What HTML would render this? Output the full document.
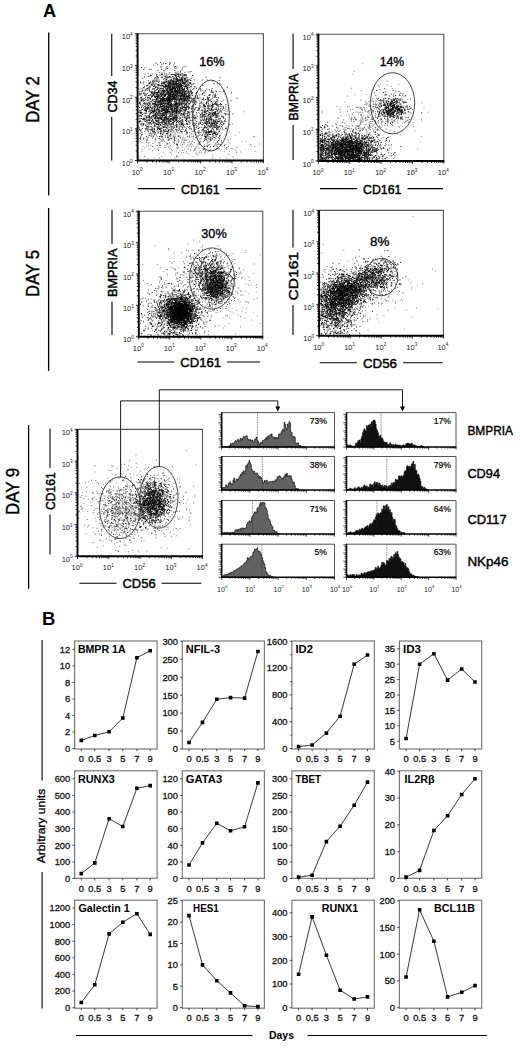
<!DOCTYPE html>
<html><head><meta charset="utf-8"><style>
html,body{margin:0;padding:0;background:#fff;}
svg{display:block;font-family:"Liberation Sans", sans-serif;}
</style></head><body>
<svg width="520" height="1051" viewBox="0 0 520 1051">
<defs><filter id="b35" x="-5%" y="-5%" width="110%" height="110%"><feGaussianBlur stdDeviation="0.35"/></filter><filter id="b50" x="-5%" y="-5%" width="110%" height="110%"><feGaussianBlur stdDeviation="0.5"/></filter></defs>
<rect width="520" height="1051" fill="#fff"/>
<text x="43" y="17.3" font-size="18.2" font-weight="bold">A</text>
<path d="M48.7 32.5L48.7 195.5" stroke="#000" stroke-width="1.3"/>
<text transform="translate(38.9 99.5) rotate(-90)" font-size="17.5" text-anchor="middle" textLength="46.5" lengthAdjust="spacingAndGlyphs" stroke="#000" stroke-width="0.4">DAY 2</text>
<path d="M48.6 208L48.6 371" stroke="#000" stroke-width="1.3"/>
<text transform="translate(39.35 273.4) rotate(-90)" font-size="17.5" text-anchor="middle" textLength="47" lengthAdjust="spacingAndGlyphs" stroke="#000" stroke-width="0.4">DAY 5</text>
<path d="M28.6 425L28.6 588.7" stroke="#000" stroke-width="1.3"/>
<text transform="translate(19.2 491.4) rotate(-90)" font-size="17.5" text-anchor="middle" textLength="47.3" lengthAdjust="spacingAndGlyphs" stroke="#000" stroke-width="0.4">DAY 9</text>
<g filter="url(#b35)">
<path transform="scale(.25)" d="M684 385h4M702 367h4M684 412h4M625 325h4M705 340h4M688 433h4M653 387h4M693 379h4M685 422h4M683 371h4M673 366h4M692 378h4M645 438h4M666 407h4M655 337h4M694 387h4M673 440h4M661 509h4M644 340h4M663 423h4M672 390h4M662 450h4M719 429h4M708 486h4M574 433h4M604 373h4M666 374h4M657 427h4M680 426h4M680 538h4M748 498h4M632 338h4M658 424h4M746 329h4M695 311h4M696 446h4M653 435h4M613 346h4M678 496h4M676 349h4M628 339h4M647 441h4M669 416h4M638 395h4M668 400h4M675 417h4M673 396h4M654 394h4M693 298h4M704 329h4M684 438h4M643 365h4M698 435h4M654 473h4M704 384h4M633 420h4M705 520h4M671 443h4M627 507h4M661 490h4M674 446h4M682 398h4M637 357h4M632 342h4M679 431h4M655 430h4M680 394h4M699 452h4M613 370h4M681 466h4M716 406h4M661 402h4M643 404h4M699 398h4M681 543h4M704 314h4M660 414h4M619 474h4M668 444h4M656 387h4M700 501h4M679 344h4M613 331h4M629 436h4M704 323h4M696 271h4M649 453h4M672 447h4M688 445h4M689 377h4M704 414h4M681 350h4M669 501h4M663 448h4M710 446h4M591 295h4M667 449h4M673 488h4M621 472h4M684 448h4M649 404h4M703 385h4M667 438h4M696 425h4M716 417h4M686 387h4M640 498h4M617 339h4M735 403h4M668 372h4M647 462h4M677 484h4M665 474h4M703 446h4M673 325h4M672 521h4M646 433h4M689 398h4M635 405h4M696 385h4M727 428h4M617 421h4M583 384h4M694 260h4M764 402h4M636 431h4M627 433h4M693 395h4M642 429h4M654 462h4M659 378h4M691 486h4M657 295h4M682 333h4M666 353h4M642 267h4M660 348h4M638 474h4M672 474h4M632 409h4M633 500h4M724 417h4M670 376h4M670 418h4M690 396h4M657 445h4M664 320h4M687 460h4M682 378h4M630 452h4M702 318h4M651 381h4M634 408h4M640 454h4M658 336h4M731 497h4M630 431h4M678 375h4M595 472h4M672 410h4M704 469h4M663 534h4M649 447h4M680 375h4M697 380h4M696 437h4M743 420h4M680 357h4M651 367h4M667 441h4M669 535h4M676 257h4M671 445h4M678 392h4M612 448h4M702 453h4M651 407h4M630 347h4M695 326h4M719 299h4M690 472h4M678 392h4M638 374h4M775 388h4M704 329h4M631 421h4M644 478h4M675 468h4M616 316h4M678 480h4M655 361h4M716 297h4M707 335h4M574 350h4M674 404h4M614 346h4M712 319h4M678 389h4M692 512h4M634 365h4M738 430h4M745 408h4M634 553h4M685 298h4M648 465h4M671 332h4M626 371h4M739 399h4M637 582h4M661 361h4M690 298h4M649 477h4M663 357h4M652 390h4M667 403h4M630 409h4M656 394h4M665 419h4M660 426h4M674 452h4M661 380h4M699 362h4M660 344h4M667 437h4M648 401h4M653 435h4M626 434h4M691 498h4M631 416h4M645 446h4M685 337h4M686 344h4M658 387h4M599 336h4M687 443h4M681 329h4M621 408h4M700 266h4M647 342h4M631 385h4M675 389h4M666 304h4M679 410h4M614 459h4M737 440h4M650 367h4M617 371h4M694 338h4M659 439h4M684 485h4M660 375h4M670 309h4M681 415h4M645 444h4M696 252h4M655 412h4M641 525h4M675 450h4M688 435h4M664 427h4M641 463h4M694 351h4M609 357h4M635 427h4M673 366h4M623 418h4M673 297h4M670 446h4M704 451h4M639 406h4M649 413h4M684 495h4M584 343h4M784 353h4M647 343h4M646 380h4M703 347h4M671 406h4M608 368h4M695 323h4M703 317h4M656 472h4M662 400h4M689 391h4M639 405h4M688 399h4M679 446h4M648 435h4M622 371h4M664 358h4M640 343h4M708 334h4M677 483h4M700 353h4M677 291h4M681 357h4M644 360h4M696 422h4M736 354h4M661 434h4M651 426h4M666 475h4M655 525h4M647 564h4M677 480h4M662 339h4M724 381h4M672 418h4M684 520h4M706 442h4M661 471h4M724 394h4M649 437h4M643 444h4M659 378h4M668 448h4M622 464h4M671 395h4M612 461h4M722 496h4M669 408h4M649 404h4M639 387h4M658 369h4M664 413h4M634 381h4M639 387h4M665 361h4M653 318h4M706 352h4M713 422h4M673 338h4M689 368h4M624 496h4M695 467h4M671 365h4M689 438h4M730 368h4M590 495h4M681 371h4M632 409h4M693 482h4M625 358h4M654 477h4M679 358h4M694 417h4M675 387h4M643 399h4M652 413h4M704 400h4M672 347h4M611 453h4M702 444h4M687 476h4M703 482h4M660 329h4M702 476h4M634 477h4M693 374h4M654 462h4M696 486h4M708 374h4M646 327h4M670 384h4M673 560h4M715 417h4M698 336h4M628 390h4M688 348h4M699 382h4M748 409h4M612 261h4M653 424h4M720 483h4M623 393h4M629 383h4M691 465h4M709 333h4M648 334h4M691 326h4M676 395h4M727 426h4M672 399h4M708 435h4M639 451h4M665 432h4M669 359h4M713 389h4M693 474h4M645 345h4M697 390h4M700 381h4M668 394h4M663 344h4M665 328h4M611 547h4M679 457h4M680 364h4M641 401h4M699 442h4M623 385h4M652 439h4M655 370h4M744 384h4M614 399h4M692 378h4M706 267h4M686 405h4M715 419h4M636 431h4M590 348h4M700 423h4M629 416h4M660 305h4M630 281h4M710 431h4M703 351h4M646 460h4M705 524h4M676 371h4M667 365h4M674 403h4M665 442h4M694 340h4M683 474h4M659 460h4M708 441h4M650 374h4M682 455h4M687 452h4M725 337h4M654 521h4M735 387h4M678 425h4M665 375h4M648 426h4M693 469h4M674 359h4M632 311h4M631 379h4M652 331h4M648 362h4M711 397h4M722 400h4M703 476h4M685 347h4M657 424h4M674 376h4M704 480h4M749 546h4M705 421h4M662 498h4M673 374h4M655 314h4M644 333h4M665 316h4M679 351h4M738 391h4M674 468h4M721 443h4M736 430h4M675 380h4M730 364h4M698 406h4M657 412h4M682 418h4M673 425h4M664 397h4M665 296h4M677 342h4M688 358h4M640 499h4M672 380h4M617 442h4M681 486h4M694 423h4M678 382h4M682 388h4M693 347h4M648 421h4M663 467h4M690 436h4M708 447h4M686 444h4M764 516h4M669 369h4M708 413h4M718 444h4M667 474h4M642 268h4M629 375h4M678 392h4M712 346h4M682 451h4M678 416h4M658 382h4M692 312h4M595 330h4M680 349h4M673 429h4M623 336h4M750 288h4M622 323h4M633 371h4M629 498h4M712 544h4M640 377h4M696 457h4M693 482h4M681 476h4M625 397h4M650 331h4M732 377h4M626 300h4M642 417h4M666 448h4M701 298h4M681 401h4M699 420h4M634 474h4M706 481h4M692 449h4M615 366h4M727 383h4M755 471h4M644 370h4M674 402h4M722 491h4M619 411h4M600 327h4M625 387h4M652 440h4M651 393h4M694 469h4M682 476h4M627 368h4M692 376h4M739 398h4M715 337h4M708 425h4M673 394h4M707 448h4M637 370h4M699 355h4M669 507h4M713 355h4M689 371h4M633 363h4M677 387h4M716 353h4M631 401h4M652 365h4M644 381h4M618 424h4M707 443h4M719 430h4M701 363h4M681 426h4M670 397h4M681 398h4M646 308h4M704 442h4M710 396h4M706 500h4M653 440h4M675 341h4M666 327h4M736 468h4M678 355h4M604 442h4M686 387h4M740 522h4M697 408h4M704 489h4M673 479h4M601 378h4M607 386h4M627 487h4M667 404h4M683 356h4M697 472h4M660 549h4M706 403h4M662 483h4M647 396h4M703 481h4M639 392h4M574 480h4M634 436h4M675 396h4M561 419h4M659 376h4M660 343h4M621 347h4M619 404h4M655 348h4M652 432h4M717 437h4M685 434h4M615 380h4M641 411h4M697 406h4M740 482h4M686 362h4M683 386h4M739 395h4M671 400h4M661 366h4M621 373h4M654 465h4M750 372h4M621 459h4M672 522h4M621 480h4M677 307h4M704 451h4M663 435h4M698 438h4M698 317h4M688 450h4M734 347h4M700 480h4M661 468h4M647 551h4M642 386h4M689 322h4M660 466h4M770 457h4M738 386h4M664 484h4M660 446h4M733 335h4M604 388h4M656 383h4M706 401h4M639 418h4M655 368h4M659 396h4M696 440h4M677 403h4M686 392h4M693 390h4M673 402h4M712 300h4M646 416h4M620 350h4M608 413h4M614 325h4M652 459h4M709 421h4M678 332h4M650 421h4M633 365h4M653 508h4M657 435h4M652 363h4M620 420h4M655 406h4M709 475h4M594 428h4M663 436h4M596 345h4M679 452h4M645 525h4M597 443h4M676 406h4M737 417h4M676 354h4M714 418h4M669 346h4M594 410h4M690 386h4M657 361h4M619 440h4M700 324h4M682 406h4M653 334h4M703 510h4M641 518h4M695 455h4M638 514h4M691 441h4M632 438h4M726 384h4M681 358h4M724 415h4M642 378h4M655 383h4M702 449h4M573 401h4M634 320h4M709 396h4M689 365h4M707 391h4M661 346h4M692 475h4M646 514h4M623 345h4M611 444h4M652 441h4M652 347h4M649 413h4M566 487h4M600 455h4M653 498h4M682 342h4M651 366h4M640 424h4M589 427h4M745 409h4M632 386h4M733 384h4M728 373h4M682 432h4M651 253h4M677 497h4M630 377h4M681 327h4M672 437h4M691 328h4M706 428h4M734 384h4M658 440h4M710 451h4M643 479h4M640 379h4M650 390h4M637 406h4M707 327h4M705 439h4M718 413h4M671 331h4M682 474h4M651 483h4M631 332h4M688 438h4M682 476h4M632 453h4M693 351h4M609 328h4M666 399h4M649 378h4M653 405h4M633 400h4M706 435h4M692 374h4M715 397h4M677 572h4M625 398h4M658 447h4M629 422h4M688 418h4M715 354h4M683 435h4M650 403h4M658 451h4M679 520h4M619 416h4M677 448h4M679 348h4M652 412h4M656 492h4M678 402h4M642 370h4M642 417h4M699 395h4M679 392h4M732 384h4M636 517h4M607 356h4M705 382h4M706 373h4M645 475h4M618 390h4M669 478h4M608 415h4M659 404h4M592 323h4M662 473h4M595 435h4M662 428h4M725 399h4M661 382h4M698 334h4M648 458h4M639 420h4M617 385h4M708 370h4M669 412h4M729 400h4M628 497h4M662 449h4M673 372h4M721 343h4M736 392h4M647 354h4M630 409h4M608 428h4M718 441h4M667 429h4M647 395h4M668 439h4M578 356h4M608 401h4M704 451h4M684 422h4M676 334h4M634 341h4M691 315h4M734 507h4M626 319h4M671 398h4M654 509h4M683 466h4M671 480h4M665 378h4M638 447h4M669 576h4M648 404h4M665 429h4M668 388h4M694 405h4M649 427h4M658 484h4M709 356h4M662 326h4M661 407h4M701 417h4M680 485h4M673 446h4M678 371h4M625 438h4M687 469h4M718 422h4M691 387h4M614 444h4M680 386h4M638 301h4M662 481h4M675 334h4M627 387h4M719 388h4M668 387h4M699 390h4M693 325h4M719 435h4M713 407h4M618 408h4M672 466h4M594 467h4M655 481h4M696 509h4M704 431h4M717 319h4M657 417h4M682 406h4M674 409h4M716 372h4M728 356h4M658 450h4M807 460h4M671 343h4M658 436h4M692 396h4M698 384h4M691 444h4M648 403h4M724 374h4M673 409h4M726 294h4M721 372h4M625 381h4M636 327h4M635 415h4M680 420h4M673 371h4M681 396h4M642 443h4M687 464h4M722 362h4M623 424h4M664 463h4M680 403h4M667 361h4M664 362h4M735 386h4M718 347h4M702 517h4M644 372h4M752 425h4M684 415h4M651 440h4M659 383h4M654 331h4M748 496h4M679 400h4M674 411h4M594 415h4M698 475h4M633 447h4M631 470h4M694 450h4M640 413h4M702 418h4M712 362h4M607 296h4M667 391h4M615 344h4M669 549h4M704 491h4M622 470h4M736 373h4M660 519h4M629 309h4M667 336h4M700 360h4M622 350h4M671 412h4M622 415h4M715 511h4M677 460h4M656 472h4M709 428h4M625 396h4M657 366h4M738 320h4M667 355h4M720 383h4M678 447h4M646 310h4M662 328h4M674 416h4M657 345h4M642 423h4M643 381h4M618 362h4M675 329h4M685 399h4M698 363h4M606 370h4M700 368h4M671 415h4M620 412h4M675 308h4M701 395h4M690 426h4M697 462h4M705 448h4M703 416h4M670 340h4M596 361h4M644 455h4M684 365h4M654 461h4M696 475h4M700 345h4M673 429h4M739 398h4M636 518h4M705 451h4M654 375h4M643 427h4M692 353h4M649 396h4M702 415h4M629 412h4M673 421h4M641 353h4M663 300h4M658 384h4M631 354h4M695 365h4M626 524h4M636 469h4M703 394h4M706 324h4M695 331h4M684 424h4M753 464h4M628 388h4M645 412h4M636 418h4M704 464h4M682 299h4M711 413h4M706 427h4M663 457h4M642 426h4M636 342h4M751 371h4M706 319h4M693 415h4M659 415h4M664 433h4M659 350h4M660 340h4M585 489h4M669 414h4M658 502h4M682 429h4M679 322h4M702 449h4M671 473h4M700 379h4M579 296h4M632 441h4M734 396h4M628 420h4M661 254h4M697 430h4M640 250h4M698 355h4M620 454h4M603 302h4M624 300h4M612 379h4M671 496h4M660 494h4M683 370h4M634 460h4M763 436h4M668 419h4M670 424h4M688 363h4M663 449h4M649 463h4M675 555h4M705 455h4M695 267h4M705 336h4M651 422h4M644 408h4M744 300h4M663 396h4M689 384h4M698 401h4M723 397h4M623 455h4M654 486h4M656 442h4M661 342h4M585 355h4M668 367h4M567 401h4M682 380h4M691 384h4M693 352h4M628 457h4M706 451h4M641 457h4M627 399h4M636 429h4M641 353h4M678 347h4M701 373h4M596 437h4M652 395h4M704 340h4M679 409h4M690 428h4M618 413h4M706 367h4M616 407h4M679 380h4M721 386h4M740 399h4M690 446h4M704 506h4M650 491h4M655 439h4M714 382h4M672 387h4M667 389h4M621 468h4M677 249h4M695 418h4M643 292h4M654 404h4M729 478h4M678 353h4M662 276h4M631 477h4M650 488h4M663 432h4M721 474h4M650 359h4M737 470h4M639 499h4M659 440h4M702 420h4M663 476h4M642 467h4M667 362h4M688 480h4M610 446h4M663 413h4M668 477h4M657 456h4M698 446h4M652 376h4M659 451h4M673 342h4M698 397h4M664 309h4M727 309h4M639 429h4M718 399h4M641 409h4M666 437h4M685 424h4M746 354h4M704 408h4M657 400h4M719 375h4M664 397h4M644 384h4M688 368h4M675 385h4M706 417h4M652 520h4M686 358h4M695 433h4M682 322h4M671 493h4M647 385h4M705 412h4M677 476h4M690 459h4M659 320h4M672 435h4M635 391h4M675 439h4M700 413h4M675 445h4M703 420h4M683 396h4M721 470h4M665 318h4M613 380h4M688 350h4M666 396h4M637 380h4M695 396h4M682 377h4M688 378h4M660 312h4M679 402h4M681 421h4M736 371h4M647 367h4M672 368h4M685 498h4M610 415h4M614 426h4M750 387h4M608 376h4M693 355h4M641 490h4M645 309h4M601 421h4M640 403h4M700 390h4M622 316h4M693 335h4M683 459h4M745 365h4M655 453h4M717 442h4M704 436h4M662 447h4M612 336h4M726 377h4M623 442h4M655 333h4M704 497h4M712 373h4M642 400h4M671 347h4M663 424h4M715 363h4M762 390h4M606 340h4M705 471h4M569 313h4M673 429h4M632 417h4M744 429h4M678 347h4M645 462h4M654 458h4M651 413h4M679 422h4M666 395h4M696 440h4M727 358h4M697 435h4M628 427h4M614 325h4M645 257h4M710 397h4M703 343h4M742 325h4M710 342h4M694 320h4M670 396h4M706 372h4M692 337h4M677 400h4M705 390h4M738 365h4M711 333h4M679 358h4M717 368h4M677 394h4M664 344h4M722 332h4M693 422h4M739 394h4M717 360h4M685 321h4M714 365h4M744 385h4M703 374h4M678 376h4M689 351h4M685 386h4M675 331h4M672 336h4M720 334h4M739 329h4M698 411h4M730 296h4M733 357h4M755 318h4M703 310h4M698 353h4M720 300h4M711 347h4M716 422h4M744 346h4M696 364h4M714 322h4M681 365h4M704 302h4M689 355h4M687 345h4M702 418h4M695 346h4M718 337h4M731 331h4M666 311h4M736 373h4M646 395h4M715 337h4M728 371h4M690 337h4M702 361h4M686 363h4M733 303h4M619 324h4M681 378h4M654 288h4M713 349h4M744 338h4M741 319h4M727 350h4M715 358h4M687 366h4M742 265h4M725 402h4M684 333h4M672 382h4M690 344h4M738 330h4M743 346h4M753 449h4M686 398h4M698 337h4M747 356h4M714 384h4M729 367h4M671 351h4M698 342h4M708 314h4M698 372h4M696 383h4M662 419h4M754 331h4M712 369h4M667 347h4M738 388h4M710 345h4M728 327h4M703 294h4M686 371h4M687 353h4M718 384h4M730 331h4M722 431h4M727 325h4M742 365h4M717 361h4M737 383h4M740 343h4M717 319h4M707 317h4M697 374h4M675 351h4M665 359h4M746 322h4M709 353h4M694 355h4M753 368h4M736 301h4M711 323h4M737 403h4M704 335h4M719 345h4M760 335h4M739 300h4M702 314h4M729 360h4M743 326h4M706 413h4M698 300h4M762 286h4M701 335h4M673 309h4M714 392h4M774 334h4M728 365h4M737 303h4M650 369h4M695 368h4M745 387h4M700 355h4M748 364h4M725 353h4M723 377h4M759 335h4M697 365h4M699 330h4M715 370h4M718 339h4M664 327h4M746 326h4M718 395h4M707 298h4M729 300h4M701 368h4M746 316h4M714 333h4M732 332h4M687 421h4M704 326h4M722 325h4M685 335h4M693 355h4M710 364h4M743 301h4M733 362h4M737 410h4M720 291h4M737 366h4M755 372h4M716 353h4M724 342h4M728 272h4M655 386h4M709 337h4M723 341h4M733 387h4M702 273h4M739 346h4M693 367h4M706 371h4M758 367h4M673 413h4M709 357h4M707 380h4M709 373h4M696 300h4M729 323h4M681 415h4M674 339h4M724 346h4M677 306h4M721 337h4M711 306h4M691 328h4M701 366h4M708 321h4M723 328h4M693 391h4M704 363h4M670 364h4M702 380h4M656 330h4M709 335h4M697 282h4M768 371h4M746 341h4M706 348h4M736 313h4M718 368h4M677 368h4M642 354h4M740 297h4M720 321h4M655 347h4M727 321h4M735 360h4M690 380h4M731 324h4M661 342h4M703 326h4M710 381h4M731 377h4M720 433h4M715 348h4M724 318h4M691 361h4M750 341h4M699 354h4M731 388h4M709 339h4M702 371h4M725 280h4M721 382h4M746 352h4M739 340h4M693 332h4M723 393h4M712 332h4M686 389h4M678 332h4M716 350h4M694 360h4M670 413h4M706 356h4M715 356h4M711 346h4M675 339h4M692 329h4M747 406h4M687 395h4M699 326h4M773 354h4M718 311h4M695 379h4M654 370h4M717 352h4M670 323h4M708 373h4M684 368h4M662 343h4M755 372h4M705 305h4M734 329h4M729 318h4M688 352h4M711 402h4M698 350h4M735 385h4M720 347h4M698 335h4M755 381h4M723 366h4M721 394h4M686 380h4M720 322h4M667 267h4M721 353h4M682 311h4M713 303h4M700 301h4M714 328h4M718 342h4M706 348h4M706 414h4M666 309h4M655 348h4M743 308h4M724 316h4M667 350h4M761 362h4M688 307h4M722 385h4M720 318h4M711 379h4M725 346h4M670 377h4M707 366h4M701 339h4M710 363h4M700 305h4M690 307h4M688 337h4M733 392h4M684 324h4M718 329h4M718 401h4M705 349h4M720 348h4M723 314h4M693 350h4M717 367h4M761 346h4M678 373h4M700 359h4M687 382h4M764 375h4M669 344h4M708 376h4M734 406h4M684 358h4M704 309h4M688 354h4M670 342h4M706 431h4M722 372h4M697 313h4M713 342h4M727 395h4M741 311h4M673 332h4M725 348h4M691 343h4M655 329h4M686 352h4M726 303h4M717 329h4M677 329h4M753 338h4M719 338h4M706 348h4M693 336h4M720 334h4M697 359h4M740 376h4M717 378h4M725 311h4M699 355h4M667 371h4M723 339h4M680 362h4M705 340h4M708 359h4M686 299h4M733 362h4M668 332h4M750 324h4M692 338h4M735 379h4M744 377h4M684 355h4M687 375h4M734 334h4M713 307h4M710 288h4M657 346h4M662 343h4M723 348h4M748 349h4M688 386h4M684 318h4M714 322h4M721 408h4M724 372h4M696 337h4M654 282h4M749 320h4M694 336h4M743 344h4M653 353h4M718 340h4M694 384h4M678 309h4M735 338h4M744 325h4M692 372h4M726 353h4M678 372h4M691 349h4M701 467h4M698 370h4M726 323h4M674 347h4M735 334h4M735 371h4M702 378h4M675 359h4M642 341h4M706 326h4M688 398h4M711 383h4M679 253h4M708 349h4M706 320h4M708 335h4M716 402h4M716 311h4M735 314h4M686 426h4M728 332h4M712 340h4M696 384h4M680 331h4M748 349h4M715 356h4M694 393h4M710 296h4M708 321h4M694 344h4M670 377h4M712 327h4M704 363h4M700 332h4M735 335h4M672 389h4M682 340h4M713 443h4M731 359h4M725 384h4M728 372h4M647 298h4M722 299h4M720 364h4M727 313h4M689 330h4M722 337h4M736 319h4M753 386h4M715 373h4M671 354h4M710 366h4M726 319h4M722 376h4M761 321h4M703 398h4M680 327h4M691 330h4M726 385h4M686 369h4M679 317h4M685 367h4M742 348h4M715 349h4M699 368h4M732 368h4M727 381h4M681 364h4M731 359h4M715 345h4M651 396h4M675 323h4M716 409h4M722 418h4M700 418h4M681 344h4M715 416h4M658 385h4M724 383h4M704 454h4M708 355h4M690 367h4M731 308h4M644 277h4M684 358h4M724 362h4M689 371h4M749 358h4M720 285h4M687 360h4M739 384h4M706 399h4M725 318h4M692 320h4M692 326h4M729 328h4M712 296h4M688 326h4M685 399h4M727 314h4M758 288h4M686 339h4M728 332h4M629 370h4M671 324h4M728 342h4M753 321h4M711 317h4M724 360h4M716 352h4M737 346h4M679 365h4M727 321h4M697 349h4M700 354h4M709 386h4M698 419h4M735 316h4M755 417h4M730 400h4M746 393h4M760 384h4M755 455h4M702 481h4M715 384h4M676 398h4M760 330h4M749 386h4M776 439h4M745 401h4M716 423h4M770 401h4M712 411h4M744 438h4M739 443h4M763 313h4M766 396h4M734 267h4M726 407h4M743 381h4M730 379h4M767 482h4M753 424h4M777 462h4M807 437h4M723 488h4M729 396h4M755 395h4M754 403h4M736 525h4M703 387h4M805 409h4M746 474h4M716 452h4M686 384h4M778 492h4M752 431h4M744 477h4M719 437h4M741 445h4M734 372h4M684 476h4M808 374h4M754 412h4M736 460h4M720 392h4M729 414h4M802 408h4M753 416h4M712 436h4M765 336h4M756 383h4M757 507h4M741 314h4M740 377h4M749 446h4M739 320h4M710 367h4M720 369h4M744 483h4M705 366h4M740 438h4M736 378h4M761 409h4M748 354h4M737 337h4M737 386h4M754 342h4M766 400h4M718 414h4M707 428h4M726 481h4M688 476h4M725 355h4M764 372h4M767 489h4M781 405h4M745 389h4M748 459h4M729 378h4M731 453h4M751 393h4M766 470h4M754 401h4M695 447h4M756 459h4M744 486h4M729 370h4M747 390h4M765 340h4M747 325h4M726 384h4M825 416h4M728 468h4M755 388h4M774 500h4M723 417h4M757 450h4M723 396h4M737 348h4M725 484h4M786 394h4M710 461h4M756 390h4M744 436h4M696 400h4M786 391h4M730 401h4M737 441h4M749 350h4M722 361h4M725 455h4M743 372h4M722 416h4M746 343h4M774 397h4M719 460h4M705 412h4M740 418h4M753 389h4M760 412h4M717 322h4M686 329h4M765 427h4M761 322h4M780 470h4M720 448h4M757 349h4M768 302h4M699 291h4M769 422h4M778 402h4M757 472h4M756 430h4M761 482h4M737 449h4M709 361h4M721 398h4M739 366h4M723 392h4M768 382h4M734 396h4M741 472h4M701 380h4M753 349h4M726 376h4M780 384h4M702 379h4M751 399h4M734 386h4M735 460h4M784 451h4M767 370h4M723 454h4M777 474h4M728 407h4M763 367h4M702 428h4M736 403h4M736 423h4M736 356h4M705 508h4M698 398h4M743 433h4M758 379h4M744 415h4M735 298h4M707 345h4M737 289h4M730 455h4M726 341h4M748 333h4M748 462h4M753 385h4M737 400h4M723 460h4M739 432h4M736 423h4M704 440h4M735 315h4M704 471h4M696 472h4M724 497h4M728 308h4M760 368h4M736 382h4M756 491h4M778 436h4M746 494h4M753 431h4M727 378h4M763 347h4M745 382h4M745 476h4M716 368h4M721 324h4M727 423h4M746 475h4M770 526h4M707 469h4M735 456h4M736 323h4M798 391h4M739 391h4M730 416h4M761 365h4M717 447h4M756 469h4M703 414h4M792 395h4M742 418h4M733 427h4M712 447h4M740 368h4M745 478h4M726 411h4M772 400h4M735 442h4M746 375h4M750 451h4M776 512h4M734 430h4M745 419h4M750 386h4M758 480h4M699 463h4M771 336h4M741 455h4M726 376h4M743 352h4M697 405h4M725 376h4M748 464h4M776 347h4M742 346h4M753 362h4M736 401h4M764 436h4M734 355h4M755 373h4M736 332h4M720 398h4M720 359h4M728 512h4M771 500h4M820 363h4M739 414h4M726 428h4M756 381h4M755 389h4M731 438h4M790 394h4M765 393h4M766 406h4M745 467h4M747 395h4M767 426h4M710 419h4M725 442h4M746 398h4M709 384h4M783 374h4M729 419h4M734 414h4M752 395h4M780 418h4M743 521h4M726 445h4M722 319h4M750 470h4M730 414h4M801 359h4M774 472h4M668 404h4M722 456h4M752 378h4M800 458h4M696 394h4M733 454h4M773 447h4M727 352h4M746 425h4M732 430h4M760 405h4M718 322h4M745 421h4M709 392h4M767 465h4M759 356h4M743 455h4M745 414h4M745 530h4M735 359h4M748 453h4M753 382h4M742 362h4M730 459h4M734 437h4M733 458h4M755 330h4M748 350h4M791 436h4M740 367h4M746 471h4M729 488h4M746 402h4M733 409h4M723 409h4M748 394h4M782 406h4M723 397h4M728 429h4M743 392h4M750 383h4M775 394h4M728 379h4M741 404h4M725 434h4M723 507h4M732 330h4M717 342h4M754 405h4M769 410h4M731 406h4M727 498h4M775 320h4M738 401h4M779 347h4M674 393h4M739 433h4M719 339h4M731 457h4M763 367h4M769 358h4M739 329h4M766 374h4M716 372h4M750 448h4M740 333h4M703 418h4M765 448h4M727 396h4M754 445h4M725 375h4M748 428h4M758 392h4M743 512h4M732 394h4M758 394h4M749 427h4M733 383h4M745 399h4M742 424h4M735 450h4M765 379h4M785 411h4M731 400h4M741 441h4M721 447h4M712 427h4M771 421h4M728 494h4M752 366h4M711 487h4M728 434h4M755 334h4M755 414h4M749 340h4M753 402h4M749 311h4M768 443h4M784 370h4M757 487h4M741 373h4M719 411h4M732 343h4M736 402h4M778 410h4M706 432h4M724 527h4M719 487h4M764 446h4M727 393h4M699 395h4M694 394h4M751 368h4M704 441h4M770 406h4M769 434h4M716 397h4M735 427h4M744 494h4M707 426h4M714 454h4M728 369h4M742 403h4M604 468h4M646 472h4M636 411h4M590 462h4M639 404h4M629 371h4M621 417h4M680 437h4M581 519h4M676 392h4M657 510h4M632 328h4M645 416h4M585 563h4M658 402h4M556 368h4M570 361h4M650 557h4M571 498h4M721 390h4M641 396h4M668 274h4M671 413h4M606 517h4M626 307h4M648 489h4M625 462h4M701 519h4M675 392h4M636 441h4M686 507h4M629 455h4M663 469h4M633 407h4M613 415h4M580 391h4M591 433h4M628 428h4M645 411h4M605 341h4M652 422h4M617 497h4M571 373h4M575 395h4M705 424h4M557 485h4M608 527h4M663 443h4M656 379h4M672 409h4M751 436h4M563 373h4M620 492h4M641 402h4M596 334h4M649 424h4M589 360h4M596 459h4M584 507h4M621 460h4M646 418h4M670 377h4M618 398h4M572 555h4M600 491h4M598 366h4M604 371h4M651 450h4M616 434h4M627 435h4M625 466h4M618 364h4M600 381h4M658 490h4M618 449h4M617 415h4M568 424h4M588 469h4M593 448h4M649 390h4M657 478h4M628 357h4M587 553h4M581 361h4M646 393h4M632 496h4M588 435h4M577 271h4M618 423h4M591 305h4M643 400h4M596 482h4M608 478h4M681 438h4M610 446h4M597 468h4M623 407h4M559 408h4M620 460h4M593 504h4M665 454h4M653 481h4M631 474h4M595 534h4M611 467h4M593 403h4M661 408h4M557 374h4M633 445h4M621 389h4M566 353h4M650 470h4M604 520h4M710 335h4M676 489h4M617 444h4M602 370h4M587 390h4M585 420h4M635 569h4M667 526h4M654 395h4M614 495h4M656 480h4M730 391h4M634 396h4M703 461h4M606 336h4M591 430h4M668 353h4M666 457h4M620 473h4M597 455h4M624 420h4M625 399h4M680 380h4M660 395h4M630 406h4M609 400h4M575 442h4M630 390h4M666 471h4M620 386h4M561 331h4M647 376h4M577 410h4M598 418h4M563 443h4M584 546h4M628 352h4M616 527h4M634 441h4M585 412h4M647 296h4M557 414h4M592 470h4M605 339h4M593 352h4M610 441h4M647 433h4M682 526h4M563 401h4M608 479h4M707 417h4M682 496h4M642 413h4M678 462h4M661 354h4M589 374h4M654 397h4M676 362h4M658 402h4M616 518h4M601 416h4M734 445h4M633 525h4M646 432h4M653 401h4M632 498h4M579 486h4M682 554h4M620 556h4M651 342h4M642 478h4M586 559h4M634 451h4M686 442h4M567 363h4M570 501h4M576 372h4M656 443h4M598 413h4M634 461h4M675 407h4M566 407h4M691 495h4M621 431h4M612 488h4M693 393h4M642 522h4M557 465h4M617 507h4M583 480h4M633 338h4M597 278h4M604 497h4M666 404h4M558 408h4M633 382h4M609 399h4M635 451h4M555 486h4M574 415h4M600 301h4M699 468h4M560 450h4M566 395h4M611 354h4M635 352h4M590 507h4M624 395h4M701 417h4M604 485h4M626 376h4M750 356h4M593 420h4M560 328h4M572 351h4M700 460h4M611 526h4M582 443h4M618 333h4M618 370h4M668 443h4M655 423h4M638 576h4M643 546h4M581 414h4M560 558h4M640 375h4M645 375h4M628 518h4M634 369h4M650 398h4M565 529h4M604 407h4M579 514h4M646 407h4M609 471h4M640 501h4M650 483h4M577 382h4M692 490h4M635 291h4M669 413h4M701 435h4M597 489h4M590 515h4M629 350h4M673 398h4M675 424h4M689 454h4M599 470h4M644 473h4M556 411h4M578 625h4M638 361h4M659 526h4M594 482h4M633 480h4M627 509h4M593 422h4M683 440h4M732 502h4M650 532h4M626 403h4M609 435h4M664 489h4M623 360h4M723 492h4M653 394h4M649 481h4M604 451h4M577 525h4M616 373h4M630 470h4M643 418h4M630 393h4M607 492h4M622 377h4M598 480h4M572 373h4M578 363h4M644 477h4M655 565h4M610 463h4M613 377h4M646 454h4M613 416h4M771 394h4M626 447h4M595 466h4M630 371h4M669 532h4M617 415h4M680 336h4M592 382h4M615 440h4M611 381h4M584 445h4M574 494h4M558 442h4M656 416h4M612 491h4M615 375h4M592 422h4M666 467h4M579 454h4M701 434h4M672 484h4M586 399h4M610 430h4M650 378h4M680 427h4M582 360h4M596 360h4M740 430h4M664 369h4M663 476h4M713 489h4M641 465h4M598 476h4M661 339h4M566 364h4M652 450h4M562 365h4M597 389h4M619 428h4M560 449h4M594 335h4M580 432h4M626 482h4M560 453h4M607 521h4M686 402h4M687 507h4M711 560h4M640 474h4M600 491h4M636 492h4M654 300h4M633 389h4M690 496h4M588 354h4M610 449h4M564 464h4M600 507h4M680 423h4M623 483h4M656 430h4M641 526h4M666 392h4M580 398h4M646 454h4M653 531h4M676 446h4M687 429h4M596 393h4M589 389h4M684 415h4M572 413h4M557 379h4M558 380h4M655 442h4M583 433h4M590 341h4M675 377h4M665 392h4M662 432h4M583 380h4M560 548h4M637 446h4M704 503h4M603 450h4M607 445h4M563 474h4M703 409h4M610 321h4M617 385h4M591 509h4M650 376h4M723 439h4M581 432h4M627 396h4M602 407h4M588 420h4M642 441h4M694 446h4M641 433h4M600 430h4M645 297h4M631 513h4M659 472h4M594 355h4M627 380h4M699 302h4M621 253h4M667 403h4M620 531h4M623 440h4M584 444h4M757 435h4M678 466h4M677 429h4M676 382h4M571 396h4M584 472h4M611 407h4M577 464h4M660 445h4M577 438h4M615 432h4M615 425h4M618 384h4M583 448h4M664 401h4M640 425h4M566 437h4M585 453h4M616 472h4M697 563h4M576 415h4M667 432h4M616 439h4M620 480h4M647 380h4M668 427h4M628 473h4M610 375h4M621 405h4M564 430h4M571 478h4M651 354h4M632 515h4M576 474h4M647 468h4M626 313h4M558 451h4M607 385h4M557 475h4M578 426h4M634 405h4M561 376h4M560 417h4M638 472h4M571 333h4M607 386h4M608 416h4M612 419h4M638 403h4M599 443h4M583 436h4M598 305h4M676 492h4M665 346h4M617 501h4M679 478h4M654 325h4M568 438h4M693 513h4M755 515h4M637 442h4M566 385h4M692 504h4M649 341h4M615 342h4M615 359h4M606 465h4M605 367h4M600 394h4M666 501h4M600 427h4M641 470h4M572 404h4M620 390h4M577 376h4M622 456h4M618 459h4M629 532h4M604 449h4M651 416h4M555 462h4M601 518h4M694 345h4M600 532h4M694 383h4M637 384h4M609 586h4M625 498h4M697 399h4M605 483h4M567 514h4M644 473h4M655 498h4M661 454h4M639 363h4M623 370h4M608 443h4M597 351h4M643 472h4M617 427h4M618 503h4M716 486h4M623 407h4M564 270h4M576 345h4M583 432h4M672 433h4M709 467h4M590 431h4M664 272h4M584 468h4M587 417h4M617 474h4M679 429h4M681 609h4M645 299h4M607 384h4M678 435h4M703 409h4M583 471h4M633 485h4M617 461h4M589 436h4M563 390h4M580 443h4M625 486h4M632 439h4M627 306h4M682 533h4M587 402h4M559 485h4M563 402h4M639 497h4M594 413h4M560 522h4M664 511h4M687 394h4M629 257h4M651 453h4M555 491h4M628 455h4M630 410h4M611 375h4M606 381h4M590 520h4M689 490h4M579 419h4M614 452h4M670 487h4M571 421h4M627 324h4M615 532h4M650 413h4M562 396h4M606 434h4M582 375h4M672 367h4M617 446h4M593 390h4M663 458h4M651 457h4M669 551h4M672 417h4M657 438h4M593 400h4M634 504h4M634 462h4M637 456h4M636 546h4M624 450h4M600 449h4M617 354h4M573 328h4M577 402h4M655 439h4M605 367h4M624 376h4M594 479h4M601 398h4M698 413h4M615 368h4M587 485h4M653 519h4M597 496h4M591 526h4M640 425h4M627 516h4M622 395h4M653 483h4M598 541h4M621 471h4M578 442h4M579 425h4M584 467h4M666 424h4M654 365h4M572 473h4M605 535h4M626 460h4M581 501h4M652 509h4M582 439h4M604 432h4M604 388h4M564 450h4M578 380h4M677 419h4M648 500h4M641 397h4M590 481h4M597 459h4M622 418h4M633 490h4M586 433h4M583 442h4M683 460h4M594 466h4M580 463h4M659 479h4M598 407h4M664 525h4M573 431h4M710 426h4M616 515h4M626 497h4M608 325h4M617 437h4M621 483h4M604 469h4M679 337h4M561 390h4M602 474h4M613 489h4M689 458h4M646 435h4M620 388h4M581 501h4M714 305h4M661 469h4M742 473h4M564 455h4M702 436h4M615 445h4M579 477h4M626 397h4M625 481h4M605 437h4M560 442h4M603 277h4M558 356h4M624 423h4M554 396h4M630 491h4M600 347h4M666 508h4M582 484h4M555 449h4M632 366h4M809 363h4M589 435h4M693 476h4M651 478h4M680 500h4M634 497h4M642 394h4M621 403h4M565 500h4M629 387h4M572 497h4M649 439h4M611 449h4M622 387h4M706 292h4M577 452h4M647 462h4M559 485h4M730 461h4M563 393h4M688 336h4M598 428h4M566 494h4M587 430h4M657 363h4M607 335h4M573 278h4M622 447h4M613 463h4M657 306h4M646 399h4M590 521h4M576 308h4M615 525h4M605 505h4M625 487h4M563 466h4M619 466h4M573 474h4M640 535h4M626 370h4M601 330h4M667 450h4M572 498h4M590 393h4M609 462h4M632 449h4M587 506h4M588 480h4M560 462h4M663 396h4M589 413h4M591 490h4M585 515h4M655 399h4M664 493h4M563 425h4M616 461h4M644 333h4M595 382h4M647 507h4M666 487h4M561 524h4M669 527h4M594 541h4M631 510h4M558 415h4M670 524h4M632 363h4M682 418h4M568 458h4M587 341h4M555 509h4M556 430h4M621 310h4M567 398h4M610 485h4M577 476h4M627 384h4M650 360h4M862 490h4M821 556h4M802 481h4M834 433h4M824 533h4M851 502h4M896 483h4M869 518h4M855 460h4M856 533h4M799 354h4M866 502h4M850 426h4M823 493h4M842 428h4M838 381h4M862 500h4M830 396h4M878 335h4M846 458h4M830 545h4M886 571h4M840 557h4M845 364h4M813 468h4M880 416h4M844 482h4M861 364h4M836 506h4M853 482h4M806 543h4M831 539h4M807 476h4M835 380h4M866 503h4M829 433h4M842 473h4M850 537h4M894 362h4M869 454h4M796 415h4M884 483h4M794 496h4M800 489h4M850 494h4M891 425h4M820 437h4M808 465h4M834 481h4M849 464h4M884 418h4M846 452h4M832 480h4M831 406h4M848 418h4M858 498h4M814 598h4M838 479h4M866 408h4M910 560h4M858 501h4M777 413h4M826 487h4M856 493h4M833 529h4M878 418h4M836 530h4M859 449h4M858 487h4M830 402h4M828 540h4M833 483h4M811 421h4M845 495h4M823 511h4M843 524h4M811 518h4M891 365h4M859 409h4M884 466h4M824 480h4M832 400h4M858 530h4M854 496h4M853 369h4M868 400h4M858 536h4M878 366h4M828 587h4M873 562h4M739 398h4M853 492h4M836 527h4M829 390h4M843 361h4M841 553h4M855 454h4M813 371h4M826 529h4M855 528h4M828 491h4M831 462h4M859 411h4M849 371h4M827 509h4M820 493h4M859 383h4M866 413h4M862 418h4M859 438h4M835 458h4M819 546h4M841 468h4M839 526h4M825 469h4M851 520h4M929 456h4M828 517h4M833 423h4M864 367h4M822 524h4M831 392h4M830 399h4M841 549h4M867 446h4M859 469h4M801 480h4M834 494h4M814 522h4M852 450h4M829 411h4M875 520h4M900 458h4M834 436h4M849 501h4M866 505h4M823 477h4M800 346h4M857 583h4M852 462h4M787 384h4M840 497h4M828 540h4M824 532h4M843 488h4M800 493h4M801 364h4M879 311h4M861 537h4M840 479h4M845 478h4M851 377h4M843 561h4M912 430h4M825 512h4M860 384h4M809 342h4M861 477h4M894 494h4M841 400h4M820 604h4M795 435h4M876 544h4M822 530h4M849 384h4M863 493h4M815 418h4M845 478h4M883 460h4M818 523h4M835 425h4M844 499h4M795 511h4M830 532h4M870 422h4M903 508h4M816 511h4M845 530h4M854 335h4M835 359h4M825 356h4M837 436h4M830 394h4M819 441h4M836 451h4M839 526h4M777 518h4M847 437h4M838 457h4M845 365h4M785 431h4M902 454h4M844 436h4M796 577h4M875 322h4M862 431h4M827 464h4M880 513h4M860 486h4M814 369h4M824 410h4M856 493h4M892 472h4M831 529h4M885 498h4M849 454h4M822 446h4M883 506h4M817 426h4M838 450h4M781 531h4M834 441h4M868 492h4M807 320h4M798 421h4M890 466h4M863 496h4M822 457h4M842 469h4M901 418h4M809 461h4M873 509h4M860 412h4M855 388h4M841 522h4M867 569h4M817 545h4M847 429h4M885 451h4M839 442h4M849 498h4M871 512h4M795 425h4M782 502h4M885 489h4M854 550h4M859 459h4M831 486h4M846 368h4M868 443h4M842 503h4M827 396h4M817 421h4M799 465h4M771 448h4M832 415h4M830 436h4M917 498h4M825 547h4M810 520h4M900 485h4M822 545h4M834 382h4M873 532h4M874 473h4M874 463h4M864 432h4M816 468h4M825 494h4M831 431h4M863 415h4M837 492h4M877 555h4M853 533h4M855 531h4M779 431h4M850 441h4M815 447h4M872 576h4M841 443h4M868 535h4M866 515h4M829 421h4M825 495h4M878 547h4M886 508h4M822 485h4M798 532h4M872 391h4M803 442h4M845 473h4M784 511h4M879 541h4M858 436h4M834 474h4M809 539h4M762 536h4M844 436h4M866 419h4M853 450h4M807 491h4M868 335h4M856 550h4M799 459h4M795 528h4M817 554h4M883 447h4M827 388h4M899 375h4M884 563h4M796 433h4M839 468h4M946 393h4M846 441h4M868 485h4M857 499h4M838 469h4M824 412h4M855 457h4M860 454h4M865 538h4M872 436h4M813 400h4M818 493h4M870 418h4M851 543h4M789 544h4M817 449h4M918 447h4M835 507h4M838 378h4M857 528h4M861 544h4M804 483h4M825 475h4M893 434h4M817 422h4M848 492h4M889 488h4M843 438h4M844 527h4M819 450h4M823 526h4M880 415h4M863 489h4M854 506h4M831 527h4M895 454h4M899 473h4M851 478h4M821 533h4M813 421h4M914 459h4M924 371h4M826 563h4M852 482h4M785 452h4M821 465h4M904 515h4M870 453h4M871 486h4M836 390h4M814 400h4M836 537h4M880 474h4M857 380h4M865 477h4M865 515h4M823 558h4M849 427h4M818 481h4M813 425h4M860 376h4M806 415h4M891 467h4M852 440h4M805 456h4M828 442h4M812 482h4M874 596h4M863 502h4M847 527h4M896 581h4M847 392h4M838 402h4M818 425h4M809 398h4M857 531h4M870 404h4M843 433h4M854 524h4M847 423h4M897 485h4M852 517h4M881 434h4M840 538h4M820 508h4M798 495h4M812 463h4M858 417h4M815 580h4M878 440h4M833 457h4M788 465h4M850 462h4M829 504h4M901 428h4M865 470h4M814 526h4M847 411h4M801 470h4M797 401h4M842 463h4M860 485h4M829 424h4M879 578h4M789 392h4M861 537h4M851 463h4M799 489h4M857 416h4M835 505h4M880 495h4M797 379h4M864 462h4M835 458h4M890 519h4M922 403h4M833 513h4M836 490h4M841 557h4M841 397h4M874 526h4M827 320h4M821 398h4M842 453h4M844 406h4M887 513h4M827 443h4M826 476h4M861 468h4M859 510h4M813 431h4M833 528h4M802 460h4M866 495h4M818 506h4M823 500h4M831 427h4M815 440h4M845 438h4M870 485h4M852 483h4M907 350h4M847 355h4M792 514h4M842 407h4M825 496h4M871 427h4M836 493h4M854 486h4M801 412h4M821 537h4M847 537h4M833 502h4M843 369h4M892 430h4M805 498h4M806 524h4M882 425h4M850 327h4M822 414h4M855 508h4M871 426h4M821 552h4M871 453h4M839 562h4M886 407h4M777 469h4M900 514h4M840 421h4M826 540h4M859 448h4M877 499h4M847 452h4M832 460h4M822 545h4M822 482h4M868 566h4M815 468h4M865 521h4M845 506h4M837 538h4M823 453h4M830 497h4M783 495h4M863 390h4M830 518h4M881 489h4M820 427h4M819 511h4M842 524h4M832 448h4M809 499h4M782 550h4M818 492h4M825 475h4M865 462h4M866 419h4M813 530h4M867 464h4M813 420h4M823 309h4M831 471h4M817 434h4M866 459h4M890 471h4M813 458h4M855 494h4M843 526h4M858 447h4M827 488h4M882 441h4M864 516h4M860 458h4M906 457h4M823 488h4M842 472h4M865 438h4M875 485h4M847 510h4M864 467h4M888 439h4M839 537h4M837 475h4M846 424h4M770 420h4M862 460h4M861 535h4M904 539h4M803 510h4M854 404h4M857 450h4M865 544h4M808 518h4M752 485h4M846 517h4M852 457h4M852 492h4M824 499h4M819 428h4M841 529h4M816 452h4M816 510h4M852 418h4M861 553h4M811 596h4M789 442h4M813 512h4M865 421h4M835 578h4M865 399h4M863 454h4M879 445h4M834 568h4M848 415h4M870 493h4M831 533h4M815 489h4M877 447h4M889 489h4M818 444h4M860 509h4M858 504h4M851 485h4M833 524h4M819 448h4M808 456h4M873 486h4M844 503h4M861 447h4M790 504h4M874 506h4M873 476h4M853 464h4M906 445h4M850 544h4M849 430h4M816 562h4M825 454h4M858 389h4M854 508h4M879 480h4M826 446h4M859 464h4M816 459h4M839 509h4M825 406h4M777 415h4M867 538h4M816 501h4M817 460h4M848 555h4M809 443h4M815 587h4M766 431h4M843 488h4M863 484h4M830 554h4M876 506h4M887 500h4M864 508h4M834 526h4M865 530h4M865 439h4M847 444h4M877 486h4M857 384h4M807 378h4M836 489h4M846 494h4M806 451h4M800 428h4M845 422h4M858 482h4M812 567h4M858 451h4M814 494h4M806 466h4M870 456h4M847 514h4M788 384h4M794 440h4M845 489h4M816 476h4M817 382h4M801 567h4M834 605h4M912 437h4M793 523h4M892 497h4M816 477h4M806 397h4M868 510h4M835 491h4M834 420h4M876 526h4M902 437h4M854 533h4M810 479h4M809 448h4M839 587h4M872 551h4M854 511h4M850 422h4M875 451h4M775 503h4M869 442h4M844 436h4M842 496h4M855 488h4M833 400h4M810 518h4M782 474h4M852 586h4M806 470h4M839 465h4M791 432h4M841 507h4M857 453h4M831 478h4M855 531h4M820 550h4M828 486h4M848 457h4M843 465h4M857 415h4M847 548h4M873 507h4M893 400h4M863 406h4M872 436h4M855 560h4M812 394h4M870 467h4M870 480h4M811 412h4M839 455h4M798 556h4" stroke="#000" stroke-width="4" stroke-opacity="0.8"/>
<path transform="scale(.25)" d="M698 551h4M594 519h4M822 485h4M696 574h4M727 494h4M673 520h4M779 518h4M780 482h4M681 512h4M657 463h4M659 493h4M773 556h4M706 498h4M590 572h4M811 514h4M697 528h4M738 510h4M819 466h4M739 552h4M766 567h4M687 519h4M747 506h4M774 494h4M729 527h4M687 552h4M680 545h4M671 517h4M716 506h4M652 511h4M743 498h4M654 458h4M781 594h4M704 469h4M638 463h4M732 568h4M599 527h4M955 529h4M633 482h4M682 504h4M816 539h4M645 627h4M614 529h4M608 511h4M792 534h4M595 507h4M840 471h4M747 426h4M682 527h4M792 441h4M693 557h4M668 481h4M583 484h4M568 451h4M713 456h4M559 474h4M556 516h4M558 481h4M685 495h4M569 478h4M673 524h4M908 519h4M690 523h4M841 457h4M701 467h4M591 444h4M638 533h4M629 386h4M724 568h4M745 488h4M700 473h4M650 509h4M616 490h4M649 485h4M607 518h4M615 527h4M900 478h4M762 572h4M593 444h4M685 539h4M713 513h4M680 456h4M624 539h4M714 560h4M695 432h4M725 528h4M780 498h4M635 512h4M700 428h4M641 529h4M608 553h4M636 514h4M701 472h4M633 487h4M599 516h4M619 493h4M696 442h4M807 450h4M796 436h4M657 583h4M734 560h4M648 492h4M671 493h4M603 543h4M698 532h4M673 558h4M609 521h4M730 485h4M774 528h4M727 579h4M585 514h4M708 593h4M753 464h4M782 489h4M789 513h4M767 498h4M669 543h4M730 517h4M746 532h4M695 569h4M714 451h4M597 490h4M712 591h4M647 488h4M673 456h4M834 466h4M705 452h4M713 496h4M631 514h4M557 517h4M581 536h4M657 496h4M666 538h4M561 552h4M627 441h4M686 459h4M615 523h4M653 451h4M695 550h4M791 476h4M714 475h4M817 509h4M566 605h4M797 453h4M670 500h4M771 470h4M858 527h4M768 496h4M723 500h4M824 523h4M644 492h4M776 504h4M720 525h4M720 501h4M634 491h4M715 464h4M718 521h4M685 508h4M715 496h4M566 475h4M768 481h4M665 460h4M708 580h4M632 530h4M656 590h4M631 427h4M795 432h4M615 515h4M622 494h4M671 482h4M581 476h4M598 491h4M705 389h4M712 610h4M752 488h4M725 493h4M611 544h4M596 495h4M776 517h4M559 534h4M699 537h4M745 527h4M788 552h4M804 553h4M779 511h4M852 529h4M661 541h4M716 449h4M557 445h4M620 473h4M788 529h4M629 481h4M773 492h4M742 562h4M790 579h4M759 603h4M734 556h4M746 537h4M611 531h4M833 461h4M668 515h4M618 504h4M728 555h4M567 532h4M869 468h4M895 496h4M792 532h4M609 516h4M729 482h4M714 546h4M644 426h4M665 533h4M730 470h4M648 442h4M689 492h4M696 556h4M582 437h4M664 498h4M657 505h4M835 485h4M706 487h4M730 500h4M715 514h4M694 569h4M702 385h4M685 516h4M563 543h4M698 428h4M641 532h4M669 547h4M612 487h4M615 515h4M695 478h4M655 450h4M699 480h4M715 474h4M694 545h4M704 476h4M643 533h4M676 543h4M749 556h4M679 506h4M746 527h4M700 470h4M783 460h4M610 574h4M719 551h4M768 460h4M628 467h4M708 579h4M725 518h4M684 556h4M775 570h4M725 498h4M674 545h4M767 454h4M727 503h4M939 540h4M558 565h4M708 505h4M690 528h4M693 468h4M701 447h4M643 489h4M754 498h4M597 464h4M839 478h4M687 491h4M648 546h4M717 532h4M564 519h4M599 520h4M740 521h4M662 463h4M695 490h4M565 495h4M568 537h4M557 518h4M829 528h4M671 453h4M796 573h4M660 476h4M774 461h4M636 506h4M642 516h4M670 495h4M690 568h4M680 483h4M599 446h4M621 561h4M656 488h4M645 486h4M674 424h4M774 466h4M777 480h4M832 520h4M623 543h4M671 552h4M655 470h4M643 512h4M735 570h4M748 531h4M675 540h4M697 560h4M793 528h4M674 509h4M782 616h4M688 441h4M729 516h4M849 535h4M642 512h4M721 507h4M799 490h4M703 555h4M807 429h4M914 457h4M816 445h4M688 476h4M624 482h4M712 522h4M647 549h4M628 470h4M758 508h4M752 597h4M564 540h4M650 437h4M606 539h4M752 510h4M728 509h4M777 522h4M693 543h4M741 519h4M756 550h4M691 522h4M772 546h4M783 469h4M579 441h4M664 589h4M716 469h4M706 459h4M574 552h4M696 555h4M561 498h4M671 563h4M651 483h4M821 490h4M664 446h4M626 596h4M628 512h4M616 538h4M688 437h4M707 528h4M829 428h4M577 477h4M739 537h4M567 570h4M663 578h4M785 506h4M793 450h4M762 524h4M639 488h4M771 540h4M820 529h4M569 585h4M641 536h4M697 502h4M711 529h4M717 495h4M672 488h4M633 483h4M735 498h4M627 481h4M675 510h4M731 442h4M729 487h4M766 533h4M771 473h4M752 462h4M823 586h4M576 484h4M710 584h4M710 504h4M673 529h4M692 546h4M725 479h4M664 472h4M870 511h4M866 504h4M653 540h4M784 486h4M768 478h4M715 517h4M679 474h4M739 466h4M709 519h4M649 489h4M771 448h4M710 544h4M792 496h4M583 408h4M627 472h4M658 506h4M594 476h4M743 515h4M780 476h4M702 490h4M771 522h4M632 463h4M585 585h4M811 391h4M778 437h4M756 544h4M663 520h4M781 588h4M745 534h4M920 555h4M586 497h4M766 427h4M757 493h4M720 525h4M676 517h4M635 465h4M834 548h4M791 487h4M722 462h4M728 509h4M840 503h4M606 454h4M592 463h4M682 513h4M602 583h4M768 397h4M754 400h4M755 474h4M672 486h4M641 541h4M728 434h4M558 520h4M603 545h4M570 478h4M692 471h4M591 496h4M748 483h4M681 484h4M564 538h4M851 495h4M716 498h4M726 533h4M645 495h4M603 517h4M805 442h4M585 511h4M651 509h4M688 479h4M611 483h4M640 471h4M640 558h4M644 501h4M822 477h4M691 479h4M773 465h4M610 516h4M639 513h4M632 471h4M687 518h4M562 456h4M584 570h4M686 512h4M712 482h4M617 517h4M699 427h4M791 530h4M813 480h4M766 547h4M660 544h4M798 472h4M662 569h4M660 493h4M771 494h4M720 552h4M731 548h4M615 479h4M664 514h4M716 480h4M734 466h4M737 476h4M884 427h4M758 516h4M616 471h4M792 493h4M678 559h4M655 524h4M833 489h4M592 582h4M601 436h4M614 507h4M639 546h4M974 447h4M650 525h4M602 494h4M705 576h4M756 543h4M801 529h4M615 440h4M862 493h4M707 577h4M615 540h4M623 474h4M733 496h4M692 427h4M653 510h4M704 461h4M896 442h4M818 461h4M648 538h4M629 437h4M779 381h4M598 597h4M606 484h4M573 454h4M559 554h4M668 534h4M618 537h4M658 525h4M719 543h4M641 523h4M559 496h4M606 548h4M762 514h4M592 480h4M588 519h4M724 420h4M605 510h4M605 475h4M709 439h4M676 529h4M638 591h4M651 559h4" stroke="#000" stroke-width="4" stroke-opacity="0.5"/>
<path transform="scale(.25)" d="M918 572h4M608 603h4M827 575h4M778 597h4M911 570h4M634 575h4M789 589h4M861 575h4M647 537h4M773 584h4M772 549h4M828 568h4M707 565h4M857 636h4M652 532h4M684 618h4M648 540h4M791 564h4M786 608h4M866 580h4M816 586h4M698 632h4M726 601h4M849 620h4M868 587h4M626 582h4M719 581h4M878 632h4M705 479h4M794 593h4M677 596h4M915 526h4M743 587h4M725 572h4M835 549h4M764 586h4M815 544h4M930 627h4M783 539h4M795 541h4M965 565h4M768 579h4M762 600h4M895 589h4M640 582h4M928 497h4M768 565h4M708 577h4M732 610h4M699 546h4M869 592h4M714 567h4M557 554h4M704 579h4M862 572h4M753 584h4M704 577h4M652 608h4M916 605h4M711 545h4M850 628h4M558 624h4M744 607h4M673 586h4M796 568h4M727 588h4M824 550h4M912 586h4M790 618h4M640 567h4M895 606h4M695 550h4M776 597h4M906 633h4M792 573h4M760 578h4M753 616h4M633 613h4M728 579h4M631 588h4M830 582h4M723 611h4M778 602h4M904 590h4M875 558h4M815 533h4M878 520h4M864 594h4M855 601h4M944 610h4M748 579h4M810 594h4M590 548h4M679 584h4M793 543h4M729 600h4M807 541h4M746 613h4M758 581h4M773 603h4M706 595h4M860 536h4M694 541h4M785 615h4M930 595h4M795 608h4M707 626h4M718 604h4M847 634h4M860 577h4M697 561h4M705 588h4M1017 586h4M680 592h4M960 608h4M803 610h4M704 623h4M751 569h4M737 561h4M737 597h4M825 609h4M577 592h4M906 591h4M684 598h4M593 549h4M981 566h4M589 635h4M816 610h4M846 537h4M636 554h4M922 594h4M594 571h4M567 597h4M628 547h4M679 581h4M945 591h4M632 602h4M1005 585h4M800 580h4M899 579h4M840 599h4M688 603h4M743 560h4M833 557h4M829 585h4M1017 547h4M669 573h4M631 597h4M619 566h4M756 565h4M817 559h4M1012 547h4M791 572h4M704 604h4M795 611h4M1018 606h4M717 518h4M673 589h4M836 556h4M865 585h4M866 578h4M853 569h4M899 540h4M999 577h4M1001 579h4M903 595h4M826 582h4M682 551h4M704 628h4M615 632h4M711 570h4M798 538h4M635 632h4M943 604h4M756 530h4M555 635h4M819 615h4M667 560h4M673 503h4M770 627h4M644 561h4M785 585h4M799 603h4M912 617h4M665 574h4M632 602h4M703 576h4M938 599h4M762 575h4M734 575h4M1037 576h4M882 531h4M727 560h4" stroke="#000" stroke-width="4" stroke-opacity="0.45"/>
</g>
<path d="M134.8 160.5H137.6M135.6 150.96H137.6M135.6 145.39H137.6M135.6 141.43H137.6M135.6 138.36H137.6M135.6 135.85H137.6M135.6 133.73H137.6M135.6 131.89H137.6M135.6 130.27H137.6M134.8 128.82H137.6M135.6 119.29H137.6M135.6 113.71H137.6M135.6 109.75H137.6M135.6 106.69H137.6M135.6 104.18H137.6M135.6 102.06H137.6M135.6 100.22H137.6M135.6 98.6H137.6M134.8 97.15H137.6M135.6 87.61H137.6M135.6 82.04H137.6M135.6 78.08H137.6M135.6 75.01H137.6M135.6 72.5H137.6M135.6 70.38H137.6M135.6 68.54H137.6M135.6 66.92H137.6M134.8 65.47H137.6M135.6 55.94H137.6M135.6 50.36H137.6M135.6 46.4H137.6M135.6 43.34H137.6M135.6 40.83H137.6M135.6 38.71H137.6M135.6 36.87H137.6M135.6 35.25H137.6M134.8 33.8H137.6M137.6 160.5V163.3M147.07 160.5V162.5M152.61 160.5V162.5M156.53 160.5V162.5M159.58 160.5V162.5M162.07 160.5V162.5M164.18 160.5V162.5M166 160.5V162.5M167.61 160.5V162.5M169.05 160.5V163.3M178.52 160.5V162.5M184.06 160.5V162.5M187.98 160.5V162.5M191.03 160.5V162.5M193.52 160.5V162.5M195.63 160.5V162.5M197.45 160.5V162.5M199.06 160.5V162.5M200.5 160.5V163.3M209.97 160.5V162.5M215.51 160.5V162.5M219.43 160.5V162.5M222.48 160.5V162.5M224.97 160.5V162.5M227.08 160.5V162.5M228.9 160.5V162.5M230.51 160.5V162.5M231.95 160.5V163.3M241.42 160.5V162.5M246.96 160.5V162.5M250.88 160.5V162.5M253.93 160.5V162.5M256.42 160.5V162.5M258.53 160.5V162.5M260.35 160.5V162.5M261.96 160.5V162.5M263.4 160.5V163.3" stroke="#111" stroke-width="0.9"/>
<path d="M137.6 33.8H263.4V160.5" fill="none" stroke="#555" stroke-width="1.1"/>
<path d="M137.6 33.3V160.5H263.9" fill="none" stroke="#000" stroke-width="1.9"/>
<text x="132.7" y="166.05" font-size="7.5" text-anchor="end" fill="#222">10<tspan font-size="4.65" dy="-3.38">0</tspan></text>
<text x="132.7" y="134.38" font-size="7.5" text-anchor="end" fill="#222">10<tspan font-size="4.65" dy="-3.38">1</tspan></text>
<text x="132.7" y="102.7" font-size="7.5" text-anchor="end" fill="#222">10<tspan font-size="4.65" dy="-3.38">2</tspan></text>
<text x="132.7" y="71.02" font-size="7.5" text-anchor="end" fill="#222">10<tspan font-size="4.65" dy="-3.38">3</tspan></text>
<text x="132.7" y="39.35" font-size="7.5" text-anchor="end" fill="#222">10<tspan font-size="4.65" dy="-3.38">4</tspan></text>
<text x="137.1" y="174.5" font-size="7.5" text-anchor="middle" fill="#222">10<tspan font-size="4.65" dy="-3.38">0</tspan></text>
<text x="168.55" y="174.5" font-size="7.5" text-anchor="middle" fill="#222">10<tspan font-size="4.65" dy="-3.38">1</tspan></text>
<text x="200" y="174.5" font-size="7.5" text-anchor="middle" fill="#222">10<tspan font-size="4.65" dy="-3.38">2</tspan></text>
<text x="231.45" y="174.5" font-size="7.5" text-anchor="middle" fill="#222">10<tspan font-size="4.65" dy="-3.38">3</tspan></text>
<text x="262.9" y="174.5" font-size="7.5" text-anchor="middle" fill="#222">10<tspan font-size="4.65" dy="-3.38">4</tspan></text>
<ellipse cx="211" cy="115.5" rx="18.3" ry="35.4" fill="none" stroke="#333" stroke-width="0.9"/>
<text x="211.9" y="65.6" font-size="13.2" text-anchor="middle" textLength="25.4" lengthAdjust="spacingAndGlyphs" stroke="#000" stroke-width="0.35">16%</text>
<text transform="translate(116.67 96.5) rotate(-90)" font-size="13.5" text-anchor="middle" textLength="32" lengthAdjust="spacingAndGlyphs" stroke="#000" stroke-width="0.45">CD34</text>
<path d="M111.75 33.8L111.75 76" stroke="#000" stroke-width="1.1"/>
<path d="M111.75 117L111.75 160.5" stroke="#000" stroke-width="1.1"/>
<text x="200.3" y="193.52" font-size="13.5" text-anchor="middle" textLength="38.6" lengthAdjust="spacingAndGlyphs" stroke="#000" stroke-width="0.45">CD161</text>
<path d="M138 188.6L175 188.6" stroke="#000" stroke-width="1.1"/>
<path d="M225.6 188.6L261 188.6" stroke="#000" stroke-width="1.1"/>
<g filter="url(#b35)">
<path transform="scale(.25)" d="M1403 634h4M1361 630h4M1367 601h4M1500 579h4M1461 627h4M1372 640h4M1409 568h4M1359 598h4M1451 622h4M1373 578h4M1372 617h4M1344 617h4M1419 589h4M1386 588h4M1425 577h4M1356 611h4M1400 637h4M1338 611h4M1442 633h4M1403 562h4M1412 587h4M1417 621h4M1331 571h4M1439 612h4M1515 625h4M1294 608h4M1288 596h4M1302 628h4M1442 614h4M1400 622h4M1457 618h4M1435 584h4M1405 572h4M1409 592h4M1382 607h4M1444 597h4M1324 629h4M1367 610h4M1407 629h4M1500 606h4M1346 583h4M1327 626h4M1358 616h4M1450 579h4M1378 591h4M1280 509h4M1460 633h4M1454 604h4M1307 600h4M1401 594h4M1465 588h4M1452 590h4M1534 593h4M1408 624h4M1375 612h4M1346 597h4M1431 594h4M1380 565h4M1381 631h4M1386 572h4M1431 534h4M1328 630h4M1300 622h4M1464 587h4M1396 634h4M1483 571h4M1391 540h4M1347 605h4M1421 623h4M1387 618h4M1339 624h4M1498 595h4M1413 595h4M1417 626h4M1375 599h4M1351 597h4M1445 552h4M1386 592h4M1346 565h4M1384 607h4M1338 604h4M1403 620h4M1342 596h4M1352 569h4M1401 605h4M1342 627h4M1395 570h4M1366 593h4M1350 605h4M1351 598h4M1343 574h4M1298 555h4M1376 566h4M1416 598h4M1447 563h4M1431 638h4M1539 635h4M1411 547h4M1365 587h4M1504 638h4M1450 632h4M1335 561h4M1413 590h4M1285 636h4M1446 603h4M1383 588h4M1334 615h4M1493 628h4M1438 604h4M1395 607h4M1347 630h4M1389 585h4M1382 575h4M1435 622h4M1440 567h4M1352 614h4M1359 580h4M1360 624h4M1311 567h4M1357 632h4M1386 608h4M1433 592h4M1471 576h4M1343 596h4M1425 575h4M1365 567h4M1517 630h4M1389 617h4M1422 635h4M1336 562h4M1343 546h4M1404 556h4M1369 618h4M1413 623h4M1298 548h4M1432 629h4M1338 588h4M1495 567h4M1375 598h4M1458 616h4M1308 594h4M1418 595h4M1339 577h4M1363 560h4M1393 590h4M1373 555h4M1408 617h4M1437 576h4M1431 637h4M1387 555h4M1310 639h4M1344 575h4M1380 575h4M1437 625h4M1378 599h4M1377 590h4M1449 631h4M1432 614h4M1405 566h4M1332 593h4M1411 632h4M1413 609h4M1339 623h4M1455 637h4M1422 583h4M1399 581h4M1316 600h4M1460 615h4M1440 563h4M1326 604h4M1339 604h4M1398 630h4M1378 583h4M1484 564h4M1436 611h4M1375 568h4M1427 605h4M1411 575h4M1444 596h4M1381 571h4M1349 520h4M1426 559h4M1510 541h4M1404 600h4M1325 570h4M1479 596h4M1279 598h4M1422 629h4M1357 590h4M1448 588h4M1341 614h4M1471 628h4M1410 597h4M1288 609h4M1373 580h4M1470 556h4M1400 597h4M1396 592h4M1378 593h4M1415 590h4M1409 609h4M1333 590h4M1463 633h4M1474 592h4M1530 592h4M1435 622h4M1363 628h4M1278 593h4M1431 624h4M1425 602h4M1356 578h4M1285 581h4M1459 609h4M1364 586h4M1563 615h4M1520 577h4M1449 607h4M1365 563h4M1431 578h4M1398 579h4M1346 592h4M1315 628h4M1297 596h4M1424 580h4M1397 565h4M1402 585h4M1443 632h4M1341 598h4M1318 596h4M1285 620h4M1372 623h4M1438 628h4M1383 590h4M1430 574h4M1321 553h4M1364 581h4M1346 589h4M1317 620h4M1504 609h4M1443 584h4M1346 625h4M1346 565h4M1389 570h4M1305 567h4M1418 569h4M1314 593h4M1370 576h4M1331 578h4M1363 637h4M1312 559h4M1298 571h4M1334 593h4M1351 612h4M1374 613h4M1396 592h4M1484 589h4M1441 592h4M1377 621h4M1436 574h4M1351 534h4M1479 605h4M1425 567h4M1311 598h4M1437 639h4M1441 602h4M1347 555h4M1364 606h4M1328 623h4M1335 579h4M1422 604h4M1410 603h4M1550 602h4M1368 561h4M1461 551h4M1397 615h4M1408 610h4M1322 601h4M1285 618h4M1346 630h4M1438 567h4M1487 622h4M1422 629h4M1342 617h4M1484 620h4M1473 560h4M1360 586h4M1389 629h4M1480 613h4M1416 588h4M1386 597h4M1416 625h4M1418 634h4M1367 623h4M1318 586h4M1315 618h4M1288 613h4M1420 637h4M1525 618h4M1290 602h4M1400 599h4M1417 567h4M1333 572h4M1404 588h4M1326 578h4M1464 607h4M1356 604h4M1398 628h4M1433 639h4M1366 606h4M1285 596h4M1360 549h4M1438 612h4M1387 620h4M1406 580h4M1327 590h4M1401 582h4M1436 631h4M1394 619h4M1506 635h4M1380 568h4M1295 577h4M1461 573h4M1388 607h4M1453 586h4M1490 590h4M1468 582h4M1369 628h4M1408 635h4M1457 578h4M1318 588h4M1479 591h4M1465 596h4M1380 636h4M1410 631h4M1325 636h4M1395 601h4M1357 625h4M1397 599h4M1362 580h4M1409 633h4M1463 551h4M1313 601h4M1448 584h4M1385 602h4M1392 613h4M1419 577h4M1293 621h4M1388 609h4M1400 623h4M1467 546h4M1386 588h4M1424 583h4M1333 616h4M1381 579h4M1365 586h4M1434 568h4M1333 567h4M1342 574h4M1427 627h4M1499 570h4M1415 532h4M1410 608h4M1371 587h4M1457 615h4M1424 615h4M1496 591h4M1412 588h4M1335 584h4M1358 599h4M1333 578h4M1317 605h4M1468 638h4M1440 581h4M1318 582h4M1499 582h4M1407 617h4M1335 618h4M1415 640h4M1388 620h4M1346 603h4M1394 563h4M1410 615h4M1425 639h4M1429 638h4M1364 577h4M1399 584h4M1375 624h4M1342 542h4M1370 574h4M1473 610h4M1305 618h4M1406 605h4M1403 632h4M1350 592h4M1366 603h4M1308 595h4M1341 569h4M1393 601h4M1412 585h4M1338 602h4M1575 527h4M1358 603h4M1400 585h4M1378 583h4M1368 601h4M1470 587h4M1363 626h4M1472 635h4M1461 625h4M1329 627h4M1454 610h4M1353 601h4M1556 564h4M1369 590h4M1336 634h4M1314 586h4M1357 603h4M1332 630h4M1318 596h4M1380 579h4M1479 622h4M1290 620h4M1359 605h4M1335 609h4M1301 615h4M1316 537h4M1338 613h4M1435 632h4M1380 611h4M1360 632h4M1429 567h4M1409 598h4M1379 609h4M1415 593h4M1342 633h4M1430 614h4M1420 586h4M1367 623h4M1319 623h4M1483 588h4M1398 618h4M1575 611h4M1353 610h4M1443 565h4M1366 636h4M1407 618h4M1442 599h4M1344 610h4M1386 609h4M1402 592h4M1399 584h4M1428 603h4M1454 583h4M1442 587h4M1408 568h4M1371 592h4M1324 628h4M1348 606h4M1360 601h4M1433 591h4M1370 588h4M1317 558h4M1344 580h4M1346 558h4M1378 611h4M1420 607h4M1325 559h4M1403 561h4M1340 597h4M1360 582h4M1475 637h4M1365 585h4M1435 574h4M1440 615h4M1365 610h4M1419 634h4M1365 556h4M1355 608h4M1324 553h4M1444 613h4M1368 582h4M1359 587h4M1324 579h4M1501 623h4M1437 633h4M1384 598h4M1350 593h4M1300 586h4M1410 615h4M1409 571h4M1462 593h4M1439 639h4M1334 604h4M1359 562h4M1366 556h4M1402 588h4M1383 580h4M1294 593h4M1480 568h4M1467 549h4M1380 613h4M1413 633h4M1436 590h4M1438 593h4M1382 630h4M1355 615h4M1394 566h4M1344 634h4M1359 586h4M1397 573h4M1330 535h4M1359 602h4M1389 633h4M1411 614h4M1505 604h4M1404 573h4M1307 625h4M1400 547h4M1356 621h4M1416 565h4M1351 582h4M1349 562h4M1361 573h4M1354 635h4M1283 566h4M1352 604h4M1391 576h4M1464 628h4M1374 560h4M1370 599h4M1427 624h4M1488 565h4M1427 574h4M1391 597h4M1484 569h4M1363 621h4M1401 581h4M1291 569h4M1370 553h4M1339 602h4M1379 626h4M1363 595h4M1382 538h4M1386 582h4M1422 625h4M1406 623h4M1358 606h4M1315 640h4M1466 562h4M1477 563h4M1365 632h4M1426 617h4M1300 592h4M1298 584h4M1376 525h4M1480 622h4M1329 539h4M1342 542h4M1488 596h4M1278 640h4M1431 587h4M1421 608h4M1380 585h4M1403 609h4M1549 550h4M1373 570h4M1378 614h4M1351 540h4M1488 610h4M1287 579h4M1350 628h4M1416 593h4M1416 597h4M1306 635h4M1387 572h4M1408 619h4M1416 628h4M1283 629h4M1503 608h4M1405 571h4M1500 639h4M1564 579h4M1382 633h4M1318 589h4M1444 599h4M1381 599h4M1365 616h4M1330 586h4M1493 604h4M1365 584h4M1308 614h4M1365 607h4M1323 611h4M1401 575h4M1367 608h4M1329 600h4M1428 615h4M1353 600h4M1435 571h4M1468 619h4M1370 580h4M1353 607h4M1404 540h4M1445 613h4M1392 617h4M1400 572h4M1390 615h4M1411 588h4M1430 638h4M1350 618h4M1363 563h4M1395 593h4M1352 548h4M1400 589h4M1424 614h4M1391 622h4M1356 596h4M1345 592h4M1497 603h4M1445 581h4M1325 608h4M1342 631h4M1504 604h4M1483 623h4M1400 577h4M1461 585h4M1303 609h4M1436 628h4M1345 601h4M1439 635h4M1460 552h4M1356 614h4M1409 540h4M1488 635h4M1369 613h4M1312 633h4M1388 611h4M1368 586h4M1470 579h4M1402 605h4M1536 618h4M1362 585h4M1420 584h4M1433 580h4M1439 594h4M1402 597h4M1427 586h4M1388 600h4M1307 555h4M1379 630h4M1380 607h4M1400 608h4M1355 595h4M1471 603h4M1486 607h4M1393 590h4M1417 586h4M1355 615h4M1369 577h4M1457 572h4M1466 626h4M1409 601h4M1434 602h4M1385 578h4M1400 593h4M1347 579h4M1394 576h4M1349 614h4M1442 591h4M1411 629h4M1463 600h4M1553 580h4M1393 619h4M1358 633h4M1365 604h4M1311 605h4M1395 578h4M1377 593h4M1377 536h4M1356 612h4M1457 623h4M1374 626h4M1335 593h4M1410 633h4M1352 634h4M1291 587h4M1379 531h4M1399 601h4M1473 598h4M1463 577h4M1402 588h4M1346 586h4M1367 549h4M1457 636h4M1499 601h4M1353 601h4M1454 612h4M1369 558h4M1368 630h4M1375 570h4M1427 616h4M1409 627h4M1452 622h4M1470 577h4M1423 578h4M1290 634h4M1388 600h4M1522 598h4M1383 584h4M1449 622h4M1456 592h4M1378 561h4M1420 569h4M1324 614h4M1335 607h4M1466 615h4M1308 591h4M1447 587h4M1433 609h4M1438 596h4M1447 555h4M1426 588h4M1332 579h4M1356 616h4M1447 598h4M1324 621h4M1350 576h4M1370 565h4M1471 613h4M1306 581h4M1311 599h4M1430 592h4M1412 608h4M1365 604h4M1297 573h4M1367 556h4M1332 577h4M1402 624h4M1414 620h4M1481 617h4M1391 589h4M1398 571h4M1357 632h4M1391 605h4M1455 615h4M1432 581h4M1360 618h4M1396 621h4M1412 572h4M1443 608h4M1406 567h4M1368 634h4M1411 619h4M1393 629h4M1380 632h4M1404 582h4M1444 606h4M1400 587h4M1401 604h4M1315 622h4M1384 600h4M1281 602h4M1435 563h4M1336 616h4M1470 600h4M1572 618h4M1368 629h4M1472 601h4M1416 620h4M1359 583h4M1342 626h4M1426 599h4M1476 583h4M1413 594h4M1301 560h4M1329 582h4M1378 588h4M1473 601h4M1409 598h4M1412 582h4M1465 595h4M1380 540h4M1387 602h4M1381 615h4M1285 622h4M1420 630h4M1417 594h4M1451 597h4M1321 586h4M1343 586h4M1448 603h4M1411 637h4M1475 553h4M1340 586h4M1404 607h4M1351 572h4M1411 611h4M1363 561h4M1424 590h4M1457 554h4M1433 607h4M1284 578h4M1448 617h4M1419 591h4M1329 573h4M1339 588h4M1392 603h4M1426 599h4M1365 592h4M1295 589h4M1409 599h4M1402 623h4M1538 583h4M1315 611h4M1543 562h4M1497 625h4M1410 609h4M1492 589h4M1398 590h4M1451 552h4M1348 602h4M1397 592h4M1331 560h4M1297 587h4M1376 615h4M1352 604h4M1426 607h4M1468 584h4M1382 623h4M1396 598h4M1403 623h4M1291 634h4M1408 544h4M1393 585h4M1389 599h4M1326 579h4M1377 590h4M1411 628h4M1472 620h4M1460 611h4M1479 599h4M1414 623h4M1461 613h4M1380 638h4M1430 611h4M1448 628h4M1553 611h4M1407 609h4M1316 557h4M1475 600h4M1345 611h4M1388 568h4M1374 562h4M1338 592h4M1472 608h4M1428 553h4M1355 609h4M1396 627h4M1366 593h4M1429 607h4M1369 613h4M1346 582h4M1353 617h4M1366 613h4M1409 566h4M1337 614h4M1387 624h4M1419 570h4M1532 624h4M1443 593h4M1361 571h4M1368 575h4M1411 615h4M1486 587h4M1437 589h4M1284 565h4M1410 601h4M1398 565h4M1417 581h4M1474 617h4M1327 618h4M1458 585h4M1293 599h4M1395 615h4M1415 600h4M1529 633h4M1350 637h4M1290 598h4M1433 566h4M1352 596h4M1486 637h4M1350 631h4M1339 633h4M1467 631h4M1397 586h4M1452 608h4M1306 630h4M1491 608h4M1357 625h4M1441 572h4M1332 566h4M1299 633h4M1377 622h4M1402 617h4M1487 632h4M1413 638h4M1432 533h4M1579 611h4M1343 629h4M1467 547h4M1383 551h4M1408 596h4M1462 627h4M1313 609h4M1380 630h4M1434 613h4M1447 600h4M1347 604h4M1439 497h4M1352 609h4M1389 548h4M1392 577h4M1505 620h4M1392 611h4M1337 544h4M1337 615h4M1464 621h4M1292 606h4M1364 619h4M1369 616h4M1364 594h4M1452 592h4M1406 566h4M1338 599h4M1433 577h4M1423 597h4M1513 576h4M1347 629h4M1394 584h4M1384 601h4M1397 601h4M1386 612h4M1350 595h4M1296 537h4M1358 610h4M1308 596h4M1329 569h4M1359 594h4M1422 585h4M1443 606h4M1329 591h4M1410 592h4M1440 602h4M1389 606h4M1293 600h4M1439 606h4M1446 578h4M1407 634h4M1328 603h4M1478 632h4M1464 570h4M1388 615h4M1436 602h4M1294 583h4M1431 582h4M1434 594h4M1396 572h4M1485 578h4M1371 571h4M1426 571h4M1438 606h4M1405 550h4M1365 604h4M1464 619h4M1416 573h4M1379 574h4M1381 600h4M1398 598h4M1527 626h4M1397 543h4M1376 597h4M1327 639h4M1317 602h4M1405 633h4M1392 584h4M1301 614h4M1371 599h4M1359 592h4M1310 593h4M1408 574h4M1399 595h4M1387 626h4M1437 635h4M1351 589h4M1472 614h4M1329 613h4M1421 533h4M1428 620h4M1375 565h4M1411 567h4M1313 623h4M1300 631h4M1378 568h4M1346 575h4M1426 573h4M1392 585h4M1427 589h4M1409 576h4M1402 554h4M1396 637h4M1368 585h4M1362 578h4M1512 625h4M1284 589h4M1379 630h4M1450 621h4M1415 627h4M1475 588h4M1423 617h4M1314 556h4M1370 561h4M1306 601h4M1449 591h4M1477 637h4M1363 592h4M1422 550h4M1365 601h4M1303 591h4M1363 605h4M1295 567h4M1355 578h4M1402 601h4M1433 620h4M1467 611h4M1369 621h4M1404 559h4M1415 594h4M1423 606h4M1343 607h4M1437 593h4M1322 596h4M1404 597h4M1439 560h4M1378 622h4M1403 620h4M1390 548h4M1297 600h4M1410 558h4M1355 631h4M1438 615h4M1414 620h4M1356 581h4M1399 546h4M1347 571h4M1346 590h4M1293 558h4M1374 572h4M1436 629h4M1395 563h4M1386 615h4M1350 548h4M1356 607h4M1432 623h4M1297 612h4M1511 634h4M1517 561h4M1457 607h4M1361 615h4M1430 612h4M1414 608h4M1434 634h4M1353 633h4M1349 605h4M1361 616h4M1304 579h4M1370 609h4M1399 606h4M1400 597h4M1397 588h4M1361 628h4M1432 598h4M1361 638h4M1365 622h4M1438 585h4M1424 627h4M1432 605h4M1385 604h4M1441 571h4M1324 618h4M1388 608h4M1285 588h4M1486 583h4M1479 594h4M1347 565h4M1332 586h4M1291 583h4M1390 632h4M1374 564h4M1294 632h4M1353 632h4M1343 634h4M1411 618h4M1426 557h4M1370 634h4M1390 632h4M1383 603h4M1394 632h4M1379 576h4M1428 594h4M1429 639h4M1345 612h4M1399 586h4M1456 640h4M1295 634h4M1305 597h4M1443 574h4M1315 609h4M1326 563h4M1371 615h4M1430 591h4M1402 613h4M1382 554h4M1443 599h4M1515 583h4M1378 557h4M1472 583h4M1452 611h4M1390 561h4M1411 595h4M1327 560h4M1347 606h4M1400 551h4M1381 621h4M1462 619h4M1306 624h4M1346 605h4M1375 604h4M1454 617h4M1311 587h4M1435 547h4M1349 566h4M1364 566h4M1444 606h4M1367 582h4M1424 589h4M1391 616h4M1374 605h4M1280 599h4M1339 574h4M1394 636h4M1396 589h4M1295 598h4M1445 628h4M1419 605h4M1306 620h4M1322 583h4M1415 592h4M1279 618h4M1340 586h4M1382 590h4M1377 600h4M1337 608h4M1356 603h4M1508 582h4M1301 638h4M1358 613h4M1392 628h4M1346 562h4M1459 624h4M1390 606h4M1431 623h4M1457 602h4M1455 592h4M1340 622h4M1464 568h4M1402 632h4M1442 612h4M1495 571h4M1392 639h4M1325 630h4M1385 634h4M1310 631h4M1338 617h4M1340 602h4M1344 573h4M1456 624h4M1437 620h4M1333 591h4M1455 620h4M1286 578h4M1347 633h4M1379 608h4M1458 610h4M1431 583h4M1414 630h4M1466 608h4M1430 587h4M1470 614h4M1340 597h4M1286 632h4M1363 560h4M1438 571h4M1403 630h4M1441 589h4M1431 617h4M1419 592h4M1437 609h4M1345 634h4M1454 547h4M1328 618h4M1381 604h4M1303 604h4M1418 581h4M1295 576h4M1307 617h4M1404 569h4M1380 603h4M1335 565h4M1463 633h4M1362 613h4M1476 552h4M1327 628h4M1340 620h4M1286 611h4M1421 607h4M1443 587h4M1402 597h4M1379 545h4M1333 639h4M1433 616h4M1283 619h4M1370 564h4M1483 562h4M1507 565h4M1476 617h4M1385 636h4M1353 600h4M1304 633h4M1420 625h4M1344 539h4M1366 591h4M1350 639h4M1370 606h4M1442 631h4M1490 554h4M1398 638h4M1390 569h4M1322 611h4M1325 604h4M1442 595h4M1404 623h4M1447 578h4M1414 575h4M1365 629h4M1314 560h4M1367 567h4M1509 566h4M1405 614h4M1367 633h4M1509 600h4M1366 572h4M1423 625h4M1379 575h4M1411 629h4M1419 572h4M1475 618h4M1313 582h4M1281 612h4M1471 594h4M1399 574h4M1442 616h4M1372 555h4M1483 610h4M1499 597h4M1318 579h4M1430 627h4M1352 602h4M1292 591h4M1371 596h4M1423 595h4M1306 627h4M1311 593h4M1463 519h4M1390 514h4M1413 571h4M1319 565h4M1348 593h4M1395 563h4M1399 578h4M1396 638h4M1484 563h4M1397 625h4M1294 597h4M1334 637h4M1383 626h4M1464 603h4M1345 631h4M1362 607h4M1384 570h4M1343 615h4M1336 616h4M1371 598h4M1445 609h4M1414 589h4M1367 611h4M1409 594h4M1307 558h4M1445 594h4M1429 633h4M1403 625h4M1286 629h4M1508 602h4M1324 572h4M1329 606h4M1427 631h4M1293 625h4M1399 623h4M1375 588h4M1367 605h4M1436 580h4M1471 625h4M1408 619h4M1368 584h4M1474 538h4M1366 622h4M1394 591h4M1473 619h4M1376 621h4M1314 583h4M1447 639h4M1381 638h4M1375 577h4M1523 570h4M1351 606h4M1352 609h4M1301 577h4M1336 636h4M1373 561h4M1402 544h4M1374 590h4M1416 623h4M1425 611h4M1469 605h4M1425 617h4M1354 610h4M1292 604h4M1408 598h4M1336 556h4M1466 629h4M1340 589h4M1389 615h4M1451 630h4M1374 579h4M1397 624h4M1396 625h4M1491 598h4M1405 600h4M1384 605h4M1349 572h4M1286 588h4M1472 569h4M1456 634h4M1328 579h4M1423 571h4M1406 605h4M1363 616h4M1367 591h4M1432 574h4M1313 613h4M1354 625h4M1381 555h4M1385 626h4M1373 551h4M1399 619h4M1418 588h4M1331 594h4M1391 621h4M1300 639h4M1372 620h4M1429 563h4M1369 589h4M1366 605h4M1353 584h4M1405 617h4M1315 594h4M1380 596h4M1297 565h4M1403 586h4M1358 581h4M1405 621h4M1439 640h4M1408 629h4M1315 629h4M1407 582h4M1290 570h4M1341 578h4M1489 602h4M1388 591h4M1482 609h4M1377 630h4M1388 603h4M1445 579h4M1376 619h4M1426 600h4M1415 629h4M1421 600h4M1408 586h4M1386 598h4M1389 577h4M1347 570h4M1419 584h4M1516 635h4M1532 591h4M1419 626h4M1332 599h4M1330 548h4M1436 598h4M1381 567h4M1436 596h4M1338 596h4M1423 560h4M1374 610h4M1401 597h4M1464 617h4M1383 602h4M1475 561h4M1473 604h4M1346 618h4M1533 593h4M1317 616h4M1386 616h4M1437 540h4M1455 543h4M1462 564h4M1386 596h4M1409 572h4M1406 577h4M1380 631h4M1458 569h4M1370 633h4M1390 630h4M1415 639h4M1444 568h4M1460 556h4M1303 601h4M1282 630h4M1384 593h4M1389 583h4M1327 596h4M1411 620h4M1431 633h4M1416 599h4M1493 595h4M1330 613h4M1394 600h4M1510 588h4M1434 549h4M1325 602h4M1405 582h4M1464 592h4M1519 591h4M1433 574h4M1463 615h4M1325 629h4M1377 614h4M1465 581h4M1334 604h4M1388 619h4M1279 596h4M1482 619h4M1384 559h4M1427 593h4M1301 639h4M1312 627h4M1503 596h4M1371 603h4M1359 636h4M1423 630h4M1426 580h4M1286 608h4M1333 587h4M1395 583h4M1392 566h4M1413 620h4M1366 629h4M1375 624h4M1405 563h4M1350 615h4M1341 559h4M1359 606h4M1392 629h4M1363 603h4M1377 609h4M1389 600h4M1411 595h4M1414 629h4M1314 573h4M1451 555h4M1349 555h4M1427 626h4M1456 623h4M1281 588h4M1428 573h4M1408 604h4M1363 591h4M1415 623h4M1361 582h4M1398 633h4M1328 582h4M1427 625h4M1436 632h4M1352 589h4M1503 594h4M1511 598h4M1386 633h4M1366 582h4M1366 578h4M1433 594h4M1453 610h4M1346 598h4M1419 563h4M1389 583h4M1401 570h4M1422 629h4M1324 599h4M1395 619h4M1373 563h4M1414 599h4M1465 610h4M1391 570h4M1339 582h4M1466 586h4M1433 604h4M1378 608h4M1281 560h4M1337 609h4M1399 606h4M1423 608h4M1358 576h4M1416 598h4M1351 636h4M1364 632h4M1422 583h4M1373 639h4M1398 588h4M1442 575h4M1458 631h4M1354 609h4M1309 593h4M1310 604h4M1407 620h4M1358 607h4M1278 589h4M1421 600h4M1338 599h4M1370 599h4M1414 599h4M1413 557h4M1385 625h4M1423 593h4M1353 578h4M1303 594h4M1468 635h4M1397 609h4M1395 605h4M1425 585h4M1384 592h4M1300 607h4M1430 596h4M1449 572h4M1420 602h4M1481 571h4M1341 609h4M1362 584h4M1442 613h4M1400 579h4M1402 593h4M1445 636h4M1434 636h4M1363 567h4M1397 569h4M1346 586h4M1322 602h4M1286 607h4M1359 586h4M1354 637h4M1443 627h4M1484 552h4M1391 576h4M1418 549h4M1351 567h4M1334 577h4M1373 563h4M1373 582h4M1408 619h4M1397 632h4M1489 603h4M1377 620h4M1291 562h4M1350 639h4M1402 596h4M1458 616h4M1352 610h4M1386 539h4M1421 629h4M1333 613h4M1403 555h4M1423 588h4M1439 632h4M1456 616h4M1424 561h4M1414 584h4M1307 581h4M1333 580h4M1476 601h4M1398 595h4M1365 611h4M1412 607h4M1280 581h4M1425 621h4M1453 555h4M1393 606h4M1577 623h4M1311 601h4M1408 584h4M1303 632h4M1460 586h4M1399 596h4M1447 581h4M1398 634h4M1321 540h4M1352 575h4M1317 587h4M1329 609h4M1400 610h4M1456 628h4M1443 596h4M1422 579h4M1358 598h4M1422 575h4M1340 585h4M1404 586h4M1442 608h4M1380 623h4M1364 569h4M1366 583h4M1428 599h4M1373 600h4M1307 593h4M1367 616h4M1328 594h4M1481 551h4M1392 637h4M1304 565h4M1435 607h4M1414 609h4M1370 559h4M1401 607h4M1408 594h4M1452 576h4M1413 615h4M1527 621h4M1379 633h4M1483 566h4M1393 578h4M1290 639h4M1322 615h4M1283 623h4M1289 585h4M1464 610h4M1352 623h4M1428 566h4M1339 581h4M1391 607h4M1329 639h4M1444 588h4M1377 619h4M1365 577h4M1382 567h4M1522 618h4M1419 572h4M1442 602h4M1318 585h4M1353 615h4M1409 566h4M1281 562h4M1472 561h4M1408 595h4M1391 636h4M1380 623h4M1378 606h4M1362 596h4M1475 634h4M1433 598h4M1466 629h4M1374 638h4M1339 619h4M1473 611h4M1319 611h4M1355 598h4M1434 608h4M1457 576h4M1313 577h4M1393 597h4M1384 553h4M1340 637h4M1432 637h4M1360 612h4M1377 566h4M1385 630h4M1434 593h4M1421 611h4M1361 592h4M1401 593h4M1398 568h4M1383 578h4M1413 586h4M1384 601h4M1363 627h4M1344 615h4M1492 550h4M1403 628h4M1390 558h4M1435 613h4M1368 594h4M1369 602h4M1431 587h4M1453 571h4M1303 532h4M1395 575h4M1390 636h4M1419 599h4M1339 600h4M1329 576h4M1385 568h4M1339 616h4M1328 595h4M1387 609h4M1447 621h4M1400 552h4M1458 571h4M1332 581h4M1434 606h4M1391 619h4M1339 571h4M1367 593h4M1340 596h4M1379 596h4M1466 579h4M1370 604h4M1307 535h4M1380 596h4M1414 602h4M1373 619h4M1442 585h4M1337 584h4M1341 566h4M1488 585h4M1424 552h4M1421 552h4M1426 602h4M1394 573h4M1380 634h4M1456 557h4M1362 629h4M1398 587h4M1432 553h4M1368 538h4M1301 574h4M1419 581h4M1455 609h4M1407 563h4M1293 639h4M1429 623h4M1508 594h4M1300 584h4M1377 578h4M1396 621h4M1440 574h4M1397 616h4M1424 586h4M1412 639h4M1399 633h4M1389 615h4M1383 604h4M1433 566h4M1367 638h4M1456 620h4M1378 601h4M1400 569h4M1280 626h4M1370 573h4M1442 585h4M1440 621h4M1322 556h4M1343 601h4M1329 592h4M1378 568h4M1388 566h4M1299 594h4M1411 592h4M1396 605h4M1388 558h4M1353 602h4M1381 565h4M1288 577h4M1406 627h4M1404 581h4M1386 586h4M1323 577h4M1467 600h4M1458 623h4M1282 590h4M1416 619h4M1401 563h4M1422 597h4M1430 602h4M1434 574h4M1401 583h4M1354 609h4M1362 567h4M1422 622h4M1461 588h4M1364 613h4M1376 568h4M1433 555h4M1281 618h4M1418 619h4M1379 599h4M1437 600h4M1339 618h4M1438 604h4M1473 573h4M1320 631h4M1322 573h4M1392 637h4M1290 596h4M1435 574h4M1403 594h4M1450 602h4M1285 604h4M1404 616h4M1420 583h4M1288 543h4M1445 576h4M1312 612h4M1403 632h4M1316 545h4M1439 603h4M1493 632h4M1397 561h4M1469 579h4M1367 597h4M1396 587h4M1442 640h4M1419 626h4M1486 604h4M1322 613h4M1283 631h4M1328 628h4M1300 608h4M1343 628h4M1465 551h4M1434 610h4M1495 630h4M1302 608h4M1350 512h4M1334 616h4M1502 577h4M1419 554h4M1422 544h4M1418 579h4M1381 583h4M1406 603h4M1298 602h4M1339 568h4M1378 558h4M1380 519h4M1357 593h4M1379 613h4M1574 632h4M1303 574h4M1494 559h4M1290 558h4M1297 545h4M1471 620h4M1428 637h4M1495 561h4M1406 605h4M1299 533h4M1360 601h4M1314 619h4M1445 555h4M1407 637h4M1463 571h4M1292 598h4M1315 527h4M1320 606h4M1339 577h4M1466 637h4M1365 586h4M1457 581h4M1371 607h4M1337 550h4M1455 556h4M1353 624h4M1287 516h4M1363 541h4M1330 561h4M1404 549h4M1426 578h4M1378 557h4M1296 505h4M1284 628h4M1321 625h4M1346 577h4M1384 562h4M1312 557h4M1296 511h4M1396 539h4M1425 591h4M1377 595h4M1287 640h4M1325 583h4M1543 559h4M1288 620h4M1320 607h4M1433 533h4M1325 619h4M1466 553h4M1438 587h4M1406 625h4M1446 542h4M1306 611h4M1349 595h4M1422 532h4M1432 513h4M1423 568h4M1565 623h4M1409 623h4M1327 633h4M1403 515h4M1387 593h4M1422 595h4M1287 638h4M1435 558h4M1538 634h4M1439 522h4M1308 628h4M1553 548h4M1434 543h4M1548 599h4M1456 566h4M1344 594h4M1381 551h4M1420 615h4M1339 572h4M1448 554h4M1309 506h4M1498 529h4M1326 595h4M1408 590h4M1347 576h4M1410 635h4M1423 582h4M1285 582h4M1314 604h4M1324 596h4M1321 629h4M1367 561h4M1473 586h4M1283 583h4M1420 569h4M1337 580h4M1310 620h4M1278 629h4M1303 585h4M1286 584h4M1410 594h4M1504 629h4M1417 609h4M1434 635h4M1298 632h4M1430 631h4M1295 562h4M1288 570h4M1392 570h4M1312 566h4M1423 625h4M1381 560h4M1345 606h4M1317 569h4M1385 551h4M1391 634h4M1376 529h4M1467 640h4M1318 530h4M1281 596h4M1283 596h4M1288 582h4M1356 559h4M1512 575h4M1280 640h4M1295 624h4M1282 632h4M1301 611h4M1430 595h4M1480 581h4M1362 573h4M1448 575h4M1396 561h4M1352 608h4M1359 574h4M1309 518h4M1412 557h4M1313 620h4M1324 570h4M1394 565h4M1283 612h4M1428 581h4M1304 549h4M1282 602h4M1414 544h4M1424 579h4M1482 494h4M1344 509h4M1301 499h4M1440 571h4M1392 553h4M1387 557h4M1400 548h4M1329 639h4M1473 622h4M1278 521h4M1421 512h4M1313 576h4M1285 526h4M1331 639h4M1422 607h4M1295 512h4M1299 554h4M1465 622h4M1398 544h4M1368 611h4M1402 584h4M1415 620h4M1435 580h4M1403 579h4M1421 529h4M1388 576h4M1373 547h4M1457 610h4M1432 616h4M1363 622h4M1376 607h4M1339 521h4M1300 531h4M1412 589h4M1282 566h4M1499 538h4M1357 540h4M1355 538h4M1282 557h4M1363 575h4M1428 566h4M1360 622h4M1372 588h4M1407 540h4M1523 478h4M1353 605h4M1356 593h4M1298 557h4M1435 539h4M1350 577h4M1393 622h4M1412 616h4M1340 600h4M1337 589h4M1366 582h4M1365 618h4M1357 585h4M1339 590h4M1348 635h4M1456 559h4M1301 594h4M1360 578h4M1354 547h4M1444 638h4M1309 542h4M1333 566h4M1310 547h4M1422 598h4M1408 604h4M1366 632h4M1545 631h4M1380 602h4M1280 622h4M1281 571h4M1280 542h4M1316 630h4M1288 550h4M1353 608h4M1348 581h4M1298 638h4M1395 586h4M1363 580h4M1505 631h4M1306 594h4M1282 555h4M1435 594h4M1432 604h4M1343 527h4M1279 541h4M1418 619h4M1504 600h4M1392 585h4M1428 620h4M1355 619h4M1334 561h4M1296 633h4M1398 568h4M1396 588h4M1357 596h4M1281 592h4M1283 597h4M1398 551h4M1461 599h4M1425 614h4M1601 586h4M1367 576h4M1353 589h4M1288 534h4M1441 574h4M1282 590h4M1506 520h4M1295 545h4M1289 544h4M1423 563h4M1510 569h4M1296 561h4M1418 592h4M1372 554h4M1449 548h4M1283 586h4M1340 603h4M1477 598h4M1444 582h4M1278 575h4M1278 575h4M1405 566h4M1418 632h4M1337 548h4M1493 627h4M1436 574h4M1290 588h4M1434 603h4M1424 638h4M1288 589h4M1488 565h4M1347 608h4M1323 551h4M1430 583h4M1355 597h4M1431 629h4M1475 605h4M1424 604h4M1399 561h4M1371 622h4M1394 555h4M1479 553h4M1301 563h4M1336 550h4M1422 586h4M1440 584h4M1355 566h4M1396 591h4M1300 561h4M1335 620h4M1458 639h4M1442 570h4M1451 621h4M1387 603h4M1445 548h4M1385 597h4M1374 567h4M1282 633h4M1369 490h4M1287 561h4M1509 551h4M1287 554h4M1283 582h4M1284 600h4M1521 584h4M1439 606h4M1401 574h4M1280 540h4M1386 553h4M1359 629h4M1417 558h4M1289 563h4M1416 595h4M1439 603h4M1342 636h4M1288 631h4M1327 588h4M1327 528h4M1472 539h4M1324 592h4M1467 628h4M1442 616h4M1312 633h4M1403 534h4M1351 632h4M1408 580h4M1283 557h4M1289 565h4M1288 569h4M1294 597h4M1358 636h4M1499 530h4M1399 633h4M1388 600h4M1409 619h4M1332 545h4M1486 605h4M1412 587h4M1357 574h4M1461 583h4M1321 590h4M1309 596h4M1280 613h4M1283 533h4M1456 543h4M1315 515h4M1350 473h4M1339 631h4M1278 563h4M1313 544h4M1442 582h4M1305 579h4M1301 536h4M1397 577h4M1354 525h4M1357 570h4M1371 625h4M1501 607h4M1322 589h4M1311 569h4M1509 637h4M1427 567h4M1309 489h4M1349 578h4M1359 571h4M1286 638h4M1395 635h4M1425 572h4M1451 609h4M1290 539h4M1447 549h4M1367 638h4M1512 540h4M1353 589h4M1278 637h4M1288 565h4M1310 529h4M1385 547h4M1300 610h4M1385 579h4M1420 625h4M1394 536h4M1286 567h4M1382 620h4M1309 571h4M1390 546h4M1281 639h4M1509 613h4M1279 594h4M1279 538h4M1401 597h4M1478 550h4M1287 602h4M1523 593h4M1310 613h4M1349 564h4M1291 633h4M1372 567h4M1383 610h4M1337 588h4M1375 621h4M1360 549h4M1391 615h4M1311 589h4M1281 564h4M1344 542h4M1343 566h4M1331 597h4M1288 564h4M1509 517h4M1394 603h4M1309 567h4M1478 531h4M1455 558h4M1386 562h4M1408 556h4M1288 502h4M1417 582h4M1350 567h4M1334 544h4M1289 566h4M1343 499h4M1320 568h4M1304 598h4M1283 583h4M1330 573h4M1337 577h4M1306 502h4M1555 595h4M1323 558h4M1358 570h4M1280 625h4M1332 582h4M1352 639h4M1398 631h4M1281 606h4M1441 597h4M1396 542h4M1409 524h4M1406 632h4M1348 595h4M1412 595h4M1283 578h4M1459 572h4M1447 566h4M1418 565h4M1446 561h4M1287 631h4M1327 503h4M1447 579h4M1329 556h4M1412 555h4M1405 609h4M1286 448h4M1396 612h4M1358 502h4M1444 561h4M1279 552h4M1391 576h4M1395 535h4M1284 510h4M1389 513h4M1372 572h4M1457 578h4M1366 631h4M1396 572h4M1366 531h4M1434 555h4M1288 563h4M1395 598h4M1334 565h4M1296 552h4M1497 604h4M1285 540h4M1326 576h4M1431 592h4M1334 552h4M1314 621h4M1379 569h4M1410 531h4M1409 582h4M1374 517h4M1407 503h4M1409 526h4M1477 577h4M1437 577h4M1346 540h4M1330 560h4M1411 575h4M1288 594h4M1422 504h4M1450 559h4M1404 634h4M1379 557h4M1298 509h4M1496 605h4M1327 544h4M1367 504h4M1283 569h4M1468 569h4M1495 599h4M1353 560h4M1286 614h4M1360 611h4M1403 636h4M1403 550h4M1394 585h4M1327 550h4M1328 588h4M1363 635h4M1300 619h4M1503 568h4M1365 553h4M1328 569h4M1477 629h4M1376 625h4M1293 594h4M1278 618h4M1330 545h4M1490 549h4M1372 633h4M1365 618h4M1292 614h4M1399 606h4M1392 573h4M1419 612h4M1382 580h4M1364 615h4M1376 575h4M1289 584h4M1436 638h4M1303 537h4M1300 615h4M1302 532h4M1417 543h4M1359 521h4M1372 569h4M1290 583h4M1494 561h4M1286 634h4M1470 618h4M1465 540h4M1420 582h4M1362 593h4M1291 581h4M1492 524h4M1395 629h4M1377 606h4M1381 628h4M1449 597h4M1544 554h4M1425 536h4M1467 607h4M1418 547h4M1397 567h4M1326 607h4M1307 566h4M1411 590h4M1279 566h4M1317 602h4M1395 578h4M1330 549h4M1353 613h4M1604 426h4M1622 484h4M1591 437h4M1574 457h4M1596 440h4M1541 423h4M1564 414h4M1568 424h4M1512 467h4M1583 415h4M1595 435h4M1559 422h4M1603 441h4M1535 437h4M1597 415h4M1599 443h4M1549 420h4M1567 453h4M1550 444h4M1529 437h4M1520 443h4M1529 449h4M1575 463h4M1513 464h4M1559 463h4M1642 452h4M1586 437h4M1570 450h4M1549 430h4M1490 427h4M1589 443h4M1594 450h4M1558 416h4M1537 453h4M1562 441h4M1538 435h4M1593 435h4M1560 440h4M1586 472h4M1534 404h4M1517 454h4M1486 404h4M1572 452h4M1519 427h4M1601 402h4M1563 465h4M1563 399h4M1504 419h4M1586 411h4M1582 431h4M1608 405h4M1552 446h4M1572 465h4M1576 470h4M1586 465h4M1592 421h4M1572 429h4M1579 444h4M1588 436h4M1610 425h4M1596 379h4M1576 422h4M1560 446h4M1552 433h4M1590 492h4M1537 354h4M1533 396h4M1565 402h4M1549 456h4M1557 470h4M1577 410h4M1562 436h4M1575 450h4M1576 443h4M1564 441h4M1540 417h4M1585 411h4M1567 400h4M1549 404h4M1537 451h4M1567 429h4M1626 425h4M1567 409h4M1592 437h4M1553 460h4M1542 407h4M1601 470h4M1577 447h4M1532 370h4M1603 440h4M1562 442h4M1601 469h4M1604 431h4M1563 376h4M1540 393h4M1607 397h4M1633 447h4M1575 409h4M1518 403h4M1553 443h4M1584 454h4M1509 397h4M1543 435h4M1539 461h4M1551 451h4M1631 470h4M1572 468h4M1619 455h4M1574 422h4M1568 489h4M1563 454h4M1568 437h4M1612 428h4M1599 451h4M1590 424h4M1598 435h4M1531 465h4M1546 449h4M1522 408h4M1545 442h4M1600 427h4M1536 416h4M1537 412h4M1547 414h4M1524 440h4M1568 467h4M1586 431h4M1606 471h4M1572 416h4M1584 431h4M1600 474h4M1549 441h4M1549 444h4M1578 445h4M1570 423h4M1560 494h4M1566 437h4M1549 459h4M1534 450h4M1573 462h4M1550 475h4M1540 379h4M1589 401h4M1571 384h4M1602 415h4M1547 431h4M1602 443h4M1627 423h4M1552 450h4M1549 454h4M1541 439h4M1543 408h4M1559 422h4M1574 431h4M1550 454h4M1581 432h4M1533 445h4M1555 395h4M1594 366h4M1604 439h4M1618 439h4M1613 412h4M1601 425h4M1515 449h4M1544 450h4M1548 467h4M1563 454h4M1577 429h4M1610 449h4M1549 487h4M1483 477h4M1523 415h4M1575 445h4M1584 473h4M1531 440h4M1593 451h4M1572 468h4M1608 443h4M1485 447h4M1569 427h4M1560 412h4M1568 424h4M1553 453h4M1542 431h4M1554 439h4M1524 488h4M1492 417h4M1584 459h4M1548 423h4M1534 451h4M1604 457h4M1557 468h4M1560 417h4M1584 428h4M1553 440h4M1570 434h4M1539 368h4M1598 446h4M1567 407h4M1617 436h4M1585 404h4M1604 442h4M1552 435h4M1548 500h4M1593 453h4M1592 427h4M1558 456h4M1585 397h4M1559 460h4M1581 464h4M1543 425h4M1589 430h4M1552 393h4M1581 446h4M1555 457h4M1567 405h4M1568 453h4M1572 411h4M1605 474h4M1620 383h4M1581 431h4M1529 460h4M1565 407h4M1534 419h4M1607 438h4M1566 434h4M1559 418h4M1577 418h4M1552 427h4M1585 428h4M1576 424h4M1526 458h4M1587 441h4M1550 448h4M1590 450h4M1502 404h4M1618 409h4M1553 484h4M1556 384h4M1602 419h4M1543 451h4M1595 431h4M1515 428h4M1609 477h4M1613 409h4M1589 463h4M1521 399h4M1580 395h4M1575 428h4M1553 442h4M1540 494h4M1553 446h4M1546 442h4M1566 454h4M1595 436h4M1563 420h4M1584 424h4M1569 451h4M1551 426h4M1573 398h4M1562 419h4M1583 393h4M1622 470h4M1512 393h4M1575 451h4M1508 429h4M1560 467h4M1522 480h4M1579 427h4M1618 452h4M1544 442h4M1574 398h4M1536 473h4M1570 456h4M1606 451h4M1534 456h4M1547 445h4M1518 419h4M1573 444h4M1579 407h4M1549 491h4M1583 406h4M1513 463h4M1574 421h4M1557 439h4M1516 450h4M1515 413h4M1534 439h4M1582 367h4M1594 440h4M1573 468h4M1600 430h4M1563 416h4M1538 416h4M1601 373h4M1576 401h4M1526 445h4M1548 480h4M1587 454h4M1592 435h4M1573 434h4M1532 448h4M1565 479h4M1614 432h4M1586 437h4M1602 446h4M1533 450h4M1551 442h4M1575 402h4M1573 394h4M1559 435h4M1512 456h4M1574 484h4M1570 446h4M1545 407h4M1592 426h4M1640 397h4M1569 431h4M1563 463h4M1595 439h4M1631 489h4M1571 430h4M1563 438h4M1557 444h4M1631 447h4M1595 440h4M1595 443h4M1571 458h4M1554 422h4M1551 436h4M1603 446h4M1623 427h4M1545 410h4M1605 445h4M1515 445h4M1499 417h4M1560 412h4M1580 382h4M1596 404h4M1554 441h4M1543 379h4M1605 429h4M1483 438h4M1586 422h4M1574 417h4M1529 459h4M1548 446h4M1617 409h4M1478 460h4M1550 478h4M1519 414h4M1562 410h4M1569 421h4M1569 444h4M1581 434h4M1588 427h4M1577 408h4M1524 454h4M1539 435h4M1594 438h4M1551 435h4M1588 443h4M1598 398h4M1474 423h4M1628 437h4M1588 444h4M1586 447h4M1597 459h4M1591 435h4M1599 456h4M1545 452h4M1565 444h4M1552 432h4M1559 428h4M1574 437h4M1571 455h4M1558 417h4M1547 416h4M1539 448h4M1558 442h4M1537 460h4M1541 466h4M1588 448h4M1592 399h4M1550 461h4M1542 447h4M1499 455h4M1554 450h4M1569 437h4M1553 448h4M1552 407h4M1594 410h4M1585 437h4M1548 472h4M1619 443h4M1606 467h4M1635 436h4M1570 441h4M1550 460h4M1564 459h4M1564 439h4M1538 430h4M1594 459h4M1545 445h4M1499 427h4M1586 432h4M1563 415h4M1580 441h4M1549 457h4M1501 383h4M1621 428h4M1587 406h4M1564 426h4M1576 425h4M1611 409h4M1580 439h4M1562 405h4M1567 414h4M1525 402h4M1576 418h4M1564 448h4M1586 426h4M1547 466h4M1549 430h4M1511 421h4M1556 463h4M1559 445h4M1552 455h4M1602 447h4M1592 471h4M1569 458h4M1537 466h4M1572 416h4M1684 451h4M1557 457h4M1560 437h4M1589 466h4M1538 440h4M1582 432h4M1523 449h4M1566 408h4M1572 401h4M1573 432h4M1598 382h4M1567 461h4M1562 423h4M1593 474h4M1562 441h4M1589 420h4M1550 423h4M1572 451h4M1555 459h4M1568 432h4M1553 406h4M1565 442h4M1484 450h4M1604 454h4M1532 407h4M1571 423h4M1535 453h4M1629 481h4M1598 437h4M1623 409h4M1550 450h4M1570 362h4M1598 440h4M1554 425h4M1637 478h4M1594 426h4M1588 408h4M1565 498h4M1609 446h4M1567 437h4M1523 422h4M1567 415h4M1534 395h4M1567 451h4M1581 416h4M1560 455h4M1559 447h4M1513 458h4M1544 429h4M1616 439h4M1531 422h4M1503 430h4M1559 415h4M1609 381h4M1594 441h4M1567 406h4M1569 491h4M1555 436h4M1578 397h4M1573 431h4M1563 451h4M1509 447h4M1549 418h4M1543 443h4M1532 441h4M1570 426h4M1570 431h4M1542 442h4M1585 437h4M1558 449h4M1546 459h4M1587 468h4M1583 411h4M1636 427h4M1593 444h4M1577 444h4M1569 421h4M1544 434h4M1512 435h4M1557 441h4M1545 451h4M1568 425h4M1589 394h4M1561 428h4M1586 431h4M1642 432h4M1561 459h4M1554 412h4M1607 449h4M1602 477h4M1618 409h4M1540 432h4M1516 436h4M1614 453h4M1608 450h4M1569 423h4M1490 501h4M1629 431h4M1616 442h4M1603 450h4M1509 444h4M1571 437h4M1540 424h4M1568 428h4M1610 432h4M1559 468h4M1530 402h4M1524 426h4M1576 427h4M1533 417h4M1550 457h4M1542 430h4M1533 422h4M1536 422h4M1517 457h4M1606 448h4M1575 424h4" stroke="#000" stroke-width="4" stroke-opacity="0.8"/>
<path transform="scale(.25)" d="M1494 496h4M1441 461h4M1517 400h4M1370 507h4M1389 624h4M1490 580h4M1455 567h4M1396 516h4M1443 483h4M1533 551h4M1539 566h4M1508 535h4M1419 530h4M1506 363h4M1459 542h4M1451 601h4M1462 498h4M1462 446h4M1372 588h4M1508 474h4M1469 469h4M1460 482h4M1395 427h4M1550 414h4M1511 342h4M1372 525h4M1413 486h4M1422 520h4M1482 540h4M1378 510h4M1398 561h4M1396 468h4M1437 513h4M1500 447h4M1492 442h4M1473 442h4M1459 442h4M1492 358h4M1372 480h4M1389 445h4M1512 482h4M1383 502h4M1526 500h4M1437 557h4M1434 505h4M1461 571h4M1490 451h4M1363 461h4M1448 469h4M1500 463h4M1489 465h4M1422 448h4M1421 572h4M1471 446h4M1446 576h4M1509 469h4M1490 564h4M1545 486h4M1445 488h4M1504 545h4M1396 537h4M1477 504h4M1560 490h4M1476 501h4M1514 521h4M1442 576h4M1563 453h4M1384 535h4M1496 371h4M1415 488h4M1308 579h4M1514 539h4M1456 509h4M1420 551h4M1380 550h4M1429 429h4M1441 477h4M1465 524h4M1571 481h4M1515 563h4M1471 556h4M1417 621h4M1428 503h4M1522 510h4M1514 504h4M1455 430h4M1450 514h4M1487 476h4M1446 518h4M1546 340h4M1500 469h4M1541 574h4M1457 419h4M1555 415h4M1473 513h4M1488 477h4M1525 473h4M1432 459h4M1492 445h4M1413 516h4M1600 396h4M1423 478h4M1429 430h4M1585 449h4M1632 438h4M1540 477h4M1497 482h4M1547 482h4M1331 596h4M1478 512h4M1505 393h4M1411 451h4M1542 401h4M1543 433h4M1473 511h4M1511 492h4M1469 415h4M1556 453h4M1489 545h4M1363 561h4M1453 464h4M1593 337h4M1431 548h4M1446 437h4M1484 549h4M1499 487h4M1574 375h4M1559 448h4M1413 595h4M1451 487h4M1434 450h4M1451 480h4M1422 479h4M1424 563h4M1406 578h4M1499 560h4M1490 479h4M1466 529h4M1400 440h4M1518 358h4M1407 456h4M1403 353h4M1506 471h4M1358 439h4M1608 493h4M1341 495h4M1423 517h4M1465 481h4M1565 486h4M1519 403h4M1420 544h4M1439 489h4M1393 569h4M1389 541h4M1504 362h4M1469 448h4M1476 441h4M1428 561h4M1422 429h4M1441 449h4M1488 486h4M1568 424h4M1474 497h4M1438 434h4M1520 476h4M1546 325h4M1524 422h4M1509 430h4M1401 476h4M1499 526h4M1388 427h4M1438 577h4M1488 440h4M1394 460h4M1497 483h4M1423 542h4M1443 439h4M1357 573h4M1511 558h4M1539 423h4M1434 503h4M1500 622h4M1479 486h4M1437 526h4M1455 511h4M1472 452h4M1405 469h4M1448 542h4M1371 610h4M1371 554h4M1378 493h4M1469 464h4M1501 487h4M1509 517h4M1405 474h4M1458 474h4M1476 500h4M1562 437h4M1461 500h4M1411 519h4M1473 544h4M1510 489h4M1462 416h4M1535 502h4M1404 485h4M1553 398h4M1409 437h4M1411 478h4M1319 550h4M1532 410h4M1451 570h4M1477 492h4M1434 503h4M1345 598h4M1448 476h4M1448 522h4M1474 535h4M1487 593h4M1441 512h4M1492 405h4M1500 512h4M1478 419h4M1404 479h4M1449 513h4M1455 579h4M1448 441h4M1490 562h4M1429 506h4M1472 543h4M1410 520h4M1495 435h4M1422 562h4M1512 402h4M1461 469h4M1567 475h4M1584 402h4M1499 485h4M1441 400h4M1460 472h4M1487 444h4M1516 427h4M1542 578h4M1450 451h4M1416 471h4M1400 524h4M1517 419h4M1443 363h4M1521 398h4M1429 573h4M1502 492h4M1512 483h4M1540 429h4M1484 469h4M1417 471h4M1485 487h4M1587 483h4M1442 488h4M1500 510h4M1517 541h4M1456 437h4M1508 475h4M1411 520h4M1574 384h4M1395 506h4M1422 537h4M1443 458h4M1489 394h4M1577 484h4M1579 394h4M1442 430h4M1437 522h4M1447 584h4M1475 548h4M1501 494h4M1445 472h4M1478 519h4" stroke="#000" stroke-width="4" stroke-opacity="0.55"/>
<path transform="scale(.25)" d="M1529 488h4M1555 419h4M1501 416h4M1592 475h4M1443 462h4M1523 494h4M1504 436h4M1417 378h4M1560 521h4M1465 535h4M1493 472h4M1659 524h4M1541 420h4M1587 537h4M1463 411h4M1592 507h4M1421 479h4M1459 546h4M1489 515h4M1609 525h4M1467 479h4M1522 568h4M1563 592h4M1358 432h4M1685 484h4M1602 503h4M1441 493h4M1464 419h4M1621 450h4M1606 429h4M1549 413h4M1430 448h4M1618 492h4M1641 432h4M1388 384h4M1516 439h4M1648 438h4M1419 475h4M1505 548h4M1600 539h4M1415 286h4M1530 638h4M1337 576h4M1595 396h4M1649 491h4M1531 408h4M1523 612h4M1528 402h4M1552 534h4M1474 468h4M1543 515h4M1579 477h4M1536 381h4M1567 354h4M1516 466h4M1581 460h4M1445 433h4M1491 549h4M1520 465h4M1694 430h4M1668 597h4M1459 479h4M1517 447h4M1491 427h4M1438 428h4M1461 406h4M1589 409h4M1378 408h4M1614 387h4M1463 379h4M1529 485h4M1516 346h4M1472 469h4M1560 534h4M1475 427h4M1525 462h4M1685 546h4M1470 507h4M1629 398h4M1409 459h4M1712 449h4M1312 539h4M1501 592h4M1346 426h4M1502 512h4M1497 520h4M1383 508h4M1521 336h4M1604 391h4M1543 402h4M1473 406h4M1610 374h4M1651 507h4M1438 481h4M1550 449h4M1409 297h4M1452 517h4M1564 346h4M1569 501h4M1596 435h4M1478 508h4M1599 431h4M1684 476h4M1563 414h4M1596 509h4M1518 506h4M1592 466h4M1678 568h4M1538 423h4M1448 255h4M1501 622h4M1557 622h4M1478 507h4M1687 412h4M1361 448h4M1530 307h4M1541 376h4M1598 420h4M1604 457h4M1501 424h4" stroke="#000" stroke-width="4" stroke-opacity="0.45"/>
</g>
<path d="M315.6 161H318.4M316.4 151.46H318.4M316.4 145.88H318.4M316.4 141.91H318.4M316.4 138.84H318.4M316.4 136.33H318.4M316.4 134.21H318.4M316.4 132.37H318.4M316.4 130.75H318.4M315.6 129.3H318.4M316.4 119.76H318.4M316.4 114.18H318.4M316.4 110.21H318.4M316.4 107.14H318.4M316.4 104.63H318.4M316.4 102.51H318.4M316.4 100.67H318.4M316.4 99.05H318.4M315.6 97.6H318.4M316.4 88.06H318.4M316.4 82.48H318.4M316.4 78.51H318.4M316.4 75.44H318.4M316.4 72.93H318.4M316.4 70.81H318.4M316.4 68.97H318.4M316.4 67.35H318.4M315.6 65.9H318.4M316.4 56.36H318.4M316.4 50.78H318.4M316.4 46.81H318.4M316.4 43.74H318.4M316.4 41.23H318.4M316.4 39.11H318.4M316.4 37.27H318.4M316.4 35.65H318.4M315.6 34.2H318.4M318.4 161V163.8M327.84 161V163M333.36 161V163M337.27 161V163M340.31 161V163M342.8 161V163M344.89 161V163M346.71 161V163M348.32 161V163M349.75 161V163.8M359.19 161V163M364.71 161V163M368.62 161V163M371.66 161V163M374.15 161V163M376.24 161V163M378.06 161V163M379.67 161V163M381.1 161V163.8M390.54 161V163M396.06 161V163M399.97 161V163M403.01 161V163M405.5 161V163M407.59 161V163M409.41 161V163M411.02 161V163M412.45 161V163.8M421.89 161V163M427.41 161V163M431.32 161V163M434.36 161V163M436.85 161V163M438.94 161V163M440.76 161V163M442.37 161V163M443.8 161V163.8" stroke="#111" stroke-width="0.9"/>
<path d="M318.4 34.2H443.8V161" fill="none" stroke="#555" stroke-width="1.1"/>
<path d="M318.4 33.7V161H444.3" fill="none" stroke="#000" stroke-width="1.9"/>
<text x="313.5" y="166.55" font-size="7.5" text-anchor="end" fill="#222">10<tspan font-size="4.65" dy="-3.38">0</tspan></text>
<text x="313.5" y="134.85" font-size="7.5" text-anchor="end" fill="#222">10<tspan font-size="4.65" dy="-3.38">1</tspan></text>
<text x="313.5" y="103.15" font-size="7.5" text-anchor="end" fill="#222">10<tspan font-size="4.65" dy="-3.38">2</tspan></text>
<text x="313.5" y="71.45" font-size="7.5" text-anchor="end" fill="#222">10<tspan font-size="4.65" dy="-3.38">3</tspan></text>
<text x="313.5" y="39.75" font-size="7.5" text-anchor="end" fill="#222">10<tspan font-size="4.65" dy="-3.38">4</tspan></text>
<text x="317.9" y="175" font-size="7.5" text-anchor="middle" fill="#222">10<tspan font-size="4.65" dy="-3.38">0</tspan></text>
<text x="349.25" y="175" font-size="7.5" text-anchor="middle" fill="#222">10<tspan font-size="4.65" dy="-3.38">1</tspan></text>
<text x="380.6" y="175" font-size="7.5" text-anchor="middle" fill="#222">10<tspan font-size="4.65" dy="-3.38">2</tspan></text>
<text x="411.95" y="175" font-size="7.5" text-anchor="middle" fill="#222">10<tspan font-size="4.65" dy="-3.38">3</tspan></text>
<text x="443.3" y="175" font-size="7.5" text-anchor="middle" fill="#222">10<tspan font-size="4.65" dy="-3.38">4</tspan></text>
<ellipse cx="392.5" cy="103.25" rx="22.2" ry="30.6" fill="none" stroke="#333" stroke-width="0.9"/>
<text x="392" y="65.6" font-size="13.2" text-anchor="middle" textLength="24.5" lengthAdjust="spacingAndGlyphs" stroke="#000" stroke-width="0.35">14%</text>
<text transform="translate(298.02 97) rotate(-90)" font-size="13.5" text-anchor="middle" textLength="46.8" lengthAdjust="spacingAndGlyphs" stroke="#000" stroke-width="0.45">BMPRIA</text>
<path d="M293.1 33.5L293.1 69.1" stroke="#000" stroke-width="1.1"/>
<path d="M293.1 124.9L293.1 160" stroke="#000" stroke-width="1.1"/>
<text x="382.25" y="193.52" font-size="13.5" text-anchor="middle" textLength="38.5" lengthAdjust="spacingAndGlyphs" stroke="#000" stroke-width="0.45">CD161</text>
<path d="M320 188.6L357 188.6" stroke="#000" stroke-width="1.1"/>
<path d="M407.5 188.6L443 188.6" stroke="#000" stroke-width="1.1"/>
<g filter="url(#b35)">
<path transform="scale(.25)" d="M779 1255h4M641 1257h4M731 1253h4M701 1256h4M704 1220h4M712 1248h4M657 1259h4M711 1231h4M692 1221h4M818 1306h4M725 1268h4M707 1241h4M710 1235h4M698 1170h4M686 1207h4M706 1242h4M732 1288h4M711 1188h4M747 1229h4M712 1307h4M719 1270h4M764 1262h4M734 1286h4M703 1246h4M713 1244h4M734 1271h4M776 1275h4M710 1218h4M711 1296h4M748 1197h4M691 1229h4M709 1342h4M744 1234h4M735 1270h4M721 1220h4M738 1240h4M633 1228h4M749 1238h4M689 1270h4M668 1302h4M726 1276h4M739 1297h4M705 1235h4M686 1294h4M719 1267h4M716 1291h4M760 1237h4M740 1243h4M724 1291h4M751 1268h4M712 1253h4M690 1229h4M736 1247h4M735 1264h4M712 1271h4M695 1233h4M725 1239h4M643 1262h4M739 1216h4M733 1277h4M669 1249h4M720 1245h4M689 1176h4M741 1201h4M657 1217h4M691 1231h4M739 1215h4M753 1259h4M653 1252h4M703 1240h4M728 1187h4M700 1290h4M766 1240h4M682 1266h4M729 1228h4M687 1248h4M760 1269h4M717 1255h4M707 1277h4M666 1242h4M768 1308h4M741 1191h4M741 1231h4M752 1277h4M728 1240h4M699 1235h4M694 1195h4M694 1284h4M759 1191h4M674 1263h4M700 1254h4M708 1274h4M725 1291h4M735 1227h4M681 1223h4M666 1238h4M718 1196h4M754 1272h4M741 1235h4M724 1252h4M708 1213h4M727 1248h4M711 1229h4M743 1245h4M694 1214h4M722 1278h4M715 1228h4M734 1170h4M725 1266h4M795 1238h4M763 1220h4M763 1322h4M657 1245h4M708 1207h4M700 1228h4M734 1258h4M650 1240h4M753 1284h4M750 1279h4M679 1223h4M689 1248h4M694 1266h4M719 1234h4M737 1233h4M779 1273h4M712 1260h4M741 1205h4M723 1230h4M771 1234h4M740 1243h4M759 1225h4M686 1287h4M712 1218h4M694 1214h4M763 1253h4M738 1179h4M709 1216h4M704 1266h4M733 1207h4M697 1221h4M690 1279h4M732 1261h4M792 1249h4M711 1254h4M701 1227h4M683 1256h4M678 1241h4M734 1322h4M744 1263h4M718 1237h4M728 1246h4M721 1249h4M722 1206h4M672 1222h4M704 1293h4M721 1205h4M695 1230h4M704 1278h4M693 1293h4M708 1217h4M744 1291h4M706 1236h4M713 1297h4M742 1262h4M737 1239h4M769 1269h4M655 1264h4M744 1224h4M704 1312h4M722 1237h4M743 1282h4M750 1233h4M749 1193h4M723 1214h4M766 1245h4M710 1268h4M714 1300h4M742 1250h4M701 1239h4M783 1211h4M749 1246h4M783 1257h4M717 1181h4M707 1287h4M723 1282h4M740 1316h4M700 1220h4M729 1249h4M717 1248h4M766 1208h4M698 1222h4M749 1218h4M699 1263h4M689 1260h4M697 1288h4M682 1235h4M722 1205h4M749 1261h4M723 1259h4M737 1267h4M767 1285h4M726 1230h4M724 1271h4M710 1217h4M670 1252h4M741 1268h4M665 1244h4M738 1254h4M718 1206h4M752 1228h4M716 1252h4M693 1211h4M729 1222h4M701 1320h4M713 1255h4M719 1222h4M714 1216h4M712 1288h4M693 1163h4M712 1236h4M654 1264h4M713 1228h4M682 1261h4M752 1213h4M756 1244h4M659 1246h4M722 1245h4M714 1249h4M687 1246h4M734 1278h4M704 1236h4M665 1227h4M710 1236h4M714 1235h4M721 1198h4M681 1187h4M736 1203h4M740 1253h4M684 1224h4M698 1232h4M716 1330h4M701 1278h4M770 1238h4M724 1225h4M688 1285h4M694 1221h4M716 1281h4M787 1262h4M713 1286h4M722 1222h4M733 1271h4M717 1190h4M786 1239h4M702 1276h4M740 1265h4M723 1189h4M737 1264h4M683 1258h4M771 1242h4M714 1222h4M719 1235h4M690 1227h4M696 1272h4M735 1258h4M748 1276h4M741 1265h4M754 1205h4M739 1248h4M719 1308h4M743 1210h4M736 1252h4M715 1220h4M740 1217h4M757 1250h4M725 1271h4M707 1267h4M740 1258h4M775 1272h4M712 1195h4M715 1268h4M714 1256h4M755 1238h4M663 1243h4M729 1218h4M754 1279h4M694 1221h4M763 1199h4M734 1244h4M702 1226h4M724 1242h4M672 1289h4M701 1240h4M773 1247h4M691 1312h4M773 1202h4M716 1255h4M748 1279h4M719 1289h4M651 1311h4M701 1224h4M724 1262h4M683 1241h4M678 1230h4M729 1222h4M699 1200h4M667 1254h4M697 1267h4M744 1212h4M704 1267h4M746 1227h4M764 1214h4M719 1165h4M684 1277h4M679 1266h4M717 1235h4M744 1232h4M726 1205h4M734 1260h4M705 1242h4M727 1261h4M704 1250h4M708 1202h4M679 1197h4M671 1257h4M704 1193h4M685 1253h4M689 1272h4M738 1206h4M715 1265h4M805 1246h4M746 1261h4M699 1226h4M741 1245h4M729 1258h4M697 1301h4M751 1268h4M695 1261h4M626 1207h4M742 1256h4M699 1225h4M763 1244h4M699 1254h4M683 1275h4M764 1264h4M686 1252h4M724 1245h4M761 1287h4M721 1220h4M716 1248h4M721 1288h4M743 1241h4M694 1272h4M736 1274h4M735 1307h4M788 1281h4M708 1197h4M691 1247h4M740 1255h4M706 1272h4M727 1258h4M722 1303h4M753 1280h4M698 1211h4M715 1227h4M641 1184h4M691 1298h4M764 1242h4M698 1241h4M697 1197h4M681 1232h4M735 1258h4M723 1232h4M682 1232h4M738 1225h4M726 1304h4M741 1227h4M699 1200h4M770 1228h4M730 1233h4M714 1240h4M702 1235h4M711 1209h4M744 1237h4M710 1254h4M750 1200h4M735 1302h4M758 1294h4M742 1187h4M716 1231h4M661 1273h4M727 1283h4M742 1297h4M723 1186h4M735 1208h4M704 1227h4M707 1259h4M690 1210h4M759 1256h4M723 1256h4M703 1264h4M678 1203h4M713 1249h4M761 1245h4M732 1230h4M696 1283h4M761 1234h4M761 1287h4M747 1225h4M742 1296h4M753 1294h4M734 1219h4M741 1254h4M695 1254h4M763 1214h4M725 1268h4M779 1263h4M657 1218h4M739 1248h4M747 1272h4M708 1240h4M732 1223h4M740 1295h4M735 1215h4M702 1256h4M714 1280h4M749 1270h4M756 1190h4M721 1236h4M720 1242h4M724 1240h4M749 1265h4M686 1263h4M678 1250h4M722 1255h4M685 1277h4M700 1285h4M721 1189h4M732 1313h4M686 1230h4M742 1271h4M665 1198h4M734 1232h4M671 1209h4M680 1280h4M737 1274h4M706 1248h4M694 1242h4M705 1259h4M732 1219h4M716 1229h4M717 1224h4M750 1272h4M697 1248h4M704 1209h4M702 1258h4M753 1264h4M748 1290h4M757 1231h4M717 1260h4M713 1311h4M744 1238h4M706 1236h4M743 1263h4M740 1232h4M697 1248h4M716 1232h4M714 1224h4M770 1274h4M796 1236h4M715 1217h4M718 1239h4M650 1243h4M724 1256h4M718 1276h4M686 1301h4M742 1210h4M671 1240h4M712 1192h4M722 1254h4M681 1263h4M744 1227h4M750 1219h4M676 1217h4M676 1201h4M736 1266h4M717 1305h4M682 1212h4M709 1296h4M715 1243h4M714 1204h4M743 1263h4M730 1269h4M771 1258h4M759 1238h4M738 1297h4M750 1237h4M758 1265h4M739 1266h4M681 1219h4M744 1190h4M720 1193h4M767 1234h4M721 1256h4M734 1191h4M728 1224h4M768 1292h4M723 1191h4M710 1259h4M727 1256h4M705 1269h4M723 1201h4M718 1256h4M726 1203h4M776 1286h4M706 1219h4M719 1257h4M712 1221h4M738 1249h4M683 1198h4M697 1254h4M717 1263h4M734 1245h4M717 1294h4M703 1256h4M692 1269h4M733 1260h4M761 1302h4M728 1225h4M724 1237h4M731 1238h4M690 1264h4M709 1253h4M710 1271h4M727 1254h4M717 1230h4M682 1243h4M752 1259h4M769 1176h4M710 1288h4M730 1228h4M726 1235h4M742 1254h4M674 1238h4M766 1201h4M704 1239h4M756 1288h4M720 1278h4M706 1284h4M714 1229h4M745 1240h4M692 1278h4M707 1292h4M704 1247h4M667 1217h4M757 1188h4M735 1290h4M717 1200h4M753 1260h4M689 1274h4M770 1253h4M747 1244h4M651 1261h4M618 1263h4M687 1289h4M750 1269h4M704 1224h4M711 1183h4M736 1257h4M691 1227h4M724 1291h4M742 1207h4M732 1254h4M730 1225h4M700 1221h4M733 1299h4M705 1253h4M757 1242h4M795 1271h4M696 1224h4M653 1237h4M705 1228h4M729 1309h4M750 1258h4M750 1267h4M694 1283h4M694 1242h4M756 1243h4M685 1197h4M751 1263h4M711 1256h4M741 1235h4M739 1285h4M741 1193h4M743 1261h4M688 1205h4M727 1212h4M718 1241h4M727 1289h4M755 1211h4M710 1217h4M697 1210h4M696 1310h4M709 1264h4M741 1260h4M694 1312h4M753 1256h4M727 1183h4M711 1232h4M678 1211h4M725 1311h4M739 1204h4M665 1257h4M754 1232h4M767 1234h4M728 1248h4M733 1244h4M790 1227h4M755 1209h4M691 1228h4M718 1215h4M713 1220h4M713 1251h4M647 1243h4M741 1263h4M699 1240h4M723 1308h4M714 1225h4M744 1217h4M709 1280h4M694 1226h4M734 1252h4M760 1278h4M708 1245h4M759 1237h4M726 1278h4M702 1258h4M764 1231h4M693 1210h4M748 1236h4M703 1196h4M732 1220h4M681 1213h4M693 1257h4M750 1271h4M724 1227h4M719 1234h4M705 1213h4M731 1204h4M676 1234h4M684 1265h4M713 1262h4M693 1266h4M697 1239h4M716 1162h4M714 1276h4M711 1289h4M768 1276h4M748 1276h4M755 1282h4M717 1331h4M703 1258h4M674 1296h4M708 1273h4M655 1269h4M700 1244h4M741 1237h4M767 1213h4M747 1266h4M692 1238h4M733 1210h4M694 1224h4M743 1211h4M715 1298h4M744 1240h4M795 1251h4M746 1210h4M788 1216h4M723 1281h4M708 1241h4M758 1255h4M770 1305h4M701 1313h4M720 1269h4M675 1263h4M712 1255h4M745 1239h4M715 1311h4M701 1210h4M676 1245h4M729 1188h4M742 1209h4M736 1261h4M726 1262h4M680 1258h4M771 1238h4M716 1226h4M714 1231h4M740 1236h4M653 1282h4M716 1293h4M714 1262h4M729 1231h4M758 1219h4M732 1257h4M663 1241h4M708 1191h4M724 1291h4M722 1248h4M680 1238h4M668 1221h4M734 1221h4M728 1276h4M717 1219h4M666 1251h4M771 1268h4M631 1305h4M707 1267h4M781 1247h4M713 1234h4M725 1275h4M683 1279h4M759 1235h4M679 1266h4M726 1244h4M722 1197h4M686 1217h4M745 1273h4M676 1293h4M697 1269h4M717 1242h4M706 1226h4M732 1265h4M746 1258h4M709 1198h4M702 1268h4M702 1226h4M707 1269h4M742 1265h4M711 1271h4M730 1281h4M715 1270h4M693 1215h4M744 1216h4M687 1280h4M718 1263h4M763 1199h4M685 1185h4M716 1276h4M670 1317h4M703 1274h4M673 1241h4M707 1256h4M702 1163h4M722 1217h4M766 1280h4M726 1275h4M738 1182h4M716 1285h4M711 1265h4M693 1277h4M664 1242h4M720 1248h4M767 1214h4M732 1258h4M702 1276h4M767 1219h4M705 1260h4M699 1232h4M682 1281h4M689 1279h4M711 1174h4M778 1262h4M712 1280h4M687 1231h4M700 1241h4M711 1243h4M667 1212h4M722 1244h4M739 1297h4M728 1263h4M736 1296h4M679 1279h4M667 1286h4M757 1252h4M751 1272h4M672 1311h4M724 1294h4M719 1258h4M734 1226h4M724 1219h4M703 1256h4M724 1262h4M723 1191h4M717 1255h4M662 1259h4M628 1258h4M694 1231h4M669 1320h4M726 1275h4M739 1205h4M726 1226h4M707 1273h4M720 1264h4M753 1252h4M696 1247h4M746 1241h4M739 1234h4M726 1216h4M762 1266h4M696 1161h4M746 1225h4M690 1286h4M695 1223h4M686 1210h4M731 1306h4M690 1280h4M720 1242h4M684 1229h4M750 1240h4M773 1236h4M725 1239h4M767 1224h4M735 1264h4M783 1229h4M721 1190h4M671 1206h4M763 1247h4M714 1215h4M687 1169h4M698 1293h4M669 1262h4M713 1231h4M686 1230h4M763 1262h4M738 1289h4M668 1227h4M673 1259h4M701 1227h4M660 1256h4M715 1211h4M717 1189h4M695 1249h4M702 1244h4M733 1268h4M761 1225h4M763 1288h4M719 1249h4M744 1294h4M696 1235h4M730 1293h4M689 1244h4M740 1250h4M681 1276h4M689 1191h4M718 1213h4M735 1303h4M675 1199h4M702 1230h4M722 1263h4M725 1291h4M693 1230h4M721 1250h4M710 1211h4M760 1234h4M735 1278h4M678 1256h4M652 1245h4M721 1259h4M753 1250h4M723 1251h4M744 1235h4M703 1216h4M677 1267h4M740 1210h4M721 1278h4M739 1312h4M677 1293h4M723 1318h4M699 1214h4M742 1254h4M701 1221h4M700 1224h4M700 1193h4M756 1209h4M719 1273h4M695 1268h4M687 1284h4M687 1282h4M762 1271h4M664 1222h4M692 1243h4M737 1270h4M753 1286h4M714 1236h4M742 1232h4M741 1234h4M748 1297h4M719 1265h4M768 1238h4M724 1224h4M764 1261h4M686 1196h4M747 1241h4M681 1230h4M674 1230h4M734 1254h4M694 1261h4M732 1342h4M687 1251h4M767 1270h4M719 1223h4M685 1197h4M724 1283h4M746 1309h4M696 1217h4M735 1246h4M781 1283h4M745 1251h4M719 1174h4M702 1280h4M737 1244h4M674 1271h4M628 1219h4M700 1276h4M687 1281h4M772 1226h4M724 1264h4M690 1229h4M685 1233h4M735 1220h4M695 1235h4M702 1228h4M717 1285h4M723 1242h4M723 1214h4M723 1291h4M759 1265h4M771 1279h4M670 1247h4M797 1270h4M724 1246h4M757 1219h4M698 1252h4M730 1253h4M727 1253h4M724 1275h4M746 1195h4M739 1258h4M690 1224h4M717 1240h4M742 1263h4M741 1251h4M710 1228h4M712 1272h4M716 1247h4M687 1278h4M682 1287h4M767 1238h4M708 1216h4M723 1252h4M698 1275h4M759 1259h4M773 1214h4M714 1197h4M736 1221h4M698 1220h4M773 1269h4M748 1252h4M695 1277h4M758 1247h4M731 1301h4M733 1250h4M731 1267h4M700 1237h4M704 1264h4M739 1283h4M719 1274h4M692 1289h4M781 1231h4M714 1264h4M703 1302h4M699 1258h4M741 1245h4M749 1243h4M727 1234h4M746 1255h4M675 1293h4M709 1264h4M706 1249h4M720 1226h4M735 1215h4M659 1323h4M814 1236h4M694 1253h4M730 1235h4M745 1255h4M745 1237h4M727 1253h4M632 1294h4M687 1227h4M742 1266h4M692 1248h4M688 1272h4M649 1229h4M756 1262h4M735 1220h4M693 1194h4M715 1209h4M716 1220h4M686 1215h4M711 1239h4M727 1282h4M736 1214h4M757 1262h4M720 1253h4M705 1227h4M731 1220h4M700 1261h4M681 1263h4M753 1238h4M707 1244h4M722 1248h4M738 1208h4M685 1251h4M738 1257h4M732 1301h4M716 1209h4M730 1222h4M696 1251h4M652 1230h4M710 1236h4M691 1248h4M745 1239h4M726 1247h4M703 1261h4M720 1199h4M759 1265h4M753 1180h4M730 1300h4M731 1276h4M710 1230h4M715 1279h4M736 1244h4M715 1261h4M727 1271h4M685 1259h4M668 1248h4M668 1267h4M705 1243h4M758 1237h4M754 1220h4M689 1194h4M672 1296h4M742 1272h4M732 1206h4M677 1260h4M750 1255h4M724 1182h4M758 1223h4M729 1245h4M745 1300h4M728 1282h4M690 1286h4M711 1258h4M698 1279h4M743 1213h4M689 1267h4M672 1271h4M739 1211h4M753 1256h4M762 1295h4M751 1307h4M673 1292h4M697 1228h4M702 1246h4M718 1233h4M654 1286h4M718 1224h4M727 1218h4M690 1200h4M722 1255h4M754 1262h4M720 1231h4M750 1226h4M749 1244h4M731 1290h4M730 1209h4M707 1248h4M756 1256h4M704 1261h4M697 1287h4M740 1274h4M697 1258h4M731 1293h4M750 1284h4M721 1258h4M722 1257h4M746 1214h4M741 1253h4M672 1226h4M679 1215h4M758 1241h4M730 1198h4M656 1223h4M678 1234h4M719 1259h4M689 1240h4M733 1261h4M721 1297h4M733 1274h4M683 1214h4M737 1195h4M777 1221h4M695 1222h4M758 1189h4M748 1197h4M738 1197h4M717 1230h4M684 1291h4M692 1299h4M742 1217h4M748 1234h4M755 1206h4M748 1198h4M746 1244h4M706 1248h4M682 1227h4M725 1265h4M734 1236h4M721 1279h4M673 1231h4M703 1271h4M674 1239h4M723 1249h4M687 1264h4M714 1205h4M728 1223h4M723 1243h4M760 1237h4M686 1253h4M653 1221h4M747 1205h4M761 1242h4M762 1254h4M727 1221h4M735 1282h4M723 1266h4M680 1271h4M702 1269h4M734 1220h4M702 1309h4M776 1225h4M673 1258h4M706 1268h4M752 1257h4M701 1253h4M685 1223h4M678 1236h4M697 1249h4M764 1287h4M731 1228h4M734 1269h4M703 1262h4M744 1251h4M722 1232h4M691 1245h4M705 1197h4M725 1253h4M754 1259h4M717 1234h4M734 1266h4M780 1260h4M695 1228h4M682 1276h4M749 1235h4M732 1323h4M716 1220h4M727 1226h4M709 1232h4M735 1258h4M709 1285h4M743 1253h4M684 1239h4M695 1308h4M723 1281h4M705 1242h4M740 1247h4M718 1205h4M703 1252h4M725 1302h4M703 1215h4M672 1208h4M685 1254h4M695 1178h4M705 1292h4M722 1205h4M746 1228h4M736 1245h4M773 1286h4M757 1261h4M714 1192h4M769 1198h4M755 1255h4M706 1186h4M729 1240h4M752 1224h4M727 1272h4M750 1284h4M731 1173h4M740 1261h4M710 1267h4M731 1225h4M708 1230h4M740 1211h4M669 1237h4M729 1259h4M757 1287h4M737 1290h4M719 1239h4M736 1222h4M694 1277h4M694 1164h4M709 1205h4M715 1266h4M748 1314h4M693 1223h4M749 1250h4M672 1213h4M696 1245h4M718 1245h4M754 1224h4M701 1259h4M655 1242h4M732 1262h4M719 1241h4M687 1211h4M688 1251h4M699 1273h4M722 1224h4M739 1288h4M675 1261h4M788 1237h4M718 1249h4M708 1235h4M740 1220h4M723 1275h4M789 1275h4M752 1234h4M708 1242h4M708 1241h4M704 1269h4M709 1292h4M740 1228h4M700 1257h4M768 1247h4M717 1265h4M715 1291h4M748 1222h4M660 1186h4M691 1243h4M737 1200h4M720 1298h4M719 1227h4M731 1240h4M701 1255h4M714 1254h4M678 1236h4M663 1248h4M757 1277h4M691 1239h4M698 1304h4M761 1259h4M751 1178h4M703 1275h4M703 1196h4M717 1259h4M691 1316h4M736 1281h4M724 1215h4M723 1224h4M742 1249h4M741 1292h4M774 1227h4M765 1282h4M668 1258h4M746 1246h4M686 1244h4M676 1299h4M740 1204h4M698 1215h4M710 1276h4M751 1279h4M699 1210h4M692 1221h4M729 1214h4M756 1265h4M735 1229h4M673 1292h4M700 1272h4M715 1257h4M777 1255h4M746 1265h4M745 1274h4M755 1249h4M710 1256h4M734 1272h4M734 1247h4M690 1279h4M719 1245h4M736 1226h4M687 1254h4M743 1298h4M742 1294h4M750 1201h4M696 1258h4M722 1234h4M763 1239h4M743 1238h4M695 1241h4M726 1233h4M762 1240h4M717 1255h4M731 1212h4M796 1211h4M718 1214h4M716 1214h4M689 1266h4M699 1215h4M764 1246h4M715 1250h4M683 1269h4M691 1249h4M719 1280h4M742 1246h4M697 1255h4M740 1271h4M704 1204h4M730 1260h4M734 1293h4M737 1251h4M706 1241h4M714 1305h4M734 1251h4M680 1285h4M724 1177h4M734 1251h4M750 1233h4M717 1260h4M713 1284h4M723 1244h4M696 1241h4M712 1163h4M730 1272h4M727 1288h4M687 1253h4M708 1234h4M655 1259h4M742 1279h4M702 1267h4M725 1310h4M685 1231h4M715 1207h4M731 1263h4M747 1286h4M677 1234h4M743 1248h4M713 1229h4M694 1210h4M732 1226h4M709 1186h4M709 1256h4M696 1262h4M724 1275h4M719 1223h4M712 1229h4M689 1197h4M702 1204h4M730 1275h4M756 1333h4M717 1216h4M760 1236h4M717 1276h4M685 1227h4M736 1265h4M688 1239h4M729 1239h4M749 1275h4M708 1240h4M715 1210h4M791 1273h4M725 1249h4M725 1231h4M741 1224h4M714 1265h4M715 1226h4M729 1251h4M646 1278h4M760 1245h4M685 1281h4M685 1206h4M734 1266h4M718 1264h4M680 1304h4M724 1249h4M683 1275h4M697 1243h4M672 1216h4M693 1222h4M729 1227h4M721 1271h4M727 1225h4M745 1249h4M716 1275h4M698 1285h4M709 1276h4M767 1293h4M718 1214h4M727 1233h4M715 1258h4M725 1281h4M730 1263h4M717 1225h4M713 1242h4M694 1198h4M692 1272h4M730 1194h4M740 1254h4M745 1280h4M719 1275h4M693 1200h4M736 1254h4M736 1238h4M672 1239h4M741 1297h4M735 1257h4M767 1205h4M684 1216h4M679 1269h4M741 1255h4M664 1214h4M696 1198h4M685 1231h4M687 1235h4M660 1272h4M710 1229h4M747 1268h4M731 1284h4M731 1200h4M707 1230h4M761 1294h4M733 1234h4M749 1247h4M671 1276h4M728 1225h4M683 1235h4M728 1198h4M724 1264h4M684 1233h4M723 1236h4M752 1170h4M733 1276h4M736 1268h4M692 1223h4M698 1284h4M685 1173h4M722 1245h4M753 1196h4M731 1328h4M718 1168h4M685 1210h4M731 1224h4M711 1270h4M661 1271h4M666 1258h4M708 1239h4M691 1310h4M767 1224h4M719 1255h4M687 1299h4M703 1209h4M766 1222h4M690 1279h4M741 1260h4M731 1206h4M762 1247h4M734 1304h4M706 1238h4M734 1270h4M720 1250h4M747 1225h4M716 1294h4M777 1275h4M715 1282h4M731 1241h4M699 1249h4M722 1252h4M719 1259h4M723 1235h4M745 1230h4M702 1285h4M693 1212h4M751 1232h4M710 1234h4M698 1230h4M753 1209h4M742 1222h4M639 1270h4M707 1235h4M742 1223h4M743 1296h4M703 1205h4M765 1277h4M695 1256h4M712 1205h4M722 1233h4M718 1234h4M743 1284h4M749 1273h4M717 1237h4M760 1210h4M698 1194h4M712 1240h4M770 1203h4M722 1240h4M751 1239h4M706 1257h4M711 1275h4M716 1249h4M724 1259h4M709 1240h4M719 1277h4M739 1270h4M755 1293h4M722 1287h4M738 1223h4M746 1201h4M687 1265h4M672 1280h4M767 1225h4M758 1290h4M721 1248h4M729 1243h4M691 1256h4M678 1203h4M728 1196h4M675 1235h4M746 1210h4M699 1244h4M728 1245h4M777 1167h4M775 1220h4M711 1260h4M751 1174h4M688 1234h4M701 1204h4M730 1185h4M760 1278h4M702 1277h4M735 1231h4M722 1229h4M681 1286h4M715 1280h4M764 1244h4M716 1270h4M734 1247h4M744 1235h4M697 1263h4M756 1231h4M764 1262h4M767 1236h4M758 1230h4M705 1227h4M701 1258h4M695 1272h4M692 1257h4M695 1218h4M748 1262h4M762 1217h4M700 1210h4M743 1238h4M681 1268h4M709 1265h4M689 1261h4M670 1285h4M720 1270h4M721 1233h4M706 1268h4M703 1236h4M689 1256h4M715 1262h4M700 1242h4M726 1200h4M682 1240h4M725 1236h4M734 1242h4M756 1232h4M750 1211h4M724 1197h4M698 1265h4M663 1269h4M718 1257h4M761 1244h4M768 1304h4M642 1265h4M696 1246h4M708 1271h4M687 1244h4M724 1267h4M719 1254h4M703 1262h4M717 1248h4M670 1233h4M689 1261h4M691 1280h4M745 1219h4M669 1231h4M712 1214h4M742 1272h4M717 1240h4M743 1273h4M699 1223h4M731 1271h4M745 1229h4M785 1233h4M740 1263h4M761 1235h4M719 1229h4M721 1273h4M765 1245h4M736 1284h4M761 1322h4M740 1230h4M782 1237h4M790 1202h4M693 1212h4M774 1265h4M732 1256h4M733 1255h4M715 1261h4M740 1222h4M685 1197h4M697 1279h4M696 1254h4M727 1281h4M746 1246h4M741 1269h4M730 1231h4M701 1247h4M666 1242h4M731 1258h4M723 1289h4M730 1266h4M762 1161h4M713 1244h4M713 1247h4M649 1271h4M736 1251h4M717 1226h4M697 1224h4M730 1237h4M688 1226h4M703 1289h4M778 1265h4M741 1249h4M747 1276h4M741 1311h4M738 1241h4M725 1246h4M787 1238h4M717 1211h4M741 1229h4M712 1220h4M708 1262h4M646 1261h4M661 1273h4M765 1224h4M763 1277h4M706 1218h4M718 1242h4M737 1286h4M689 1284h4M772 1280h4M687 1310h4M697 1279h4M636 1240h4M764 1241h4M720 1225h4M767 1255h4M688 1225h4M729 1229h4M721 1219h4M724 1198h4M781 1321h4M786 1274h4M760 1186h4M706 1261h4M745 1231h4M759 1184h4M735 1242h4M735 1254h4M733 1265h4M691 1281h4M726 1223h4M766 1246h4M688 1268h4M721 1264h4M743 1259h4M677 1251h4M714 1285h4M667 1211h4M700 1204h4M676 1300h4M691 1261h4M704 1281h4M710 1255h4M712 1237h4M646 1235h4M766 1253h4M710 1234h4M685 1246h4M699 1246h4M727 1273h4M688 1272h4M706 1296h4M704 1228h4M734 1248h4M696 1278h4M732 1260h4M728 1177h4M714 1260h4M755 1249h4M719 1235h4M683 1237h4M727 1228h4M722 1284h4M717 1270h4M725 1256h4M788 1283h4M725 1278h4M732 1226h4M711 1219h4M757 1220h4M716 1273h4M694 1250h4M681 1286h4M734 1266h4M740 1245h4M670 1214h4M696 1243h4M737 1317h4M749 1231h4M678 1227h4M706 1245h4M743 1291h4M702 1250h4M704 1218h4M702 1233h4M679 1247h4M719 1253h4M727 1281h4M676 1325h4M721 1291h4M751 1270h4M724 1250h4M746 1227h4M701 1268h4M759 1289h4M694 1275h4M775 1247h4M704 1271h4M696 1245h4M691 1246h4M706 1244h4M703 1253h4M697 1249h4M708 1281h4M738 1251h4M744 1248h4M708 1281h4M755 1271h4M688 1284h4M687 1228h4M684 1289h4M736 1250h4M671 1220h4M676 1246h4M756 1214h4M769 1221h4M758 1238h4M673 1278h4M718 1211h4M743 1258h4M721 1242h4M669 1295h4M708 1255h4M667 1267h4M681 1291h4M782 1218h4M738 1240h4M674 1206h4M673 1225h4M731 1259h4M699 1244h4M735 1261h4M698 1237h4M712 1229h4M725 1245h4M687 1223h4M660 1216h4M682 1202h4M697 1245h4M712 1261h4M716 1212h4M716 1234h4M733 1181h4M691 1212h4M759 1249h4M778 1209h4M729 1259h4M723 1235h4M755 1257h4M737 1230h4M723 1205h4M713 1246h4M695 1267h4M682 1231h4M737 1257h4M753 1226h4M686 1236h4M715 1282h4M724 1246h4M705 1219h4M695 1262h4M706 1248h4M658 1231h4M716 1266h4M709 1162h4M781 1263h4M746 1301h4M707 1255h4M717 1191h4M769 1286h4M766 1319h4M723 1263h4M714 1216h4M674 1227h4M708 1243h4M712 1252h4M695 1281h4M769 1263h4M661 1181h4M713 1238h4M730 1243h4M731 1301h4M768 1230h4M676 1206h4M695 1238h4M720 1255h4M721 1193h4M706 1278h4M695 1243h4M750 1271h4M686 1267h4M700 1262h4M761 1288h4M769 1295h4M744 1235h4M692 1245h4M692 1277h4M690 1252h4M683 1230h4M705 1250h4M756 1222h4M724 1233h4M695 1147h4M694 1251h4M682 1301h4M754 1269h4M657 1268h4M726 1253h4M674 1225h4M686 1262h4M673 1249h4M746 1244h4M715 1255h4M799 1231h4M686 1252h4M684 1267h4M735 1277h4M734 1252h4M709 1272h4M656 1253h4M760 1182h4M734 1191h4M729 1242h4M699 1215h4M736 1264h4M700 1209h4M718 1236h4M711 1232h4M754 1226h4M703 1231h4M706 1247h4M750 1250h4M723 1232h4M716 1253h4M709 1263h4M745 1242h4M697 1228h4M731 1228h4M777 1234h4M728 1232h4M693 1250h4M680 1326h4M721 1281h4M679 1249h4M668 1265h4M693 1265h4M683 1285h4M742 1290h4M673 1220h4M764 1314h4M694 1223h4M720 1251h4M736 1224h4M723 1199h4M738 1196h4M686 1307h4M648 1292h4M710 1220h4M665 1216h4M698 1293h4M744 1221h4M710 1262h4M698 1309h4M682 1271h4M707 1293h4M710 1256h4M668 1199h4M724 1225h4M683 1197h4M722 1258h4M702 1210h4M745 1253h4M741 1234h4M716 1228h4M712 1264h4M729 1235h4M757 1224h4M748 1278h4M721 1247h4M725 1205h4M763 1283h4M667 1207h4M733 1255h4M689 1264h4M757 1240h4M702 1224h4M713 1239h4M684 1238h4M717 1216h4M741 1273h4M767 1230h4M679 1227h4M704 1289h4M835 1226h4M746 1203h4M717 1246h4M733 1248h4M638 1249h4M766 1309h4M722 1231h4M675 1288h4M753 1274h4M699 1291h4M687 1245h4M734 1239h4M730 1242h4M704 1258h4M716 1277h4M678 1297h4M675 1196h4M745 1280h4M758 1260h4M731 1250h4M729 1218h4M706 1259h4M714 1195h4M690 1286h4M771 1221h4M701 1245h4M730 1244h4M718 1266h4M676 1210h4M776 1274h4M707 1261h4M695 1295h4M721 1258h4M691 1245h4M719 1193h4M689 1238h4M735 1298h4M720 1235h4M677 1234h4M749 1245h4M724 1274h4M685 1197h4M729 1302h4M731 1266h4M774 1270h4M692 1249h4M744 1307h4M715 1236h4M737 1273h4M710 1252h4M716 1212h4M733 1245h4M682 1270h4M655 1241h4M718 1237h4M705 1248h4M721 1223h4M738 1216h4M712 1251h4M754 1221h4M717 1266h4M722 1270h4M744 1287h4M736 1278h4M716 1241h4M723 1261h4M696 1215h4M700 1262h4M722 1234h4M743 1289h4M706 1228h4M744 1254h4M777 1226h4M784 1267h4M720 1268h4M751 1219h4M738 1307h4M743 1264h4M745 1207h4M735 1222h4M744 1195h4M725 1190h4M712 1245h4M727 1187h4M734 1260h4M756 1200h4M731 1237h4M742 1299h4M763 1238h4M692 1248h4M712 1285h4M736 1239h4M720 1264h4M689 1225h4M749 1237h4M718 1252h4M690 1249h4M777 1226h4M681 1255h4M719 1266h4M699 1267h4M723 1250h4M736 1220h4M695 1269h4M716 1274h4M716 1219h4M689 1180h4M755 1243h4M725 1278h4M711 1274h4M699 1213h4M709 1287h4M724 1222h4M705 1275h4M757 1235h4M643 1277h4M655 1263h4M712 1241h4M664 1269h4M717 1228h4M700 1236h4M737 1238h4M732 1222h4M759 1275h4M747 1275h4M757 1248h4M735 1219h4M751 1261h4M734 1256h4M702 1266h4M682 1247h4M683 1241h4M734 1288h4M648 1229h4M725 1242h4M697 1194h4M741 1236h4M725 1233h4M697 1237h4M720 1264h4M651 1229h4M727 1259h4M733 1236h4M664 1233h4M745 1192h4M716 1259h4M725 1265h4M677 1217h4M738 1229h4M737 1192h4M719 1235h4M690 1213h4M742 1257h4M757 1242h4M732 1263h4M750 1220h4M702 1195h4M724 1243h4M731 1227h4M724 1299h4M805 1252h4M733 1287h4M703 1260h4M745 1235h4M688 1200h4M731 1238h4M743 1263h4M706 1247h4M711 1255h4M692 1254h4M725 1206h4M700 1254h4M773 1221h4M740 1244h4M714 1285h4M678 1187h4M782 1237h4M760 1255h4M735 1277h4M727 1247h4M726 1221h4M707 1268h4M778 1262h4M727 1193h4M678 1247h4M701 1195h4M644 1167h4M741 1216h4M744 1218h4M774 1182h4M784 1301h4M698 1207h4M735 1257h4M751 1267h4M745 1311h4M706 1236h4M745 1294h4M736 1213h4M762 1246h4M720 1235h4M714 1217h4M706 1257h4M709 1304h4M698 1310h4M711 1268h4M736 1214h4M734 1223h4M760 1265h4M753 1265h4M739 1264h4M686 1239h4M738 1220h4M755 1261h4M681 1247h4M687 1290h4M692 1227h4M689 1273h4M711 1288h4M692 1307h4M732 1306h4M684 1217h4M716 1213h4M705 1252h4M691 1222h4M751 1177h4M721 1292h4M736 1263h4M710 1279h4M741 1254h4M738 1283h4M715 1256h4M666 1252h4M744 1306h4M740 1214h4M721 1278h4M593 1279h4M778 1252h4M675 1266h4M616 1162h4M579 1305h4M675 1134h4M806 1250h4M718 1211h4M594 1276h4M565 1208h4M858 1304h4M653 1276h4M599 1290h4M696 1314h4M722 1317h4M782 1248h4M675 1300h4M644 1283h4M728 1298h4M639 1266h4M709 1126h4M698 1245h4M746 1256h4M645 1232h4M646 1221h4M704 1265h4M715 1222h4M598 1291h4M638 1322h4M697 1258h4M664 1301h4M824 1196h4M730 1206h4M762 1241h4M682 1208h4M692 1260h4M694 1261h4M751 1339h4M667 1230h4M782 1323h4M642 1205h4M747 1246h4M703 1300h4M665 1275h4M783 1133h4M746 1256h4M676 1282h4M641 1180h4M737 1235h4M638 1242h4M720 1279h4M633 1323h4M693 1188h4M635 1212h4M675 1339h4M787 1320h4M658 1257h4M671 1311h4M586 1135h4M705 1282h4M755 1209h4M636 1187h4M632 1203h4M709 1310h4M653 1335h4M699 1234h4M781 1241h4M715 1319h4M728 1224h4M801 1272h4M702 1291h4M729 1320h4M691 1245h4M642 1115h4M785 1249h4M604 1295h4M693 1235h4M618 1230h4M638 1210h4M610 1281h4M672 1268h4M716 1273h4M766 1259h4M574 1325h4M701 1276h4M664 1256h4M650 1202h4M681 1238h4M700 1259h4M681 1335h4M688 1284h4M820 1242h4M694 1298h4M708 1292h4M619 1236h4M754 1283h4M657 1204h4M682 1265h4M682 1310h4M632 1292h4M610 1305h4M604 1296h4M665 1200h4M689 1237h4M731 1225h4M788 1284h4M800 1307h4M646 1253h4M733 1203h4M635 1275h4M756 1259h4M751 1274h4M631 1262h4M734 1286h4M776 1231h4M717 1276h4M673 1311h4M680 1270h4M719 1289h4M646 1228h4M711 1305h4M676 1256h4M646 1227h4M632 1250h4M724 1241h4M636 1252h4M704 1233h4M679 1307h4M697 1285h4M712 1284h4M747 1256h4M722 1302h4M724 1249h4M675 1257h4M629 1221h4M621 1322h4M645 1320h4M705 1316h4M751 1317h4M712 1140h4M703 1265h4M736 1312h4M671 1285h4M701 1180h4M684 1275h4M703 1294h4M678 1232h4M614 1201h4M668 1229h4M642 1108h4M794 1272h4M776 1215h4M653 1242h4M639 1249h4M692 1253h4M601 1338h4M764 1214h4M687 1245h4M662 1149h4M752 1222h4M766 1158h4M699 1295h4M749 1255h4M591 1225h4M644 1300h4M639 1204h4M593 1247h4M741 1214h4M832 1208h4M610 1244h4M655 1225h4M752 1249h4M671 1200h4M688 1176h4M641 1325h4M708 1276h4M630 1238h4M733 1267h4M719 1206h4M710 1276h4M643 1182h4M675 1281h4M716 1276h4M635 1254h4M630 1294h4M563 1254h4M656 1332h4M679 1290h4M744 1180h4M616 1207h4M602 1342h4M759 1230h4M753 1276h4M620 1230h4M658 1336h4M579 1315h4M684 1300h4M764 1238h4M734 1244h4M625 1330h4M704 1231h4M645 1150h4M706 1339h4M655 1310h4M725 1193h4M763 1274h4M707 1291h4M709 1271h4M740 1324h4M663 1221h4M678 1253h4M679 1308h4M766 1309h4M698 1244h4M722 1319h4M667 1219h4M608 1304h4M670 1171h4M717 1286h4M655 1339h4M666 1219h4M719 1109h4M714 1275h4M689 1316h4M633 1266h4M648 1273h4M902 1190h4M678 1233h4M725 1195h4M707 1193h4M607 1231h4M767 1332h4M693 1278h4M636 1219h4M733 1250h4M655 1210h4M707 1229h4M610 1268h4M678 1181h4M728 1273h4M659 1225h4M605 1313h4M640 1209h4M728 1268h4M594 1213h4M606 1284h4M733 1167h4M694 1230h4M685 1212h4M661 1175h4M711 1238h4M737 1247h4M714 1226h4M584 1204h4M725 1221h4M590 1220h4M789 1311h4M661 1284h4M723 1325h4M707 1306h4M650 1334h4M758 1262h4M701 1274h4M814 1265h4M727 1241h4M708 1295h4M838 1282h4M772 1287h4M690 1276h4M643 1316h4M804 1191h4M763 1292h4M763 1261h4M671 1231h4M655 1247h4M638 1289h4M759 1305h4M681 1252h4M730 1300h4M562 1283h4M752 1316h4M648 1316h4M614 1246h4M714 1207h4M780 1335h4M570 1223h4M607 1306h4M696 1268h4M662 1259h4M626 1249h4M693 1160h4M599 1296h4M666 1264h4M636 1234h4M694 1245h4M682 1329h4M746 1285h4M700 1308h4M792 1253h4M591 1281h4M671 1313h4M733 1252h4M693 1331h4M564 1254h4M706 1338h4M658 1238h4M834 1244h4M681 1273h4M728 1250h4M630 1262h4M729 1266h4M626 1243h4M665 1327h4M591 1312h4M746 1275h4M688 1258h4M787 1339h4M603 1139h4M638 1244h4M727 1261h4M657 1295h4M738 1270h4M727 1314h4M643 1296h4M695 1323h4M720 1237h4M703 1292h4M676 1334h4M659 1235h4M675 1278h4M748 1196h4M813 1288h4M603 1228h4M628 1299h4M679 1209h4M776 1269h4M637 1215h4M829 1265h4M826 1288h4M564 1335h4M730 1288h4M726 1291h4M577 1321h4M706 1213h4M666 1293h4M761 1272h4M724 1308h4M633 1292h4M809 1175h4M802 1236h4M781 1331h4M695 1308h4M748 1220h4M698 1238h4M659 1249h4M579 1193h4M709 1092h4M572 1287h4M735 1206h4M609 1223h4M705 1219h4M675 1238h4M623 1235h4M629 1337h4M657 1241h4M782 1288h4M715 1256h4M675 1324h4M742 1264h4M621 1154h4M754 1293h4M673 1175h4M697 1326h4M697 1276h4M664 1215h4M765 1228h4M733 1318h4M637 1224h4M627 1248h4M686 1218h4M633 1284h4M688 1211h4M733 1287h4M692 1241h4M700 1337h4M658 1233h4M639 1262h4M626 1308h4M767 1303h4M641 1178h4M693 1268h4M695 1279h4M715 1294h4M667 1250h4M590 1337h4M815 1331h4M623 1240h4M724 1204h4M622 1256h4M728 1290h4M623 1318h4M791 1201h4M716 1228h4M591 1160h4M791 1212h4M572 1321h4M756 1303h4M664 1258h4M766 1252h4M690 1332h4M651 1330h4M764 1278h4M690 1239h4M658 1227h4M745 1267h4M672 1335h4M603 1255h4M642 1249h4M839 1281h4M828 1253h4M591 1316h4M736 1213h4M763 1271h4M670 1230h4M729 1309h4M624 1273h4M666 1225h4M751 1236h4M683 1261h4M677 1339h4M671 1291h4M603 1277h4M623 1209h4M653 1182h4M678 1179h4M632 1228h4M802 1280h4M577 1261h4M619 1318h4M645 1202h4M718 1248h4M596 1245h4M701 1207h4M633 1145h4M636 1216h4M712 1306h4M737 1167h4M749 1303h4M613 1304h4M749 1250h4M751 1273h4M706 1251h4M714 1259h4M689 1333h4M677 1318h4M740 1310h4M790 1272h4M671 1252h4M710 1272h4M745 1192h4M602 1213h4M789 1262h4M711 1165h4M778 1258h4M671 1251h4M635 1248h4M680 1251h4M708 1223h4M631 1340h4M745 1157h4M706 1219h4M624 1164h4M719 1273h4M680 1303h4M692 1342h4M665 1218h4M646 1290h4M615 1209h4M697 1251h4M693 1289h4M720 1178h4M647 1246h4M718 1222h4M743 1274h4M619 1297h4M703 1178h4M827 1249h4M659 1183h4M671 1135h4M687 1197h4M657 1220h4M743 1191h4M684 1196h4M682 1322h4M641 1260h4M722 1311h4M683 1330h4M664 1264h4M669 1332h4M786 1280h4M688 1264h4M705 1215h4M771 1239h4M682 1277h4M748 1262h4M626 1270h4M729 1276h4M698 1216h4M662 1236h4M644 1229h4M755 1187h4M734 1252h4M741 1211h4M781 1308h4M721 1214h4M724 1268h4M685 1152h4M804 1247h4M743 1308h4M640 1258h4M635 1290h4M643 1266h4M643 1240h4M767 1281h4M706 1277h4M753 1276h4M641 1225h4M641 1230h4M762 1112h4M565 1260h4M614 1200h4M559 1215h4M646 1297h4M845 1264h4M640 1275h4M751 1217h4M788 1280h4M647 1256h4M644 1265h4M708 1249h4M728 1340h4M591 1197h4M638 1268h4M788 1270h4M638 1304h4M710 1282h4M750 1231h4M667 1264h4M677 1335h4M653 1312h4M647 1236h4M650 1267h4M588 1251h4M656 1326h4M674 1236h4M731 1326h4M647 1251h4M686 1247h4M673 1249h4M655 1298h4M687 1232h4M634 1264h4M656 1198h4M635 1238h4M613 1264h4M660 1189h4M603 1296h4M792 1298h4M617 1253h4M794 1293h4M707 1293h4M741 1218h4M776 1287h4M587 1270h4M787 1225h4M718 1279h4M659 1204h4M642 1112h4M710 1282h4M591 1272h4M679 1243h4M737 1306h4M697 1215h4M664 1201h4M667 1244h4M638 1272h4M767 1259h4M690 1319h4M722 1323h4M720 1197h4M732 1236h4M719 1336h4M768 1335h4M653 1204h4M632 1226h4M672 1217h4M696 1331h4M763 1163h4M751 1257h4M727 1214h4M646 1286h4M723 1334h4M704 1293h4M738 1321h4M692 1330h4M669 1340h4M701 1286h4M649 1167h4M640 1186h4M707 1315h4M693 1300h4M753 1324h4M702 1250h4M622 1241h4M775 1168h4M791 1205h4M627 1256h4M656 1227h4M752 1176h4M704 1337h4M604 1262h4M760 1274h4M697 1266h4M712 1258h4M762 1204h4M652 1304h4M648 1230h4M731 1206h4M747 1324h4M698 1265h4M760 1291h4M716 1160h4M642 1216h4M678 1200h4M754 1238h4M640 1209h4M643 1213h4M698 1285h4M674 1335h4M634 1247h4M592 1260h4M771 1263h4M693 1270h4M775 1194h4M694 1185h4M680 1226h4M596 1254h4M762 1208h4M672 1266h4M702 1331h4M630 1264h4M780 1202h4M598 1273h4M801 1277h4M664 1217h4M668 1274h4M648 1144h4M771 1285h4M637 1273h4M636 1267h4M631 1228h4M717 1334h4M720 1298h4M645 1333h4M718 1231h4M779 1303h4M729 1339h4M710 1337h4M627 1214h4M780 1261h4M728 1228h4M603 1247h4M643 1262h4M566 1334h4M717 1342h4M613 1255h4M671 1309h4M769 1231h4M602 1196h4M737 1163h4M668 1217h4M762 1272h4M710 1290h4M644 1317h4M716 1158h4M650 1249h4M634 1263h4M662 1328h4M744 1283h4M590 1173h4M607 1170h4M737 1277h4M601 1271h4M672 1186h4M666 1187h4M607 1265h4M640 1191h4M677 1279h4M679 1247h4M722 1245h4M697 1335h4M739 1216h4M697 1201h4M658 1232h4M722 1133h4M711 1300h4M736 1294h4M675 1264h4M677 1258h4M677 1255h4M596 1177h4M712 1250h4M645 1256h4M639 1302h4M663 1273h4M809 1312h4M638 1294h4M774 1153h4M560 1218h4M668 1291h4M799 1236h4M696 1258h4M708 1303h4M652 1206h4M569 1268h4M741 1261h4M749 1222h4M801 1260h4M682 1239h4M718 1194h4M559 1293h4M666 1260h4M696 1161h4M763 1322h4M797 1210h4M784 1263h4M715 1283h4M679 1253h4M683 1193h4M685 1136h4M696 1230h4M758 1271h4M676 1195h4M588 1238h4M616 1326h4M863 1207h4M658 1279h4M672 1196h4M731 1282h4M706 1247h4M707 1329h4M570 1193h4M605 1296h4M697 1202h4M730 1277h4M707 1339h4M782 1267h4M691 1331h4M703 1244h4M692 1309h4M747 1225h4M652 1246h4M810 1261h4M624 1181h4M735 1211h4M732 1228h4M783 1332h4M621 1267h4M634 1198h4M671 1195h4M732 1254h4M740 1199h4M669 1201h4M703 1203h4M887 1088h4M810 1162h4M929 1147h4M842 1194h4M821 1100h4M881 1168h4M894 1136h4M901 1126h4M879 1175h4M844 1175h4M859 1105h4M868 1174h4M889 1139h4M891 1136h4M884 1133h4M889 1145h4M800 1129h4M848 1151h4M897 1071h4M851 1177h4M862 1157h4M843 1130h4M860 1160h4M845 1141h4M806 1166h4M875 1181h4M876 1162h4M838 1052h4M805 1189h4M854 1150h4M827 1169h4M892 1123h4M855 1142h4M817 1140h4M842 1165h4M914 1170h4M856 1159h4M838 1155h4M854 1175h4M828 1182h4M886 1168h4M821 1137h4M878 1173h4M891 1128h4M888 1155h4M859 1193h4M850 1101h4M863 1111h4M870 1077h4M879 1206h4M863 1151h4M870 1160h4M850 1154h4M840 1141h4M895 1118h4M875 1152h4M884 1115h4M911 1165h4M843 1194h4M846 1216h4M852 1117h4M888 1133h4M823 1117h4M844 1092h4M886 1107h4M819 1140h4M884 1175h4M909 1183h4M876 1116h4M840 1165h4M851 1138h4M835 1152h4M862 1177h4M891 1176h4M893 1175h4M800 1155h4M842 1154h4M873 1154h4M854 1164h4M794 1143h4M870 1160h4M879 1150h4M864 1189h4M862 1116h4M891 1134h4M823 1149h4M855 1144h4M875 1077h4M962 1180h4M843 1192h4M886 1094h4M913 1104h4M886 1187h4M889 1099h4M900 1150h4M813 1143h4M879 1133h4M851 1157h4M908 1112h4M877 1096h4M872 1127h4M870 1140h4M828 1152h4M891 1171h4M818 1192h4M859 1162h4M854 1144h4M893 1161h4M865 1108h4M840 1123h4M884 1122h4M914 1097h4M835 1170h4M904 1113h4M845 1101h4M858 1114h4M859 1191h4M835 1184h4M911 1153h4M887 1166h4M882 1088h4M825 1117h4M884 1154h4M839 1112h4M904 1100h4M814 1121h4M886 1169h4M820 1190h4M822 1112h4M871 1187h4M889 1105h4M897 1148h4M853 1143h4M849 1133h4M891 1198h4M831 1169h4M832 1146h4M880 1178h4M878 1124h4M867 1158h4M901 1190h4M817 1158h4M878 1206h4M928 1112h4M853 1107h4M828 1137h4M901 1139h4M881 1129h4M900 1190h4M885 1157h4M852 1115h4M859 1125h4M831 1159h4M941 1107h4M838 1157h4M855 1114h4M846 1144h4M878 1153h4M907 1100h4M851 1131h4M878 1133h4M887 1149h4M929 1169h4M859 1143h4M873 1102h4M913 1132h4M824 1117h4M865 1139h4M868 1176h4M833 1173h4M860 1181h4M872 1120h4M898 1092h4M892 1116h4M850 1145h4M838 1127h4M893 1108h4M822 1143h4M850 1184h4M833 1136h4M820 1158h4M873 1210h4M824 1128h4M847 1171h4M901 1100h4M910 1120h4M826 1141h4M838 1180h4M840 1151h4M826 1131h4M902 1167h4M890 1194h4M879 1193h4M836 1120h4M886 1167h4M870 1129h4M864 1169h4M881 1182h4M903 1112h4M863 1215h4M853 1087h4M835 1152h4M905 1092h4M878 1131h4M795 1196h4M868 1188h4M887 1207h4M819 1137h4M822 1117h4M894 1117h4M856 1239h4M822 1179h4M865 1117h4M874 1148h4M837 1145h4M841 1178h4M865 1129h4M862 1092h4M914 1123h4M902 1165h4M879 1150h4M845 1129h4M846 1107h4M800 1186h4M862 1167h4M852 1120h4M845 1130h4M885 1205h4M900 1138h4M811 1190h4M875 1143h4M876 1143h4M846 1133h4M843 1167h4M913 1163h4M885 1120h4M924 1202h4M842 1135h4M834 1130h4M856 1185h4M888 1124h4M901 1142h4M920 1156h4M845 1177h4M823 1097h4M892 1118h4M890 1072h4M880 1165h4M905 1156h4M841 1166h4M818 1157h4M923 1127h4M873 1166h4M855 1113h4M887 1117h4M928 1136h4M869 1179h4M914 1105h4M867 1241h4M919 1123h4M870 1097h4M899 1151h4M864 1119h4M882 1167h4M871 1173h4M852 1114h4M867 1162h4M884 1128h4M861 1154h4M849 1130h4M876 1142h4M906 1156h4M862 1191h4M836 1133h4M839 1170h4M865 1195h4M911 1120h4M834 1181h4M897 1136h4M859 1157h4M845 1161h4M849 1138h4M897 1193h4M851 1186h4M903 1151h4M922 1145h4M839 1148h4M827 1164h4M814 1164h4M879 1103h4M838 1168h4M846 1162h4M841 1135h4M902 1122h4M883 1093h4M881 1156h4M814 1125h4M839 1133h4M862 1228h4M860 1100h4M872 1084h4M909 1169h4M883 1089h4M886 1128h4M860 1146h4M852 1115h4M850 1182h4M860 1145h4M816 1149h4M847 1122h4M864 1111h4M849 1137h4M862 1204h4M810 1141h4M847 1161h4M863 1159h4M896 1115h4M866 1168h4M856 1127h4M846 1088h4M864 1085h4M848 1164h4M884 1204h4M847 1165h4M882 1179h4M844 1108h4M820 1052h4M821 1200h4M888 1175h4M846 1093h4M849 1152h4M935 1143h4M829 1140h4M861 1111h4M823 1157h4M844 1167h4M877 1101h4M854 1156h4M916 1098h4M835 1166h4M842 1138h4M822 1174h4M863 1160h4M840 1093h4M858 1111h4M839 1147h4M875 1163h4M844 1183h4M865 1107h4M859 1140h4M841 1221h4M862 1148h4M862 1116h4M877 1089h4M806 1159h4M905 1174h4M866 1121h4M875 1172h4M878 1181h4M824 1191h4M884 1168h4M871 1138h4M849 1123h4M886 1175h4M856 1103h4M835 1195h4M888 1167h4M885 1137h4M873 1088h4M860 1119h4M909 1098h4M847 1112h4M870 1161h4M859 1217h4M858 1112h4M877 1119h4M836 1212h4M878 1149h4M872 1157h4M854 1123h4M844 1196h4M825 1149h4M866 1170h4M912 1172h4M846 1196h4M838 1159h4M845 1127h4M871 1164h4M878 1144h4M874 1090h4M863 1127h4M830 1097h4M893 1141h4M855 1130h4M875 1134h4M867 1093h4M864 1163h4M887 1151h4M868 1179h4M923 1107h4M906 1129h4M890 1124h4M857 1160h4M887 1123h4M875 1162h4M885 1110h4M867 1159h4M836 1150h4M838 1143h4M863 1139h4M889 1142h4M863 1175h4M848 1178h4M860 1174h4M884 1150h4M852 1129h4M850 1126h4M868 1137h4M883 1143h4M831 1127h4M854 1107h4M864 1112h4M853 1169h4M879 1123h4M889 1143h4M844 1131h4M932 1154h4M876 1136h4M909 1180h4M886 1151h4M814 1109h4M829 1145h4M872 1109h4M879 1132h4M882 1173h4M810 1100h4M847 1161h4M878 1142h4M900 1177h4M879 1144h4M826 1174h4M849 1148h4M855 1181h4M853 1152h4M894 1121h4M897 1150h4M900 1145h4M834 1200h4M829 1119h4M822 1096h4M857 1184h4M867 1124h4M826 1091h4M872 1115h4M871 1120h4M859 1131h4M877 1213h4M836 1136h4M834 1164h4M905 1159h4M854 1126h4M892 1089h4M846 1203h4M801 1128h4M879 1117h4M830 1161h4M840 1117h4M889 1126h4M821 1174h4M857 1129h4M896 1150h4M921 1132h4M837 1191h4M869 1093h4M846 1056h4M899 1147h4M850 1133h4M901 1233h4M829 1147h4M886 1147h4M906 1169h4M883 1153h4M865 1164h4M850 1115h4M827 1134h4M891 1190h4M890 1107h4M874 1132h4M829 1156h4M839 1168h4M860 1146h4M912 1165h4M916 1171h4M891 1148h4M824 1122h4M806 1160h4M864 1127h4M876 1128h4M909 1185h4M838 1160h4M894 1110h4M853 1090h4M879 1119h4M846 1153h4M848 1164h4M845 1144h4M856 1209h4M834 1141h4M838 1113h4M869 1142h4M826 1174h4M851 1159h4M845 1156h4M854 1187h4M896 1179h4M841 1195h4M908 1132h4M810 1159h4M837 1154h4M882 1151h4M794 1207h4M856 1163h4M875 1164h4M822 1112h4M905 1139h4M915 1165h4M865 1154h4M864 1118h4M886 1169h4M891 1148h4M851 1183h4M852 1171h4M922 1182h4M871 1123h4M859 1130h4M840 1179h4M781 1244h4M860 1174h4M866 1171h4M862 1141h4M858 1218h4M887 1164h4M872 1153h4M869 1167h4M859 1139h4M854 1175h4M867 1159h4M844 1149h4M896 1109h4M872 1119h4M864 1142h4M922 1083h4M887 1125h4M832 1151h4M840 1150h4M862 1219h4M850 1087h4M901 1144h4M886 1138h4M889 1159h4M895 1141h4M890 1125h4M813 1155h4M825 1141h4M836 1217h4M879 1138h4M871 1164h4M916 1179h4M901 1163h4M902 1144h4M846 1147h4M862 1143h4M892 1122h4M833 1152h4M845 1201h4M915 1196h4M925 1122h4M814 1177h4M862 1149h4M830 1145h4M807 1141h4M840 1177h4M879 1121h4M882 1122h4M871 1188h4M900 1094h4M840 1133h4M856 1163h4M906 1148h4M885 1140h4M841 1209h4M828 1192h4M864 1161h4M868 1182h4M872 1149h4M858 1140h4M866 1189h4M845 1194h4M861 1114h4M844 1199h4M827 1216h4M866 1182h4M840 1116h4M840 1175h4M879 1132h4M872 1191h4M916 1151h4M911 1149h4M852 1124h4M855 1149h4M844 1157h4M824 1108h4M907 1132h4M882 1120h4M847 1184h4M914 1156h4M882 1135h4M885 1184h4M850 1154h4M795 1143h4M882 1138h4M842 1187h4M821 1154h4M879 1096h4M880 1131h4M836 1142h4M862 1077h4M877 1180h4M864 1191h4M847 1121h4M906 1183h4M855 1166h4M896 1158h4M861 1123h4M855 1208h4M900 1161h4M845 1127h4M874 1176h4M878 1154h4M896 1123h4M862 1173h4M819 1162h4M815 1089h4M812 1149h4M830 1163h4M859 1178h4M854 1186h4M849 1155h4M860 1159h4M841 1115h4M861 1146h4M865 1128h4M924 1176h4M855 1188h4M856 1132h4M854 1081h4M839 1160h4M886 1182h4M826 1142h4M921 1105h4M817 1171h4M861 1123h4M891 1152h4M878 1144h4M884 1173h4M820 1106h4M888 1188h4M880 1160h4M908 1218h4M863 1117h4M866 1081h4M818 1146h4M879 1104h4M833 1150h4M875 1086h4M915 1175h4M838 1151h4M871 1171h4M849 1145h4M847 1106h4M809 1183h4M852 1189h4M873 1198h4M900 1133h4M909 1154h4M860 1167h4M890 1132h4M861 1150h4M838 1153h4M850 1178h4M888 1091h4M884 1197h4M815 1152h4M879 1153h4M854 1133h4M881 1184h4M868 1172h4M828 1154h4M825 1182h4M861 1133h4M864 1177h4M867 1124h4M830 1140h4M903 1209h4M796 1131h4M902 1127h4M858 1145h4M848 1158h4M912 1169h4M860 1155h4M865 1152h4M848 1154h4M879 1234h4M879 1102h4M906 1163h4M897 1180h4M864 1123h4M846 1172h4M852 1172h4M842 1068h4M851 1216h4M847 1187h4M873 1170h4M867 1128h4M843 1148h4M871 1132h4M800 1131h4M861 1187h4M797 1085h4M852 1081h4M881 1134h4M868 1177h4M831 1120h4M857 1177h4M858 1132h4M846 1149h4M866 1151h4M843 1164h4M838 1171h4M834 1147h4M875 1122h4M835 1107h4M819 1192h4M885 1165h4M840 1187h4M820 1131h4M879 1173h4M844 1183h4M845 1194h4M837 1152h4M879 1196h4M880 1112h4M889 1146h4M841 1122h4M928 1112h4M844 1157h4M829 1184h4M851 1129h4M810 1137h4M839 1134h4M849 1135h4M866 1179h4M899 1186h4M875 1105h4M855 1168h4M864 1166h4M829 1137h4M904 1097h4M869 1146h4M876 1112h4M848 1165h4M839 1164h4M835 1198h4M838 1135h4M846 1158h4M886 1142h4M843 1166h4M879 1133h4M887 1136h4M874 1117h4M887 1153h4M798 1156h4M871 1207h4M851 1164h4M901 1144h4M874 1185h4M854 1183h4M865 1138h4M870 1158h4M913 1142h4M853 1144h4M872 1154h4M849 1145h4M872 1130h4M874 1163h4M870 1134h4M860 1091h4M908 1130h4M895 1184h4M879 1160h4M848 1169h4M878 1157h4M869 1124h4M891 1101h4M881 1106h4M847 1149h4M882 1140h4M918 1153h4M881 1130h4M835 1221h4M854 1123h4M893 1193h4M901 1137h4M824 1192h4M897 1211h4M914 1207h4M909 1198h4M830 1168h4M868 1102h4M906 1097h4M889 1158h4M857 1180h4M841 1106h4M866 1188h4M883 1152h4M840 1115h4M863 1158h4M903 1225h4M905 1131h4M873 1160h4M906 1162h4M864 1138h4M850 1187h4M849 1198h4M837 1171h4M854 1200h4M857 1156h4M927 1176h4M895 1116h4M931 1187h4M839 1146h4M887 1093h4M854 1147h4M826 1102h4M883 1113h4M848 1173h4M888 1172h4M940 1114h4M869 1072h4M863 1166h4M847 1106h4M824 1169h4M859 1170h4M843 1159h4M871 1213h4M856 1170h4M875 1141h4M880 1130h4M899 1145h4M834 1156h4M843 1102h4M906 1135h4M891 1146h4M846 1095h4M937 1101h4M786 1155h4M854 1097h4M856 1185h4M879 1162h4M827 1155h4M865 1123h4M871 1111h4M898 1152h4M811 1157h4M845 1178h4M847 1057h4M892 1161h4M919 1171h4M912 1124h4M844 1157h4M870 1126h4M859 1129h4M863 1098h4M844 1169h4M869 1148h4M861 1134h4M880 1134h4M859 1156h4M936 1193h4M817 1193h4M847 1151h4M848 1119h4M869 1165h4M890 1091h4M863 1197h4M949 1172h4M875 1129h4M905 1140h4M863 1123h4M844 1159h4M935 1116h4M841 1148h4M822 1125h4M844 1087h4M870 1145h4M904 1132h4M857 1116h4M857 1104h4M872 1128h4M887 1130h4M842 1119h4M873 1124h4M849 1136h4M877 1115h4M879 1172h4M894 1155h4M916 1166h4M851 1116h4M840 1131h4M870 1150h4M867 1144h4M867 1124h4M890 1126h4M871 1165h4M891 1175h4M868 1197h4M864 1137h4M843 1170h4M886 1173h4M868 1156h4M901 1152h4M885 1147h4M852 1175h4M873 1175h4M864 1121h4M863 1137h4M828 1120h4M872 1153h4M868 1132h4M832 1159h4M874 1192h4M876 1132h4M834 1182h4M835 1155h4M873 1143h4M887 1143h4M874 1144h4M816 1170h4M835 1208h4M880 1152h4M837 1138h4M894 1186h4M896 1170h4M842 1125h4M872 1176h4M885 1139h4M878 1156h4M852 1172h4M859 1131h4M863 1143h4M909 1163h4M883 1102h4M897 1136h4M872 1090h4M880 1155h4M889 1142h4M860 1114h4M845 1124h4M876 1092h4M854 1143h4M850 1118h4M844 1148h4M826 1174h4M868 1131h4M839 1112h4M843 1186h4M856 1126h4M831 1182h4M879 1161h4M889 1184h4M834 1132h4M854 1093h4M858 1130h4M858 1151h4M867 1203h4M874 1120h4M847 1162h4M884 1105h4M811 1135h4M836 1181h4M890 1178h4M853 1161h4M874 1150h4M897 1162h4M911 1177h4M834 1143h4M844 1143h4M844 1152h4M845 1157h4M872 1092h4M859 995h4M825 1077h4M848 1046h4M815 1069h4M872 1107h4M880 1053h4M823 1132h4M917 1214h4M869 1093h4M883 1110h4M827 1156h4M853 1115h4M889 1069h4M802 1103h4M788 1052h4M895 1165h4M782 1048h4M767 1124h4M842 1046h4M814 1078h4M866 1023h4M863 1202h4M865 1106h4M761 1054h4M808 1099h4M841 1101h4M823 1108h4M732 1144h4M791 1141h4M881 1093h4M830 1104h4M815 1083h4M778 1092h4M885 1071h4M932 1114h4M824 1030h4M865 1126h4M846 1071h4M780 1119h4M779 1079h4M866 1049h4M809 1151h4M834 1014h4M809 1196h4M831 1160h4M910 1187h4M809 1154h4M792 1127h4M798 1078h4M864 1077h4M864 1110h4M860 1007h4M867 1122h4M842 1093h4M825 1099h4M824 1071h4M857 1043h4M845 1100h4M829 1074h4M803 1064h4M796 1080h4M870 1138h4M799 1130h4M921 1076h4M783 1080h4M859 1024h4M840 1048h4M802 1035h4M773 1058h4M805 1077h4M877 1118h4M802 1080h4M849 1092h4M868 1049h4M852 1115h4M760 1024h4M802 1103h4M762 1051h4M826 1165h4M874 1065h4M869 1122h4M849 1138h4M886 1091h4M878 1094h4M829 1155h4M857 1137h4M798 1091h4M850 1076h4M803 1060h4M831 1028h4M820 1152h4M887 1114h4M819 1112h4M842 1150h4M827 1122h4M887 1107h4M844 1152h4M839 1024h4M856 1152h4M841 1116h4M831 1091h4M891 1142h4M821 1134h4M819 1063h4M749 1076h4M782 1062h4M869 1104h4M699 1079h4M877 1095h4M802 1044h4M793 1070h4M850 1163h4M750 1118h4M800 1115h4M778 1138h4M825 1087h4M884 1090h4M913 1094h4M765 1087h4M788 1098h4M945 1090h4M832 1191h4M901 1152h4M927 1069h4M862 1034h4M804 1091h4M869 1112h4M868 1059h4M896 1113h4M856 1096h4M933 1120h4M761 1111h4M790 1022h4M821 1079h4M810 1030h4M841 1094h4M808 1087h4M860 1184h4M855 1059h4M852 1103h4M819 1077h4M836 1092h4M832 1060h4M817 1035h4M856 1070h4M773 1035h4M807 1116h4M815 1074h4M864 1156h4M836 1054h4M792 1003h4M838 1067h4M855 1081h4M828 1168h4M884 1063h4M856 1129h4M860 1085h4M897 1087h4M812 1118h4M865 1077h4M821 1159h4M844 1120h4M845 1127h4M828 1081h4M822 1103h4M825 1127h4M761 1036h4M851 1095h4M884 1075h4M833 1078h4M819 1093h4M851 1024h4M878 1108h4M824 1063h4M865 1133h4M796 1030h4M817 1069h4M897 1103h4M801 1121h4M782 1070h4M827 1148h4M807 1113h4M845 1057h4M873 1052h4M821 1075h4M846 1116h4M829 1079h4M851 1053h4M821 1101h4M789 1059h4M815 1047h4M809 1087h4M868 1091h4M826 1020h4M800 1068h4M838 1104h4M874 1069h4M860 1038h4M817 1105h4M766 1101h4M856 1085h4M876 1108h4M837 1056h4M845 1091h4M823 1026h4M817 1065h4M840 1095h4M840 1062h4M859 1088h4M844 1091h4M804 1123h4M821 1059h4M875 1045h4M802 1043h4M866 1067h4M818 1096h4M769 1109h4M817 1030h4M822 1083h4M924 1135h4M836 1072h4M792 1061h4M883 1069h4M783 1110h4M778 1087h4M864 1053h4M872 1106h4M929 1068h4M846 1103h4M797 1104h4M863 1020h4M893 1091h4M902 1099h4M780 1146h4M894 1128h4M821 1106h4M795 1066h4M861 1101h4M834 1111h4M780 1073h4M793 1094h4M840 1084h4M869 1052h4M791 1082h4M878 1106h4M822 1026h4M813 1040h4M870 1078h4M865 1153h4M818 1103h4M809 1139h4M878 1017h4M875 1115h4M802 1134h4M835 1070h4M808 1095h4M785 1034h4M857 1110h4M822 1081h4M892 1052h4M804 1119h4M886 1109h4M840 1107h4M895 1046h4M778 1100h4M818 1060h4M805 1107h4M920 1078h4M838 1137h4M821 1072h4M751 1062h4M805 1060h4M907 1052h4M819 1077h4M843 1139h4M757 1110h4M855 1084h4M859 1149h4M853 1093h4M812 1038h4M795 1074h4M857 1101h4M782 1112h4M808 999h4M826 1134h4M782 1105h4M783 1096h4M844 1042h4M849 1038h4M770 1107h4M838 1082h4M868 1142h4M875 1061h4M866 1128h4M865 1123h4M853 1047h4M847 1085h4M776 1138h4M809 1053h4M792 1118h4M791 1075h4M920 1086h4M891 1091h4M789 1034h4M837 1159h4M857 1039h4M866 1056h4M850 1097h4M858 1137h4M806 1030h4M809 1048h4M821 1077h4M874 1091h4M836 1092h4M841 1068h4M827 1086h4M856 1125h4M864 1056h4M909 1055h4M917 1091h4M859 1103h4M772 1168h4M780 1102h4M826 1106h4M881 995h4M862 1027h4M840 1117h4M846 1071h4M896 1085h4M826 1117h4M869 1148h4M838 1113h4M822 1092h4M863 1030h4M820 1076h4M831 1121h4M757 1054h4M858 1041h4M903 1021h4M883 1093h4M803 1099h4M806 1050h4M885 1100h4M779 1085h4M839 1072h4M826 1082h4M854 1073h4M879 1078h4M881 1125h4M756 1083h4M825 1078h4M776 1014h4M803 1095h4M767 1096h4M814 1111h4M805 1107h4M844 1094h4M858 1090h4M831 1110h4M852 1121h4M867 1126h4M838 1059h4M854 1028h4M799 1092h4M794 1089h4M856 1109h4M885 1129h4M857 1041h4M784 1049h4M797 1102h4M847 1077h4M839 1086h4M781 1126h4M829 1118h4M843 1075h4M776 1081h4M804 1053h4M850 1113h4M815 1033h4M845 1032h4M860 1158h4M851 1136h4M869 1070h4M781 1090h4M835 1000h4M831 1092h4M817 1128h4M852 1127h4M858 1107h4M874 1104h4M885 1119h4M805 1160h4M802 1063h4M865 1112h4M831 1120h4M852 1066h4M798 1137h4M852 1026h4M925 1117h4M771 1052h4M863 1100h4M862 1053h4M865 1089h4M813 1095h4M846 1065h4M808 1116h4M850 1022h4M821 1081h4M878 1169h4M887 1075h4M857 1103h4M856 1086h4M822 1066h4M772 1094h4M865 1053h4M794 1097h4M831 1038h4M803 1070h4M808 1111h4M822 1065h4M883 1110h4M863 1187h4M833 1097h4M853 1109h4M826 1113h4M839 1115h4M819 1086h4M853 1088h4M773 1078h4M737 1069h4M888 1162h4M840 1096h4M826 1119h4M832 1165h4M861 1039h4M868 1095h4M797 1068h4M813 1077h4M866 1156h4M849 1086h4M805 1088h4M764 1128h4M929 1045h4M890 1063h4M871 1060h4M780 1072h4M805 1100h4M802 1046h4M746 1111h4M793 1137h4M829 1059h4M920 1101h4M796 1038h4M864 1126h4M853 1081h4M850 1132h4M826 1130h4M871 1105h4M841 1062h4M910 1023h4M858 1112h4M793 1095h4M827 1090h4M914 1088h4M888 1151h4M804 1078h4M841 1119h4M889 1141h4M843 1132h4M804 1106h4M880 1048h4M838 1107h4M775 1066h4M861 1081h4M854 1064h4M873 1069h4M911 1101h4M909 1107h4M896 1116h4M923 1051h4M812 1049h4M789 1100h4M837 1133h4M840 1082h4M860 1082h4M796 1148h4M872 1065h4M885 1149h4M822 1118h4M829 1103h4M804 1121h4M750 1086h4M830 1084h4M819 1113h4M815 1180h4M808 1089h4M877 1146h4M853 1171h4M920 1088h4M735 1055h4M827 1053h4M861 1106h4M861 1082h4M838 1138h4M840 1084h4M870 1131h4M823 1095h4M826 1106h4M944 1098h4M816 1122h4M877 1104h4M848 1089h4M879 1078h4M835 1110h4M882 1091h4M893 1086h4M835 1091h4M848 1011h4M802 1125h4M812 1066h4M885 1147h4M924 1078h4M795 1000h4M821 1051h4M840 1108h4M858 1148h4M778 1123h4M805 1123h4M854 1070h4M879 1087h4M801 1094h4M869 1132h4M818 1049h4M886 1074h4M831 1040h4M811 1128h4M880 1072h4M851 1108h4M866 1106h4M827 1107h4M848 1038h4M885 1112h4M899 1149h4M848 1120h4M859 1087h4M800 1108h4M906 1127h4M828 1077h4M853 1102h4M862 1189h4" stroke="#000" stroke-width="4" stroke-opacity="0.8"/>
<path transform="scale(.25)" d="M783 1118h4M700 1248h4M876 1150h4M884 1087h4M863 1184h4M813 1135h4M902 1133h4M979 1010h4M939 1144h4M657 1138h4M755 1130h4M842 1109h4M650 1152h4M964 1114h4M886 1041h4M760 1146h4M742 1031h4M915 1140h4M797 1134h4M847 1239h4M738 1184h4M734 1199h4M786 1189h4M826 1099h4M888 1176h4M781 1182h4M885 1051h4M786 1092h4M753 1222h4M788 1232h4M784 1244h4M723 1209h4M673 994h4M862 1072h4M838 1012h4M880 1028h4M696 1163h4M793 1088h4M713 1072h4M926 1067h4M955 1074h4M870 1048h4M934 1038h4M705 1182h4M810 1116h4M839 1009h4M866 1083h4M830 1118h4M879 1066h4M846 1152h4M799 1084h4M922 1141h4M790 1158h4M882 1126h4M871 1098h4M737 1157h4M791 1181h4M992 1211h4M829 1150h4M882 1027h4M793 1213h4M915 1023h4M834 1053h4M908 1261h4M901 1143h4M763 1256h4M831 1126h4M882 1116h4M751 977h4M836 1118h4M813 1163h4M882 1144h4M748 1282h4M865 1179h4M902 1159h4M791 1194h4M798 1157h4M889 1164h4M790 1079h4M871 1006h4M926 1109h4M726 1098h4M867 1139h4M927 1173h4M716 1121h4M846 1039h4M868 1137h4M799 1179h4M850 1053h4M747 1178h4M832 1078h4M770 1089h4M885 1213h4M830 1115h4M833 1181h4M904 1172h4M859 1142h4M780 1245h4M810 1169h4M773 1195h4M871 1156h4M931 1014h4M982 1001h4M894 1103h4M771 1137h4M889 1236h4M747 1191h4M720 1099h4M748 1129h4M858 1141h4M700 1156h4M871 1152h4M819 1076h4M962 1165h4M828 1158h4M797 1107h4M741 1234h4M762 1184h4M846 1212h4M717 1122h4M618 983h4M782 1175h4M813 1061h4M806 1049h4M796 1043h4M756 1025h4M704 1112h4M939 1039h4M882 1007h4M853 1024h4M786 1071h4M762 1016h4M805 1056h4M874 1146h4M831 1062h4M822 1089h4M870 1120h4M772 960h4M755 1177h4M794 1202h4M808 982h4M962 1096h4M1002 1141h4M738 1095h4M760 1147h4M822 1096h4M668 1099h4M773 1155h4M927 1118h4M762 1153h4M783 1073h4M906 1089h4M961 1088h4M803 1126h4M819 1171h4M844 1087h4M893 1079h4M683 1052h4M845 1165h4M788 1096h4M844 1059h4M871 1128h4M635 1108h4M901 1165h4M828 1126h4M795 1135h4M863 1074h4M863 1065h4M986 1207h4M883 1106h4M890 1039h4M844 1169h4M879 1151h4M755 1136h4M885 1089h4M840 1138h4M889 1143h4M894 1010h4M712 1146h4M859 1044h4M880 1247h4M905 1184h4M668 1079h4M854 1096h4M716 1110h4M765 1082h4M849 1095h4M866 1048h4M830 1228h4M795 1149h4M789 1110h4M882 1197h4M887 1095h4M832 1325h4M683 1069h4M642 1235h4M696 1046h4M782 1077h4M880 1097h4M789 1218h4M777 1094h4M807 1153h4M797 965h4M782 1013h4M755 1124h4M761 1087h4M802 1188h4M818 1117h4M772 1177h4M885 1113h4M732 1046h4M855 1202h4M762 1031h4M866 1016h4M737 1139h4M817 1074h4M893 1080h4M881 1074h4M751 1175h4M770 1028h4M725 1011h4M789 1093h4M694 1012h4M785 1117h4M750 1146h4M807 1208h4M796 1079h4M809 1031h4M817 1075h4M890 1200h4M796 1143h4M774 1255h4M901 1092h4M572 1123h4M738 1234h4M735 1087h4M939 1086h4M867 1140h4M861 1149h4M818 1151h4M847 1118h4M929 1148h4M684 1136h4M747 1078h4M854 1169h4M753 1194h4M880 1214h4M882 1075h4M908 1064h4M689 1051h4M833 1074h4M904 1014h4M787 1109h4M901 1263h4M799 1106h4M728 1132h4M954 1071h4M706 1117h4M829 1107h4M810 1144h4M773 1133h4M773 1051h4M682 1192h4M840 1226h4M733 1088h4M967 1110h4M786 1104h4M689 1155h4M848 1225h4M888 1090h4M911 1073h4M792 1298h4M814 1181h4M807 1194h4M866 1077h4M930 1178h4M897 1200h4M789 1117h4M806 1050h4M813 1293h4M773 1154h4M735 1069h4M784 1093h4M860 1139h4M859 1069h4M735 1069h4M843 1084h4M800 1158h4M843 1172h4M873 1144h4M855 1092h4M891 1180h4M873 1144h4M883 1044h4M808 1145h4M684 1132h4M641 1071h4M803 1097h4M797 1032h4M691 1073h4M702 1092h4M638 1124h4M909 1156h4M629 1155h4M644 1118h4M858 1089h4M881 1059h4M767 1123h4M853 1180h4M859 1166h4M770 1001h4M1025 1139h4M861 1105h4M853 1151h4M822 1145h4M856 1210h4M747 1216h4M815 1173h4M833 1139h4M847 1048h4M792 1210h4M840 1132h4M781 1184h4M932 1100h4M730 1171h4M707 1223h4M817 1157h4M876 1105h4M776 1179h4M825 1124h4M820 1031h4M844 1178h4M937 1053h4M734 1090h4M762 1219h4M818 1208h4M794 1111h4M845 1079h4M951 1110h4M871 1168h4M785 1068h4M882 1145h4M870 985h4M981 1165h4M745 1025h4M848 1042h4M905 1149h4M889 1143h4M840 1090h4M770 1061h4M752 1208h4M744 1000h4M839 1110h4M860 1096h4M799 1120h4M771 1072h4M835 1105h4M700 1100h4M1014 1056h4M763 1107h4M843 1118h4M823 1116h4M823 1170h4M849 1070h4M739 1162h4M977 1115h4M846 1097h4M704 1222h4M941 1165h4M882 1045h4M821 1137h4M844 1154h4M762 1228h4M994 1109h4M841 1102h4M786 1110h4M703 1188h4M749 1048h4M678 1046h4M811 1036h4M783 1092h4M752 1147h4M801 1074h4M846 1229h4M819 1161h4M775 1080h4M869 1074h4M805 1080h4M838 1118h4M806 989h4M785 1159h4M970 1180h4M752 1003h4M672 999h4M697 1075h4M731 1088h4M971 1080h4M664 1078h4M896 1029h4" stroke="#000" stroke-width="4" stroke-opacity="0.55"/>
<path transform="scale(.25)" d="M626 1313h4M821 1285h4M570 1058h4M826 1108h4M559 1197h4M564 1209h4M590 1203h4M705 1170h4M918 1274h4M806 1218h4M940 1133h4M664 1251h4M687 1261h4M782 1185h4M940 1336h4M734 1182h4M837 1220h4M727 1162h4M1025 1167h4M698 1253h4M691 1183h4M1013 1249h4M823 1229h4M903 1234h4M778 1318h4M776 1222h4M636 1130h4M818 1246h4M656 1131h4M817 1324h4M792 1235h4M905 1065h4M885 1203h4M874 1089h4M981 1207h4M901 1183h4M653 1087h4M774 1176h4M738 1203h4M995 1122h4M890 1271h4M663 1206h4M850 1145h4M836 1155h4M720 1188h4M950 1260h4M715 1272h4M869 1251h4M812 1114h4M733 1165h4M565 1196h4M950 1197h4M851 1155h4M857 1096h4M782 1132h4M1039 1020h4M849 1185h4M852 1126h4M751 1263h4M865 1209h4M874 1129h4M671 1207h4M720 1224h4M730 1204h4M792 1165h4M872 1204h4M991 1176h4M786 1238h4M702 1144h4M671 1191h4M763 1157h4M926 1233h4M710 1286h4M854 1123h4M716 1161h4M711 1128h4M813 1192h4M841 1245h4M897 1303h4M831 1168h4M671 1243h4M680 1204h4M593 1141h4M663 1122h4M961 1208h4M716 1233h4M959 1164h4M683 1242h4M871 1153h4M823 1251h4M807 1235h4M681 1192h4M800 1183h4M982 1250h4M802 1252h4M645 1210h4M632 1156h4M784 1290h4M705 1262h4M732 1101h4M734 1164h4M984 1234h4M840 1235h4M709 1114h4M676 1183h4M755 1186h4M758 1176h4M746 1159h4M862 1250h4M686 1179h4M819 1224h4M967 1230h4M945 1242h4M607 1249h4M751 1085h4M780 1182h4M795 1262h4M1027 1193h4M768 1184h4M882 1180h4M655 1191h4M936 1202h4M953 1153h4M635 1151h4M979 1272h4M755 1223h4M752 1316h4M628 1058h4M651 1191h4M648 1205h4M671 1134h4M885 1176h4M717 1233h4M914 1293h4M739 1139h4M817 1298h4M849 1243h4M807 1284h4M627 1243h4M940 1190h4M868 1151h4M852 1241h4M748 1150h4M792 1239h4M841 1174h4M832 1339h4M698 1260h4M960 1266h4M992 1140h4M819 1134h4M958 1092h4M1024 1150h4M922 1248h4M732 1282h4M689 1161h4M734 1189h4M788 1116h4M652 1182h4M729 1243h4M612 1258h4M828 1153h4M842 1273h4M717 1237h4M775 1223h4M1026 1264h4M642 1165h4M983 1136h4M966 1244h4M873 1303h4M960 1307h4M668 1167h4M1013 1094h4M1014 1198h4M742 1197h4M931 1253h4M915 1060h4M867 1116h4M834 1169h4M892 1312h4M607 1323h4M565 1269h4M1006 1280h4M626 1178h4M646 1211h4M886 1227h4M749 1198h4M759 1147h4M796 1266h4M1039 1294h4M894 1090h4M820 1197h4M877 1151h4M830 1157h4M950 1151h4M761 1087h4M625 1314h4M687 1284h4M751 1212h4" stroke="#000" stroke-width="4" stroke-opacity="0.45"/>
</g>
<path d="M136 336.7H138.8M136.8 327.26H138.8M136.8 321.73H138.8M136.8 317.81H138.8M136.8 314.77H138.8M136.8 312.29H138.8M136.8 310.19H138.8M136.8 308.37H138.8M136.8 306.76H138.8M136 305.32H138.8M136.8 295.88H138.8M136.8 290.36H138.8M136.8 286.44H138.8M136.8 283.39H138.8M136.8 280.91H138.8M136.8 278.81H138.8M136.8 276.99H138.8M136.8 275.39H138.8M136 273.95H138.8M136.8 264.51H138.8M136.8 258.98H138.8M136.8 255.06H138.8M136.8 252.02H138.8M136.8 249.54H138.8M136.8 247.44H138.8M136.8 245.62H138.8M136.8 244.01H138.8M136 242.57H138.8M136.8 233.13H138.8M136.8 227.61H138.8M136.8 223.69H138.8M136.8 220.64H138.8M136.8 218.16H138.8M136.8 216.06H138.8M136.8 214.24H138.8M136.8 212.64H138.8M136 211.2H138.8M138.8 336.7V339.5M148.12 336.7V338.7M153.58 336.7V338.7M157.45 336.7V338.7M160.45 336.7V338.7M162.9 336.7V338.7M164.98 336.7V338.7M166.77 336.7V338.7M168.36 336.7V338.7M169.78 336.7V339.5M179.1 336.7V338.7M184.55 336.7V338.7M188.42 336.7V338.7M191.43 336.7V338.7M193.88 336.7V338.7M195.95 336.7V338.7M197.75 336.7V338.7M199.33 336.7V338.7M200.75 336.7V339.5M210.07 336.7V338.7M215.53 336.7V338.7M219.4 336.7V338.7M222.4 336.7V338.7M224.85 336.7V338.7M226.93 336.7V338.7M228.72 336.7V338.7M230.31 336.7V338.7M231.72 336.7V339.5M241.05 336.7V338.7M246.5 336.7V338.7M250.37 336.7V338.7M253.38 336.7V338.7M255.83 336.7V338.7M257.9 336.7V338.7M259.7 336.7V338.7M261.28 336.7V338.7M262.7 336.7V339.5" stroke="#111" stroke-width="0.9"/>
<path d="M138.8 211.2H262.7V336.7" fill="none" stroke="#555" stroke-width="1.1"/>
<path d="M138.8 210.7V336.7H263.2" fill="none" stroke="#000" stroke-width="1.9"/>
<text x="133.9" y="342.25" font-size="7.5" text-anchor="end" fill="#222">10<tspan font-size="4.65" dy="-3.38">0</tspan></text>
<text x="133.9" y="310.88" font-size="7.5" text-anchor="end" fill="#222">10<tspan font-size="4.65" dy="-3.38">1</tspan></text>
<text x="133.9" y="279.5" font-size="7.5" text-anchor="end" fill="#222">10<tspan font-size="4.65" dy="-3.38">2</tspan></text>
<text x="133.9" y="248.12" font-size="7.5" text-anchor="end" fill="#222">10<tspan font-size="4.65" dy="-3.38">3</tspan></text>
<text x="133.9" y="216.75" font-size="7.5" text-anchor="end" fill="#222">10<tspan font-size="4.65" dy="-3.38">4</tspan></text>
<text x="138.3" y="350.7" font-size="7.5" text-anchor="middle" fill="#222">10<tspan font-size="4.65" dy="-3.38">0</tspan></text>
<text x="169.28" y="350.7" font-size="7.5" text-anchor="middle" fill="#222">10<tspan font-size="4.65" dy="-3.38">1</tspan></text>
<text x="200.25" y="350.7" font-size="7.5" text-anchor="middle" fill="#222">10<tspan font-size="4.65" dy="-3.38">2</tspan></text>
<text x="231.22" y="350.7" font-size="7.5" text-anchor="middle" fill="#222">10<tspan font-size="4.65" dy="-3.38">3</tspan></text>
<text x="262.2" y="350.7" font-size="7.5" text-anchor="middle" fill="#222">10<tspan font-size="4.65" dy="-3.38">4</tspan></text>
<ellipse cx="212" cy="278.5" rx="22.5" ry="30.6" fill="none" stroke="#333" stroke-width="0.9"/>
<text x="214" y="238" font-size="13.2" text-anchor="middle" textLength="25.4" lengthAdjust="spacingAndGlyphs" stroke="#000" stroke-width="0.35">30%</text>
<text transform="translate(116.92 272.75) rotate(-90)" font-size="13.5" text-anchor="middle" textLength="48.5" lengthAdjust="spacingAndGlyphs" stroke="#000" stroke-width="0.45">BMPRIA</text>
<path d="M112 210L112 244" stroke="#000" stroke-width="1.1"/>
<path d="M112 301.5L112 335" stroke="#000" stroke-width="1.1"/>
<text x="200.65" y="366.92" font-size="13.5" text-anchor="middle" textLength="40.7" lengthAdjust="spacingAndGlyphs" stroke="#000" stroke-width="0.45">CD161</text>
<path d="M137.4 362L174.3 362" stroke="#000" stroke-width="1.1"/>
<path d="M227 362L260 362" stroke="#000" stroke-width="1.1"/>
<g filter="url(#b35)">
<path transform="scale(.25)" d="M1328 1170h4M1337 1132h4M1473 1196h4M1388 1138h4M1287 1204h4M1356 1150h4M1327 1166h4M1357 1133h4M1307 1243h4M1368 1146h4M1399 1213h4M1422 1098h4M1388 1181h4M1405 1191h4M1285 1169h4M1476 1130h4M1402 1114h4M1344 1166h4M1297 1133h4M1331 1177h4M1312 1138h4M1394 1184h4M1383 1222h4M1456 1183h4M1282 1189h4M1364 1168h4M1353 1253h4M1421 1195h4M1319 1112h4M1371 1157h4M1329 1274h4M1419 1165h4M1368 1154h4M1415 1153h4M1447 1227h4M1339 1234h4M1310 1149h4M1340 1141h4M1402 1157h4M1425 1195h4M1322 1164h4M1329 1167h4M1291 1109h4M1329 1165h4M1364 1196h4M1369 1194h4M1441 1080h4M1354 1208h4M1340 1151h4M1366 1116h4M1328 1208h4M1324 1126h4M1359 1155h4M1389 1125h4M1301 1194h4M1433 1146h4M1342 1163h4M1360 1139h4M1397 1134h4M1360 1078h4M1413 1142h4M1404 1231h4M1370 1182h4M1398 1200h4M1319 1193h4M1423 1145h4M1336 1203h4M1317 1221h4M1473 1147h4M1347 1148h4M1311 1199h4M1431 1084h4M1366 1213h4M1416 1148h4M1323 1182h4M1336 1137h4M1294 1225h4M1291 1247h4M1328 1210h4M1379 1210h4M1393 1131h4M1495 1149h4M1318 1196h4M1374 1065h4M1342 1195h4M1345 1145h4M1295 1201h4M1287 1185h4M1317 1163h4M1327 1234h4M1359 1156h4M1337 1195h4M1437 1169h4M1369 1159h4M1356 1131h4M1422 1152h4M1390 1160h4M1352 1147h4M1365 1181h4M1381 1219h4M1433 1183h4M1428 1209h4M1406 1213h4M1409 1165h4M1343 1189h4M1376 1130h4M1319 1246h4M1423 1129h4M1381 1193h4M1402 1226h4M1398 1167h4M1345 1129h4M1341 1149h4M1419 1139h4M1394 1217h4M1320 1186h4M1387 1162h4M1284 1179h4M1451 1151h4M1362 1183h4M1382 1201h4M1460 1096h4M1479 1148h4M1352 1128h4M1387 1140h4M1411 1134h4M1444 1132h4M1368 1191h4M1339 1097h4M1424 1145h4M1374 1156h4M1383 1115h4M1392 1152h4M1321 1214h4M1320 1179h4M1281 1217h4M1366 1203h4M1419 1121h4M1331 1234h4M1432 1161h4M1421 1167h4M1374 1196h4M1386 1216h4M1361 1151h4M1345 1232h4M1341 1153h4M1371 1189h4M1406 1182h4M1408 1163h4M1316 1156h4M1389 1119h4M1315 1157h4M1359 1178h4M1388 1174h4M1375 1195h4M1339 1130h4M1386 1181h4M1357 1221h4M1340 1196h4M1358 1180h4M1426 1182h4M1387 1230h4M1480 1183h4M1402 1222h4M1370 1233h4M1442 1130h4M1382 1204h4M1339 1168h4M1333 1209h4M1422 1130h4M1412 1146h4M1429 1225h4M1371 1129h4M1451 1178h4M1408 1162h4M1294 1169h4M1425 1203h4M1377 1175h4M1355 1162h4M1410 1172h4M1358 1151h4M1420 1096h4M1410 1139h4M1333 1116h4M1355 1194h4M1392 1199h4M1322 1236h4M1407 1221h4M1358 1183h4M1346 1171h4M1339 1228h4M1328 1174h4M1426 1165h4M1425 1134h4M1382 1144h4M1366 1178h4M1345 1234h4M1417 1192h4M1447 1148h4M1425 1154h4M1290 1239h4M1362 1204h4M1377 1148h4M1320 1242h4M1303 1223h4M1350 1114h4M1422 1184h4M1372 1243h4M1437 1159h4M1321 1171h4M1480 1200h4M1391 1210h4M1353 1115h4M1415 1200h4M1391 1186h4M1461 1148h4M1447 1074h4M1370 1113h4M1364 1189h4M1343 1267h4M1336 1201h4M1371 1182h4M1355 1161h4M1361 1167h4M1385 1212h4M1381 1142h4M1334 1269h4M1328 1216h4M1426 1163h4M1406 1155h4M1332 1165h4M1426 1140h4M1314 1144h4M1357 1184h4M1441 1228h4M1366 1173h4M1395 1102h4M1405 1167h4M1374 1176h4M1367 1152h4M1428 1156h4M1347 1151h4M1358 1172h4M1368 1166h4M1413 1171h4M1403 1135h4M1462 1140h4M1321 1083h4M1444 1180h4M1340 1193h4M1405 1177h4M1371 1162h4M1464 1164h4M1397 1159h4M1351 1190h4M1398 1163h4M1377 1148h4M1341 1151h4M1364 1197h4M1335 1215h4M1499 1112h4M1395 1212h4M1418 1157h4M1322 1216h4M1335 1234h4M1374 1201h4M1360 1172h4M1391 1122h4M1311 1172h4M1380 1129h4M1454 1167h4M1444 1220h4M1312 1167h4M1403 1202h4M1392 1177h4M1460 1154h4M1318 1148h4M1394 1205h4M1418 1149h4M1325 1221h4M1356 1145h4M1329 1193h4M1327 1168h4M1407 1170h4M1414 1182h4M1489 1111h4M1442 1159h4M1439 1164h4M1362 1177h4M1352 1173h4M1348 1109h4M1451 1144h4M1335 1182h4M1323 1205h4M1341 1169h4M1407 1146h4M1436 1164h4M1329 1135h4M1386 1156h4M1371 1185h4M1299 1147h4M1361 1137h4M1390 1216h4M1330 1281h4M1426 1162h4M1306 1232h4M1368 1143h4M1341 1243h4M1331 1193h4M1338 1195h4M1409 1174h4M1302 1186h4M1350 1158h4M1442 1142h4M1321 1158h4M1359 1159h4M1362 1079h4M1327 1157h4M1399 1181h4M1355 1227h4M1411 1181h4M1360 1148h4M1326 1200h4M1421 1115h4M1349 1144h4M1371 1214h4M1320 1185h4M1342 1176h4M1367 1185h4M1391 1203h4M1423 1156h4M1303 1198h4M1358 1195h4M1424 1148h4M1373 1163h4M1355 1097h4M1431 1114h4M1384 1166h4M1376 1135h4M1396 1239h4M1488 1213h4M1445 1211h4M1323 1166h4M1403 1183h4M1322 1218h4M1427 1167h4M1378 1113h4M1377 1213h4M1377 1243h4M1298 1246h4M1438 1232h4M1360 1173h4M1366 1210h4M1424 1206h4M1325 1166h4M1341 1190h4M1327 1172h4M1320 1239h4M1467 1092h4M1366 1196h4M1346 1172h4M1426 1190h4M1287 1234h4M1367 1177h4M1375 1189h4M1313 1179h4M1385 1157h4M1362 1165h4M1415 1170h4M1284 1206h4M1301 1216h4M1355 1175h4M1356 1161h4M1319 1160h4M1354 1113h4M1365 1153h4M1308 1228h4M1353 1172h4M1325 1257h4M1291 1221h4M1386 1107h4M1372 1219h4M1432 1094h4M1298 1226h4M1347 1197h4M1415 1256h4M1373 1226h4M1395 1194h4M1369 1181h4M1359 1254h4M1288 1220h4M1297 1161h4M1455 1170h4M1396 1161h4M1415 1127h4M1339 1204h4M1360 1200h4M1297 1149h4M1395 1202h4M1395 1242h4M1378 1157h4M1423 1093h4M1327 1206h4M1395 1159h4M1308 1236h4M1428 1185h4M1340 1185h4M1382 1230h4M1340 1115h4M1430 1121h4M1364 1186h4M1345 1203h4M1306 1203h4M1383 1188h4M1303 1157h4M1304 1117h4M1374 1207h4M1415 1208h4M1329 1196h4M1377 1128h4M1436 1119h4M1302 1233h4M1431 1157h4M1484 1176h4M1360 1247h4M1411 1207h4M1295 1203h4M1395 1207h4M1356 1204h4M1381 1181h4M1323 1207h4M1323 1196h4M1327 1157h4M1335 1208h4M1322 1169h4M1352 1183h4M1322 1231h4M1367 1209h4M1357 1110h4M1354 1140h4M1330 1205h4M1297 1181h4M1312 1240h4M1314 1184h4M1333 1211h4M1362 1141h4M1290 1184h4M1405 1148h4M1328 1212h4M1362 1098h4M1413 1158h4M1281 1159h4M1414 1161h4M1437 1073h4M1334 1174h4M1408 1204h4M1378 1227h4M1352 1143h4M1380 1236h4M1334 1174h4M1399 1162h4M1414 1173h4M1366 1179h4M1442 1154h4M1419 1158h4M1412 1188h4M1335 1198h4M1449 1119h4M1413 1113h4M1312 1196h4M1354 1208h4M1415 1164h4M1420 1137h4M1359 1194h4M1369 1150h4M1401 1162h4M1313 1216h4M1389 1149h4M1372 1223h4M1392 1206h4M1360 1165h4M1320 1220h4M1323 1202h4M1374 1183h4M1378 1181h4M1374 1222h4M1422 1161h4M1355 1192h4M1324 1231h4M1364 1211h4M1385 1234h4M1349 1152h4M1432 1171h4M1364 1105h4M1418 1153h4M1378 1121h4M1340 1137h4M1415 1149h4M1340 1147h4M1375 1161h4M1393 1217h4M1313 1097h4M1376 1146h4M1479 1190h4M1460 1080h4M1442 1208h4M1383 1212h4M1406 1155h4M1374 1159h4M1335 1180h4M1370 1186h4M1371 1212h4M1360 1232h4M1402 1078h4M1356 1216h4M1354 1207h4M1383 1121h4M1349 1220h4M1328 1231h4M1342 1224h4M1390 1163h4M1398 1193h4M1401 1208h4M1337 1165h4M1318 1180h4M1403 1137h4M1318 1246h4M1359 1181h4M1295 1182h4M1334 1152h4M1342 1138h4M1430 1156h4M1452 1186h4M1312 1163h4M1368 1138h4M1393 1127h4M1320 1165h4M1342 1129h4M1415 1213h4M1370 1192h4M1326 1175h4M1339 1089h4M1394 1216h4M1310 1232h4M1435 1148h4M1390 1192h4M1288 1205h4M1339 1213h4M1442 1119h4M1451 1154h4M1379 1163h4M1342 1145h4M1435 1185h4M1402 1197h4M1351 1175h4M1324 1167h4M1401 1141h4M1365 1190h4M1364 1122h4M1407 1194h4M1434 1111h4M1361 1133h4M1381 1167h4M1314 1274h4M1411 1127h4M1405 1142h4M1351 1136h4M1347 1195h4M1373 1171h4M1462 1115h4M1403 1172h4M1419 1182h4M1401 1141h4M1428 1136h4M1306 1178h4M1320 1174h4M1331 1238h4M1340 1147h4M1355 1187h4M1389 1204h4M1313 1179h4M1382 1189h4M1339 1215h4M1446 1080h4M1358 1216h4M1473 1084h4M1447 1141h4M1289 1150h4M1389 1100h4M1393 1151h4M1320 1258h4M1435 1242h4M1405 1263h4M1405 1209h4M1346 1230h4M1377 1200h4M1398 1186h4M1355 1166h4M1333 1173h4M1368 1191h4M1329 1211h4M1376 1147h4M1429 1117h4M1422 1281h4M1380 1141h4M1431 1202h4M1328 1241h4M1492 1159h4M1307 1179h4M1421 1229h4M1389 1177h4M1422 1126h4M1357 1152h4M1300 1201h4M1416 1236h4M1287 1187h4M1349 1157h4M1347 1185h4M1450 1156h4M1339 1146h4M1332 1152h4M1324 1173h4M1338 1215h4M1339 1181h4M1393 1154h4M1309 1210h4M1360 1182h4M1313 1237h4M1349 1154h4M1376 1171h4M1300 1181h4M1352 1211h4M1385 1199h4M1400 1150h4M1430 1192h4M1359 1171h4M1341 1242h4M1285 1198h4M1398 1143h4M1411 1096h4M1369 1134h4M1436 1128h4M1314 1116h4M1349 1183h4M1454 1168h4M1328 1214h4M1399 1168h4M1396 1188h4M1366 1153h4M1442 1121h4M1338 1221h4M1345 1180h4M1283 1253h4M1311 1182h4M1353 1208h4M1368 1224h4M1356 1177h4M1407 1223h4M1359 1240h4M1415 1258h4M1363 1113h4M1350 1280h4M1317 1163h4M1419 1067h4M1395 1108h4M1426 1166h4M1384 1127h4M1366 1153h4M1362 1225h4M1379 1129h4M1365 1195h4M1366 1226h4M1339 1115h4M1346 1138h4M1413 1162h4M1322 1196h4M1490 1129h4M1289 1132h4M1334 1157h4M1418 1167h4M1337 1213h4M1364 1227h4M1363 1162h4M1283 1217h4M1329 1154h4M1308 1166h4M1325 1114h4M1417 1219h4M1391 1146h4M1428 1118h4M1426 1122h4M1425 1170h4M1367 1178h4M1405 1126h4M1335 1229h4M1367 1185h4M1433 1136h4M1405 1156h4M1319 1243h4M1350 1210h4M1409 1151h4M1412 1194h4M1385 1079h4M1294 1236h4M1294 1174h4M1346 1159h4M1317 1187h4M1394 1235h4M1366 1168h4M1382 1161h4M1370 1196h4M1364 1095h4M1401 1149h4M1385 1192h4M1295 1168h4M1438 1164h4M1367 1144h4M1365 1115h4M1390 1198h4M1293 1212h4M1407 1186h4M1340 1194h4M1294 1166h4M1445 1179h4M1360 1195h4M1388 1181h4M1405 1142h4M1429 1103h4M1304 1262h4M1345 1217h4M1404 1166h4M1328 1171h4M1287 1291h4M1363 1145h4M1368 1146h4M1439 1228h4M1389 1190h4M1362 1215h4M1390 1194h4M1399 1245h4M1351 1200h4M1389 1187h4M1373 1140h4M1322 1200h4M1395 1104h4M1403 1145h4M1406 1158h4M1285 1260h4M1395 1217h4M1353 1156h4M1305 1163h4M1401 1172h4M1284 1181h4M1453 1204h4M1406 1208h4M1330 1155h4M1440 1152h4M1410 1207h4M1371 1139h4M1300 1189h4M1393 1162h4M1456 1189h4M1428 1167h4M1304 1196h4M1439 1156h4M1445 1141h4M1411 1163h4M1357 1200h4M1300 1217h4M1335 1217h4M1341 1189h4M1376 1160h4M1389 1153h4M1308 1140h4M1282 1196h4M1375 1243h4M1303 1203h4M1438 1162h4M1321 1230h4M1382 1149h4M1400 1146h4M1327 1214h4M1399 1123h4M1373 1207h4M1338 1215h4M1324 1204h4M1374 1181h4M1427 1175h4M1357 1081h4M1366 1195h4M1315 1162h4M1353 1162h4M1358 1162h4M1356 1163h4M1378 1104h4M1294 1134h4M1458 1130h4M1409 1158h4M1344 1203h4M1360 1167h4M1358 1211h4M1396 1148h4M1392 1141h4M1488 1200h4M1335 1126h4M1392 1133h4M1330 1150h4M1342 1169h4M1488 1245h4M1345 1146h4M1358 1170h4M1342 1167h4M1371 1144h4M1408 1190h4M1355 1164h4M1330 1237h4M1406 1215h4M1322 1179h4M1373 1231h4M1361 1134h4M1385 1182h4M1286 1262h4M1434 1107h4M1406 1158h4M1468 1150h4M1498 1141h4M1329 1210h4M1372 1255h4M1378 1168h4M1431 1197h4M1376 1259h4M1344 1165h4M1413 1141h4M1310 1165h4M1389 1197h4M1441 1201h4M1329 1128h4M1391 1132h4M1353 1162h4M1326 1287h4M1336 1179h4M1363 1196h4M1333 1148h4M1381 1208h4M1369 1137h4M1379 1171h4M1359 1143h4M1344 1187h4M1353 1181h4M1351 1196h4M1340 1200h4M1458 1209h4M1292 1199h4M1396 1219h4M1292 1228h4M1333 1189h4M1406 1174h4M1354 1196h4M1443 1178h4M1330 1229h4M1358 1209h4M1337 1205h4M1339 1131h4M1360 1217h4M1361 1227h4M1371 1193h4M1418 1168h4M1355 1152h4M1368 1191h4M1360 1218h4M1307 1157h4M1284 1200h4M1302 1190h4M1379 1223h4M1362 1110h4M1341 1198h4M1334 1247h4M1330 1190h4M1382 1155h4M1378 1182h4M1396 1232h4M1438 1136h4M1466 1123h4M1305 1224h4M1390 1138h4M1299 1144h4M1298 1217h4M1331 1181h4M1416 1170h4M1350 1192h4M1349 1208h4M1415 1114h4M1394 1179h4M1348 1152h4M1457 1151h4M1383 1154h4M1358 1249h4M1303 1174h4M1314 1114h4M1378 1178h4M1406 1142h4M1395 1129h4M1378 1182h4M1338 1256h4M1411 1151h4M1363 1152h4M1338 1247h4M1327 1241h4M1379 1173h4M1376 1152h4M1417 1182h4M1299 1181h4M1449 1114h4M1373 1195h4M1453 1196h4M1417 1156h4M1348 1255h4M1366 1100h4M1425 1148h4M1376 1105h4M1333 1227h4M1465 1181h4M1356 1151h4M1316 1202h4M1323 1137h4M1336 1155h4M1373 1132h4M1305 1206h4M1363 1146h4M1408 1109h4M1355 1147h4M1388 1158h4M1385 1167h4M1325 1184h4M1364 1221h4M1360 1161h4M1387 1166h4M1469 1148h4M1435 1126h4M1361 1227h4M1354 1208h4M1327 1222h4M1281 1197h4M1423 1141h4M1397 1181h4M1286 1251h4M1355 1154h4M1468 1106h4M1367 1122h4M1365 1116h4M1390 1205h4M1327 1192h4M1317 1219h4M1341 1228h4M1371 1171h4M1355 1184h4M1382 1127h4M1440 1117h4M1400 1176h4M1426 1201h4M1364 1216h4M1293 1183h4M1457 1103h4M1411 1182h4M1429 1165h4M1356 1202h4M1289 1222h4M1448 1187h4M1380 1226h4M1349 1206h4M1377 1173h4M1389 1123h4M1410 1169h4M1417 1161h4M1284 1189h4M1371 1103h4M1341 1178h4M1338 1259h4M1325 1154h4M1296 1192h4M1368 1183h4M1426 1187h4M1390 1128h4M1369 1178h4M1424 1162h4M1374 1129h4M1476 1142h4M1376 1133h4M1341 1196h4M1362 1204h4M1332 1197h4M1334 1144h4M1370 1202h4M1410 1185h4M1406 1165h4M1381 1202h4M1380 1153h4M1319 1168h4M1338 1184h4M1290 1248h4M1343 1223h4M1333 1166h4M1493 1127h4M1304 1213h4M1363 1160h4M1321 1121h4M1393 1201h4M1345 1129h4M1286 1153h4M1287 1183h4M1358 1167h4M1316 1249h4M1404 1173h4M1346 1167h4M1387 1154h4M1358 1197h4M1441 1143h4M1374 1105h4M1458 1180h4M1386 1202h4M1302 1165h4M1296 1200h4M1350 1201h4M1385 1178h4M1332 1180h4M1486 1123h4M1391 1235h4M1386 1156h4M1387 1205h4M1312 1212h4M1402 1116h4M1409 1182h4M1416 1168h4M1341 1234h4M1394 1227h4M1383 1211h4M1431 1161h4M1311 1225h4M1415 1188h4M1419 1123h4M1335 1155h4M1342 1220h4M1418 1112h4M1378 1162h4M1451 1208h4M1420 1188h4M1440 1192h4M1361 1179h4M1286 1260h4M1387 1136h4M1326 1166h4M1398 1157h4M1335 1166h4M1468 1180h4M1357 1176h4M1394 1120h4M1437 1179h4M1378 1200h4M1404 1205h4M1353 1138h4M1313 1169h4M1408 1071h4M1332 1207h4M1294 1208h4M1337 1168h4M1396 1214h4M1362 1149h4M1346 1166h4M1335 1157h4M1399 1159h4M1450 1129h4M1329 1179h4M1385 1114h4M1351 1158h4M1285 1261h4M1319 1162h4M1292 1192h4M1306 1188h4M1451 1098h4M1394 1103h4M1359 1171h4M1393 1223h4M1453 1152h4M1314 1194h4M1395 1134h4M1329 1167h4M1426 1188h4M1364 1132h4M1360 1247h4M1423 1152h4M1402 1172h4M1455 1122h4M1365 1215h4M1392 1202h4M1327 1168h4M1458 1206h4M1337 1199h4M1348 1129h4M1442 1162h4M1402 1174h4M1388 1176h4M1397 1198h4M1404 1203h4M1385 1124h4M1353 1177h4M1437 1147h4M1293 1144h4M1464 1143h4M1386 1172h4M1554 1165h4M1416 1123h4M1384 1151h4M1422 1170h4M1303 1208h4M1392 1200h4M1371 1223h4M1358 1148h4M1394 1136h4M1405 1247h4M1353 1197h4M1367 1184h4M1315 1143h4M1336 1166h4M1373 1098h4M1368 1204h4M1391 1136h4M1335 1195h4M1286 1230h4M1339 1198h4M1355 1167h4M1324 1226h4M1332 1150h4M1315 1128h4M1391 1108h4M1420 1181h4M1442 1196h4M1320 1172h4M1376 1150h4M1436 1159h4M1356 1129h4M1356 1161h4M1308 1146h4M1408 1158h4M1332 1077h4M1393 1103h4M1333 1122h4M1466 1125h4M1372 1190h4M1306 1201h4M1407 1235h4M1390 1164h4M1415 1114h4M1336 1170h4M1350 1208h4M1360 1195h4M1379 1252h4M1288 1229h4M1387 1128h4M1411 1110h4M1341 1217h4M1365 1190h4M1339 1220h4M1398 1142h4M1340 1196h4M1416 1202h4M1328 1250h4M1318 1251h4M1306 1241h4M1295 1201h4M1370 1126h4M1376 1087h4M1401 1228h4M1393 1203h4M1438 1184h4M1300 1188h4M1423 1128h4M1467 1080h4M1401 1240h4M1377 1116h4M1380 1124h4M1314 1227h4M1325 1227h4M1341 1207h4M1359 1138h4M1405 1149h4M1360 1144h4M1413 1133h4M1370 1245h4M1303 1216h4M1381 1200h4M1351 1147h4M1290 1189h4M1424 1166h4M1339 1236h4M1330 1186h4M1401 1218h4M1352 1277h4M1371 1103h4M1387 1167h4M1400 1186h4M1364 1168h4M1370 1240h4M1333 1196h4M1388 1179h4M1410 1092h4M1421 1189h4M1381 1156h4M1424 1166h4M1429 1136h4M1297 1180h4M1364 1170h4M1409 1105h4M1333 1181h4M1363 1221h4M1413 1191h4M1344 1147h4M1440 1174h4M1348 1168h4M1388 1139h4M1500 1136h4M1436 1171h4M1294 1184h4M1333 1227h4M1320 1196h4M1400 1245h4M1282 1157h4M1393 1153h4M1448 1126h4M1432 1111h4M1312 1147h4M1374 1220h4M1359 1190h4M1308 1148h4M1443 1118h4M1330 1177h4M1320 1210h4M1371 1134h4M1407 1215h4M1443 1141h4M1465 1186h4M1368 1197h4M1284 1213h4M1399 1154h4M1414 1170h4M1458 1140h4M1296 1219h4M1324 1227h4M1462 1181h4M1431 1106h4M1406 1093h4M1353 1146h4M1449 1186h4M1338 1182h4M1298 1183h4M1370 1189h4M1384 1197h4M1389 1121h4M1405 1119h4M1281 1214h4M1379 1166h4M1379 1141h4M1340 1278h4M1373 1222h4M1367 1170h4M1398 1188h4M1307 1156h4M1352 1220h4M1310 1195h4M1372 1146h4M1329 1139h4M1350 1216h4M1398 1164h4M1349 1161h4M1324 1236h4M1417 1143h4M1417 1163h4M1381 1151h4M1322 1213h4M1402 1114h4M1331 1176h4M1347 1152h4M1444 1118h4M1355 1210h4M1387 1147h4M1448 1180h4M1381 1186h4M1351 1184h4M1344 1128h4M1417 1212h4M1364 1236h4M1387 1179h4M1395 1169h4M1349 1188h4M1394 1147h4M1389 1156h4M1357 1197h4M1335 1132h4M1371 1173h4M1365 1193h4M1330 1124h4M1307 1178h4M1348 1124h4M1379 1113h4M1405 1180h4M1309 1156h4M1432 1249h4M1392 1156h4M1309 1169h4M1386 1154h4M1357 1178h4M1352 1193h4M1381 1180h4M1360 1190h4M1394 1209h4M1314 1202h4M1367 1190h4M1387 1136h4M1345 1161h4M1339 1173h4M1392 1216h4M1378 1142h4M1329 1201h4M1338 1194h4M1401 1191h4M1432 1121h4M1360 1164h4M1423 1192h4M1335 1201h4M1358 1159h4M1387 1213h4M1307 1209h4M1357 1161h4M1371 1211h4M1290 1291h4M1355 1166h4M1364 1139h4M1341 1096h4M1408 1230h4M1304 1185h4M1326 1184h4M1341 1150h4M1321 1191h4M1327 1154h4M1445 1201h4M1334 1220h4M1340 1168h4M1432 1098h4M1367 1200h4M1305 1173h4M1396 1214h4M1378 1183h4M1371 1174h4M1290 1175h4M1383 1180h4M1364 1127h4M1480 1170h4M1368 1099h4M1341 1175h4M1418 1247h4M1391 1146h4M1372 1204h4M1382 1212h4M1437 1159h4M1389 1162h4M1408 1199h4M1340 1233h4M1381 1150h4M1305 1270h4M1447 1193h4M1333 1154h4M1408 1180h4M1444 1165h4M1323 1206h4M1416 1132h4M1364 1133h4M1433 1168h4M1331 1133h4M1331 1173h4M1403 1086h4M1381 1145h4M1377 1181h4M1298 1156h4M1446 1173h4M1371 1214h4M1369 1195h4M1350 1213h4M1395 1224h4M1411 1188h4M1344 1124h4M1366 1174h4M1334 1162h4M1442 1146h4M1422 1088h4M1359 1185h4M1327 1188h4M1392 1189h4M1282 1181h4M1379 1163h4M1353 1103h4M1377 1168h4M1445 1141h4M1437 1094h4M1392 1167h4M1334 1140h4M1426 1170h4M1412 1125h4M1309 1189h4M1362 1246h4M1368 1200h4M1317 1262h4M1335 1234h4M1446 1138h4M1336 1255h4M1415 1168h4M1334 1194h4M1411 1142h4M1369 1132h4M1422 1176h4M1304 1200h4M1392 1186h4M1344 1186h4M1417 1181h4M1396 1144h4M1384 1182h4M1382 1214h4M1391 1221h4M1384 1174h4M1335 1160h4M1375 1237h4M1361 1233h4M1314 1182h4M1441 1200h4M1320 1227h4M1420 1124h4M1408 1170h4M1283 1209h4M1368 1168h4M1323 1202h4M1396 1214h4M1395 1114h4M1344 1075h4M1373 1208h4M1360 1176h4M1455 1179h4M1369 1216h4M1479 1197h4M1438 1073h4M1380 1239h4M1387 1173h4M1446 1128h4M1365 1246h4M1413 1211h4M1403 1114h4M1317 1183h4M1414 1219h4M1360 1133h4M1356 1204h4M1454 1164h4M1366 1178h4M1473 1115h4M1421 1191h4M1340 1189h4M1373 1144h4M1350 1218h4M1391 1115h4M1399 1152h4M1327 1220h4M1335 1144h4M1420 1218h4M1384 1190h4M1329 1199h4M1410 1123h4M1441 1157h4M1302 1201h4M1449 1160h4M1372 1192h4M1321 1146h4M1325 1142h4M1370 1150h4M1289 1139h4M1364 1172h4M1451 1143h4M1368 1112h4M1438 1138h4M1402 1136h4M1286 1188h4M1473 1178h4M1405 1145h4M1401 1160h4M1345 1163h4M1340 1169h4M1321 1193h4M1365 1179h4M1373 1165h4M1380 1212h4M1361 1170h4M1280 1214h4M1363 1247h4M1339 1200h4M1398 1196h4M1361 1208h4M1345 1173h4M1395 1216h4M1354 1195h4M1361 1188h4M1423 1157h4M1370 1193h4M1342 1223h4M1367 1096h4M1429 1204h4M1370 1098h4M1292 1165h4M1424 1177h4M1371 1170h4M1388 1196h4M1357 1136h4M1393 1168h4M1402 1184h4M1426 1118h4M1372 1147h4M1370 1182h4M1408 1178h4M1329 1098h4M1416 1141h4M1383 1182h4M1428 1207h4M1331 1150h4M1419 1158h4M1384 1127h4M1319 1163h4M1345 1163h4M1400 1227h4M1320 1222h4M1337 1231h4M1392 1162h4M1411 1201h4M1434 1149h4M1324 1228h4M1333 1137h4M1462 1162h4M1344 1276h4M1390 1245h4M1444 1104h4M1434 1141h4M1328 1188h4M1513 1213h4M1381 1144h4M1328 1207h4M1402 1211h4M1411 1187h4M1381 1123h4M1305 1288h4M1423 1070h4M1302 1220h4M1355 1168h4M1414 1100h4M1383 1156h4M1363 1165h4M1325 1152h4M1388 1147h4M1430 1140h4M1347 1193h4M1356 1096h4M1345 1166h4M1352 1187h4M1291 1253h4M1399 1207h4M1386 1098h4M1354 1159h4M1422 1162h4M1390 1197h4M1453 1206h4M1373 1162h4M1336 1142h4M1350 1188h4M1380 1182h4M1375 1148h4M1322 1162h4M1374 1199h4M1291 1161h4M1302 1185h4M1406 1172h4M1391 1173h4M1413 1159h4M1364 1141h4M1329 1053h4M1442 1107h4M1344 1214h4M1398 1198h4M1467 1192h4M1472 1149h4M1419 1209h4M1366 1176h4M1331 1212h4M1397 1248h4M1368 1150h4M1364 1157h4M1413 1204h4M1411 1193h4M1325 1131h4M1351 1238h4M1347 1157h4M1381 1144h4M1461 1175h4M1305 1227h4M1428 1172h4M1380 1230h4M1436 1186h4M1417 1053h4M1398 1176h4M1330 1224h4M1352 1186h4M1383 1160h4M1360 1192h4M1371 1186h4M1335 1191h4M1359 1177h4M1326 1154h4M1411 1162h4M1373 1147h4M1416 1188h4M1289 1193h4M1344 1172h4M1317 1149h4M1347 1176h4M1339 1212h4M1319 1152h4M1458 1180h4M1359 1183h4M1310 1194h4M1367 1205h4M1476 1138h4M1372 1096h4M1343 1227h4M1367 1200h4M1365 1174h4M1323 1070h4M1298 1134h4M1374 1204h4M1306 1241h4M1362 1181h4M1371 1171h4M1369 1083h4M1415 1150h4M1345 1146h4M1376 1163h4M1383 1125h4M1426 1178h4M1367 1161h4M1340 1201h4M1394 1159h4M1396 1132h4M1352 1121h4M1375 1119h4M1426 1110h4M1347 1187h4M1368 1254h4M1326 1209h4M1383 1163h4M1425 1183h4M1329 1148h4M1455 1145h4M1348 1196h4M1347 1095h4M1368 1186h4M1422 1125h4M1339 1184h4M1439 1130h4M1363 1182h4M1297 1176h4M1357 1214h4M1377 1209h4M1430 1106h4M1351 1192h4M1365 1166h4M1482 1173h4M1364 1145h4M1343 1192h4M1333 1183h4M1401 1202h4M1428 1158h4M1334 1141h4M1334 1224h4M1396 1201h4M1345 1123h4M1358 1169h4M1384 1155h4M1366 1167h4M1350 1179h4M1406 1139h4M1292 1155h4M1317 1199h4M1334 1137h4M1297 1183h4M1443 1159h4M1297 1282h4M1420 1206h4M1382 1141h4M1380 1162h4M1408 1212h4M1350 1207h4M1349 1221h4M1419 1121h4M1370 1199h4M1312 1231h4M1334 1250h4M1326 1270h4M1370 1152h4M1442 1202h4M1350 1177h4M1376 1180h4M1368 1238h4M1412 1168h4M1417 1180h4M1437 1216h4M1486 1217h4M1325 1229h4M1391 1130h4M1303 1219h4M1394 1145h4M1401 1149h4M1408 1175h4M1402 1152h4M1364 1179h4M1340 1186h4M1402 1154h4M1313 1126h4M1398 1151h4M1329 1186h4M1409 1217h4M1395 1194h4M1336 1200h4M1346 1161h4M1418 1170h4M1349 1124h4M1403 1183h4M1334 1161h4M1364 1148h4M1321 1241h4M1335 1189h4M1423 1141h4M1376 1122h4M1391 1216h4M1337 1086h4M1317 1217h4M1393 1173h4M1322 1213h4M1328 1168h4M1385 1125h4M1364 1247h4M1354 1200h4M1380 1206h4M1349 1118h4M1445 1179h4M1316 1259h4M1364 1211h4M1369 1107h4M1329 1146h4M1311 1096h4M1336 1200h4M1369 1213h4M1401 1170h4M1416 1132h4M1369 1135h4M1442 1172h4M1356 1137h4M1323 1271h4M1410 1176h4M1300 1263h4M1368 1181h4M1364 1167h4M1325 1215h4M1346 1153h4M1340 1179h4M1372 1168h4M1340 1149h4M1403 1178h4M1334 1145h4M1365 1098h4M1362 1163h4M1376 1163h4M1367 1159h4M1345 1181h4M1419 1153h4M1397 1169h4M1312 1196h4M1418 1084h4M1362 1194h4M1508 1148h4M1380 1150h4M1375 1136h4M1361 1212h4M1348 1158h4M1378 1177h4M1416 1172h4M1390 1210h4M1414 1279h4M1322 1190h4M1297 1078h4M1351 1190h4M1350 1154h4M1345 1214h4M1325 1213h4M1368 1215h4M1314 1239h4M1322 1179h4M1395 1195h4M1318 1156h4M1303 1170h4M1393 1160h4M1369 1202h4M1409 1118h4M1354 1183h4M1342 1214h4M1358 1209h4M1424 1104h4M1460 1208h4M1364 1163h4M1415 1170h4M1324 1257h4M1406 1127h4M1348 1108h4M1377 1221h4M1341 1130h4M1375 1178h4M1328 1159h4M1375 1251h4M1313 1217h4M1458 1206h4M1330 1216h4M1345 1165h4M1420 1189h4M1398 1121h4M1414 1132h4M1347 1223h4M1351 1215h4M1340 1151h4M1393 1156h4M1369 1222h4M1377 1121h4M1391 1160h4M1336 1190h4M1397 1165h4M1354 1054h4M1283 1221h4M1334 1166h4M1405 1212h4M1351 1123h4M1361 1218h4M1359 1202h4M1445 1107h4M1343 1196h4M1413 1182h4M1283 1162h4M1352 1111h4M1396 1148h4M1348 1212h4M1335 1206h4M1441 1145h4M1340 1165h4M1396 1143h4M1309 1240h4M1443 1163h4M1298 1277h4M1330 1221h4M1337 1198h4M1354 1169h4M1371 1176h4M1458 1198h4M1449 1121h4M1442 1131h4M1405 1172h4M1382 1192h4M1294 1268h4M1359 1177h4M1374 1265h4M1395 1170h4M1325 1209h4M1334 1207h4M1355 1242h4M1409 1198h4M1377 1184h4M1305 1167h4M1292 1172h4M1346 1202h4M1342 1203h4M1340 1187h4M1373 1186h4M1388 1142h4M1405 1172h4M1357 1238h4M1340 1211h4M1435 1151h4M1359 1191h4M1414 1197h4M1366 1155h4M1377 1157h4M1426 1120h4M1330 1126h4M1437 1199h4M1402 1191h4M1349 1155h4M1376 1249h4M1333 1165h4M1426 1168h4M1401 1133h4M1352 1241h4M1394 1187h4M1298 1239h4M1381 1199h4M1496 1212h4M1281 1128h4M1376 1159h4M1344 1196h4M1382 1196h4M1321 1199h4M1378 1176h4M1373 1217h4M1347 1170h4M1385 1225h4M1461 1142h4M1322 1214h4M1372 1267h4M1333 1262h4M1363 1109h4M1382 1208h4M1332 1240h4M1417 1176h4M1372 1157h4M1456 1202h4M1396 1151h4M1373 1181h4M1322 1174h4M1318 1144h4M1437 1197h4M1347 1165h4M1330 1200h4M1372 1163h4M1424 1216h4M1525 1193h4M1331 1218h4M1354 1195h4M1320 1213h4M1319 1165h4M1392 1129h4M1353 1164h4M1302 1214h4M1416 1130h4M1441 1134h4M1402 1165h4M1331 1222h4M1319 1206h4M1414 1133h4M1318 1199h4M1281 1274h4M1402 1287h4M1382 1250h4M1368 1186h4M1329 1257h4M1352 1237h4M1325 1231h4M1378 1163h4M1371 1272h4M1400 1172h4M1321 1144h4M1318 1275h4M1288 1220h4M1370 1106h4M1335 1236h4M1342 1241h4M1310 1177h4M1368 1179h4M1345 1271h4M1335 1164h4M1325 1153h4M1361 1109h4M1323 1229h4M1310 1303h4M1318 1230h4M1318 1143h4M1286 1240h4M1429 1274h4M1419 1192h4M1291 1248h4M1308 1218h4M1296 1329h4M1419 1180h4M1319 1127h4M1364 1213h4M1302 1295h4M1330 1228h4M1385 1290h4M1447 1244h4M1352 1295h4M1413 1216h4M1423 1182h4M1410 1174h4M1408 1194h4M1311 1241h4M1398 1277h4M1356 1191h4M1292 1297h4M1375 1198h4M1350 1286h4M1308 1189h4M1380 1217h4M1307 1264h4M1326 1216h4M1414 1254h4M1317 1276h4M1433 1172h4M1373 1210h4M1411 1301h4M1356 1289h4M1353 1255h4M1358 1249h4M1389 1190h4M1368 1239h4M1390 1193h4M1298 1159h4M1402 1217h4M1422 1322h4M1384 1216h4M1380 1257h4M1372 1182h4M1323 1217h4M1299 1295h4M1342 1244h4M1354 1212h4M1339 1302h4M1370 1237h4M1319 1278h4M1346 1333h4M1291 1172h4M1418 1251h4M1361 1177h4M1341 1229h4M1300 1255h4M1368 1203h4M1438 1305h4M1312 1227h4M1330 1138h4M1366 1234h4M1300 1157h4M1282 1200h4M1379 1183h4M1336 1228h4M1396 1129h4M1389 1198h4M1351 1240h4M1282 1187h4M1407 1132h4M1371 1249h4M1356 1218h4M1353 1162h4M1349 1149h4M1372 1205h4M1292 1257h4M1355 1157h4M1298 1197h4M1307 1305h4M1345 1219h4M1323 1234h4M1350 1223h4M1343 1301h4M1315 1172h4M1377 1227h4M1368 1229h4M1330 1259h4M1308 1213h4M1415 1097h4M1371 1222h4M1310 1301h4M1383 1170h4M1336 1302h4M1432 1206h4M1367 1257h4M1329 1244h4M1310 1170h4M1375 1238h4M1342 1196h4M1286 1295h4M1284 1297h4M1421 1239h4M1411 1239h4M1338 1298h4M1398 1240h4M1334 1159h4M1334 1246h4M1374 1170h4M1315 1266h4M1362 1234h4M1342 1301h4M1284 1213h4M1381 1274h4M1333 1165h4M1319 1245h4M1338 1141h4M1326 1284h4M1340 1197h4M1385 1254h4M1319 1191h4M1358 1266h4M1391 1225h4M1353 1182h4M1287 1244h4M1404 1223h4M1289 1185h4M1318 1195h4M1371 1246h4M1433 1176h4M1376 1251h4M1349 1253h4M1326 1206h4M1316 1252h4M1295 1172h4M1383 1235h4M1338 1198h4M1348 1273h4M1290 1266h4M1351 1331h4M1366 1268h4M1431 1211h4M1297 1265h4M1285 1337h4M1404 1293h4M1315 1234h4M1401 1231h4M1358 1145h4M1389 1233h4M1360 1192h4M1297 1266h4M1338 1282h4M1306 1194h4M1347 1188h4M1423 1324h4M1287 1191h4M1326 1227h4M1376 1238h4M1439 1254h4M1347 1105h4M1399 1256h4M1301 1172h4M1348 1135h4M1345 1271h4M1376 1162h4M1343 1266h4M1338 1293h4M1395 1214h4M1347 1219h4M1338 1130h4M1356 1187h4M1338 1332h4M1391 1260h4M1374 1269h4M1303 1272h4M1345 1259h4M1300 1267h4M1344 1143h4M1407 1143h4M1363 1202h4M1395 1259h4M1313 1148h4M1409 1262h4M1373 1172h4M1321 1327h4M1325 1274h4M1284 1294h4M1291 1143h4M1310 1222h4M1357 1257h4M1339 1256h4M1425 1199h4M1394 1143h4M1328 1171h4M1401 1203h4M1326 1215h4M1335 1188h4M1372 1190h4M1465 1211h4M1341 1254h4M1440 1173h4M1338 1219h4M1403 1264h4M1409 1181h4M1383 1203h4M1384 1141h4M1339 1210h4M1352 1261h4M1352 1224h4M1436 1155h4M1355 1233h4M1366 1163h4M1376 1184h4M1318 1187h4M1360 1335h4M1401 1299h4M1343 1139h4M1296 1243h4M1352 1281h4M1400 1271h4M1344 1222h4M1326 1228h4M1388 1218h4M1350 1207h4M1347 1159h4M1308 1268h4M1344 1196h4M1396 1338h4M1392 1239h4M1357 1237h4M1401 1288h4M1377 1251h4M1289 1238h4M1393 1165h4M1345 1162h4M1352 1154h4M1356 1285h4M1416 1196h4M1326 1228h4M1376 1239h4M1346 1177h4M1323 1223h4M1382 1170h4M1324 1202h4M1330 1164h4M1343 1215h4M1319 1210h4M1423 1308h4M1379 1217h4M1383 1295h4M1359 1288h4M1344 1194h4M1358 1180h4M1366 1191h4M1370 1264h4M1426 1234h4M1299 1249h4M1282 1259h4M1325 1253h4M1376 1295h4M1356 1126h4M1375 1154h4M1415 1297h4M1333 1229h4M1380 1237h4M1357 1165h4M1315 1235h4M1404 1265h4M1346 1212h4M1281 1245h4M1391 1242h4M1439 1237h4M1308 1186h4M1281 1301h4M1367 1269h4M1404 1226h4M1360 1287h4M1281 1181h4M1347 1299h4M1395 1152h4M1343 1221h4M1344 1139h4M1385 1333h4M1358 1214h4M1385 1250h4M1387 1307h4M1367 1181h4M1369 1250h4M1377 1176h4M1339 1328h4M1332 1223h4M1314 1253h4M1384 1231h4M1398 1248h4M1408 1212h4M1347 1185h4M1347 1253h4M1419 1166h4M1361 1241h4M1443 1215h4M1295 1230h4M1284 1175h4M1360 1194h4M1359 1175h4M1333 1229h4M1290 1311h4M1350 1274h4M1330 1277h4M1376 1324h4M1361 1125h4M1313 1306h4M1331 1170h4M1388 1289h4M1339 1222h4M1312 1263h4M1329 1077h4M1431 1172h4M1451 1223h4M1373 1269h4M1383 1178h4M1371 1084h4M1362 1164h4M1283 1178h4M1453 1264h4M1336 1153h4M1366 1282h4M1375 1225h4M1306 1223h4M1374 1273h4M1361 1241h4M1377 1203h4M1424 1204h4M1296 1225h4M1312 1226h4M1363 1186h4M1398 1239h4M1406 1218h4M1307 1227h4M1332 1218h4M1321 1136h4M1304 1187h4M1365 1212h4M1286 1187h4M1375 1220h4M1307 1248h4M1436 1332h4M1321 1296h4M1391 1181h4M1399 1210h4M1326 1201h4M1371 1182h4M1365 1172h4M1312 1196h4M1337 1241h4M1450 1287h4M1377 1288h4M1282 1185h4M1283 1206h4M1370 1264h4M1329 1268h4M1280 1281h4M1305 1134h4M1311 1259h4M1381 1276h4M1285 1185h4M1439 1252h4M1305 1285h4M1376 1214h4M1356 1333h4M1391 1132h4M1309 1145h4M1285 1288h4M1389 1239h4M1308 1225h4M1359 1193h4M1410 1248h4M1427 1257h4M1284 1221h4M1367 1262h4M1285 1335h4M1309 1246h4M1295 1308h4M1419 1209h4M1354 1198h4M1302 1181h4M1390 1157h4M1300 1180h4M1411 1191h4M1320 1248h4M1371 1142h4M1406 1299h4M1296 1137h4M1385 1262h4M1372 1246h4M1368 1243h4M1298 1204h4M1361 1257h4M1320 1102h4M1373 1318h4M1344 1255h4M1311 1225h4M1290 1166h4M1410 1199h4M1299 1145h4M1325 1215h4M1375 1251h4M1303 1132h4M1402 1282h4M1303 1220h4M1300 1207h4M1324 1263h4M1330 1212h4M1427 1214h4M1395 1227h4M1333 1180h4M1391 1218h4M1305 1140h4M1370 1230h4M1342 1323h4M1320 1239h4M1413 1250h4M1368 1253h4M1361 1164h4M1337 1227h4M1362 1223h4M1389 1201h4M1339 1215h4M1348 1236h4M1296 1130h4M1326 1245h4M1327 1191h4M1335 1101h4M1442 1213h4M1332 1138h4M1439 1265h4M1324 1169h4M1392 1281h4M1330 1281h4M1430 1237h4M1378 1178h4M1288 1221h4M1336 1238h4M1301 1223h4M1287 1291h4M1323 1217h4M1354 1264h4M1340 1304h4M1325 1293h4M1306 1250h4M1339 1331h4M1377 1306h4M1391 1314h4M1321 1256h4M1328 1266h4M1330 1259h4M1290 1274h4M1375 1263h4M1352 1251h4M1368 1332h4M1305 1310h4M1359 1248h4M1362 1302h4M1384 1208h4M1336 1247h4M1356 1258h4M1315 1301h4M1328 1215h4M1415 1315h4M1285 1261h4M1390 1230h4M1337 1261h4M1320 1276h4M1281 1271h4M1339 1289h4M1368 1225h4M1334 1221h4M1395 1218h4M1309 1273h4M1322 1218h4M1336 1174h4M1316 1210h4M1339 1274h4M1310 1322h4M1294 1255h4M1317 1274h4M1354 1160h4M1365 1237h4M1304 1270h4M1378 1195h4M1340 1226h4M1333 1215h4M1304 1234h4M1339 1252h4M1321 1300h4M1305 1297h4M1363 1273h4M1360 1311h4M1337 1303h4M1374 1259h4M1368 1304h4M1359 1241h4M1343 1248h4M1308 1249h4M1337 1320h4M1363 1332h4M1339 1265h4M1339 1245h4M1346 1331h4M1370 1223h4M1307 1309h4M1365 1308h4M1393 1238h4M1286 1299h4M1296 1237h4M1342 1278h4M1388 1253h4M1388 1281h4M1365 1253h4M1362 1236h4M1343 1275h4M1346 1290h4M1384 1281h4M1304 1230h4M1328 1324h4M1356 1254h4M1393 1287h4M1308 1218h4M1331 1273h4M1351 1244h4M1364 1262h4M1402 1300h4M1369 1260h4M1320 1263h4M1304 1300h4M1293 1296h4M1285 1246h4M1331 1255h4M1407 1261h4M1344 1244h4M1320 1254h4M1340 1296h4M1323 1242h4M1395 1284h4M1355 1242h4M1315 1206h4M1349 1273h4M1355 1282h4M1311 1286h4M1300 1282h4M1337 1279h4M1286 1206h4M1291 1265h4M1348 1300h4M1362 1296h4M1395 1255h4M1353 1279h4M1341 1294h4M1323 1265h4M1322 1279h4M1371 1300h4M1352 1285h4M1374 1258h4M1320 1217h4M1370 1247h4M1294 1318h4M1281 1278h4M1375 1320h4M1367 1266h4M1374 1333h4M1323 1237h4M1362 1199h4M1345 1292h4M1294 1264h4M1354 1293h4M1283 1334h4M1348 1281h4M1354 1297h4M1305 1188h4M1364 1278h4M1302 1248h4M1300 1268h4M1360 1314h4M1338 1310h4M1287 1229h4M1446 1275h4M1359 1326h4M1356 1314h4M1337 1329h4M1314 1230h4M1335 1289h4M1332 1224h4M1319 1335h4M1313 1308h4M1361 1332h4M1310 1272h4M1388 1327h4M1372 1205h4M1326 1289h4M1340 1239h4M1312 1255h4M1340 1238h4M1344 1282h4M1346 1268h4M1348 1236h4M1355 1251h4M1363 1328h4M1317 1266h4M1342 1306h4M1301 1228h4M1301 1335h4M1306 1253h4M1307 1327h4M1372 1232h4M1322 1252h4M1380 1256h4M1318 1317h4M1307 1253h4M1334 1282h4M1401 1282h4M1293 1302h4M1348 1297h4M1369 1299h4M1371 1247h4M1319 1293h4M1356 1243h4M1346 1312h4M1344 1303h4M1328 1249h4M1309 1286h4M1346 1334h4M1287 1259h4M1287 1265h4M1306 1204h4M1369 1286h4M1342 1288h4M1325 1301h4M1415 1284h4M1345 1251h4M1373 1260h4M1349 1312h4M1316 1237h4M1354 1303h4M1318 1315h4M1281 1263h4M1318 1243h4M1350 1242h4M1339 1288h4M1308 1277h4M1301 1221h4M1361 1284h4M1350 1272h4M1362 1211h4M1292 1309h4M1389 1299h4M1375 1321h4M1342 1278h4M1325 1265h4M1389 1173h4M1320 1264h4M1368 1301h4M1296 1291h4M1376 1305h4M1389 1301h4M1322 1275h4M1292 1305h4M1332 1336h4M1332 1314h4M1352 1226h4M1302 1268h4M1311 1256h4M1366 1265h4M1330 1265h4M1344 1256h4M1392 1288h4M1404 1305h4M1345 1258h4M1326 1294h4M1317 1334h4M1382 1250h4M1307 1246h4M1394 1287h4M1355 1251h4M1310 1317h4M1340 1249h4M1394 1228h4M1311 1210h4M1337 1290h4M1351 1273h4M1346 1252h4M1307 1311h4M1326 1289h4M1337 1259h4M1350 1303h4M1351 1307h4M1305 1257h4M1328 1220h4M1385 1277h4M1390 1285h4M1364 1196h4M1358 1307h4M1358 1273h4M1303 1288h4M1300 1270h4M1306 1283h4M1399 1237h4M1350 1291h4M1406 1322h4M1370 1273h4M1325 1307h4M1304 1308h4M1294 1271h4M1365 1289h4M1385 1306h4M1296 1319h4M1344 1274h4M1286 1274h4M1404 1291h4M1383 1316h4M1306 1228h4M1388 1266h4M1288 1258h4M1358 1262h4M1416 1269h4M1332 1329h4M1359 1325h4M1300 1265h4M1286 1239h4M1332 1272h4M1350 1277h4M1309 1264h4M1331 1277h4M1357 1251h4M1315 1265h4M1289 1261h4M1344 1263h4M1326 1245h4M1336 1276h4M1350 1328h4M1365 1282h4M1331 1299h4M1343 1257h4M1288 1281h4M1344 1335h4M1344 1280h4M1391 1279h4M1337 1274h4M1300 1337h4M1344 1275h4M1304 1247h4M1366 1256h4M1295 1239h4M1362 1277h4M1297 1283h4M1348 1290h4M1325 1268h4M1362 1320h4M1325 1203h4M1397 1218h4M1344 1305h4M1409 1257h4M1334 1313h4M1311 1257h4M1325 1245h4M1388 1305h4M1378 1221h4M1333 1228h4M1320 1333h4M1305 1333h4M1331 1231h4M1337 1277h4M1289 1221h4M1333 1279h4M1369 1232h4M1323 1327h4M1430 1167h4M1540 1120h4M1467 1100h4M1517 1132h4M1463 1096h4M1520 1076h4M1588 1076h4M1510 1090h4M1442 1120h4M1540 1108h4M1459 1155h4M1499 1103h4M1485 1125h4M1533 1106h4M1480 1057h4M1507 1125h4M1426 1045h4M1474 1086h4M1513 1088h4M1498 1105h4M1460 1110h4M1476 1082h4M1582 1138h4M1522 1061h4M1494 1181h4M1455 1035h4M1529 1128h4M1462 1165h4M1508 1069h4M1496 1076h4M1467 1095h4M1480 1075h4M1501 1128h4M1538 1100h4M1553 1026h4M1577 1100h4M1494 1141h4M1469 1114h4M1515 1125h4M1549 1002h4M1494 1114h4M1609 1112h4M1499 1052h4M1529 1111h4M1514 1052h4M1482 1079h4M1571 1043h4M1513 1089h4M1490 1132h4M1485 1110h4M1522 1140h4M1493 1124h4M1537 1105h4M1470 1129h4M1505 1078h4M1533 1124h4M1493 1120h4M1503 1088h4M1441 1095h4M1491 1130h4M1500 1103h4M1516 1134h4M1484 1130h4M1511 1086h4M1571 1106h4M1564 1084h4M1506 1146h4M1484 1110h4M1534 1107h4M1482 1117h4M1507 1092h4M1548 1082h4M1474 1068h4M1522 1097h4M1486 1110h4M1564 1060h4M1501 1131h4M1422 1074h4M1538 1050h4M1510 1127h4M1465 1063h4M1507 1060h4M1490 1114h4M1476 1119h4M1496 1075h4M1470 1082h4M1501 1035h4M1550 1070h4M1535 1082h4M1396 1115h4M1531 1140h4M1475 1103h4M1514 1053h4M1505 1080h4M1523 1168h4M1469 1136h4M1511 1083h4M1471 1046h4M1464 1110h4M1534 1039h4M1531 1092h4M1464 1175h4M1506 1101h4M1522 1087h4M1481 1165h4M1487 1091h4M1539 1178h4M1502 1110h4M1597 1134h4M1537 1122h4M1481 1100h4M1479 1163h4M1551 1188h4M1563 1144h4M1530 1150h4M1545 1115h4M1504 1128h4M1435 1000h4M1523 1075h4M1413 1142h4M1537 1132h4M1522 1124h4M1434 1096h4M1477 1098h4M1545 1053h4M1489 1096h4M1488 1104h4M1533 1108h4M1498 1066h4M1514 1130h4M1548 1064h4M1574 1050h4M1482 1144h4M1504 1056h4M1473 1074h4M1528 1102h4M1514 1106h4M1550 1067h4M1476 1100h4M1486 1159h4M1526 1134h4M1472 1086h4M1537 1098h4M1568 1114h4M1467 1083h4M1574 1073h4M1526 1069h4M1545 1128h4M1516 1088h4M1571 1055h4M1472 1183h4M1466 1048h4M1513 1078h4M1553 1076h4M1514 1109h4M1569 1103h4M1476 1057h4M1588 1056h4M1508 1122h4M1443 1097h4M1385 1119h4M1486 1176h4M1499 1073h4M1533 1137h4M1496 1100h4M1491 1108h4M1435 1102h4M1587 1092h4M1520 1088h4M1529 1080h4M1524 1133h4M1470 1097h4M1589 1099h4M1549 1129h4M1504 1122h4M1524 1147h4M1491 1199h4M1509 1092h4M1513 1056h4M1455 1164h4M1483 1061h4M1517 1176h4M1528 1113h4M1453 1049h4M1518 1116h4M1543 1102h4M1521 1093h4M1534 1088h4M1488 1094h4M1526 1076h4M1598 1119h4M1532 1163h4M1543 1077h4M1519 1119h4M1560 1101h4M1539 1111h4M1425 1076h4M1479 1089h4M1517 1123h4M1602 1135h4M1468 1108h4M1466 1072h4M1502 1075h4M1498 1131h4M1427 1118h4M1599 1139h4M1438 1104h4M1492 1085h4M1523 1025h4M1504 1140h4M1572 1068h4M1504 1108h4M1526 1130h4M1488 1129h4M1530 1132h4M1493 1095h4M1518 1102h4M1472 1116h4M1449 1089h4M1521 1123h4M1481 1076h4M1525 1121h4M1577 1132h4M1533 1054h4M1507 1077h4M1482 1067h4M1522 1149h4M1493 1093h4M1526 1157h4M1440 1072h4M1520 1108h4M1521 1061h4M1534 1125h4M1499 1115h4M1533 1116h4M1470 1114h4M1516 1116h4M1483 1104h4M1536 1147h4M1479 1113h4M1527 1083h4M1438 1083h4M1458 1107h4M1550 1106h4M1548 1084h4M1552 1080h4M1490 1080h4M1506 1132h4M1520 1122h4M1457 1119h4M1478 1191h4M1488 1105h4M1526 1178h4M1518 1068h4M1420 1031h4M1471 1033h4M1509 1192h4M1488 1125h4M1516 1086h4M1533 1048h4M1503 1085h4M1562 1088h4M1580 1153h4M1545 1145h4M1479 1079h4M1526 1080h4M1539 1164h4M1540 1074h4M1512 1065h4M1535 1121h4M1547 1088h4M1501 1112h4M1551 1048h4M1557 1053h4M1531 1123h4M1545 1075h4M1515 1082h4M1489 1077h4M1520 1148h4M1533 1076h4M1529 1139h4M1460 1095h4M1403 1142h4M1546 1123h4M1554 1101h4M1530 1060h4M1559 1109h4M1463 1097h4M1544 1134h4M1535 1156h4M1421 1187h4M1465 1113h4M1502 1079h4M1501 1142h4M1557 1074h4M1446 1095h4M1463 1112h4M1512 1096h4M1460 1120h4M1447 1164h4M1490 1094h4M1558 1100h4M1536 1125h4M1520 1071h4M1505 1189h4M1533 1090h4M1523 1165h4M1480 1078h4M1433 1083h4M1526 1116h4M1447 1072h4M1504 1057h4M1497 1119h4M1527 1147h4M1418 1144h4M1548 1152h4M1459 1087h4M1527 1064h4M1464 1122h4M1491 1092h4M1452 1097h4M1485 1147h4M1506 1153h4M1459 1086h4M1544 1115h4M1500 1091h4M1537 1047h4M1566 1132h4M1535 1062h4M1514 1087h4M1477 1115h4M1523 1149h4M1491 1102h4M1457 1089h4M1430 1136h4M1558 1121h4M1527 1109h4M1571 1069h4M1447 1092h4M1464 1089h4M1517 1121h4M1498 1073h4M1495 1136h4M1544 1085h4M1529 1118h4M1469 1089h4M1583 1061h4M1561 1100h4M1578 1107h4M1467 1045h4M1584 1103h4M1427 1110h4M1528 1146h4M1501 1149h4M1535 1105h4M1545 1140h4M1436 1089h4M1449 1098h4M1564 1107h4M1511 1132h4M1451 1134h4M1542 1098h4M1578 1085h4M1535 1151h4M1511 1064h4M1522 1061h4M1464 1115h4M1503 1087h4M1557 1098h4M1506 1114h4M1527 1074h4M1461 1051h4M1464 1070h4M1492 1129h4M1524 1117h4M1552 1076h4M1486 1122h4M1622 1106h4M1460 1139h4M1465 1078h4M1507 1093h4M1493 1085h4M1517 1083h4M1568 1088h4M1573 1070h4M1464 1118h4M1484 1143h4M1507 1142h4M1527 1180h4M1552 1078h4M1445 1140h4M1456 1086h4M1523 1078h4M1460 1068h4M1545 1203h4M1561 1058h4M1552 1118h4M1520 1137h4M1539 1199h4M1571 1122h4M1491 1093h4M1525 1112h4M1485 1094h4M1600 1050h4M1443 1095h4M1565 1103h4M1528 1075h4M1587 1095h4M1549 1114h4M1482 1076h4M1506 1080h4M1516 1101h4M1467 1099h4M1502 1131h4M1486 1048h4M1511 1130h4M1517 1146h4M1451 1108h4M1537 1003h4M1462 1141h4M1564 1132h4M1564 1142h4M1525 1216h4M1501 1167h4M1510 1085h4M1443 1064h4M1468 1105h4M1513 1075h4M1490 1064h4M1524 1092h4M1562 1069h4M1516 1168h4M1497 1067h4M1454 1037h4M1458 1068h4M1478 1096h4M1528 1041h4M1532 1139h4M1504 1139h4M1508 1121h4M1494 1052h4M1500 1072h4M1571 1106h4M1589 1149h4M1518 1109h4M1506 1153h4M1522 1122h4M1561 1076h4M1576 1121h4M1540 1139h4M1545 1066h4M1522 1041h4M1576 1056h4M1595 1138h4M1495 1131h4M1483 1132h4M1446 1146h4M1528 1121h4M1509 1103h4M1543 1051h4M1461 1067h4M1458 1101h4M1497 1110h4M1533 1132h4M1521 1047h4M1493 1188h4M1512 1094h4M1445 1114h4M1491 1146h4M1467 1113h4M1561 1087h4M1548 1119h4M1560 1048h4M1432 1061h4M1559 1120h4M1501 1081h4M1512 1115h4M1520 1149h4M1483 1050h4M1428 1126h4M1509 1139h4M1466 1106h4M1517 1100h4M1519 1084h4M1487 1084h4M1515 1161h4M1533 1150h4M1467 1123h4M1562 1086h4M1535 1120h4M1494 1108h4M1493 1137h4M1526 1063h4M1511 1111h4M1568 1107h4M1527 1077h4M1519 1090h4M1523 1086h4M1546 1058h4M1518 1071h4M1537 1075h4M1524 1127h4M1477 1082h4M1527 1116h4M1490 1104h4M1462 1146h4M1544 1150h4M1593 1121h4M1557 1114h4M1523 1147h4M1537 1076h4M1477 1126h4M1509 1136h4M1456 1127h4M1486 1105h4M1563 1139h4M1455 1090h4M1486 1124h4M1399 1105h4M1451 1089h4M1486 1093h4M1584 1115h4M1485 1095h4M1591 1057h4M1500 1146h4M1465 1062h4M1565 1159h4M1567 1095h4M1496 1075h4M1470 1143h4M1578 1072h4M1502 1133h4M1513 1117h4M1480 1087h4M1526 1085h4M1465 1122h4M1533 1088h4M1512 1103h4M1520 1138h4M1497 1135h4M1483 1107h4M1460 1045h4M1519 1085h4M1553 1072h4M1469 1059h4M1460 1130h4M1510 1141h4M1540 1131h4M1526 1133h4M1497 1053h4M1493 1091h4M1557 1111h4M1524 1094h4M1523 1062h4M1563 1130h4M1535 1156h4M1610 1171h4M1497 1099h4M1489 1041h4M1518 1145h4M1441 1143h4M1414 1090h4M1446 1099h4M1451 1169h4M1423 1162h4M1439 1155h4M1483 1133h4M1492 1182h4M1526 1116h4M1411 1144h4M1455 1162h4M1494 1161h4M1460 1112h4M1533 1140h4M1475 1159h4M1480 1101h4M1420 1130h4M1405 1140h4M1483 1097h4M1460 1113h4M1461 1131h4M1444 1108h4M1488 1120h4M1424 1133h4M1541 1042h4M1398 1178h4M1429 1169h4M1443 1167h4M1493 1089h4M1359 1201h4M1451 1129h4M1520 1096h4M1515 1129h4M1450 1109h4M1483 1116h4M1467 1117h4M1478 1156h4M1436 1158h4M1414 1154h4M1399 1150h4M1506 1119h4M1392 1157h4M1436 1165h4M1382 1146h4M1491 1097h4M1459 1112h4M1428 1131h4M1397 1159h4M1482 1136h4M1493 1150h4M1450 1118h4M1470 1110h4M1452 1121h4M1458 1112h4M1428 1177h4M1430 1150h4M1407 1109h4M1456 1115h4M1537 1034h4M1420 1188h4M1486 1093h4M1437 1098h4M1464 1109h4M1468 1107h4M1453 1138h4M1398 1136h4M1454 1085h4M1476 1163h4M1484 1093h4M1351 1169h4M1425 1115h4M1469 1128h4M1477 1136h4M1484 1130h4M1464 1112h4M1509 1131h4M1457 1068h4M1549 1058h4M1372 1135h4M1407 1162h4M1406 1146h4M1435 1149h4M1408 1138h4M1378 1107h4M1418 1160h4M1448 1083h4M1454 1163h4M1421 1152h4M1360 1142h4M1469 1156h4M1380 1182h4M1491 1079h4M1474 1145h4M1523 1041h4M1358 1117h4M1491 1037h4M1381 1178h4M1550 1078h4M1397 1135h4M1445 1144h4M1432 1116h4M1519 1061h4M1393 1171h4M1520 1079h4M1487 1096h4M1463 1176h4M1512 1127h4M1472 1125h4M1504 1138h4M1482 1162h4M1462 1117h4M1419 1173h4M1406 1149h4M1409 1149h4M1402 1159h4M1488 1097h4M1513 1054h4M1434 1132h4M1501 1088h4M1349 1140h4M1441 1140h4M1446 1103h4M1441 1130h4M1480 1090h4M1478 1086h4M1485 1085h4M1443 1151h4M1581 1075h4M1462 1149h4M1478 1121h4M1442 1116h4M1479 1077h4M1458 1138h4M1426 1165h4M1486 1106h4M1499 1099h4M1457 1098h4M1403 1124h4M1502 1134h4M1441 1132h4M1430 1146h4M1449 1176h4M1388 1131h4M1354 1182h4M1481 1147h4M1458 1146h4M1376 1186h4M1491 1110h4M1479 1140h4M1451 1150h4M1472 1102h4M1421 1173h4M1421 1153h4M1404 1137h4M1409 1148h4M1440 1119h4M1403 1134h4M1486 1116h4M1469 1074h4M1516 1130h4M1423 1148h4M1443 1129h4M1494 1144h4M1407 1135h4M1486 1090h4M1496 1143h4M1558 1051h4M1438 1151h4M1510 1109h4M1497 1124h4M1428 1184h4M1388 1166h4M1457 1113h4M1465 1077h4M1443 1128h4M1371 1152h4M1505 1117h4M1489 1122h4M1477 1109h4M1534 1109h4M1585 1106h4M1467 1102h4M1500 1114h4M1480 1110h4M1467 1123h4M1497 1082h4M1454 1091h4M1499 1137h4M1542 1071h4M1529 1037h4M1351 1173h4M1507 1044h4M1449 1105h4M1414 1145h4M1462 1159h4M1320 1184h4M1418 1158h4M1529 1032h4M1490 1120h4M1435 1122h4M1530 1088h4M1380 1147h4M1466 1107h4M1412 1196h4M1488 1121h4M1460 1141h4M1494 1081h4M1392 1125h4M1469 1136h4M1494 1065h4M1496 1095h4M1407 1183h4M1465 1133h4M1459 1136h4M1424 1149h4M1431 1097h4M1411 1166h4M1429 1177h4M1438 1114h4M1450 1110h4M1436 1164h4M1463 1106h4M1439 1148h4M1539 1098h4M1381 1163h4M1505 1090h4M1457 1090h4M1346 1170h4M1473 1106h4M1443 1094h4M1446 1129h4M1439 1180h4M1440 1169h4M1490 1126h4M1501 1079h4M1460 1082h4M1404 1171h4M1454 1160h4M1363 1222h4M1441 1112h4M1484 1132h4M1400 1202h4M1467 1125h4M1416 1138h4M1420 1130h4M1401 1150h4M1504 1130h4M1467 1078h4M1463 1138h4M1489 1091h4M1415 1213h4M1479 1147h4M1386 1182h4M1489 1148h4M1580 1058h4M1454 1127h4M1432 1134h4M1502 1120h4M1424 1151h4M1424 1120h4M1450 1150h4M1416 1148h4M1437 1105h4M1471 1129h4M1372 1141h4M1471 1108h4M1388 1143h4M1548 1065h4M1390 1203h4M1526 1104h4M1440 1159h4M1487 1093h4M1391 1110h4M1495 1116h4M1503 1074h4M1419 1128h4M1370 1174h4M1480 1116h4M1398 1181h4M1395 1124h4M1426 1114h4M1415 1134h4M1355 1196h4M1386 1154h4M1438 1153h4M1488 1120h4M1412 1131h4M1435 1146h4M1505 1074h4M1543 1061h4M1463 1140h4M1376 1172h4M1471 1080h4M1457 1121h4M1456 1109h4M1488 1090h4M1429 1134h4M1558 1102h4M1407 1156h4M1390 1180h4M1453 1116h4M1381 1158h4M1397 1119h4M1355 1175h4M1487 1082h4M1473 1111h4M1452 1143h4M1420 1148h4M1342 1140h4M1365 1174h4M1440 1093h4M1535 1129h4M1473 1064h4M1356 1216h4M1376 1153h4M1578 1051h4M1450 1119h4M1485 1150h4M1448 1107h4M1530 1102h4M1461 1181h4M1438 1102h4M1475 1115h4M1466 1114h4M1487 1075h4M1456 1096h4M1457 1078h4M1407 1155h4M1432 1140h4M1436 1144h4M1489 1139h4M1462 1091h4M1422 1107h4M1433 1158h4M1362 1197h4M1385 1198h4M1439 1155h4M1474 1088h4M1456 1147h4M1384 1157h4M1414 1167h4M1411 1175h4M1438 1122h4M1436 1121h4M1493 1093h4M1482 1106h4M1437 1112h4M1456 1085h4M1395 1145h4M1357 1180h4M1471 1107h4M1500 1099h4M1498 1162h4M1384 1098h4M1409 1161h4M1543 1136h4M1461 1142h4M1519 1127h4M1360 1164h4M1451 1168h4M1403 1121h4M1441 1147h4M1487 1119h4M1570 1046h4M1373 1120h4M1445 1113h4M1478 1106h4M1428 1112h4M1430 1101h4M1366 1141h4M1446 1165h4M1548 1044h4M1406 1170h4M1445 1166h4M1485 1140h4M1466 1134h4M1489 1107h4M1472 1138h4M1455 1105h4M1423 1156h4M1398 1181h4M1430 1138h4M1523 1080h4M1454 1147h4M1410 1146h4M1471 1111h4M1386 1157h4M1400 1106h4M1566 1072h4M1464 1161h4M1431 1143h4M1458 1103h4M1541 1046h4M1499 1135h4M1435 1103h4M1458 1143h4M1495 1103h4M1518 1122h4M1419 1179h4M1425 1156h4" stroke="#000" stroke-width="4" stroke-opacity="0.8"/>
<path transform="scale(.25)" d="M1387 1092h4M1404 1168h4M1526 1212h4M1428 1143h4M1377 1180h4M1460 1263h4M1690 1134h4M1557 1177h4M1289 1098h4M1531 1113h4M1473 1225h4M1298 1089h4M1518 1096h4M1415 1061h4M1486 1116h4M1569 1201h4M1376 1245h4M1303 1282h4M1646 1149h4M1413 1173h4M1283 1251h4M1562 1171h4M1506 1089h4M1524 1128h4M1469 1284h4M1419 1133h4M1500 1190h4M1569 1168h4M1314 1272h4M1421 1299h4M1507 1276h4M1454 1148h4M1477 1155h4M1449 1120h4M1490 1070h4M1290 1151h4M1668 1140h4M1437 1218h4M1347 1110h4M1362 1040h4M1452 1210h4M1291 978h4M1548 1161h4M1642 1130h4M1596 1166h4M1604 1196h4M1579 1040h4M1461 1153h4M1434 1162h4M1447 1161h4M1395 1313h4M1340 1131h4M1553 1026h4M1519 1177h4M1435 1092h4M1485 1132h4M1289 1100h4M1291 1084h4M1439 1139h4M1459 1229h4M1460 1243h4M1626 1241h4M1353 1111h4M1316 1112h4M1409 1227h4M1432 1195h4M1328 1065h4M1565 1106h4M1307 1066h4M1455 1151h4M1512 1224h4M1326 1248h4M1421 1259h4M1424 1137h4M1346 1309h4M1750 1235h4M1442 1118h4M1388 1044h4M1283 1109h4M1664 1232h4M1506 1259h4M1403 1208h4M1309 1258h4M1289 1218h4M1478 1194h4M1647 1267h4M1430 1160h4M1468 1285h4M1425 1305h4M1421 1217h4M1390 1331h4M1444 1176h4M1739 1083h4M1547 1104h4M1524 1110h4M1286 1011h4M1468 1279h4M1314 1198h4M1460 1152h4M1578 1230h4M1373 1001h4M1512 1103h4M1470 1322h4M1301 1222h4M1316 1235h4M1608 1203h4M1346 1115h4M1579 1028h4M1579 1211h4M1436 1025h4M1544 1177h4M1449 1231h4M1728 1077h4M1410 1037h4M1587 1176h4M1372 1152h4M1440 1174h4M1520 1149h4M1631 1120h4M1451 1173h4M1396 1176h4M1514 1287h4M1555 1184h4M1359 1080h4M1508 1150h4M1426 1153h4M1549 1242h4M1444 1095h4M1482 1184h4M1651 866h4M1459 1100h4M1392 1195h4M1388 1153h4M1369 1280h4M1545 1095h4M1372 1208h4M1534 1262h4M1300 1208h4M1473 1142h4M1341 1108h4M1580 1208h4M1441 1225h4M1446 1139h4M1326 1198h4M1541 1155h4M1513 1087h4M1451 1157h4M1292 1136h4M1438 1336h4M1482 1214h4M1452 1268h4M1482 1160h4M1459 1288h4M1598 1202h4M1477 1275h4M1644 1156h4M1326 1073h4M1375 1133h4M1285 1195h4M1475 1137h4M1511 1134h4M1545 1118h4M1551 1205h4M1392 1214h4M1433 1149h4M1351 1336h4M1488 1195h4M1460 1109h4M1616 1317h4M1472 1188h4M1451 1034h4" stroke="#000" stroke-width="4" stroke-opacity="0.45"/>
</g>
<path d="M316.3 335.7H319.1M317.1 326.27H319.1M317.1 320.75H319.1M317.1 316.84H319.1M317.1 313.8H319.1M317.1 311.32H319.1M317.1 309.23H319.1M317.1 307.41H319.1M317.1 305.81H319.1M316.3 304.38H319.1M317.1 294.95H319.1M317.1 289.43H319.1M317.1 285.52H319.1M317.1 282.48H319.1M317.1 280H319.1M317.1 277.9H319.1M317.1 276.09H319.1M317.1 274.48H319.1M316.3 273.05H319.1M317.1 263.62H319.1M317.1 258.1H319.1M317.1 254.19H319.1M317.1 251.15H319.1M317.1 248.67H319.1M317.1 246.58H319.1M317.1 244.76H319.1M317.1 243.16H319.1M316.3 241.72H319.1M317.1 232.3H319.1M317.1 226.78H319.1M317.1 222.87H319.1M317.1 219.83H319.1M317.1 217.35H319.1M317.1 215.25H319.1M317.1 213.44H319.1M317.1 211.83H319.1M316.3 210.4H319.1M319.1 335.7V338.5M328.45 335.7V337.7M333.93 335.7V337.7M337.81 335.7V337.7M340.82 335.7V337.7M343.28 335.7V337.7M345.36 335.7V337.7M347.16 335.7V337.7M348.75 335.7V337.7M350.18 335.7V338.5M359.53 335.7V337.7M365 335.7V337.7M368.88 335.7V337.7M371.9 335.7V337.7M374.36 335.7V337.7M376.44 335.7V337.7M378.24 335.7V337.7M379.83 335.7V337.7M381.25 335.7V338.5M390.6 335.7V337.7M396.08 335.7V337.7M399.96 335.7V337.7M402.97 335.7V337.7M405.43 335.7V337.7M407.51 335.7V337.7M409.31 335.7V337.7M410.9 335.7V337.7M412.32 335.7V338.5M421.68 335.7V337.7M427.15 335.7V337.7M431.03 335.7V337.7M434.05 335.7V337.7M436.51 335.7V337.7M438.59 335.7V337.7M440.39 335.7V337.7M441.98 335.7V337.7M443.4 335.7V338.5" stroke="#111" stroke-width="0.9"/>
<path d="M319.1 210.4H443.4V335.7" fill="none" stroke="#555" stroke-width="1.1"/>
<path d="M319.1 209.9V335.7H443.9" fill="none" stroke="#000" stroke-width="1.9"/>
<text x="314.2" y="341.25" font-size="7.5" text-anchor="end" fill="#222">10<tspan font-size="4.65" dy="-3.38">0</tspan></text>
<text x="314.2" y="309.93" font-size="7.5" text-anchor="end" fill="#222">10<tspan font-size="4.65" dy="-3.38">1</tspan></text>
<text x="314.2" y="278.6" font-size="7.5" text-anchor="end" fill="#222">10<tspan font-size="4.65" dy="-3.38">2</tspan></text>
<text x="314.2" y="247.28" font-size="7.5" text-anchor="end" fill="#222">10<tspan font-size="4.65" dy="-3.38">3</tspan></text>
<text x="314.2" y="215.95" font-size="7.5" text-anchor="end" fill="#222">10<tspan font-size="4.65" dy="-3.38">4</tspan></text>
<text x="318.6" y="349.7" font-size="7.5" text-anchor="middle" fill="#222">10<tspan font-size="4.65" dy="-3.38">0</tspan></text>
<text x="349.68" y="349.7" font-size="7.5" text-anchor="middle" fill="#222">10<tspan font-size="4.65" dy="-3.38">1</tspan></text>
<text x="380.75" y="349.7" font-size="7.5" text-anchor="middle" fill="#222">10<tspan font-size="4.65" dy="-3.38">2</tspan></text>
<text x="411.82" y="349.7" font-size="7.5" text-anchor="middle" fill="#222">10<tspan font-size="4.65" dy="-3.38">3</tspan></text>
<text x="442.9" y="349.7" font-size="7.5" text-anchor="middle" fill="#222">10<tspan font-size="4.65" dy="-3.38">4</tspan></text>
<ellipse cx="381.3" cy="277.1" rx="16.5" ry="18.7" fill="none" stroke="#333" stroke-width="0.9"/>
<text x="379.8" y="246.3" font-size="13.2" text-anchor="middle" textLength="19.4" lengthAdjust="spacingAndGlyphs" stroke="#000" stroke-width="0.35">8%</text>
<text transform="translate(297.92 276.2) rotate(-90)" font-size="13.5" text-anchor="middle" textLength="48.4" lengthAdjust="spacingAndGlyphs" stroke="#000" stroke-width="0.45">CD161</text>
<path d="M293 209.7L293 247.5" stroke="#000" stroke-width="1.1"/>
<path d="M293 304.9L293 335" stroke="#000" stroke-width="1.1"/>
<text x="380" y="367.62" font-size="13.5" text-anchor="middle" textLength="34" lengthAdjust="spacingAndGlyphs" stroke="#000" stroke-width="0.45">CD56</text>
<path d="M319.8 362.7L357 362.7" stroke="#000" stroke-width="1.1"/>
<path d="M403 362.7L442.7 362.7" stroke="#000" stroke-width="1.1"/>
<g filter="url(#b35)">
<path transform="scale(.25)" d="M583 2017h4M565 2052h4M602 2058h4M624 1940h4M649 1962h4M614 2005h4M591 1989h4M583 2022h4M635 2014h4M666 2077h4M619 2007h4M568 2016h4M577 2012h4M664 2052h4M617 1966h4M551 2024h4M607 1979h4M570 1954h4M589 2055h4M593 2030h4M586 2064h4M629 2019h4M608 2035h4M590 2015h4M624 2032h4M638 1994h4M554 2076h4M601 1975h4M577 2076h4M604 2002h4M566 2044h4M611 2015h4M609 2027h4M600 2068h4M574 2016h4M597 1973h4M573 2019h4M564 2035h4M618 1914h4M572 2048h4M650 2053h4M634 1941h4M542 2004h4M619 2042h4M573 1965h4M611 1994h4M611 1997h4M542 2032h4M602 2054h4M601 2009h4M643 2013h4M570 2046h4M635 2031h4M573 2006h4M599 2062h4M581 1955h4M659 2016h4M629 1994h4M693 1990h4M632 2018h4M639 2012h4M639 2107h4M589 2035h4M608 2024h4M656 2075h4M597 2050h4M616 1937h4M609 2015h4M631 2039h4M598 1986h4M605 2022h4M618 1992h4M614 2025h4M581 1946h4M640 1933h4M566 1988h4M569 2019h4M566 2062h4M643 1999h4M598 1980h4M577 2046h4M571 2011h4M624 2081h4M574 2006h4M567 1933h4M631 1978h4M569 1972h4M599 1954h4M610 1979h4M595 1982h4M608 1998h4M656 1988h4M592 2025h4M567 2025h4M548 2016h4M603 2017h4M598 1935h4M619 1943h4M594 1974h4M594 2019h4M585 1951h4M592 1992h4M615 2019h4M597 2087h4M613 2019h4M675 1988h4M626 2052h4M556 2017h4M669 1997h4M622 2053h4M578 1972h4M641 2016h4M611 2012h4M589 2044h4M588 1963h4M576 1957h4M612 1993h4M646 1997h4M599 2010h4M624 1993h4M674 2025h4M569 2035h4M619 2017h4M600 1966h4M574 2054h4M575 1947h4M609 2000h4M625 2043h4M592 1983h4M612 2059h4M635 2084h4M620 2070h4M640 2025h4M626 2047h4M627 1987h4M672 2024h4M631 2026h4M614 2011h4M634 2014h4M579 1999h4M599 1930h4M637 2024h4M631 2020h4M663 2089h4M610 2036h4M560 2010h4M676 2042h4M647 2032h4M574 2007h4M657 1993h4M611 1949h4M548 2013h4M596 2072h4M593 1933h4M664 1970h4M583 2038h4M601 2015h4M601 2024h4M597 1934h4M579 1984h4M617 2028h4M647 2031h4M631 2019h4M578 1973h4M571 2029h4M614 1960h4M586 1970h4M589 1961h4M553 2065h4M676 1991h4M641 2010h4M577 1920h4M641 2051h4M656 2026h4M529 1942h4M591 1944h4M597 2074h4M632 1970h4M606 2081h4M602 1989h4M608 1909h4M673 2052h4M683 2028h4M592 2035h4M579 1987h4M702 1999h4M577 2046h4M591 1975h4M611 1929h4M626 2044h4M645 1983h4M623 2058h4M580 1988h4M627 1990h4M618 1997h4M674 1913h4M609 2054h4M565 1982h4M574 2000h4M659 2066h4M592 2012h4M538 2043h4M590 2021h4M610 2038h4M650 2018h4M576 2054h4M633 1999h4M637 2026h4M586 1979h4M604 2055h4M670 1920h4M668 2015h4M639 2022h4M621 2021h4M649 2007h4M605 2061h4M607 2092h4M581 1984h4M610 1931h4M607 1964h4M704 1975h4M603 2002h4M653 2005h4M655 2051h4M604 1990h4M650 2006h4M536 2012h4M613 1972h4M639 1995h4M528 2118h4M571 2004h4M646 1969h4M601 1920h4M573 2049h4M597 1995h4M592 1982h4M635 2105h4M625 2065h4M600 1939h4M587 1994h4M608 2047h4M655 2041h4M622 1963h4M632 2078h4M605 2081h4M566 1963h4M586 1937h4M632 1952h4M614 2034h4M579 2050h4M555 2015h4M614 1983h4M598 2004h4M598 2030h4M599 1959h4M620 1939h4M620 2004h4M643 2057h4M642 2015h4M655 2015h4M637 1980h4M599 2044h4M608 1939h4M627 2004h4M599 1983h4M629 2001h4M649 1970h4M583 2037h4M550 2004h4M651 1983h4M611 2027h4M634 2005h4M565 1986h4M669 1983h4M635 2038h4M606 1969h4M598 1998h4M614 1996h4M604 2019h4M601 1999h4M572 2093h4M653 1937h4M609 2030h4M613 2005h4M613 2051h4M530 1942h4M628 2055h4M599 1951h4M600 2034h4M612 2027h4M577 2008h4M639 1977h4M586 1974h4M579 2010h4M581 1976h4M615 1928h4M635 1934h4M590 2038h4M559 2039h4M646 2027h4M574 2008h4M651 2022h4M608 2026h4M586 2017h4M588 1975h4M626 1977h4M640 1961h4M603 2013h4M642 1967h4M681 2001h4M603 2060h4M571 1992h4M574 2046h4M563 2069h4M588 1934h4M585 1950h4M565 2026h4M628 1979h4M521 2029h4M565 2036h4M679 1987h4M645 2040h4M628 2077h4M626 2046h4M670 1973h4M628 2002h4M613 1986h4M568 2070h4M607 2000h4M585 1980h4M586 2010h4M586 2028h4M608 1993h4M599 2012h4M640 2008h4M565 2038h4M604 2047h4M673 2019h4M611 1990h4M651 2025h4M649 1973h4M655 2051h4M635 2022h4M563 2018h4M601 1912h4M597 2103h4M557 2067h4M594 2060h4M567 2014h4M553 2036h4M617 2123h4M609 1982h4M587 2039h4M578 2033h4M592 2015h4M597 2024h4M596 1970h4M608 2036h4M595 1957h4M623 2083h4M628 2042h4M622 1976h4M587 1927h4M589 2015h4M625 2031h4M603 1971h4M609 2078h4M525 2022h4M518 1992h4M621 1955h4M621 2006h4M657 2003h4M635 2037h4M618 2053h4M611 2012h4M561 2030h4M640 2068h4M589 2036h4M627 2001h4M617 2036h4M619 1990h4M640 2029h4M593 2013h4M597 1967h4M581 2035h4M597 2015h4M667 2040h4M598 1958h4M650 2055h4M638 2057h4M635 1997h4M637 2007h4M576 2013h4M623 2010h4M664 2044h4M586 1982h4M608 1965h4M587 2001h4M621 2087h4M573 1995h4M665 1970h4M597 1974h4M558 2017h4M671 2057h4M643 1981h4M628 2017h4M628 2018h4M598 2028h4M602 2016h4M635 2052h4M641 2037h4M642 1985h4M617 2107h4M594 1955h4M603 1957h4M648 2051h4M659 2017h4M598 2000h4M594 2018h4M652 2037h4M635 1993h4M634 1984h4M565 1967h4M597 1975h4M592 1977h4M617 2055h4M553 2020h4M653 2031h4M620 1987h4M625 2051h4M570 1947h4M609 2028h4M655 2037h4M557 1986h4M620 1968h4M634 2030h4M586 1981h4M638 1973h4M599 2008h4M652 1964h4M628 2003h4M618 2090h4M678 1991h4M638 2045h4M654 1967h4M570 2012h4M588 1998h4M638 2002h4M641 2039h4M608 2095h4M637 2004h4M574 2061h4M617 2023h4M571 2038h4M622 1990h4M593 1981h4M588 2001h4M612 1978h4M672 2008h4M576 1966h4M590 2009h4M646 2016h4M596 2081h4M670 2078h4M618 2029h4M613 1989h4M622 2033h4M669 2041h4M632 2001h4M628 1975h4M619 1937h4M557 2007h4M580 2086h4M660 2001h4M638 2024h4M627 2023h4M632 2028h4M592 2040h4M621 1929h4M579 2003h4M623 2024h4M586 2005h4M603 2058h4M625 1994h4M599 2046h4M632 2080h4M626 1999h4M622 2010h4M655 1998h4M560 2040h4M556 1924h4M631 1951h4M642 1998h4M678 2044h4M636 2033h4M638 1977h4M580 2074h4M636 2014h4M633 1985h4M574 2031h4M580 2062h4M606 2007h4M620 1949h4M510 1988h4M612 2014h4M618 2047h4M604 1970h4M619 2020h4M626 1962h4M576 2013h4M624 1957h4M601 1991h4M578 1949h4M617 1971h4M661 1946h4M560 1931h4M554 2059h4M554 2057h4M677 2029h4M601 1996h4M608 2069h4M583 1999h4M578 2027h4M541 2056h4M616 2019h4M619 2069h4M543 2005h4M575 2004h4M585 2016h4M609 1964h4M618 1967h4M648 2042h4M656 1941h4M646 2056h4M656 2022h4M570 2058h4M591 2041h4M649 2035h4M620 2081h4M611 2008h4M543 2007h4M547 2056h4M635 1984h4M622 2056h4M600 2038h4M596 1991h4M551 1960h4M623 1930h4M645 2086h4M666 1951h4M612 1962h4M603 2045h4M573 2030h4M652 2019h4M668 2014h4M589 1993h4M620 1973h4M613 1981h4M590 2034h4M525 2053h4M598 2058h4M631 2009h4M561 1920h4M581 2030h4M498 2004h4M654 1902h4M627 2066h4M612 2019h4M601 2008h4M588 2018h4M607 2015h4M599 2020h4M602 2015h4M609 2011h4M614 2033h4M663 2024h4M561 2107h4M619 2016h4M589 1990h4M571 1987h4M529 2026h4M631 2016h4M576 2021h4M584 2003h4M626 2004h4M573 2041h4M611 2066h4M607 2025h4M637 2007h4M644 1965h4M580 1965h4M641 2013h4M606 2001h4M614 2007h4M602 1966h4M636 2005h4M568 1932h4M619 1962h4M650 1978h4M600 2034h4M679 1985h4M585 1972h4M617 2020h4M593 2005h4M589 2046h4M572 2022h4M591 2018h4M608 2001h4M582 2035h4M640 1979h4M661 1947h4M558 2045h4M638 1989h4M616 2010h4M618 2033h4M693 2049h4M651 1892h4M621 1966h4M616 2057h4M536 1940h4M636 2027h4M585 1993h4M616 1972h4M613 2003h4M643 1940h4M679 2024h4M643 2055h4M653 1951h4M602 1981h4M625 2056h4M636 2023h4M561 1995h4M679 2065h4M586 1941h4M567 1997h4M666 2012h4M682 1995h4M586 2040h4M589 1941h4M716 2010h4M614 1976h4M543 2056h4M589 2050h4M678 1978h4M632 1964h4M636 2006h4M652 1973h4M633 1985h4M599 2025h4M556 1989h4M625 2081h4M572 2010h4M608 1987h4M670 1963h4M628 1987h4M612 2052h4M612 2030h4M635 2065h4M641 2060h4M565 2030h4M616 1980h4M668 2002h4M636 2010h4M584 1941h4M587 2021h4M540 1966h4M583 2004h4M665 1987h4M608 2031h4M581 2113h4M590 1960h4M606 2007h4M606 2090h4M598 1970h4M584 1999h4M632 2003h4M662 2020h4M591 1943h4M592 2020h4M650 2032h4M560 2110h4M590 2005h4M597 1985h4M616 2013h4M601 1903h4M580 2022h4M621 2071h4M570 2007h4M551 2007h4M541 1998h4M635 2014h4M551 1958h4M625 2070h4M633 1990h4M637 1990h4M604 2075h4M591 2009h4M613 1992h4M590 2075h4M566 2016h4M653 2046h4M580 1986h4M671 1938h4M628 2016h4M595 2066h4M625 1990h4M652 2024h4M563 2038h4M578 2020h4M574 2012h4M616 2040h4M624 2018h4M611 1988h4M585 2052h4M592 2042h4M650 2025h4M648 2038h4M614 1903h4M565 2020h4M631 2011h4M620 1930h4M619 2093h4M669 2024h4M638 1992h4M577 1994h4M577 2020h4M657 2009h4M617 1945h4M640 1994h4M606 2028h4M578 2034h4M621 2045h4M665 1967h4M624 1984h4M574 2025h4M602 1985h4M595 2019h4M618 1977h4M647 2034h4M680 2013h4M621 2034h4M599 2012h4M616 1979h4M614 1961h4M599 2012h4M614 1986h4M613 1951h4M573 1989h4M632 2043h4M601 2061h4M580 2042h4M630 2066h4M597 1996h4M673 2005h4M629 1973h4M616 1980h4M587 2076h4M599 2029h4M642 2037h4M590 2116h4M639 2089h4M541 1977h4M620 2051h4M640 1981h4M624 2051h4M612 1936h4M647 1974h4M584 1975h4M579 2092h4M616 1940h4M653 2056h4M627 2055h4M606 2016h4M623 2045h4M628 2116h4M570 2022h4M517 2001h4M578 2066h4M562 2043h4M593 1965h4M572 2019h4M583 2023h4M627 1966h4M616 1973h4M612 1985h4M669 1963h4M597 2032h4M600 2024h4M656 1922h4M575 1994h4M558 2018h4M658 1957h4M625 2000h4M634 2023h4M635 1942h4M644 1999h4M597 1915h4M611 2041h4M576 1981h4M618 1952h4M621 1935h4M598 1943h4M636 2062h4M714 1976h4M575 1986h4M642 1993h4M646 1948h4M650 2040h4M587 1907h4M655 2045h4M637 1978h4M610 2010h4M603 2021h4M623 2043h4M646 1958h4M645 2033h4M693 2006h4M603 2002h4M636 1997h4M601 2054h4M642 2027h4M620 2060h4M595 2045h4M570 1928h4M589 2004h4M624 2049h4M665 1971h4M642 1940h4M575 1915h4M599 2089h4M616 1970h4M610 2015h4M616 1964h4M640 2025h4M621 2075h4M590 1949h4M547 2005h4M601 1977h4M555 1931h4M606 1971h4M622 2009h4M566 2058h4M606 2060h4M599 2007h4M675 1940h4M625 2035h4M545 2008h4M624 2007h4M623 1961h4M602 2001h4M596 2088h4M629 2069h4M631 2060h4M623 2035h4M574 1992h4M599 2008h4M555 2014h4M557 2024h4M588 1994h4M571 1973h4M593 2054h4M691 1993h4M624 2042h4M577 2001h4M533 2036h4M578 2029h4M558 2038h4M531 2036h4M631 1969h4M590 1953h4M621 2006h4M711 2076h4M615 1974h4M610 1970h4M618 2101h4M597 1945h4M578 1985h4M599 1991h4M645 1980h4M597 1982h4M559 2052h4M563 2016h4M571 2016h4M606 1940h4M622 2041h4M623 2015h4M647 2014h4M600 2042h4M635 2021h4M618 2007h4M631 2025h4M545 1979h4M650 1971h4M555 1953h4M570 2048h4M635 1982h4M595 2015h4M669 2053h4M614 2082h4M574 1994h4M614 2015h4M596 2012h4M662 1955h4M665 1989h4M634 2122h4M596 2006h4M612 2080h4M645 2039h4M582 2080h4M583 2062h4M639 2018h4M635 1958h4M602 2067h4M601 2037h4M543 2028h4M650 2044h4M606 1976h4M561 2014h4M571 2008h4M579 1948h4M668 1959h4M633 2003h4M564 1918h4M673 2038h4M655 2040h4M574 2005h4M520 2019h4M643 1934h4M590 2015h4M605 2039h4M592 2029h4M653 2045h4M660 2005h4M638 2089h4M605 2025h4M619 2040h4M631 2052h4M556 1977h4M652 1962h4M599 2040h4M619 1957h4M615 1983h4M641 2048h4M646 1963h4M685 1968h4M598 1957h4M580 1965h4M615 2084h4M588 2030h4M640 2047h4M583 1929h4M615 1910h4M643 1961h4M645 2050h4M618 2055h4M659 1927h4M655 1936h4M553 2034h4M623 2018h4M617 2025h4M601 2034h4M589 1966h4M613 2012h4M624 1996h4M620 2057h4M658 1995h4M645 1930h4M591 2059h4M585 2081h4M640 2047h4M588 1994h4M617 1968h4M627 2048h4M646 1985h4M629 2028h4M660 2039h4M596 2001h4M634 1925h4M589 2027h4M618 1966h4M616 1943h4M580 2005h4M523 2012h4M644 2003h4M624 2033h4M616 1929h4M588 2030h4M600 2073h4M627 2003h4M612 1986h4M651 2000h4M615 2057h4M583 1999h4M632 1974h4M590 1938h4M619 2064h4M550 2065h4M599 2007h4M630 2091h4M589 1991h4M610 2037h4M631 1954h4M613 1966h4M672 2007h4M602 2027h4M605 2032h4M606 1971h4M544 1986h4M559 2003h4M629 1996h4M600 1997h4M658 2040h4M608 2055h4M605 1932h4M646 2061h4M620 2015h4M665 2021h4M575 2021h4M626 2045h4M634 2036h4M630 1945h4M650 2043h4M646 1962h4M612 2023h4M592 2016h4M645 1945h4M613 2008h4M644 1997h4M658 1980h4M619 2090h4M581 2014h4M604 1993h4M639 2079h4M604 2007h4M653 2002h4M614 1926h4M617 2032h4M592 2049h4M610 2085h4M650 1967h4M601 2050h4M602 2065h4M587 2037h4M639 2008h4M561 1941h4M591 2016h4M644 1985h4M661 1937h4M605 2032h4M645 2003h4M545 1998h4M638 2088h4M622 1986h4M571 1923h4M552 1918h4M595 2029h4M621 1999h4M625 1977h4M616 1921h4M638 1974h4M636 1962h4M565 2003h4M599 1972h4M595 1972h4M647 2005h4M595 1975h4M646 2020h4M615 1868h4M692 1957h4M610 2056h4M612 2015h4M608 1963h4M617 1999h4M694 1983h4M595 1992h4M582 2065h4M605 1990h4M635 2015h4M578 1972h4M639 1976h4M638 1944h4M606 1980h4M603 1990h4M585 1994h4M602 2009h4M584 2010h4M654 2033h4M667 1998h4M602 2060h4M610 2031h4M547 2063h4M593 2005h4M623 2056h4M621 2011h4M615 1940h4M640 2006h4M614 2000h4M598 1948h4M666 1967h4M546 1982h4M572 2099h4M586 2019h4M586 2080h4M585 2045h4M603 2051h4M587 2040h4M609 1947h4M631 2058h4M612 1967h4M615 2025h4M579 2003h4M572 2073h4M601 2056h4M642 2081h4M623 2027h4M647 2008h4M644 2039h4M648 2104h4M583 2029h4M652 2009h4M636 1958h4M681 1978h4M630 2004h4M621 2035h4M606 2033h4M616 2004h4M554 2013h4M602 2070h4M609 2082h4M644 2056h4M588 2069h4M615 2058h4M672 2081h4M593 1957h4M639 1987h4M592 2017h4M607 2024h4M626 2062h4M640 1934h4M594 2014h4M576 2019h4M662 1981h4M617 2003h4M637 2048h4M641 2027h4M636 2003h4M602 2017h4M606 2003h4M558 2046h4M617 2004h4M595 2048h4M610 1986h4M673 2007h4M634 1963h4M612 2000h4M565 2042h4M635 1968h4M662 1994h4M583 2013h4M625 1994h4M593 2042h4M605 1959h4M598 2043h4M556 2062h4M593 2075h4M556 2006h4M657 1976h4M645 1945h4M612 2036h4M620 2042h4M612 2021h4M617 2023h4M617 2036h4M602 1994h4M605 1950h4M565 1951h4M577 1977h4M590 1972h4M617 1945h4M598 1991h4M674 1967h4M604 2035h4M599 2006h4M625 2041h4M645 1956h4M672 1965h4M643 1945h4M591 2020h4M605 2134h4M646 2018h4M619 1991h4M637 2018h4M608 2008h4M664 2048h4M659 2009h4M648 1973h4M616 1932h4M557 2023h4M566 2049h4M622 2015h4M633 1973h4M514 1991h4M595 1996h4M649 2032h4M643 2007h4M594 2056h4M632 2001h4M612 1983h4M604 2083h4M648 1969h4M649 1977h4M594 2093h4M580 2020h4M568 2081h4M564 1908h4M655 2060h4M673 2009h4M618 2013h4M646 2029h4M588 1898h4M609 1973h4M642 2027h4M622 2139h4M610 1979h4M556 2104h4M563 2035h4M598 2050h4M593 1970h4M609 2034h4M590 1974h4M604 1960h4M613 2060h4M628 1981h4M613 1988h4M593 2037h4M602 1976h4M641 1958h4M604 2018h4M579 2020h4M578 2070h4M621 1963h4M630 2038h4M652 2038h4M600 1991h4M657 2002h4M600 2010h4M603 1967h4M592 1955h4M628 2037h4M646 1966h4M610 1969h4M594 2041h4M560 1987h4M616 1992h4M600 1952h4M604 1959h4M590 1952h4M582 1953h4M597 2058h4M626 1969h4M642 1914h4M610 1963h4M621 2036h4M604 1960h4M607 2005h4M566 1969h4M640 1936h4M630 1985h4M659 1965h4M590 2014h4M615 2035h4M580 2004h4M619 2113h4M607 1964h4M633 2060h4M606 2023h4M632 2063h4M595 2028h4M630 1915h4M601 1994h4M596 2048h4M614 2007h4M623 1953h4M564 1984h4M561 2019h4M617 2055h4M609 1982h4M544 2010h4M555 1968h4M585 1957h4M621 1984h4M618 2060h4M644 2034h4M649 1994h4M689 2004h4M563 2027h4M610 2000h4M646 1987h4M569 1993h4M564 2031h4" stroke="#000" stroke-width="4" stroke-opacity="0.8"/>
<path transform="scale(.25)" d="M457 2033h4M514 2061h4M386 1968h4M439 2094h4M455 2000h4M504 2112h4M431 2042h4M450 1865h4M491 2032h4M470 1991h4M443 1993h4M459 2034h4M430 2108h4M514 2095h4M496 2128h4M517 2044h4M584 1932h4M536 2010h4M500 1989h4M472 2002h4M586 2204h4M489 2092h4M468 1986h4M541 2115h4M500 2026h4M467 1963h4M501 2114h4M575 2015h4M488 2052h4M500 2182h4M440 1983h4M460 2106h4M526 2025h4M479 1977h4M489 2029h4M537 2054h4M468 2055h4M559 1951h4M453 2094h4M448 1993h4M446 2062h4M412 2056h4M511 2010h4M485 2080h4M550 2001h4M449 1987h4M520 1959h4M548 1932h4M473 2002h4M475 1912h4M363 2022h4M576 2011h4M477 2142h4M516 1974h4M458 2112h4M499 2065h4M427 2061h4M519 2005h4M488 1994h4M465 2024h4M503 2040h4M396 2078h4M490 2012h4M461 2137h4M552 2144h4M519 1895h4M473 2051h4M468 2036h4M625 1984h4M434 1882h4M573 1939h4M526 2032h4M519 2085h4M390 2070h4M521 2074h4M457 2030h4M438 2105h4M510 2072h4M447 2111h4M509 2036h4M436 2004h4M509 1952h4M502 2136h4M440 2009h4M434 1981h4M448 1915h4M455 2078h4M451 1961h4M569 2048h4M500 2061h4M463 2129h4M464 2001h4M441 1927h4M493 2096h4M476 2059h4M447 2006h4M446 2042h4M460 2157h4M428 2047h4M485 2004h4M435 2039h4M505 2079h4M463 2066h4M505 2064h4M451 2064h4M389 1974h4M416 2080h4M466 2107h4M498 2084h4M499 2040h4M505 2039h4M513 2056h4M498 2048h4M501 1945h4M469 2037h4M507 2120h4M475 2025h4M477 2013h4M489 2081h4M591 2050h4M410 2003h4M458 2055h4M468 2148h4M501 2155h4M481 2054h4M559 2035h4M406 2117h4M568 2073h4M421 2078h4M447 2042h4M508 1967h4M485 1959h4M480 2041h4M485 1980h4M500 2094h4M528 2102h4M501 2135h4M421 2052h4M446 2163h4M547 2123h4M574 2070h4M526 2092h4M533 2013h4M496 1857h4M581 2110h4M454 2077h4M465 2148h4M444 2076h4M556 2036h4M456 2018h4M506 2010h4M415 2057h4M411 1938h4M529 1979h4M515 2097h4M522 1924h4M491 1952h4M468 2010h4M462 2021h4M429 2050h4M463 2097h4M546 2063h4M474 2081h4M419 2010h4M470 2047h4M435 2003h4M427 2039h4M476 2080h4M445 2076h4M421 1932h4M554 1977h4M564 2165h4M488 1922h4M552 2049h4M459 1975h4M480 2032h4M544 2010h4M495 2049h4M520 1979h4M349 2108h4M495 2177h4M461 1898h4M476 1994h4M408 1954h4M444 2052h4M509 2130h4M509 2129h4M518 2125h4M521 2059h4M533 2012h4M499 2113h4M469 2008h4M453 1998h4M460 2049h4M434 1971h4M433 2034h4M476 1989h4M371 2051h4M421 2104h4M442 2012h4M505 2074h4M532 2103h4M496 1999h4M478 2041h4M457 2024h4M534 2154h4M514 2015h4M449 2053h4M479 1961h4M500 1990h4M524 2081h4M465 2028h4M553 2090h4M537 2049h4M461 2203h4M472 2031h4M437 2103h4M438 2002h4M497 2019h4M550 1953h4M551 2204h4M491 1919h4M464 2053h4M451 2019h4M503 2094h4M461 2013h4M517 2160h4M477 2115h4M497 2079h4M458 2077h4M580 2111h4M538 2073h4M488 2144h4M441 2101h4M510 2046h4M520 2075h4M429 2062h4M487 2121h4M581 2034h4M492 2056h4M465 1974h4M512 2091h4M571 2065h4M463 2010h4M463 2154h4M473 2052h4M488 1981h4M541 2119h4M500 2039h4M378 1864h4M506 2071h4M504 2049h4M515 2055h4M498 2038h4M479 2001h4M509 2057h4M452 1948h4M404 2039h4M469 2102h4M432 2110h4M565 2020h4M479 2166h4M559 2068h4M420 2023h4M426 2060h4M504 2008h4M402 2102h4M453 1993h4M390 2007h4M503 1980h4M400 2001h4M476 2033h4M398 2162h4M505 2064h4M533 2121h4M488 2053h4M435 2106h4M502 1987h4M529 1982h4M518 2162h4M542 2072h4M573 1955h4M492 2086h4M469 2037h4M451 2033h4M481 2099h4M470 1975h4M456 2123h4M498 2065h4M576 2020h4M443 1968h4M458 2155h4M464 2027h4M432 1966h4M531 2039h4M473 2077h4M509 2086h4M404 2137h4M507 2082h4M474 2045h4M411 2183h4M522 2170h4M526 1981h4M491 2107h4M503 2013h4M435 2139h4M530 1992h4M469 2067h4M503 2144h4M509 2069h4M504 2115h4M445 2007h4M494 1974h4M487 1978h4M537 2086h4M444 2010h4M526 2138h4M503 2029h4M483 2130h4M571 2070h4M519 1984h4M454 2052h4M495 2079h4M445 2079h4M425 2043h4M456 2116h4M457 2107h4M562 2107h4M519 2002h4M364 1921h4M473 2084h4M447 1999h4M474 2016h4M489 2034h4M482 2069h4M501 1943h4M443 2041h4M548 2131h4M474 1961h4M539 2031h4M476 2137h4M504 2100h4M434 2087h4M533 2059h4M494 1963h4M461 2056h4M498 1992h4M503 2057h4M406 2003h4M444 1978h4M432 2049h4M520 2114h4M489 2019h4M448 2061h4M446 2093h4M478 2080h4M370 1973h4M472 2016h4M555 2071h4M413 2051h4M423 2155h4M426 2085h4M501 1996h4M444 2090h4M570 2117h4M470 2089h4M456 2080h4M427 1964h4M513 2046h4M531 2085h4M488 2025h4M543 2029h4M540 2076h4M497 2010h4M483 1995h4M454 2039h4M491 2043h4M464 2100h4M551 2038h4M517 1979h4M473 2077h4M462 2000h4M501 2093h4M531 2014h4M494 2083h4M530 2067h4M460 2036h4M492 1972h4M513 2024h4M491 2133h4M500 2060h4M530 2118h4M482 2052h4M530 2049h4M457 1990h4M506 2071h4M462 1998h4M464 1998h4M511 2111h4M544 1988h4M477 2186h4M488 2048h4M547 2014h4M445 2128h4M527 1989h4M428 2056h4M394 2050h4M501 2105h4M470 2152h4M460 2069h4M369 1970h4M501 1968h4M462 2018h4M427 2096h4M478 2056h4M426 2064h4M446 2029h4M444 2129h4M530 1980h4M478 2163h4M545 2120h4M444 2090h4M425 2046h4M567 2030h4M416 2048h4M541 2015h4M430 2022h4M517 1999h4M447 2093h4M555 2054h4M577 2074h4M533 2004h4M500 1973h4M465 1992h4M521 2061h4M584 1976h4M461 2083h4M429 1990h4M569 2020h4M473 2061h4M519 1975h4M493 1922h4M497 2116h4M471 2036h4M477 2008h4M404 2142h4M457 2176h4M442 2047h4M540 2064h4M469 2203h4M489 2009h4M404 2118h4M488 2104h4M557 2012h4M492 1987h4M526 2000h4M469 2054h4M455 2067h4M530 2202h4M463 1985h4M434 2058h4M479 1999h4M466 2098h4M535 2072h4M519 1968h4M415 2020h4M509 2050h4M420 2090h4M493 2079h4M511 2088h4M459 2049h4M459 2083h4M521 2052h4M470 2106h4M430 2083h4M562 1995h4M526 2045h4M507 2002h4M501 2041h4M533 2082h4M489 2054h4M522 2041h4M500 2012h4M452 2137h4M536 2049h4M493 1990h4M447 2020h4M464 2105h4M370 2170h4M405 2125h4M415 2028h4M518 2100h4M517 1949h4M540 2098h4M504 2035h4M567 2064h4M462 1975h4M447 2071h4M439 1972h4M493 1950h4M452 2138h4M439 1974h4M457 2104h4M490 2015h4M420 2042h4M481 2048h4M481 2115h4M562 2074h4M489 1995h4M420 2017h4M494 2127h4M491 2129h4M421 2020h4M335 2101h4M517 2044h4M472 2108h4M446 1988h4M473 2096h4M542 2014h4M565 1971h4M459 2084h4M554 2082h4M479 1958h4M481 1909h4M476 2040h4M478 2074h4M474 2015h4M448 2052h4M482 2021h4M432 2013h4M508 2070h4M450 2120h4M504 2074h4M475 2027h4M395 2005h4M537 2058h4M495 1914h4M477 2052h4M464 2039h4M567 2044h4M469 2029h4M526 2034h4M490 1958h4M417 2085h4M515 2026h4M407 2046h4M502 2016h4M500 1957h4M491 2083h4M444 2032h4M547 2030h4M565 2068h4M436 2147h4M462 2043h4M558 2078h4M459 2156h4M526 2027h4M433 2119h4M450 2049h4M492 2106h4M502 2053h4M411 2104h4M430 2002h4M505 2017h4M541 2010h4M505 2028h4M497 2112h4M501 2073h4M421 2087h4M499 2034h4M523 2052h4M509 2072h4M424 2069h4M434 2014h4M534 2024h4M414 1984h4M429 2092h4M556 2110h4M437 2161h4M445 1863h4M511 2097h4M518 2081h4M472 2206h4M411 2019h4M455 2000h4M488 2060h4M436 1960h4M433 1962h4M540 2081h4M506 1946h4M518 1979h4M523 2117h4M432 2081h4M503 1968h4M537 2129h4M513 2050h4M424 2024h4M405 2054h4M441 2039h4M506 2115h4" stroke="#000" stroke-width="4" stroke-opacity="0.6"/>
<path transform="scale(.25)" d="M606 1977h4M442 2046h4M482 2035h4M628 1869h4M472 1953h4M432 2006h4M635 1952h4M541 2043h4M517 2094h4M441 2093h4M478 1983h4M536 2081h4M413 2036h4M551 2024h4M732 1985h4M482 1897h4M542 1983h4M717 1912h4M551 2077h4M716 2046h4M655 2137h4M644 1916h4M522 1909h4M489 2002h4M689 2029h4M557 2075h4M528 1937h4M525 1946h4M614 1945h4M742 1971h4M570 2071h4M387 2054h4M561 1983h4M744 1802h4M565 2055h4M513 1976h4M526 2103h4M414 2018h4M506 2052h4M561 1884h4M653 2021h4M632 2010h4M422 1984h4M329 2044h4M506 2055h4M460 1986h4M639 2060h4M431 2120h4M613 2054h4M496 2007h4M672 2038h4M551 2005h4M323 2037h4M314 2073h4M578 1996h4M428 2065h4M652 2133h4M538 2005h4M742 1968h4M539 1992h4M456 2065h4M315 2047h4M596 1979h4M516 1842h4M505 2053h4M629 2048h4M435 1972h4M615 1868h4M366 1994h4M467 1967h4M636 2059h4M393 2125h4M540 2079h4M547 2000h4M559 2075h4M430 1985h4M381 2073h4M538 2027h4M611 1988h4M428 2049h4M631 2033h4M664 2118h4M576 2019h4M655 2014h4M650 2120h4M676 2050h4M571 2041h4M574 2163h4M580 1860h4M677 1926h4M484 1987h4M709 2119h4M437 2135h4M762 2053h4M615 1991h4M573 2074h4M620 2063h4M368 1998h4M513 2109h4M566 2152h4M591 1977h4M618 2060h4M561 1951h4M538 2055h4M650 1952h4M374 2042h4M494 2168h4M622 1998h4M535 2138h4M679 2130h4M468 2120h4M502 2010h4M615 1940h4M744 2040h4M398 2080h4M351 1997h4M408 1975h4M404 1950h4M649 1894h4M541 2088h4M570 1999h4M614 2113h4M586 2119h4M577 1962h4M570 2027h4M672 2010h4M417 2070h4M489 2023h4M574 2086h4M447 1991h4M632 2104h4M461 2064h4M526 2067h4M457 2003h4M755 2081h4M587 2004h4M488 2121h4M655 2060h4M466 1875h4M575 2074h4M394 2068h4M510 2035h4M583 2087h4M583 1930h4M450 2055h4M459 1979h4M349 2046h4M326 1982h4M518 1943h4M670 2008h4M597 1916h4M609 2033h4M545 2079h4M541 2118h4M540 2057h4M732 1998h4M507 2017h4M680 2022h4M386 2114h4M424 1965h4M537 1994h4M377 1888h4M718 2114h4M571 1947h4M593 1942h4M494 1896h4M601 2046h4M474 2009h4M697 2003h4M694 1933h4M473 1990h4M453 2105h4M381 1922h4M387 2034h4M692 2117h4M640 1948h4M729 2069h4M612 2070h4M654 1971h4M630 2019h4M501 2070h4M579 2084h4M662 1984h4M573 1924h4M449 2035h4M447 2035h4M460 2119h4M483 2101h4M565 2085h4M548 2004h4M672 2112h4M513 2105h4M632 2002h4M568 1993h4M568 1933h4M539 1993h4M461 2027h4M501 2011h4M429 2067h4M509 2030h4M571 1968h4M583 2111h4M430 1912h4M473 2097h4M520 2031h4M704 2046h4M580 1982h4M598 2036h4M694 2137h4M612 1984h4M500 2049h4M744 2036h4M542 1819h4M690 1988h4M602 2048h4M628 1981h4M702 2013h4M507 1944h4M397 2137h4M591 2047h4M550 2013h4M526 1975h4M557 2090h4M379 2035h4M553 2081h4M521 2067h4M586 1933h4M542 2059h4M512 1863h4M624 1840h4M672 2004h4M541 2139h4M454 2060h4M473 2060h4M684 1963h4M361 2011h4M551 2056h4M575 1878h4M596 1968h4M318 1988h4M565 2081h4M475 1980h4M425 2123h4M721 2016h4M486 2111h4M344 1968h4M397 1976h4M505 1936h4M599 1967h4M523 1869h4M388 2189h4M698 2068h4M563 2150h4M708 1916h4M682 1895h4M564 2120h4M682 2001h4M520 1997h4M649 1987h4M351 1928h4M329 1970h4M410 2164h4M591 1946h4M549 2120h4M452 2046h4M467 2076h4M470 2099h4M548 1953h4M654 2080h4M644 2051h4M512 2207h4M532 2051h4M600 2091h4M415 2036h4M536 2048h4M600 2041h4M587 2021h4M486 2094h4M445 2044h4M435 2058h4M695 2084h4M540 1978h4M400 2003h4M315 2044h4M540 2057h4M706 2143h4M508 1879h4M439 1969h4M628 1955h4M503 2026h4M522 2004h4M570 1904h4M502 1956h4M614 1956h4M630 1900h4M528 1948h4M476 1976h4M573 2090h4M322 2026h4M491 1984h4M476 1967h4M619 2003h4M418 2101h4M658 2107h4M523 1961h4M584 1994h4M683 2029h4M555 2040h4M470 1947h4M570 2059h4M573 2075h4M754 2081h4M532 2148h4M642 2087h4M688 2009h4M663 1923h4M515 2016h4M410 1975h4M659 2095h4M732 2014h4M616 1935h4M675 1986h4M562 2121h4M640 1975h4M695 2033h4M549 2092h4M685 2043h4M545 1927h4M447 1924h4M593 1963h4M532 2051h4M600 2038h4M613 1969h4M530 2021h4M596 2036h4M500 1906h4M641 1934h4M448 2025h4M397 2095h4M663 2006h4M328 2033h4M518 2121h4M524 1965h4M640 2018h4M519 2000h4M519 2146h4M341 1985h4M652 1962h4M426 2087h4M539 2220h4M453 2085h4M667 2110h4M436 2111h4M389 2059h4M685 2011h4M467 2146h4M566 2058h4M587 1948h4M371 1991h4M652 2025h4M424 1968h4M547 2021h4M589 1996h4M530 1996h4M440 1923h4M644 2125h4M440 1947h4M392 1934h4M671 2067h4M678 2009h4M330 2013h4M515 2145h4M539 1972h4M316 1934h4M475 1963h4M667 1977h4M426 2040h4M686 2058h4M761 2100h4M522 1993h4M457 2055h4M547 1956h4M377 1988h4M684 2031h4M596 1943h4M380 2138h4M450 1992h4M504 1959h4M662 1958h4M634 2036h4M467 2137h4M559 1928h4M490 2030h4M594 1960h4M509 2077h4M777 1984h4M592 1869h4M510 1941h4M421 1999h4M382 1997h4M622 2123h4M633 2048h4M718 1949h4M424 2074h4M625 2010h4M401 2160h4M617 2000h4M604 1976h4M567 2040h4M505 2142h4M486 1993h4M498 2125h4M322 2025h4M616 2037h4M412 2109h4M558 2096h4M534 2062h4M621 2150h4M549 1989h4M543 1853h4M574 2070h4M653 2036h4M498 2006h4M443 2103h4M546 1870h4M531 1999h4M626 2109h4M588 2041h4M562 2106h4M671 2038h4M579 1937h4M616 1937h4M501 2032h4M716 1930h4M620 2129h4M442 1959h4M447 1896h4M747 2000h4M573 2054h4M743 2012h4M565 1986h4M583 1896h4M641 2028h4M449 2072h4M345 1950h4M759 2052h4M459 1901h4M535 2031h4M719 1946h4M560 2075h4M656 1918h4M588 1935h4M408 1994h4M465 2014h4M562 1996h4M443 2065h4M661 2016h4M592 1996h4M374 2131h4M605 2082h4M493 2034h4M515 2042h4M631 1892h4M340 1931h4M444 2164h4M580 1915h4M382 2084h4M693 2047h4M322 1990h4M667 2193h4M629 2000h4M472 2120h4M553 1973h4M461 2039h4M756 2041h4M542 2033h4M599 2097h4M576 2038h4M387 1930h4M325 2032h4M562 1899h4M703 2114h4M616 2086h4M523 2080h4M592 2003h4M503 2053h4M688 1866h4M612 1975h4M579 2028h4M782 1859h4M478 2029h4M439 1989h4M516 2038h4M484 1977h4M478 2111h4M613 2013h4M603 2100h4M348 2078h4M465 1932h4M483 1871h4M333 1994h4M610 2039h4M554 2041h4M594 1985h4M466 2170h4M472 2011h4M566 2122h4M547 1901h4M487 2052h4M593 2009h4M460 2092h4M643 2192h4M584 1973h4M472 1980h4M393 2012h4M570 1999h4M661 2018h4M541 2023h4M698 1980h4M622 2021h4M683 2004h4M371 2111h4M465 1979h4M550 2076h4M565 2061h4M522 2031h4M492 2097h4M665 2048h4M624 1969h4M484 1859h4M543 1993h4M467 2041h4M651 1881h4M512 2038h4M669 1949h4M481 1960h4M435 2123h4M353 2101h4M587 2065h4M467 2047h4M601 1956h4M659 2146h4M574 2095h4M708 2068h4M494 2119h4M449 2034h4M571 2024h4M522 2074h4M718 2076h4M343 2135h4M416 1994h4M684 2146h4M450 2027h4M513 2094h4M482 2046h4M533 1897h4M772 2011h4M660 2010h4M539 1994h4M753 2195h4M432 1994h4M560 2061h4M755 2068h4M397 1991h4M434 1923h4M433 1956h4M498 2128h4M627 1969h4M709 2044h4M668 2041h4M688 1945h4M581 2077h4M479 2056h4M438 1929h4M540 1954h4M438 1989h4M402 2094h4M601 1970h4M442 1882h4M504 2141h4M772 1946h4M594 1977h4M597 1976h4M512 1879h4M437 2109h4M603 2088h4M492 2094h4M519 2036h4" stroke="#000" stroke-width="4" stroke-opacity="0.5"/>
</g>
<path d="M74.7 556.2H77.5M75.5 546.66H77.5M75.5 541.08H77.5M75.5 537.11H77.5M75.5 534.04H77.5M75.5 531.53H77.5M75.5 529.41H77.5M75.5 527.57H77.5M75.5 525.95H77.5M74.7 524.5H77.5M75.5 514.96H77.5M75.5 509.38H77.5M75.5 505.41H77.5M75.5 502.34H77.5M75.5 499.83H77.5M75.5 497.71H77.5M75.5 495.87H77.5M75.5 494.25H77.5M74.7 492.8H77.5M75.5 483.26H77.5M75.5 477.68H77.5M75.5 473.71H77.5M75.5 470.64H77.5M75.5 468.13H77.5M75.5 466.01H77.5M75.5 464.17H77.5M75.5 462.55H77.5M74.7 461.1H77.5M75.5 451.56H77.5M75.5 445.98H77.5M75.5 442.01H77.5M75.5 438.94H77.5M75.5 436.43H77.5M75.5 434.31H77.5M75.5 432.47H77.5M75.5 430.85H77.5M74.7 429.4H77.5M77.5 556.2V559M86.91 556.2V558.2M92.41 556.2V558.2M96.31 556.2V558.2M99.34 556.2V558.2M101.82 556.2V558.2M103.91 556.2V558.2M105.72 556.2V558.2M107.32 556.2V558.2M108.75 556.2V559M118.16 556.2V558.2M123.66 556.2V558.2M127.56 556.2V558.2M130.59 556.2V558.2M133.07 556.2V558.2M135.16 556.2V558.2M136.97 556.2V558.2M138.57 556.2V558.2M140 556.2V559M149.41 556.2V558.2M154.91 556.2V558.2M158.81 556.2V558.2M161.84 556.2V558.2M164.32 556.2V558.2M166.41 556.2V558.2M168.22 556.2V558.2M169.82 556.2V558.2M171.25 556.2V559M180.66 556.2V558.2M186.16 556.2V558.2M190.06 556.2V558.2M193.09 556.2V558.2M195.57 556.2V558.2M197.66 556.2V558.2M199.47 556.2V558.2M201.07 556.2V558.2M202.5 556.2V559" stroke="#111" stroke-width="0.9"/>
<path d="M77.5 429.4H202.5V556.2" fill="none" stroke="#555" stroke-width="1.1"/>
<path d="M77.5 428.9V556.2H203" fill="none" stroke="#000" stroke-width="1.9"/>
<text x="72.6" y="561.75" font-size="7.5" text-anchor="end" fill="#222">10<tspan font-size="4.65" dy="-3.38">0</tspan></text>
<text x="72.6" y="530.05" font-size="7.5" text-anchor="end" fill="#222">10<tspan font-size="4.65" dy="-3.38">1</tspan></text>
<text x="72.6" y="498.35" font-size="7.5" text-anchor="end" fill="#222">10<tspan font-size="4.65" dy="-3.38">2</tspan></text>
<text x="72.6" y="466.65" font-size="7.5" text-anchor="end" fill="#222">10<tspan font-size="4.65" dy="-3.38">3</tspan></text>
<text x="72.6" y="434.95" font-size="7.5" text-anchor="end" fill="#222">10<tspan font-size="4.65" dy="-3.38">4</tspan></text>
<text x="77" y="570.2" font-size="7.5" text-anchor="middle" fill="#222">10<tspan font-size="4.65" dy="-3.38">0</tspan></text>
<text x="108.25" y="570.2" font-size="7.5" text-anchor="middle" fill="#222">10<tspan font-size="4.65" dy="-3.38">1</tspan></text>
<text x="139.5" y="570.2" font-size="7.5" text-anchor="middle" fill="#222">10<tspan font-size="4.65" dy="-3.38">2</tspan></text>
<text x="170.75" y="570.2" font-size="7.5" text-anchor="middle" fill="#222">10<tspan font-size="4.65" dy="-3.38">3</tspan></text>
<text x="202" y="570.2" font-size="7.5" text-anchor="middle" fill="#222">10<tspan font-size="4.65" dy="-3.38">4</tspan></text>
<ellipse cx="120" cy="507.7" rx="20.5" ry="30.9" fill="none" stroke="#333" stroke-width="0.9"/>
<ellipse cx="159" cy="497.3" rx="19" ry="30.9" fill="none" stroke="#333" stroke-width="0.9"/>
<text transform="translate(54.92 491.15) rotate(-90)" font-size="13.5" text-anchor="middle" textLength="37.7" lengthAdjust="spacingAndGlyphs" stroke="#000" stroke-width="0.45">CD161</text>
<path d="M50 428.6L50 467.8" stroke="#000" stroke-width="1.1"/>
<path d="M50 514.5L50 554.6" stroke="#000" stroke-width="1.1"/>
<text x="139.05" y="588.22" font-size="13.5" text-anchor="middle" textLength="33.1" lengthAdjust="spacingAndGlyphs" stroke="#000" stroke-width="0.45">CD56</text>
<path d="M79.4 583.3L116.5 583.3" stroke="#000" stroke-width="1.1"/>
<path d="M161.6 583.3L201.4 583.3" stroke="#000" stroke-width="1.1"/>
<path d="M120.6 476.8V400.9H277.8V408M159.3 466.4V389.8H402.5V408" fill="none" stroke="#000" stroke-width="0.9"/>
<path d="M275.3 406.5L277.8 411.5L280.3 406.5ZM400 406.5L402.5 411.5L405 406.5Z" fill="#000"/>
<path d="M222.5 447V446.99H223.3V446.46H224.1V446.51H224.9V447H225.7V447H226.5V447H227.3V446.77H228.1V446.62H228.9V445.49H229.7V446.94H230.5V443.56H231.3V444.44H232.1V443.14H232.9V443.38H233.7V443.09H234.5V441.61H235.3V440.62H236.1V441.31H236.9V440.76H237.7V439.22H238.5V440.69H239.3V441.05H240.1V438.07H240.9V439H241.7V440.25H242.5V437.93H243.3V436.63H244.1V436.92H244.9V436.85H245.7V435.85H246.5V435.98H247.3V438.81H248.1V440.26H248.9V439.56H249.7V439.47H250.5V441.02H251.3V440.32H252.1V440.05H252.9V441.57H253.7V441.61H254.5V439.5H255.3V438.91H256.1V437.07H256.9V440.42H257.7V441.2H258.5V442.99H259.3V444.82H260.1V442.69H260.9V442.06H261.7V443.23H262.5V440.45H263.3V440.24H264.1V439.63H264.9V439.09H265.7V437.6H266.5V439.95H267.3V436.6H268.1V435.9H268.9V438.64H269.7V434.84H270.5V435.04H271.3V433.89H272.1V436.77H272.9V437.23H273.7V437.21H274.5V439.02H275.3V437.14H276.1V438.24H276.9V437.57H277.7V439.07H278.5V434.41H279.3V433.81H280.1V434.39H280.9V432.5H281.7V430.86H282.5V429.34H283.3V431.41H284.1V422.27H284.9V424.59H285.7V427.99H286.5V429.92H287.3V424.02H288.1V427H288.9V421.7H289.7V423.06H290.5V431.66H291.3V432.56H292.1V437.16H292.9V436.43H293.7V436.32H294.5V437.39H295.3V443.55H296.1V443.13H296.9V442.81H297.7V443.09H298.5V445.09H299.3V446.23H300.1V445.67H300.9V446.13H301.7V446.48H302.5V447H303.3V446.59H304.1V447H304.9V447Z" fill="#626262" stroke="#000" stroke-width="0.6" stroke-linejoin="round"/>
<path d="M257.5 413.6V447" stroke="#222" stroke-width="0.7" stroke-dasharray="0.8 0.9"/>
<path d="M221.7 412.6H334.5V447" fill="none" stroke="#555" stroke-width="1"/>
<path d="M218.5 447H221.7M219.7 444.17H221.7M219.7 442.14H221.7M219.7 440.52H221.7M218.5 438.9H221.7M219.7 436.06H221.7M219.7 434.04H221.7M219.7 432.42H221.7M218.5 430.8H221.7M219.7 427.96H221.7M219.7 425.94H221.7M219.7 424.32H221.7M218.5 422.7H221.7M219.7 419.87H221.7M219.7 417.84H221.7M219.7 416.22H221.7M218.5 414.6H221.7M221.7 447V449.6M230.19 447V448.6M235.15 447V448.6M238.68 447V448.6M241.41 447V448.6M243.64 447V448.6M245.53 447V448.6M247.17 447V448.6M248.61 447V448.6M249.9 447V449.6M258.39 447V448.6M263.35 447V448.6M266.88 447V448.6M269.61 447V448.6M271.84 447V448.6M273.73 447V448.6M275.37 447V448.6M276.81 447V448.6M278.1 447V449.6M286.59 447V448.6M291.55 447V448.6M295.08 447V448.6M297.81 447V448.6M300.04 447V448.6M301.93 447V448.6M303.57 447V448.6M305.01 447V448.6M306.3 447V449.6M314.79 447V448.6M319.75 447V448.6M323.28 447V448.6M326.01 447V448.6M328.24 447V448.6M330.13 447V448.6M331.77 447V448.6M333.21 447V448.6M334.5 447V449.6" stroke="#111" stroke-width="0.8"/>
<path d="M221.7 412.2V447H334.9" fill="none" stroke="#000" stroke-width="1.5"/>
<text x="327" y="424.1" font-size="8.6" text-anchor="end" stroke="#000" stroke-width="0.2">73%</text>
<path d="M222.5 490.1V487.74H223.3V487.48H224.1V488.14H224.9V486.99H225.7V484.87H226.5V485.94H227.3V486.93H228.1V483.47H228.9V483.98H229.7V481.68H230.5V483.57H231.3V483.69H232.1V484.44H232.9V480.34H233.7V478.11H234.5V482.13H235.3V481.39H236.1V479.12H236.9V480.51H237.7V478.9H238.5V478.23H239.3V476.6H240.1V474.35H240.9V475.26H241.7V472.51H242.5V473.39H243.3V470.69H244.1V473.81H244.9V471.23H245.7V465.56H246.5V467.3H247.3V464.02H248.1V463.12H248.9V460.54H249.7V462.65H250.5V464.53H251.3V468.95H252.1V470.9H252.9V471.37H253.7V471.34H254.5V473.22H255.3V472.96H256.1V472.96H256.9V473.2H257.7V475.01H258.5V478.41H259.3V476.21H260.1V477.15H260.9V477.52H261.7V479.9H262.5V482.43H263.3V483.27H264.1V480.6H264.9V482.13H265.7V480.64H266.5V480.11H267.3V483.7H268.1V482.03H268.9V481.79H269.7V481.52H270.5V481.4H271.3V481.63H272.1V481.27H272.9V483.14H273.7V480.93H274.5V481.35H275.3V479.72H276.1V479.99H276.9V477.61H277.7V476.51H278.5V476.5H279.3V475.87H280.1V476.76H280.9V478.14H281.7V478.24H282.5V479.27H283.3V476.94H284.1V476.29H284.9V474.15H285.7V477.05H286.5V473.14H287.3V475.72H288.1V476.1H288.9V475.64H289.7V476.67H290.5V475.73H291.3V478.66H292.1V481.3H292.9V482.87H293.7V482.18H294.5V485.74H295.3V488.83H296.1V488.42H296.9V490.1H297.7V488.53H298.5V490.1H299.3V490.1H300.1V490.1Z" fill="#626262" stroke="#000" stroke-width="0.6" stroke-linejoin="round"/>
<path d="M262.3 457.5V490.1" stroke="#222" stroke-width="0.7" stroke-dasharray="0.8 0.9"/>
<path d="M221.7 456.5H334.5V490.1" fill="none" stroke="#555" stroke-width="1"/>
<path d="M218.5 490.1H221.7M219.7 487.27H221.7M219.7 485.24H221.7M219.7 483.62H221.7M218.5 482H221.7M219.7 479.17H221.7M219.7 477.14H221.7M219.7 475.52H221.7M218.5 473.9H221.7M219.7 471.06H221.7M219.7 469.04H221.7M219.7 467.42H221.7M218.5 465.8H221.7M219.7 462.97H221.7M219.7 460.94H221.7M219.7 459.32H221.7M218.5 457.7H221.7M221.7 490.1V492.7M230.19 490.1V491.7M235.15 490.1V491.7M238.68 490.1V491.7M241.41 490.1V491.7M243.64 490.1V491.7M245.53 490.1V491.7M247.17 490.1V491.7M248.61 490.1V491.7M249.9 490.1V492.7M258.39 490.1V491.7M263.35 490.1V491.7M266.88 490.1V491.7M269.61 490.1V491.7M271.84 490.1V491.7M273.73 490.1V491.7M275.37 490.1V491.7M276.81 490.1V491.7M278.1 490.1V492.7M286.59 490.1V491.7M291.55 490.1V491.7M295.08 490.1V491.7M297.81 490.1V491.7M300.04 490.1V491.7M301.93 490.1V491.7M303.57 490.1V491.7M305.01 490.1V491.7M306.3 490.1V492.7M314.79 490.1V491.7M319.75 490.1V491.7M323.28 490.1V491.7M326.01 490.1V491.7M328.24 490.1V491.7M330.13 490.1V491.7M331.77 490.1V491.7M333.21 490.1V491.7M334.5 490.1V492.7" stroke="#111" stroke-width="0.8"/>
<path d="M221.7 456.1V490.1H334.9" fill="none" stroke="#000" stroke-width="1.5"/>
<text x="327" y="468" font-size="8.6" text-anchor="end" stroke="#000" stroke-width="0.2">38%</text>
<path d="M222.5 534V532.47H223.3V533.67H224.1V532.62H224.9V532.2H225.7V532.52H226.5V532.64H227.3V532.23H228.1V532.7H228.9V532.6H229.7V532.88H230.5V532.42H231.3V533.37H232.1V532.16H232.9V532.59H233.7V532.63H234.5V531.21H235.3V529.81H236.1V529.94H236.9V530.72H237.7V529.31H238.5V529.89H239.3V529.21H240.1V528.62H240.9V530.46H241.7V527.81H242.5V528.7H243.3V528.12H244.1V528.62H244.9V528.4H245.7V527.56H246.5V524.61H247.3V522.52H248.1V523.29H248.9V520.84H249.7V521.36H250.5V522.25H251.3V517.96H252.1V515.9H252.9V515.67H253.7V513.43H254.5V511.83H255.3V512.63H256.1V512.04H256.9V508.46H257.7V507.59H258.5V507.41H259.3V504.76H260.1V502.66H260.9V505.31H261.7V502.41H262.5V502.17H263.3V502.9H264.1V502.67H264.9V507.06H265.7V508.22H266.5V510.19H267.3V514.5H268.1V518.9H268.9V519.68H269.7V520.93H270.5V524H271.3V526.88H272.1V526.43H272.9V530.58H273.7V530.31H274.5V531.26H275.3V532.62H276.1V531.53H276.9V532.64H277.7V533.88H278.5V533.37H279.3V534H280.1V534Z" fill="#626262" stroke="#000" stroke-width="0.6" stroke-linejoin="round"/>
<path d="M252.6 501.5V534" stroke="#222" stroke-width="0.7" stroke-dasharray="0.8 0.9"/>
<path d="M221.7 500.5H334.5V534" fill="none" stroke="#555" stroke-width="1"/>
<path d="M218.5 534H221.7M219.7 531.16H221.7M219.7 529.14H221.7M219.7 527.52H221.7M218.5 525.9H221.7M219.7 523.07H221.7M219.7 521.04H221.7M219.7 519.42H221.7M218.5 517.8H221.7M219.7 514.97H221.7M219.7 512.94H221.7M219.7 511.32H221.7M218.5 509.7H221.7M219.7 506.87H221.7M219.7 504.84H221.7M219.7 503.22H221.7M218.5 501.6H221.7M221.7 534V536.6M230.19 534V535.6M235.15 534V535.6M238.68 534V535.6M241.41 534V535.6M243.64 534V535.6M245.53 534V535.6M247.17 534V535.6M248.61 534V535.6M249.9 534V536.6M258.39 534V535.6M263.35 534V535.6M266.88 534V535.6M269.61 534V535.6M271.84 534V535.6M273.73 534V535.6M275.37 534V535.6M276.81 534V535.6M278.1 534V536.6M286.59 534V535.6M291.55 534V535.6M295.08 534V535.6M297.81 534V535.6M300.04 534V535.6M301.93 534V535.6M303.57 534V535.6M305.01 534V535.6M306.3 534V536.6M314.79 534V535.6M319.75 534V535.6M323.28 534V535.6M326.01 534V535.6M328.24 534V535.6M330.13 534V535.6M331.77 534V535.6M333.21 534V535.6M334.5 534V536.6" stroke="#111" stroke-width="0.8"/>
<path d="M221.7 500.1V534H334.9" fill="none" stroke="#000" stroke-width="1.5"/>
<text x="327" y="511.6" font-size="8.6" text-anchor="end" stroke="#000" stroke-width="0.2">71%</text>
<path d="M222.5 577.3V575.93H223.3V575.39H224.1V574.92H224.9V574.62H225.7V574.59H226.5V574.44H227.3V574.09H228.1V573.92H228.9V573.03H229.7V572.99H230.5V572.54H231.3V572.04H232.1V572.27H232.9V571.74H233.7V570.41H234.5V570.46H235.3V570.21H236.1V569.41H236.9V569.26H237.7V568.39H238.5V568.32H239.3V567.34H240.1V567.74H240.9V565.75H241.7V565.95H242.5V565.72H243.3V564.17H244.1V563.44H244.9V562.33H245.7V562.27H246.5V560.56H247.3V557.8H248.1V559.99H248.9V558.19H249.7V557.8H250.5V556.54H251.3V556.55H252.1V554.8H252.9V552.37H253.7V551.39H254.5V549.01H255.3V549.56H256.1V549.24H256.9V547.78H257.7V550.89H258.5V551.37H259.3V551.13H260.1V552.98H260.9V554.74H261.7V557.62H262.5V560.56H263.3V562.54H264.1V564.09H264.9V567.69H265.7V571.82H266.5V572.52H267.3V574.6H268.1V575.04H268.9V575.64H269.7V575.44H270.5V576.09H271.3V576.46H272.1V576.87H272.9V577.16H273.7V577.3H274.5V577.3Z" fill="#626262" stroke="#000" stroke-width="0.6" stroke-linejoin="round"/>
<path d="M261.8 545.2V577.3" stroke="#222" stroke-width="0.7" stroke-dasharray="0.8 0.9"/>
<path d="M221.7 544.2H334.5V577.3" fill="none" stroke="#555" stroke-width="1"/>
<path d="M218.5 577.3H221.7M219.7 574.46H221.7M219.7 572.44H221.7M219.7 570.82H221.7M218.5 569.2H221.7M219.7 566.37H221.7M219.7 564.34H221.7M219.7 562.72H221.7M218.5 561.1H221.7M219.7 558.26H221.7M219.7 556.24H221.7M219.7 554.62H221.7M218.5 553H221.7M219.7 550.16H221.7M219.7 548.14H221.7M219.7 546.52H221.7M218.5 544.9H221.7M221.7 577.3V579.9M230.19 577.3V578.9M235.15 577.3V578.9M238.68 577.3V578.9M241.41 577.3V578.9M243.64 577.3V578.9M245.53 577.3V578.9M247.17 577.3V578.9M248.61 577.3V578.9M249.9 577.3V579.9M258.39 577.3V578.9M263.35 577.3V578.9M266.88 577.3V578.9M269.61 577.3V578.9M271.84 577.3V578.9M273.73 577.3V578.9M275.37 577.3V578.9M276.81 577.3V578.9M278.1 577.3V579.9M286.59 577.3V578.9M291.55 577.3V578.9M295.08 577.3V578.9M297.81 577.3V578.9M300.04 577.3V578.9M301.93 577.3V578.9M303.57 577.3V578.9M305.01 577.3V578.9M306.3 577.3V579.9M314.79 577.3V578.9M319.75 577.3V578.9M323.28 577.3V578.9M326.01 577.3V578.9M328.24 577.3V578.9M330.13 577.3V578.9M331.77 577.3V578.9M333.21 577.3V578.9M334.5 577.3V579.9" stroke="#111" stroke-width="0.8"/>
<path d="M221.7 543.8V577.3H334.9" fill="none" stroke="#000" stroke-width="1.5"/>
<text x="327" y="555.1" font-size="8.6" text-anchor="end" stroke="#000" stroke-width="0.2">5%</text>
<path d="M347.3 447V444.83H348.1V445.4H348.9V446.06H349.7V444.84H350.5V445.66H351.3V445.86H352.1V446.39H352.9V446.22H353.7V446.28H354.5V447H355.3V443.43H356.1V443.03H356.9V443.03H357.7V440.83H358.5V440.69H359.3V439.95H360.1V442.52H360.9V438.44H361.7V436.15H362.5V432.67H363.3V430.14H364.1V428.66H364.9V430.84H365.7V430.55H366.5V425.59H367.3V427.1H368.1V425.02H368.9V425.81H369.7V423.93H370.5V426.33H371.3V421.71H372.1V422.69H372.9V420.61H373.7V420H374.5V420.79H375.3V423.92H376.1V428.68H376.9V430.76H377.7V432.81H378.5V436.02H379.3V437.54H380.1V435.08H380.9V438.44H381.7V437.81H382.5V439.41H383.3V441.38H384.1V442.36H384.9V442.17H385.7V442.45H386.5V442.45H387.3V444.72H388.1V444.39H388.9V444.17H389.7V442.75H390.5V446.57H391.3V444.17H392.1V445.21H392.9V444.52H393.7V445.47H394.5V444.92H395.3V444.12H396.1V445.11H396.9V445.05H397.7V445.1H398.5V446H399.3V444.96H400.1V445.57H400.9V446.05H401.7V445.43H402.5V445.58H403.3V444.79H404.1V445.43H404.9V445.71H405.7V443.7H406.5V443.73H407.3V443.11H408.1V443.37H408.9V443.73H409.7V444.02H410.5V444.05H411.3V443.05H412.1V444.13H412.9V445.87H413.7V444.88H414.5V446.33H415.3V445.32H416.1V446.67H416.9V446.85H417.7V445.98H418.5V446.25H419.3V447H420.1V446.01H420.9V445.32H421.7V447H422.5V445.98H423.3V447H424.1V447Z" fill="#111" stroke="#000" stroke-width="0.6" stroke-linejoin="round"/>
<path d="M381.1 413.6V447" stroke="#222" stroke-width="0.7" stroke-dasharray="0.8 0.9"/>
<path d="M346.5 412.6H456V447" fill="none" stroke="#555" stroke-width="1"/>
<path d="M343.3 447H346.5M344.5 444.17H346.5M344.5 442.14H346.5M344.5 440.52H346.5M343.3 438.9H346.5M344.5 436.06H346.5M344.5 434.04H346.5M344.5 432.42H346.5M343.3 430.8H346.5M344.5 427.96H346.5M344.5 425.94H346.5M344.5 424.32H346.5M343.3 422.7H346.5M344.5 419.87H346.5M344.5 417.84H346.5M344.5 416.22H346.5M343.3 414.6H346.5M346.5 447V449.6M354.74 447V448.6M359.56 447V448.6M362.98 447V448.6M365.63 447V448.6M367.8 447V448.6M369.63 447V448.6M371.22 447V448.6M372.62 447V448.6M373.88 447V449.6M382.12 447V448.6M386.94 447V448.6M390.36 447V448.6M393.01 447V448.6M395.18 447V448.6M397.01 447V448.6M398.6 447V448.6M400 447V448.6M401.25 447V449.6M409.49 447V448.6M414.31 447V448.6M417.73 447V448.6M420.38 447V448.6M422.55 447V448.6M424.38 447V448.6M425.97 447V448.6M427.37 447V448.6M428.62 447V449.6M436.87 447V448.6M441.69 447V448.6M445.11 447V448.6M447.76 447V448.6M449.93 447V448.6M451.76 447V448.6M453.35 447V448.6M454.75 447V448.6M456 447V449.6" stroke="#111" stroke-width="0.8"/>
<path d="M346.5 412.2V447H456.4" fill="none" stroke="#000" stroke-width="1.5"/>
<text x="451" y="424.1" font-size="8.6" text-anchor="end" stroke="#000" stroke-width="0.2">17%</text>
<path d="M347.3 490.1V489.68H348.1V489.37H348.9V490.1H349.7V488.09H350.5V488.56H351.3V489.4H352.1V488.94H352.9V489.81H353.7V488.79H354.5V487.67H355.3V489.76H356.1V488.63H356.9V488.07H357.7V487.22H358.5V486.87H359.3V488.35H360.1V488.52H360.9V487.36H361.7V487.82H362.5V487.5H363.3V485.88H364.1V484.97H364.9V486.1H365.7V486.48H366.5V485.92H367.3V488.57H368.1V486.93H368.9V488.04H369.7V483.95H370.5V484.97H371.3V484.94H372.1V484.69H372.9V487.12H373.7V483.12H374.5V481.81H375.3V484.47H376.1V482.55H376.9V482.3H377.7V485.6H378.5V483.15H379.3V483.24H380.1V485.05H380.9V485.69H381.7V484.97H382.5V487.62H383.3V486.1H384.1V485.31H384.9V487.82H385.7V485.43H386.5V486.67H387.3V488.22H388.1V485.97H388.9V486.71H389.7V485.08H390.5V486.15H391.3V482.97H392.1V484.5H392.9V482.54H393.7V483.15H394.5V482.13H395.3V479.27H396.1V479.8H396.9V479.87H397.7V480.36H398.5V475.93H399.3V475.93H400.1V477.06H400.9V475.63H401.7V477.17H402.5V476.47H403.3V474.98H404.1V471.74H404.9V470.47H405.7V470.78H406.5V466.39H407.3V465.69H408.1V467.29H408.9V466.07H409.7V467.99H410.5V466.44H411.3V464.06H412.1V463.62H412.9V461.34H413.7V467.81H414.5V464.34H415.3V470.17H416.1V470.6H416.9V475H417.7V474.01H418.5V475.44H419.3V478.27H420.1V481.12H420.9V486.26H421.7V486.51H422.5V487.34H423.3V488.71H424.1V487.34H424.9V488.5H425.7V489.04H426.5V489.07H427.3V490.1H428.1V490.1H428.9V490.1Z" fill="#111" stroke="#000" stroke-width="0.6" stroke-linejoin="round"/>
<path d="M386.8 457.5V490.1" stroke="#222" stroke-width="0.7" stroke-dasharray="0.8 0.9"/>
<path d="M346.5 456.5H456V490.1" fill="none" stroke="#555" stroke-width="1"/>
<path d="M343.3 490.1H346.5M344.5 487.27H346.5M344.5 485.24H346.5M344.5 483.62H346.5M343.3 482H346.5M344.5 479.17H346.5M344.5 477.14H346.5M344.5 475.52H346.5M343.3 473.9H346.5M344.5 471.06H346.5M344.5 469.04H346.5M344.5 467.42H346.5M343.3 465.8H346.5M344.5 462.97H346.5M344.5 460.94H346.5M344.5 459.32H346.5M343.3 457.7H346.5M346.5 490.1V492.7M354.74 490.1V491.7M359.56 490.1V491.7M362.98 490.1V491.7M365.63 490.1V491.7M367.8 490.1V491.7M369.63 490.1V491.7M371.22 490.1V491.7M372.62 490.1V491.7M373.88 490.1V492.7M382.12 490.1V491.7M386.94 490.1V491.7M390.36 490.1V491.7M393.01 490.1V491.7M395.18 490.1V491.7M397.01 490.1V491.7M398.6 490.1V491.7M400 490.1V491.7M401.25 490.1V492.7M409.49 490.1V491.7M414.31 490.1V491.7M417.73 490.1V491.7M420.38 490.1V491.7M422.55 490.1V491.7M424.38 490.1V491.7M425.97 490.1V491.7M427.37 490.1V491.7M428.62 490.1V492.7M436.87 490.1V491.7M441.69 490.1V491.7M445.11 490.1V491.7M447.76 490.1V491.7M449.93 490.1V491.7M451.76 490.1V491.7M453.35 490.1V491.7M454.75 490.1V491.7M456 490.1V492.7" stroke="#111" stroke-width="0.8"/>
<path d="M346.5 456.1V490.1H456.4" fill="none" stroke="#000" stroke-width="1.5"/>
<text x="451" y="468" font-size="8.6" text-anchor="end" stroke="#000" stroke-width="0.2">79%</text>
<path d="M347.3 534V533.3H348.1V532.39H348.9V532.41H349.7V532.19H350.5V531.8H351.3V533.29H352.1V532.71H352.9V532.18H353.7V533.1H354.5V532.31H355.3V530.94H356.1V530.56H356.9V530.26H357.7V530.76H358.5V530.67H359.3V529.3H360.1V530.19H360.9V529.27H361.7V528.08H362.5V529.26H363.3V529.14H364.1V528.1H364.9V527.03H365.7V526.64H366.5V526.47H367.3V525.57H368.1V527.21H368.9V525.65H369.7V523.71H370.5V524.18H371.3V523.9H372.1V522.98H372.9V521.7H373.7V519.77H374.5V519.88H375.3V517.2H376.1V514.15H376.9V515.71H377.7V512.88H378.5V513.52H379.3V514.84H380.1V512.78H380.9V512.85H381.7V508.92H382.5V510.75H383.3V505.85H384.1V506.25H384.9V509.77H385.7V505.36H386.5V504.52H387.3V508.79H388.1V506.71H388.9V511.97H389.7V509.6H390.5V514.14H391.3V512.48H392.1V517.57H392.9V520.99H393.7V519.29H394.5V519.46H395.3V525.26H396.1V526.17H396.9V528.71H397.7V530.29H398.5V530.78H399.3V530.72H400.1V532.94H400.9V531.99H401.7V532.4H402.5V533.74H403.3V532.46H404.1V532.86H404.9V534H405.7V534Z" fill="#111" stroke="#000" stroke-width="0.6" stroke-linejoin="round"/>
<path d="M376.9 501.5V534" stroke="#222" stroke-width="0.7" stroke-dasharray="0.8 0.9"/>
<path d="M346.5 500.5H456V534" fill="none" stroke="#555" stroke-width="1"/>
<path d="M343.3 534H346.5M344.5 531.16H346.5M344.5 529.14H346.5M344.5 527.52H346.5M343.3 525.9H346.5M344.5 523.07H346.5M344.5 521.04H346.5M344.5 519.42H346.5M343.3 517.8H346.5M344.5 514.97H346.5M344.5 512.94H346.5M344.5 511.32H346.5M343.3 509.7H346.5M344.5 506.87H346.5M344.5 504.84H346.5M344.5 503.22H346.5M343.3 501.6H346.5M346.5 534V536.6M354.74 534V535.6M359.56 534V535.6M362.98 534V535.6M365.63 534V535.6M367.8 534V535.6M369.63 534V535.6M371.22 534V535.6M372.62 534V535.6M373.88 534V536.6M382.12 534V535.6M386.94 534V535.6M390.36 534V535.6M393.01 534V535.6M395.18 534V535.6M397.01 534V535.6M398.6 534V535.6M400 534V535.6M401.25 534V536.6M409.49 534V535.6M414.31 534V535.6M417.73 534V535.6M420.38 534V535.6M422.55 534V535.6M424.38 534V535.6M425.97 534V535.6M427.37 534V535.6M428.62 534V536.6M436.87 534V535.6M441.69 534V535.6M445.11 534V535.6M447.76 534V535.6M449.93 534V535.6M451.76 534V535.6M453.35 534V535.6M454.75 534V535.6M456 534V536.6" stroke="#111" stroke-width="0.8"/>
<path d="M346.5 500.1V534H456.4" fill="none" stroke="#000" stroke-width="1.5"/>
<text x="451" y="511.6" font-size="8.6" text-anchor="end" stroke="#000" stroke-width="0.2">64%</text>
<path d="M347.3 577.3V574.69H348.1V575.6H348.9V575.67H349.7V574.66H350.5V575.35H351.3V575.25H352.1V574.49H352.9V574.57H353.7V574.76H354.5V576.08H355.3V576.14H356.1V574.46H356.9V575.66H357.7V574.96H358.5V575.67H359.3V574.87H360.1V575.35H360.9V573.18H361.7V574.72H362.5V573.87H363.3V573.67H364.1V572.42H364.9V574.11H365.7V572.83H366.5V572.73H367.3V571.91H368.1V571.69H368.9V572.17H369.7V571.34H370.5V571.58H371.3V570.61H372.1V570.82H372.9V571.03H373.7V570.22H374.5V569.61H375.3V567.32H376.1V569.25H376.9V567.91H377.7V566.18H378.5V569.09H379.3V568.21H380.1V567.14H380.9V565.5H381.7V562.25H382.5V563.91H383.3V562.47H384.1V563.53H384.9V565.55H385.7V564.89H386.5V560.48H387.3V560.84H388.1V562.01H388.9V558.49H389.7V561.13H390.5V557.21H391.3V556.06H392.1V558.08H392.9V557.75H393.7V554.38H394.5V556.17H395.3V552.72H396.1V554.01H396.9V551.38H397.7V554.4H398.5V557.11H399.3V559.09H400.1V558.71H400.9V562.35H401.7V561.44H402.5V562.62H403.3V562.45H404.1V565.63H404.9V563.51H405.7V566.69H406.5V568.78H407.3V567.73H408.1V568.91H408.9V571.85H409.7V573.38H410.5V573.49H411.3V574.76H412.1V575.29H412.9V574.89H413.7V575.81H414.5V576.19H415.3V576.35H416.1V576.79H416.9V576.61H417.7V576.8H418.5V577.3H419.3V577.3Z" fill="#111" stroke="#000" stroke-width="0.6" stroke-linejoin="round"/>
<path d="M386.8 545.2V577.3" stroke="#222" stroke-width="0.7" stroke-dasharray="0.8 0.9"/>
<path d="M346.5 544.2H456V577.3" fill="none" stroke="#555" stroke-width="1"/>
<path d="M343.3 577.3H346.5M344.5 574.46H346.5M344.5 572.44H346.5M344.5 570.82H346.5M343.3 569.2H346.5M344.5 566.37H346.5M344.5 564.34H346.5M344.5 562.72H346.5M343.3 561.1H346.5M344.5 558.26H346.5M344.5 556.24H346.5M344.5 554.62H346.5M343.3 553H346.5M344.5 550.16H346.5M344.5 548.14H346.5M344.5 546.52H346.5M343.3 544.9H346.5M346.5 577.3V579.9M354.74 577.3V578.9M359.56 577.3V578.9M362.98 577.3V578.9M365.63 577.3V578.9M367.8 577.3V578.9M369.63 577.3V578.9M371.22 577.3V578.9M372.62 577.3V578.9M373.88 577.3V579.9M382.12 577.3V578.9M386.94 577.3V578.9M390.36 577.3V578.9M393.01 577.3V578.9M395.18 577.3V578.9M397.01 577.3V578.9M398.6 577.3V578.9M400 577.3V578.9M401.25 577.3V579.9M409.49 577.3V578.9M414.31 577.3V578.9M417.73 577.3V578.9M420.38 577.3V578.9M422.55 577.3V578.9M424.38 577.3V578.9M425.97 577.3V578.9M427.37 577.3V578.9M428.62 577.3V579.9M436.87 577.3V578.9M441.69 577.3V578.9M445.11 577.3V578.9M447.76 577.3V578.9M449.93 577.3V578.9M451.76 577.3V578.9M453.35 577.3V578.9M454.75 577.3V578.9M456 577.3V579.9" stroke="#111" stroke-width="0.8"/>
<path d="M346.5 543.8V577.3H456.4" fill="none" stroke="#000" stroke-width="1.5"/>
<text x="451" y="555.1" font-size="8.6" text-anchor="end" stroke="#000" stroke-width="0.2">63%</text>
<text x="222.2" y="591.5" font-size="7" text-anchor="middle" fill="#222">10<tspan font-size="4.34" dy="-3.15">0</tspan></text>
<text x="250.4" y="591.5" font-size="7" text-anchor="middle" fill="#222">10<tspan font-size="4.34" dy="-3.15">1</tspan></text>
<text x="278.6" y="591.5" font-size="7" text-anchor="middle" fill="#222">10<tspan font-size="4.34" dy="-3.15">2</tspan></text>
<text x="306.8" y="591.5" font-size="7" text-anchor="middle" fill="#222">10<tspan font-size="4.34" dy="-3.15">3</tspan></text>
<text x="335" y="591.5" font-size="7" text-anchor="middle" fill="#222">10<tspan font-size="4.34" dy="-3.15">4</tspan></text>
<text x="347" y="591.5" font-size="7" text-anchor="middle" fill="#222">10<tspan font-size="4.34" dy="-3.15">0</tspan></text>
<text x="374.38" y="591.5" font-size="7" text-anchor="middle" fill="#222">10<tspan font-size="4.34" dy="-3.15">1</tspan></text>
<text x="401.75" y="591.5" font-size="7" text-anchor="middle" fill="#222">10<tspan font-size="4.34" dy="-3.15">2</tspan></text>
<text x="429.12" y="591.5" font-size="7" text-anchor="middle" fill="#222">10<tspan font-size="4.34" dy="-3.15">3</tspan></text>
<text x="456.5" y="591.5" font-size="7" text-anchor="middle" fill="#222">10<tspan font-size="4.34" dy="-3.15">4</tspan></text>
<text x="467.4" y="435.1" font-size="12.6" textLength="45.6" lengthAdjust="spacingAndGlyphs" stroke="#000" stroke-width="0.4">BMPRIA</text>
<text x="467.4" y="478" font-size="12.6" textLength="32.6" lengthAdjust="spacingAndGlyphs" stroke="#000" stroke-width="0.4">CD94</text>
<text x="467.4" y="524" font-size="12.6" textLength="39.4" lengthAdjust="spacingAndGlyphs" stroke="#000" stroke-width="0.4">CD117</text>
<text x="467.4" y="565.6" font-size="12.6" textLength="41.2" lengthAdjust="spacingAndGlyphs" stroke="#000" stroke-width="0.4">NKp46</text>
<text x="41.9" y="624.8" font-size="18.5" font-weight="bold">B</text>
<rect x="74.6" y="641" width="82.5" height="108" fill="none" stroke="#7a7a7a" stroke-width="1.2"/>
<path d="M72.4 748.5H74.6M72.4 731.98H74.6M72.4 715.46H74.6M72.4 698.94H74.6M72.4 682.42H74.6M72.4 665.9H74.6M72.4 649.38H74.6M81.3 749V751.2M94.8 749V751.2M109.1 749V751.2M122.8 749V751.2M136.9 749V751.2M150.2 749V751.2" stroke="#222" stroke-width="0.8"/>
<text x="70.2" y="751.85" font-size="9.3" text-anchor="end" fill="#111" stroke="#111" stroke-width="0.3">0</text>
<text x="70.2" y="735.33" font-size="9.3" text-anchor="end" fill="#111" stroke="#111" stroke-width="0.3">2</text>
<text x="70.2" y="718.81" font-size="9.3" text-anchor="end" fill="#111" stroke="#111" stroke-width="0.3">4</text>
<text x="70.2" y="702.29" font-size="9.3" text-anchor="end" fill="#111" stroke="#111" stroke-width="0.3">6</text>
<text x="70.2" y="685.77" font-size="9.3" text-anchor="end" fill="#111" stroke="#111" stroke-width="0.3">8</text>
<text x="70.2" y="669.25" font-size="9.3" text-anchor="end" fill="#111" stroke="#111" stroke-width="0.3">10</text>
<text x="70.2" y="652.73" font-size="9.3" text-anchor="end" fill="#111" stroke="#111" stroke-width="0.3">12</text>
<text x="81.3" y="762.35" font-size="9.3" text-anchor="middle" fill="#111" stroke="#111" stroke-width="0.3">0</text>
<text x="94.8" y="762.35" font-size="9.3" text-anchor="middle" fill="#111" stroke="#111" stroke-width="0.3">0.5</text>
<text x="109.1" y="762.35" font-size="9.3" text-anchor="middle" fill="#111" stroke="#111" stroke-width="0.3">3</text>
<text x="122.8" y="762.35" font-size="9.3" text-anchor="middle" fill="#111" stroke="#111" stroke-width="0.3">5</text>
<text x="136.9" y="762.35" font-size="9.3" text-anchor="middle" fill="#111" stroke="#111" stroke-width="0.3">7</text>
<text x="150.2" y="762.35" font-size="9.3" text-anchor="middle" fill="#111" stroke="#111" stroke-width="0.3">9</text>
<path d="M81.3 740.4L94.8 735.5L109.1 731.8L122.8 718L136.9 657.7L150.2 650.7" fill="none" stroke="#222" stroke-width="0.9"/>
<path d="M79.5 738.6h3.6v3.6h-3.6zM93 733.7h3.6v3.6h-3.6zM107.3 730h3.6v3.6h-3.6zM121 716.2h3.6v3.6h-3.6zM135.1 655.9h3.6v3.6h-3.6zM148.4 648.9h3.6v3.6h-3.6z" fill="#000"/>
<text x="77.9" y="653" font-size="10.7" font-weight="bold" textLength="47.7" lengthAdjust="spacingAndGlyphs">BMPR 1A</text>
<rect x="182.3" y="641" width="82.1" height="108" fill="none" stroke="#7a7a7a" stroke-width="1.2"/>
<path d="M180.1 749H182.3M180.1 731.05H182.3M180.1 713.1H182.3M180.1 695.15H182.3M180.1 677.2H182.3M180.1 659.25H182.3M180.1 641.3H182.3M189 749V751.2M202.5 749V751.2M216.8 749V751.2M230.5 749V751.2M244.6 749V751.2M257.9 749V751.2" stroke="#222" stroke-width="0.8"/>
<text x="177.9" y="752.35" font-size="9.3" text-anchor="end" fill="#111" stroke="#111" stroke-width="0.3">0</text>
<text x="177.9" y="734.4" font-size="9.3" text-anchor="end" fill="#111" stroke="#111" stroke-width="0.3">50</text>
<text x="177.9" y="716.45" font-size="9.3" text-anchor="end" fill="#111" stroke="#111" stroke-width="0.3">100</text>
<text x="177.9" y="698.5" font-size="9.3" text-anchor="end" fill="#111" stroke="#111" stroke-width="0.3">150</text>
<text x="177.9" y="680.55" font-size="9.3" text-anchor="end" fill="#111" stroke="#111" stroke-width="0.3">200</text>
<text x="177.9" y="662.6" font-size="9.3" text-anchor="end" fill="#111" stroke="#111" stroke-width="0.3">250</text>
<text x="177.9" y="644.65" font-size="9.3" text-anchor="end" fill="#111" stroke="#111" stroke-width="0.3">300</text>
<text x="189" y="762.35" font-size="9.3" text-anchor="middle" fill="#111" stroke="#111" stroke-width="0.3">0</text>
<text x="202.5" y="762.35" font-size="9.3" text-anchor="middle" fill="#111" stroke="#111" stroke-width="0.3">0.5</text>
<text x="216.8" y="762.35" font-size="9.3" text-anchor="middle" fill="#111" stroke="#111" stroke-width="0.3">3</text>
<text x="230.5" y="762.35" font-size="9.3" text-anchor="middle" fill="#111" stroke="#111" stroke-width="0.3">5</text>
<text x="244.6" y="762.35" font-size="9.3" text-anchor="middle" fill="#111" stroke="#111" stroke-width="0.3">7</text>
<text x="257.9" y="762.35" font-size="9.3" text-anchor="middle" fill="#111" stroke="#111" stroke-width="0.3">9</text>
<path d="M189 742.5L202.5 722.4L216.8 699.2L230.5 697.6L244.6 698.1L257.9 651.5" fill="none" stroke="#222" stroke-width="0.9"/>
<path d="M187.2 740.7h3.6v3.6h-3.6zM200.7 720.6h3.6v3.6h-3.6zM215 697.4h3.6v3.6h-3.6zM228.7 695.8h3.6v3.6h-3.6zM242.8 696.3h3.6v3.6h-3.6zM256.1 649.7h3.6v3.6h-3.6z" fill="#000"/>
<text x="185.8" y="653" font-size="10.7" font-weight="bold" textLength="34.2" lengthAdjust="spacingAndGlyphs">NFIL-3</text>
<rect x="291.9" y="641" width="82.4" height="108" fill="none" stroke="#7a7a7a" stroke-width="1.2"/>
<path d="M289.7 748.5H291.9M289.7 721.7H291.9M289.7 694.9H291.9M289.7 668.1H291.9M289.7 641.3H291.9M290.3 735.1H291.9M290.3 708.3H291.9M290.3 681.5H291.9M290.3 654.7H291.9M298.6 749V751.2M312.1 749V751.2M326.4 749V751.2M340.1 749V751.2M354.2 749V751.2M367.5 749V751.2" stroke="#222" stroke-width="0.8"/>
<text x="287.5" y="751.85" font-size="9.3" text-anchor="end" fill="#111" stroke="#111" stroke-width="0.3">0</text>
<text x="287.5" y="725.05" font-size="9.3" text-anchor="end" fill="#111" stroke="#111" stroke-width="0.3">400</text>
<text x="287.5" y="698.25" font-size="9.3" text-anchor="end" fill="#111" stroke="#111" stroke-width="0.3">800</text>
<text x="287.5" y="671.45" font-size="9.3" text-anchor="end" fill="#111" stroke="#111" stroke-width="0.3">1200</text>
<text x="287.5" y="644.65" font-size="9.3" text-anchor="end" fill="#111" stroke="#111" stroke-width="0.3">1600</text>
<text x="298.6" y="762.35" font-size="9.3" text-anchor="middle" fill="#111" stroke="#111" stroke-width="0.3">0</text>
<text x="312.1" y="762.35" font-size="9.3" text-anchor="middle" fill="#111" stroke="#111" stroke-width="0.3">0.5</text>
<text x="326.4" y="762.35" font-size="9.3" text-anchor="middle" fill="#111" stroke="#111" stroke-width="0.3">3</text>
<text x="340.1" y="762.35" font-size="9.3" text-anchor="middle" fill="#111" stroke="#111" stroke-width="0.3">5</text>
<text x="354.2" y="762.35" font-size="9.3" text-anchor="middle" fill="#111" stroke="#111" stroke-width="0.3">7</text>
<text x="367.5" y="762.35" font-size="9.3" text-anchor="middle" fill="#111" stroke="#111" stroke-width="0.3">9</text>
<path d="M298.6 746.6L312.1 745L326.4 733.1L340.1 716.2L354.2 664.2L367.5 655" fill="none" stroke="#222" stroke-width="0.9"/>
<path d="M296.8 744.8h3.6v3.6h-3.6zM310.3 743.2h3.6v3.6h-3.6zM324.6 731.3h3.6v3.6h-3.6zM338.3 714.4h3.6v3.6h-3.6zM352.4 662.4h3.6v3.6h-3.6zM365.7 653.2h3.6v3.6h-3.6z" fill="#000"/>
<text x="295.4" y="653" font-size="10.7" font-weight="bold" textLength="17.5" lengthAdjust="spacingAndGlyphs">ID2</text>
<rect x="399.4" y="641" width="82.3" height="108" fill="none" stroke="#7a7a7a" stroke-width="1.2"/>
<path d="M397.2 741.2H399.4M397.2 725.8H399.4M397.2 710.4H399.4M397.2 695H399.4M397.2 679.6H399.4M397.2 664.2H399.4M397.2 648.8H399.4M406.1 749V751.2M419.6 749V751.2M433.9 749V751.2M447.6 749V751.2M461.7 749V751.2M475 749V751.2" stroke="#222" stroke-width="0.8"/>
<text x="395" y="744.55" font-size="9.3" text-anchor="end" fill="#111" stroke="#111" stroke-width="0.3">5</text>
<text x="395" y="729.15" font-size="9.3" text-anchor="end" fill="#111" stroke="#111" stroke-width="0.3">10</text>
<text x="395" y="713.75" font-size="9.3" text-anchor="end" fill="#111" stroke="#111" stroke-width="0.3">15</text>
<text x="395" y="698.35" font-size="9.3" text-anchor="end" fill="#111" stroke="#111" stroke-width="0.3">20</text>
<text x="395" y="682.95" font-size="9.3" text-anchor="end" fill="#111" stroke="#111" stroke-width="0.3">25</text>
<text x="395" y="667.55" font-size="9.3" text-anchor="end" fill="#111" stroke="#111" stroke-width="0.3">30</text>
<text x="395" y="652.15" font-size="9.3" text-anchor="end" fill="#111" stroke="#111" stroke-width="0.3">35</text>
<text x="406.1" y="762.35" font-size="9.3" text-anchor="middle" fill="#111" stroke="#111" stroke-width="0.3">0</text>
<text x="419.6" y="762.35" font-size="9.3" text-anchor="middle" fill="#111" stroke="#111" stroke-width="0.3">0.5</text>
<text x="433.9" y="762.35" font-size="9.3" text-anchor="middle" fill="#111" stroke="#111" stroke-width="0.3">3</text>
<text x="447.6" y="762.35" font-size="9.3" text-anchor="middle" fill="#111" stroke="#111" stroke-width="0.3">5</text>
<text x="461.7" y="762.35" font-size="9.3" text-anchor="middle" fill="#111" stroke="#111" stroke-width="0.3">7</text>
<text x="475" y="762.35" font-size="9.3" text-anchor="middle" fill="#111" stroke="#111" stroke-width="0.3">9</text>
<path d="M406.1 738.5L419.6 664.2L433.9 653.7L447.6 680.1L461.7 669L475 682" fill="none" stroke="#222" stroke-width="0.9"/>
<path d="M404.3 736.7h3.6v3.6h-3.6zM417.8 662.4h3.6v3.6h-3.6zM432.1 651.9h3.6v3.6h-3.6zM445.8 678.3h3.6v3.6h-3.6zM459.9 667.2h3.6v3.6h-3.6zM473.2 680.2h3.6v3.6h-3.6z" fill="#000"/>
<text x="403" y="653" font-size="10.7" font-weight="bold" textLength="18" lengthAdjust="spacingAndGlyphs">ID3</text>
<rect x="74.6" y="770.8" width="82.5" height="107.5" fill="none" stroke="#7a7a7a" stroke-width="1.2"/>
<path d="M72.4 878.5H74.6M72.4 861.88H74.6M72.4 845.26H74.6M72.4 828.64H74.6M72.4 812.02H74.6M72.4 795.4H74.6M72.4 778.78H74.6M81.3 878.3V880.5M94.8 878.3V880.5M109.1 878.3V880.5M122.8 878.3V880.5M136.9 878.3V880.5M150.2 878.3V880.5" stroke="#222" stroke-width="0.8"/>
<text x="70.2" y="881.85" font-size="9.3" text-anchor="end" fill="#111" stroke="#111" stroke-width="0.3">0</text>
<text x="70.2" y="865.23" font-size="9.3" text-anchor="end" fill="#111" stroke="#111" stroke-width="0.3">100</text>
<text x="70.2" y="848.61" font-size="9.3" text-anchor="end" fill="#111" stroke="#111" stroke-width="0.3">200</text>
<text x="70.2" y="831.99" font-size="9.3" text-anchor="end" fill="#111" stroke="#111" stroke-width="0.3">300</text>
<text x="70.2" y="815.37" font-size="9.3" text-anchor="end" fill="#111" stroke="#111" stroke-width="0.3">400</text>
<text x="70.2" y="798.75" font-size="9.3" text-anchor="end" fill="#111" stroke="#111" stroke-width="0.3">500</text>
<text x="70.2" y="782.13" font-size="9.3" text-anchor="end" fill="#111" stroke="#111" stroke-width="0.3">600</text>
<text x="81.3" y="891.65" font-size="9.3" text-anchor="middle" fill="#111" stroke="#111" stroke-width="0.3">0</text>
<text x="94.8" y="891.65" font-size="9.3" text-anchor="middle" fill="#111" stroke="#111" stroke-width="0.3">0.5</text>
<text x="109.1" y="891.65" font-size="9.3" text-anchor="middle" fill="#111" stroke="#111" stroke-width="0.3">3</text>
<text x="122.8" y="891.65" font-size="9.3" text-anchor="middle" fill="#111" stroke="#111" stroke-width="0.3">5</text>
<text x="136.9" y="891.65" font-size="9.3" text-anchor="middle" fill="#111" stroke="#111" stroke-width="0.3">7</text>
<text x="150.2" y="891.65" font-size="9.3" text-anchor="middle" fill="#111" stroke="#111" stroke-width="0.3">9</text>
<path d="M81.3 873.6L94.8 862.9L109.1 818.7L122.8 826.5L136.9 788.3L150.2 785.6" fill="none" stroke="#222" stroke-width="0.9"/>
<path d="M79.5 871.8h3.6v3.6h-3.6zM93 861.1h3.6v3.6h-3.6zM107.3 816.9h3.6v3.6h-3.6zM121 824.7h3.6v3.6h-3.6zM135.1 786.5h3.6v3.6h-3.6zM148.4 783.8h3.6v3.6h-3.6z" fill="#000"/>
<text x="77.9" y="782.8" font-size="10.7" font-weight="bold" textLength="36.9" lengthAdjust="spacingAndGlyphs">RUNX3</text>
<rect x="182.3" y="770.8" width="82.1" height="107.5" fill="none" stroke="#7a7a7a" stroke-width="1.2"/>
<path d="M180.1 878.5H182.3M180.1 861.88H182.3M180.1 845.26H182.3M180.1 828.64H182.3M180.1 812.02H182.3M180.1 795.4H182.3M180.1 778.78H182.3M189 878.3V880.5M202.5 878.3V880.5M216.8 878.3V880.5M230.5 878.3V880.5M244.6 878.3V880.5M257.9 878.3V880.5" stroke="#222" stroke-width="0.8"/>
<text x="177.9" y="881.85" font-size="9.3" text-anchor="end" fill="#111" stroke="#111" stroke-width="0.3">0</text>
<text x="177.9" y="865.23" font-size="9.3" text-anchor="end" fill="#111" stroke="#111" stroke-width="0.3">20</text>
<text x="177.9" y="848.61" font-size="9.3" text-anchor="end" fill="#111" stroke="#111" stroke-width="0.3">40</text>
<text x="177.9" y="831.99" font-size="9.3" text-anchor="end" fill="#111" stroke="#111" stroke-width="0.3">60</text>
<text x="177.9" y="815.37" font-size="9.3" text-anchor="end" fill="#111" stroke="#111" stroke-width="0.3">80</text>
<text x="177.9" y="798.75" font-size="9.3" text-anchor="end" fill="#111" stroke="#111" stroke-width="0.3">100</text>
<text x="177.9" y="782.13" font-size="9.3" text-anchor="end" fill="#111" stroke="#111" stroke-width="0.3">120</text>
<text x="189" y="891.65" font-size="9.3" text-anchor="middle" fill="#111" stroke="#111" stroke-width="0.3">0</text>
<text x="202.5" y="891.65" font-size="9.3" text-anchor="middle" fill="#111" stroke="#111" stroke-width="0.3">0.5</text>
<text x="216.8" y="891.65" font-size="9.3" text-anchor="middle" fill="#111" stroke="#111" stroke-width="0.3">3</text>
<text x="230.5" y="891.65" font-size="9.3" text-anchor="middle" fill="#111" stroke="#111" stroke-width="0.3">5</text>
<text x="244.6" y="891.65" font-size="9.3" text-anchor="middle" fill="#111" stroke="#111" stroke-width="0.3">7</text>
<text x="257.9" y="891.65" font-size="9.3" text-anchor="middle" fill="#111" stroke="#111" stroke-width="0.3">9</text>
<path d="M189 865L202.5 842.9L216.8 823.3L230.5 830.8L244.6 826.8L257.9 782.9" fill="none" stroke="#222" stroke-width="0.9"/>
<path d="M187.2 863.2h3.6v3.6h-3.6zM200.7 841.1h3.6v3.6h-3.6zM215 821.5h3.6v3.6h-3.6zM228.7 829h3.6v3.6h-3.6zM242.8 825h3.6v3.6h-3.6zM256.1 781.1h3.6v3.6h-3.6z" fill="#000"/>
<text x="185.8" y="782.8" font-size="10.7" font-weight="bold" textLength="36.4" lengthAdjust="spacingAndGlyphs">GATA3</text>
<rect x="291.9" y="770.8" width="82.4" height="107.5" fill="none" stroke="#7a7a7a" stroke-width="1.2"/>
<path d="M289.7 878.5H291.9M289.7 861.88H291.9M289.7 845.27H291.9M289.7 828.65H291.9M289.7 812.04H291.9M289.7 795.42H291.9M289.7 778.81H291.9M298.6 878.3V880.5M312.1 878.3V880.5M326.4 878.3V880.5M340.1 878.3V880.5M354.2 878.3V880.5M367.5 878.3V880.5" stroke="#222" stroke-width="0.8"/>
<text x="287.5" y="881.85" font-size="9.3" text-anchor="end" fill="#111" stroke="#111" stroke-width="0.3">0</text>
<text x="287.5" y="865.24" font-size="9.3" text-anchor="end" fill="#111" stroke="#111" stroke-width="0.3">50</text>
<text x="287.5" y="848.62" font-size="9.3" text-anchor="end" fill="#111" stroke="#111" stroke-width="0.3">100</text>
<text x="287.5" y="832" font-size="9.3" text-anchor="end" fill="#111" stroke="#111" stroke-width="0.3">150</text>
<text x="287.5" y="815.39" font-size="9.3" text-anchor="end" fill="#111" stroke="#111" stroke-width="0.3">200</text>
<text x="287.5" y="798.77" font-size="9.3" text-anchor="end" fill="#111" stroke="#111" stroke-width="0.3">250</text>
<text x="287.5" y="782.16" font-size="9.3" text-anchor="end" fill="#111" stroke="#111" stroke-width="0.3">300</text>
<text x="298.6" y="891.65" font-size="9.3" text-anchor="middle" fill="#111" stroke="#111" stroke-width="0.3">0</text>
<text x="312.1" y="891.65" font-size="9.3" text-anchor="middle" fill="#111" stroke="#111" stroke-width="0.3">0.5</text>
<text x="326.4" y="891.65" font-size="9.3" text-anchor="middle" fill="#111" stroke="#111" stroke-width="0.3">3</text>
<text x="340.1" y="891.65" font-size="9.3" text-anchor="middle" fill="#111" stroke="#111" stroke-width="0.3">5</text>
<text x="354.2" y="891.65" font-size="9.3" text-anchor="middle" fill="#111" stroke="#111" stroke-width="0.3">7</text>
<text x="367.5" y="891.65" font-size="9.3" text-anchor="middle" fill="#111" stroke="#111" stroke-width="0.3">9</text>
<path d="M298.6 877.1L312.1 875.2L326.4 841.6L340.1 826.2L354.2 805.2L367.5 782.1" fill="none" stroke="#222" stroke-width="0.9"/>
<path d="M296.8 875.3h3.6v3.6h-3.6zM310.3 873.4h3.6v3.6h-3.6zM324.6 839.8h3.6v3.6h-3.6zM338.3 824.4h3.6v3.6h-3.6zM352.4 803.4h3.6v3.6h-3.6zM365.7 780.3h3.6v3.6h-3.6z" fill="#000"/>
<text x="295.4" y="782.8" font-size="10.7" font-weight="bold" textLength="25.6" lengthAdjust="spacingAndGlyphs">TBET</text>
<rect x="399.4" y="770.8" width="82.3" height="107.5" fill="none" stroke="#7a7a7a" stroke-width="1.2"/>
<path d="M397.2 878.5H399.4M397.2 851.7H399.4M397.2 824.9H399.4M397.2 798.1H399.4M397.2 771.3H399.4M406.1 878.3V880.5M419.6 878.3V880.5M433.9 878.3V880.5M447.6 878.3V880.5M461.7 878.3V880.5M475 878.3V880.5" stroke="#222" stroke-width="0.8"/>
<text x="395" y="881.85" font-size="9.3" text-anchor="end" fill="#111" stroke="#111" stroke-width="0.3">0</text>
<text x="395" y="855.05" font-size="9.3" text-anchor="end" fill="#111" stroke="#111" stroke-width="0.3">10</text>
<text x="395" y="828.25" font-size="9.3" text-anchor="end" fill="#111" stroke="#111" stroke-width="0.3">20</text>
<text x="395" y="801.45" font-size="9.3" text-anchor="end" fill="#111" stroke="#111" stroke-width="0.3">30</text>
<text x="395" y="774.65" font-size="9.3" text-anchor="end" fill="#111" stroke="#111" stroke-width="0.3">40</text>
<text x="406.1" y="891.65" font-size="9.3" text-anchor="middle" fill="#111" stroke="#111" stroke-width="0.3">0</text>
<text x="419.6" y="891.65" font-size="9.3" text-anchor="middle" fill="#111" stroke="#111" stroke-width="0.3">0.5</text>
<text x="433.9" y="891.65" font-size="9.3" text-anchor="middle" fill="#111" stroke="#111" stroke-width="0.3">3</text>
<text x="447.6" y="891.65" font-size="9.3" text-anchor="middle" fill="#111" stroke="#111" stroke-width="0.3">5</text>
<text x="461.7" y="891.65" font-size="9.3" text-anchor="middle" fill="#111" stroke="#111" stroke-width="0.3">7</text>
<text x="475" y="891.65" font-size="9.3" text-anchor="middle" fill="#111" stroke="#111" stroke-width="0.3">9</text>
<path d="M406.1 877.1L419.6 870.4L433.9 830.5L447.6 815.7L461.7 794.5L475 778.8" fill="none" stroke="#222" stroke-width="0.9"/>
<path d="M404.3 875.3h3.6v3.6h-3.6zM417.8 868.6h3.6v3.6h-3.6zM432.1 828.7h3.6v3.6h-3.6zM445.8 813.9h3.6v3.6h-3.6zM459.9 792.7h3.6v3.6h-3.6zM473.2 777h3.6v3.6h-3.6z" fill="#000"/>
<text x="404.5" y="782.8" font-size="10.7" font-weight="bold" textLength="30.1" lengthAdjust="spacingAndGlyphs">IL2R&#946;</text>
<rect x="74.6" y="900.2" width="82.5" height="108" fill="none" stroke="#7a7a7a" stroke-width="1.2"/>
<path d="M72.4 1007.7H74.6M72.4 991.08H74.6M72.4 974.46H74.6M72.4 957.84H74.6M72.4 941.22H74.6M72.4 924.6H74.6M72.4 907.98H74.6M81.3 1008.2V1010.4M94.8 1008.2V1010.4M109.1 1008.2V1010.4M122.8 1008.2V1010.4M136.9 1008.2V1010.4M150.2 1008.2V1010.4" stroke="#222" stroke-width="0.8"/>
<text x="70.2" y="1011.05" font-size="9.3" text-anchor="end" fill="#111" stroke="#111" stroke-width="0.3">0</text>
<text x="70.2" y="994.43" font-size="9.3" text-anchor="end" fill="#111" stroke="#111" stroke-width="0.3">200</text>
<text x="70.2" y="977.81" font-size="9.3" text-anchor="end" fill="#111" stroke="#111" stroke-width="0.3">400</text>
<text x="70.2" y="961.19" font-size="9.3" text-anchor="end" fill="#111" stroke="#111" stroke-width="0.3">600</text>
<text x="70.2" y="944.57" font-size="9.3" text-anchor="end" fill="#111" stroke="#111" stroke-width="0.3">800</text>
<text x="70.2" y="927.95" font-size="9.3" text-anchor="end" fill="#111" stroke="#111" stroke-width="0.3">1000</text>
<text x="70.2" y="911.33" font-size="9.3" text-anchor="end" fill="#111" stroke="#111" stroke-width="0.3">1200</text>
<text x="81.3" y="1020.7" font-size="9.3" text-anchor="middle" fill="#111" stroke="#111" stroke-width="0.3">0</text>
<text x="94.8" y="1020.7" font-size="9.3" text-anchor="middle" fill="#111" stroke="#111" stroke-width="0.3">0.5</text>
<text x="109.1" y="1020.7" font-size="9.3" text-anchor="middle" fill="#111" stroke="#111" stroke-width="0.3">3</text>
<text x="122.8" y="1020.7" font-size="9.3" text-anchor="middle" fill="#111" stroke="#111" stroke-width="0.3">5</text>
<text x="136.9" y="1020.7" font-size="9.3" text-anchor="middle" fill="#111" stroke="#111" stroke-width="0.3">7</text>
<text x="150.2" y="1020.7" font-size="9.3" text-anchor="middle" fill="#111" stroke="#111" stroke-width="0.3">9</text>
<path d="M81.3 1002.5L94.8 984.8L109.1 933.9L122.8 922.3L136.9 913.7L150.2 934.4" fill="none" stroke="#222" stroke-width="0.9"/>
<path d="M79.5 1000.7h3.6v3.6h-3.6zM93 983h3.6v3.6h-3.6zM107.3 932.1h3.6v3.6h-3.6zM121 920.5h3.6v3.6h-3.6zM135.1 911.9h3.6v3.6h-3.6zM148.4 932.6h3.6v3.6h-3.6z" fill="#000"/>
<text x="78.5" y="912.2" font-size="10.7" font-weight="bold" textLength="51.1" lengthAdjust="spacingAndGlyphs">Galectin 1</text>
<rect x="182.3" y="900.2" width="82.1" height="108" fill="none" stroke="#7a7a7a" stroke-width="1.2"/>
<path d="M180.1 1007.7H182.3M180.1 986.3H182.3M180.1 964.9H182.3M180.1 943.5H182.3M180.1 922.1H182.3M180.1 900.7H182.3M189 1008.2V1010.4M202.5 1008.2V1010.4M216.8 1008.2V1010.4M230.5 1008.2V1010.4M244.6 1008.2V1010.4M257.9 1008.2V1010.4" stroke="#222" stroke-width="0.8"/>
<text x="177.9" y="1011.05" font-size="9.3" text-anchor="end" fill="#111" stroke="#111" stroke-width="0.3">0</text>
<text x="177.9" y="989.65" font-size="9.3" text-anchor="end" fill="#111" stroke="#111" stroke-width="0.3">5</text>
<text x="177.9" y="968.25" font-size="9.3" text-anchor="end" fill="#111" stroke="#111" stroke-width="0.3">10</text>
<text x="177.9" y="946.85" font-size="9.3" text-anchor="end" fill="#111" stroke="#111" stroke-width="0.3">15</text>
<text x="177.9" y="925.45" font-size="9.3" text-anchor="end" fill="#111" stroke="#111" stroke-width="0.3">20</text>
<text x="177.9" y="904.05" font-size="9.3" text-anchor="end" fill="#111" stroke="#111" stroke-width="0.3">25</text>
<text x="189" y="1020.7" font-size="9.3" text-anchor="middle" fill="#111" stroke="#111" stroke-width="0.3">0</text>
<text x="202.5" y="1020.7" font-size="9.3" text-anchor="middle" fill="#111" stroke="#111" stroke-width="0.3">0.5</text>
<text x="216.8" y="1020.7" font-size="9.3" text-anchor="middle" fill="#111" stroke="#111" stroke-width="0.3">3</text>
<text x="230.5" y="1020.7" font-size="9.3" text-anchor="middle" fill="#111" stroke="#111" stroke-width="0.3">5</text>
<text x="244.6" y="1020.7" font-size="9.3" text-anchor="middle" fill="#111" stroke="#111" stroke-width="0.3">7</text>
<text x="257.9" y="1020.7" font-size="9.3" text-anchor="middle" fill="#111" stroke="#111" stroke-width="0.3">9</text>
<path d="M189 915.6L202.5 964.9L216.8 980.7L230.5 992.9L244.6 1005.8L257.9 1006.6" fill="none" stroke="#222" stroke-width="0.9"/>
<path d="M187.2 913.8h3.6v3.6h-3.6zM200.7 963.1h3.6v3.6h-3.6zM215 978.9h3.6v3.6h-3.6zM228.7 991.1h3.6v3.6h-3.6zM242.8 1004h3.6v3.6h-3.6zM256.1 1004.8h3.6v3.6h-3.6z" fill="#000"/>
<text x="193.1" y="912.2" font-size="10.7" font-weight="bold" textLength="25.6" lengthAdjust="spacingAndGlyphs">HES1</text>
<rect x="291.9" y="900.2" width="82.4" height="108" fill="none" stroke="#7a7a7a" stroke-width="1.2"/>
<path d="M289.7 1007.7H291.9M289.7 984H291.9M289.7 960.3H291.9M289.7 936.6H291.9M289.7 912.9H291.9M298.6 1008.2V1010.4M312.1 1008.2V1010.4M326.4 1008.2V1010.4M340.1 1008.2V1010.4M354.2 1008.2V1010.4M367.5 1008.2V1010.4" stroke="#222" stroke-width="0.8"/>
<text x="287.5" y="1011.05" font-size="9.3" text-anchor="end" fill="#111" stroke="#111" stroke-width="0.3">0</text>
<text x="287.5" y="987.35" font-size="9.3" text-anchor="end" fill="#111" stroke="#111" stroke-width="0.3">100</text>
<text x="287.5" y="963.65" font-size="9.3" text-anchor="end" fill="#111" stroke="#111" stroke-width="0.3">200</text>
<text x="287.5" y="939.95" font-size="9.3" text-anchor="end" fill="#111" stroke="#111" stroke-width="0.3">300</text>
<text x="287.5" y="916.25" font-size="9.3" text-anchor="end" fill="#111" stroke="#111" stroke-width="0.3">400</text>
<text x="298.6" y="1020.7" font-size="9.3" text-anchor="middle" fill="#111" stroke="#111" stroke-width="0.3">0</text>
<text x="312.1" y="1020.7" font-size="9.3" text-anchor="middle" fill="#111" stroke="#111" stroke-width="0.3">0.5</text>
<text x="326.4" y="1020.7" font-size="9.3" text-anchor="middle" fill="#111" stroke="#111" stroke-width="0.3">3</text>
<text x="340.1" y="1020.7" font-size="9.3" text-anchor="middle" fill="#111" stroke="#111" stroke-width="0.3">5</text>
<text x="354.2" y="1020.7" font-size="9.3" text-anchor="middle" fill="#111" stroke="#111" stroke-width="0.3">7</text>
<text x="367.5" y="1020.7" font-size="9.3" text-anchor="middle" fill="#111" stroke="#111" stroke-width="0.3">9</text>
<path d="M298.6 974.3L312.1 916.9L326.4 955.2L340.1 990.2L354.2 999L367.5 996.9" fill="none" stroke="#222" stroke-width="0.9"/>
<path d="M296.8 972.5h3.6v3.6h-3.6zM310.3 915.1h3.6v3.6h-3.6zM324.6 953.4h3.6v3.6h-3.6zM338.3 988.4h3.6v3.6h-3.6zM352.4 997.2h3.6v3.6h-3.6zM365.7 995.1h3.6v3.6h-3.6z" fill="#000"/>
<text x="321.8" y="912.2" font-size="10.7" font-weight="bold" textLength="36.3" lengthAdjust="spacingAndGlyphs">RUNX1</text>
<rect x="399.4" y="900.2" width="82.3" height="108" fill="none" stroke="#7a7a7a" stroke-width="1.2"/>
<path d="M397.2 1007.7H399.4M397.2 980.95H399.4M397.2 954.2H399.4M397.2 927.45H399.4M397.2 900.7H399.4M406.1 1008.2V1010.4M419.6 1008.2V1010.4M433.9 1008.2V1010.4M447.6 1008.2V1010.4M461.7 1008.2V1010.4M475 1008.2V1010.4" stroke="#222" stroke-width="0.8"/>
<text x="395" y="1011.05" font-size="9.3" text-anchor="end" fill="#111" stroke="#111" stroke-width="0.3">0</text>
<text x="395" y="984.3" font-size="9.3" text-anchor="end" fill="#111" stroke="#111" stroke-width="0.3">50</text>
<text x="395" y="957.55" font-size="9.3" text-anchor="end" fill="#111" stroke="#111" stroke-width="0.3">100</text>
<text x="395" y="930.8" font-size="9.3" text-anchor="end" fill="#111" stroke="#111" stroke-width="0.3">150</text>
<text x="395" y="904.05" font-size="9.3" text-anchor="end" fill="#111" stroke="#111" stroke-width="0.3">200</text>
<text x="406.1" y="1020.7" font-size="9.3" text-anchor="middle" fill="#111" stroke="#111" stroke-width="0.3">0</text>
<text x="419.6" y="1020.7" font-size="9.3" text-anchor="middle" fill="#111" stroke="#111" stroke-width="0.3">0.5</text>
<text x="433.9" y="1020.7" font-size="9.3" text-anchor="middle" fill="#111" stroke="#111" stroke-width="0.3">3</text>
<text x="447.6" y="1020.7" font-size="9.3" text-anchor="middle" fill="#111" stroke="#111" stroke-width="0.3">5</text>
<text x="461.7" y="1020.7" font-size="9.3" text-anchor="middle" fill="#111" stroke="#111" stroke-width="0.3">7</text>
<text x="475" y="1020.7" font-size="9.3" text-anchor="middle" fill="#111" stroke="#111" stroke-width="0.3">9</text>
<path d="M406.1 977L419.6 909.7L433.9 941.2L447.6 996.9L461.7 992.3L475 985.6" fill="none" stroke="#222" stroke-width="0.9"/>
<path d="M404.3 975.2h3.6v3.6h-3.6zM417.8 907.9h3.6v3.6h-3.6zM432.1 939.4h3.6v3.6h-3.6zM445.8 995.1h3.6v3.6h-3.6zM459.9 990.5h3.6v3.6h-3.6zM473.2 983.8h3.6v3.6h-3.6z" fill="#000"/>
<text x="434.1" y="912.2" font-size="10.7" font-weight="bold" textLength="40.9" lengthAdjust="spacingAndGlyphs">BCL11B</text>
<path d="M42.1 640L42.1 780.5" stroke="#000" stroke-width="1.1"/>
<path d="M42.1 872L42.1 1008.5" stroke="#000" stroke-width="1.1"/>
<text transform="translate(45 826) rotate(-90)" font-size="11.5" text-anchor="middle" textLength="74.4" lengthAdjust="spacingAndGlyphs" stroke="#000" stroke-width="0.3">Arbitrary units</text>
<path d="M76 1035.5L252.5 1035.5" stroke="#000" stroke-width="1.1"/>
<path d="M307.5 1035.5L487.1 1035.5" stroke="#000" stroke-width="1.1"/>
<text x="269" y="1039.4" font-size="10.6" font-weight="bold" textLength="25" lengthAdjust="spacingAndGlyphs">Days</text>
</svg></body></html>
